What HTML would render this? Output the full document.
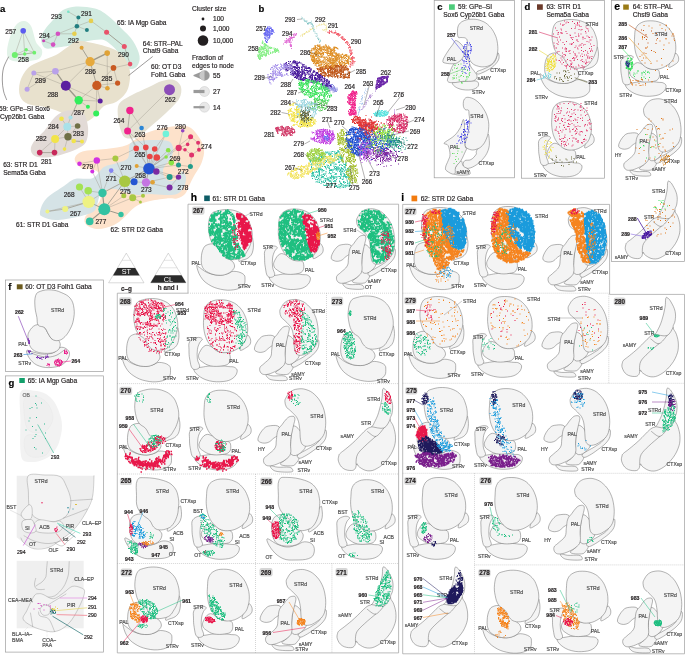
<!DOCTYPE html>
<html><head><meta charset="utf-8"><style>
html,body{margin:0;padding:0;background:#fff;}
svg{display:block;}
svg{will-change:transform;}
text{paint-order:stroke;stroke-width:0.18px;stroke-linejoin:round;}
text{font-family:"Liberation Sans",sans-serif;}
</style></head><body>
<svg width="685" height="656" viewBox="0 0 685 656" font-family="Liberation Sans, sans-serif">
<rect width="685" height="656" fill="#fff"/>
<text x="0" y="11.5" font-size="9.5" fill="#000" stroke="#000" font-weight="bold">a</text>
<path d="M16 25C18.3 22.3 21.5 20.8 24 21C26.5 21.2 29 22.5 31 26C33 29.5 34.2 38 36 42C37.8 46 41.3 47.3 42 50C42.7 52.7 42 56.2 40 58C38 59.8 33.8 60.4 30 61C26.2 61.6 20.5 61.8 17 61.5C13.5 61.2 10.7 60.8 9 59C7.3 57.2 6.8 54.7 7 51C7.2 47.3 8.5 41.3 10 37C11.5 32.7 13.7 27.7 16 25Z" fill="#e1f2e7"/>
<path d="M41 38C41.2 34.7 43.7 31.3 46 28C48.3 24.7 52.2 21 55 18C57.8 15 59.5 11.9 63 10C66.5 8.1 70.7 6.8 76 6.5C81.3 6.2 89.8 7.1 95 8.5C100.2 9.9 102.7 11.8 107 15C111.3 18.2 116.7 23.7 121 28C125.3 32.3 129.9 36.3 133 41C136.1 45.7 138.8 51.9 139.5 56C140.2 60.1 138.8 63.3 137.5 65.5C136.2 67.7 133.9 68.8 132 69C130.1 69.2 127.8 68.7 126 67C124.2 65.3 122.5 61.7 121 59C119.5 56.3 118.8 53.5 117 51C115.2 48.5 112.5 45.9 110 44C107.5 42.1 105.7 40 102 39.5C98.3 39 92.3 40.2 88 41C83.7 41.8 81.2 43.4 76 44.5C70.8 45.6 62.2 46.9 57 47.5C51.8 48.1 47.7 49.6 45 48C42.3 46.4 40.8 41.3 41 38Z" fill="#d2ebe1"/>
<path d="M77 41C80.8 40.2 85.2 41.6 90 42.5C94.8 43.4 101.3 45 106 46.5C110.7 48 114.7 49.2 118 51.5C121.3 53.8 124 56.6 126 60C128 63.4 129.5 67.8 130 72C130.5 76.2 129.8 81.3 129 85C128.2 88.7 127.2 91.2 125 94C122.8 96.8 119.5 100 116 102C112.5 104 107.5 103.7 104 106C100.5 108.3 98.2 113.3 95 116C91.8 118.7 88.8 121.5 85 122C81.2 122.5 76.2 120.7 72 119C67.8 117.3 64.5 114 60 112C55.5 110 50.3 108.3 45 107C39.7 105.7 32.2 105.8 28 104C23.8 102.2 21.3 99.7 20 96C18.7 92.3 18.7 86.7 20 82C21.3 77.3 24.5 71.5 28 68C31.5 64.5 36.3 63.2 41 61C45.7 58.8 51.7 57.2 56 55C60.3 52.8 63.5 49.8 67 47.5C70.5 45.2 73.2 41.8 77 41Z" fill="#e8e1cd"/>
<path d="M119 104C121 100.5 125 98.8 130 96C135 93.2 143.7 89.5 149 87C154.3 84.5 157.8 82.2 162 81C166.2 79.8 170.8 79 174 80C177.2 81 180.2 83.8 181 87C181.8 90.2 181.5 94.7 179 99C176.5 103.3 170.8 108.3 166 113C161.2 117.7 154.7 123 150 127C145.3 131 142 135.2 138 137C134 138.8 128.8 139 126 138C123.2 137 122.3 134.5 121 131C119.7 127.5 118.3 121.5 118 117C117.7 112.5 117 107.5 119 104Z" fill="#e5e1d3"/>
<path d="M64 111.5C66.7 110.4 67.8 110.3 71 110.5C74.2 110.7 80.2 109.8 83 112.5C85.8 115.2 87.5 122.1 88 127C88.5 131.9 87.8 138.3 86 142C84.2 145.7 81 146.9 77 149C73 151.1 66.7 153.1 62 154.5C57.3 155.9 53.3 157 49 157.3C44.7 157.7 39 157.7 36 156.6C33 155.5 31.5 153.3 31 151C30.5 148.7 30.7 146.5 33 143C35.3 139.5 41.3 134.3 45 130C48.7 125.7 51.8 120.1 55 117C58.2 113.9 61.3 112.6 64 111.5Z" fill="#e2dad6"/>
<path d="M74.7 159.4C74.7 156.6 77.3 153.2 82.5 151.5C87.7 149.8 98.6 150.1 106 149C113.4 147.9 121.3 147.2 127 145C132.7 142.8 135.6 138.4 140 136C144.4 133.6 148.2 132.1 153.5 130.5C158.8 128.9 166.2 127.2 172 126.6C177.8 125.9 183.7 125.1 188 126.6C192.3 128.1 195.3 132.1 198 135.8C200.7 139.5 203.4 144.5 204 149C204.6 153.5 203.2 158.5 201.5 163C199.8 167.5 196.1 172.2 194 176C191.9 179.8 190.5 183 189 186C187.5 189 187 191.9 185 194C183 196.1 180.1 197.8 177 198.5C173.9 199.2 171.4 198 166.6 198.5C161.8 199 153.3 200.1 148 201.5C142.7 202.9 138.9 204.4 135 207C131.1 209.6 128.1 214 124.6 217C121.1 220 118.4 223 114 225C109.6 227 102.9 229 98.3 229C93.7 229 88.7 227 86.5 225C84.3 223 83.7 220.1 85.2 217C86.7 213.9 93.1 210.2 95.7 206.7C98.3 203.2 100.5 201.7 100.9 196C101.3 190.3 101.4 177.1 98.3 172.5C95.2 167.9 86.4 170.8 82.5 168.6C78.6 166.4 74.7 162.2 74.7 159.4Z" fill="#fde2cb"/>
<path d="M40 212C40.5 209 42 203.3 46 199C50 194.7 59.2 189.3 64 186C68.8 182.7 70.2 180.3 75 179C79.8 177.7 88.2 180 93 178C97.8 176 100 169.5 104 167C108 164.5 113 164.5 117 163C121 161.5 125.8 161.2 128 158C130.2 154.8 128 146.8 130 144C132 141.2 136 141.7 140 141C144 140.3 149.3 140 154 140C158.7 140 164.8 139.8 168 141C171.2 142.2 172.3 144.5 173 147C173.7 149.5 173 153.3 172 156C171 158.7 168.5 160.7 167 163C165.5 165.3 163.3 167.5 163 170C162.7 172.5 163.5 176.2 165 178C166.5 179.8 169.7 181.2 172 181C174.3 180.8 177.3 178.7 179 177C180.7 175.3 180.8 171 182 171C183.2 171 185.7 174.3 186 177C186.3 179.7 185.5 184.2 184 187C182.5 189.8 180.2 192.7 177 194C173.8 195.3 169.5 195 165 195C160.5 195 154.5 194 150 194C145.5 194 141.7 195.2 138 195C134.3 194.8 131.2 193.8 128 193C124.8 192.2 122 190.7 119 190C116 189.3 113 188.5 110 189C107 189.5 103.2 190.3 101 193C98.8 195.7 98.3 201.8 97 205C95.7 208.2 96.3 210 93 212C89.7 214 83.2 215.7 77 217C70.8 218.3 61.7 220 56 220C50.3 220 45.7 218.3 43 217C40.3 215.7 39.5 215 40 212Z" fill="#d5e3e6"/>
<line x1="23.2" y1="30.7" x2="14.8" y2="55" stroke="#9c988b" stroke-width="0.42"/>
<line x1="23.2" y1="30.7" x2="24.7" y2="54" stroke="#9c988b" stroke-width="0.42"/>
<line x1="23.2" y1="30.7" x2="34.3" y2="52.7" stroke="#9c988b" stroke-width="0.42"/>
<line x1="14.8" y1="55" x2="26.2" y2="49.7" stroke="#9c988b" stroke-width="0.42"/>
<line x1="14.8" y1="55" x2="24.7" y2="54" stroke="#9c988b" stroke-width="0.42"/>
<line x1="14.8" y1="55" x2="34.3" y2="52.7" stroke="#9c988b" stroke-width="0.42"/>
<line x1="26.2" y1="49.7" x2="34.3" y2="52.7" stroke="#9c988b" stroke-width="0.42"/>
<line x1="24.7" y1="54" x2="34.3" y2="52.7" stroke="#9c988b" stroke-width="0.42"/>
<line x1="68.3" y1="11.8" x2="78.4" y2="17.6" stroke="#9c988b" stroke-width="0.42"/>
<line x1="78.4" y1="17.6" x2="76.9" y2="26.2" stroke="#9c988b" stroke-width="0.42"/>
<line x1="76.9" y1="26.2" x2="74.4" y2="33.8" stroke="#9c988b" stroke-width="0.42"/>
<line x1="76.9" y1="26.2" x2="86.9" y2="30" stroke="#9c988b" stroke-width="0.42"/>
<line x1="76.9" y1="26.2" x2="91" y2="20.9" stroke="#9c988b" stroke-width="0.42"/>
<line x1="91" y1="20.9" x2="106.6" y2="32.3" stroke="#9c988b" stroke-width="0.42"/>
<line x1="106.6" y1="32.3" x2="124.3" y2="46.5" stroke="#9c988b" stroke-width="0.9"/>
<line x1="124.3" y1="46.5" x2="130.1" y2="64.1" stroke="#9c988b" stroke-width="0.6"/>
<line x1="74.4" y1="33.8" x2="57.9" y2="33.8" stroke="#9c988b" stroke-width="0.42"/>
<line x1="57.9" y1="33.8" x2="53.1" y2="44.6" stroke="#9c988b" stroke-width="0.42"/>
<line x1="57.9" y1="33.8" x2="43.6" y2="40.8" stroke="#9c988b" stroke-width="0.42"/>
<line x1="43.6" y1="40.8" x2="53.1" y2="44.6" stroke="#9c988b" stroke-width="0.42"/>
<line x1="76.9" y1="26.2" x2="57.9" y2="33.8" stroke="#9c988b" stroke-width="0.42"/>
<line x1="81.6" y1="47.8" x2="90.1" y2="61.7" stroke="#9c988b" stroke-width="0.9"/>
<line x1="107.2" y1="53.1" x2="90.1" y2="61.7" stroke="#9c988b" stroke-width="1.4"/>
<line x1="90.1" y1="61.7" x2="113.5" y2="67.9" stroke="#9c988b" stroke-width="0.42"/>
<line x1="90.1" y1="61.7" x2="96.8" y2="85.4" stroke="#9c988b" stroke-width="0.8"/>
<line x1="90.1" y1="61.7" x2="55.4" y2="71.2" stroke="#9c988b" stroke-width="0.42"/>
<line x1="90.1" y1="61.7" x2="65.8" y2="85.8" stroke="#9c988b" stroke-width="0.42"/>
<line x1="113.5" y1="67.9" x2="117.6" y2="83.1" stroke="#9c988b" stroke-width="0.42"/>
<line x1="113.5" y1="67.9" x2="96.8" y2="85.4" stroke="#9c988b" stroke-width="0.42"/>
<line x1="96.8" y1="85.4" x2="117.6" y2="83.1" stroke="#9c988b" stroke-width="0.42"/>
<line x1="96.8" y1="85.4" x2="107.4" y2="88.2" stroke="#9c988b" stroke-width="0.42"/>
<line x1="96.8" y1="85.4" x2="78.7" y2="100.2" stroke="#9c988b" stroke-width="0.42"/>
<line x1="96.8" y1="85.4" x2="100.2" y2="101.1" stroke="#9c988b" stroke-width="0.42"/>
<line x1="96.8" y1="85.4" x2="96.2" y2="113.5" stroke="#9c988b" stroke-width="0.42"/>
<line x1="107.2" y1="53.1" x2="107.4" y2="88.2" stroke="#9c988b" stroke-width="0.42"/>
<line x1="113.5" y1="67.9" x2="130.1" y2="64.1" stroke="#9c988b" stroke-width="0.42"/>
<line x1="65.8" y1="85.8" x2="55.4" y2="71.2" stroke="#9c988b" stroke-width="1.2"/>
<line x1="65.8" y1="85.8" x2="33.8" y2="73" stroke="#9c988b" stroke-width="0.42"/>
<line x1="65.8" y1="85.8" x2="78.7" y2="100.2" stroke="#9c988b" stroke-width="1.3"/>
<line x1="55.4" y1="71.2" x2="33.8" y2="73" stroke="#9c988b" stroke-width="0.42"/>
<line x1="33.8" y1="73" x2="27.1" y2="89.2" stroke="#9c988b" stroke-width="0.42"/>
<line x1="27.1" y1="89.2" x2="55.4" y2="71.2" stroke="#9c988b" stroke-width="0.42"/>
<line x1="78.7" y1="100.2" x2="87.9" y2="106.8" stroke="#9c988b" stroke-width="0.42"/>
<line x1="78.7" y1="100.2" x2="100.2" y2="101.1" stroke="#9c988b" stroke-width="0.42"/>
<line x1="65.8" y1="85.8" x2="100.2" y2="101.1" stroke="#9c988b" stroke-width="0.42"/>
<line x1="78.7" y1="100.2" x2="70.5" y2="117.5" stroke="#9c988b" stroke-width="0.8"/>
<line x1="70.5" y1="117.5" x2="67.3" y2="126.7" stroke="#9c988b" stroke-width="0.42"/>
<line x1="67.3" y1="126.7" x2="77.6" y2="126" stroke="#9c988b" stroke-width="0.42"/>
<line x1="67.3" y1="126.7" x2="55.1" y2="138.9" stroke="#9c988b" stroke-width="0.42"/>
<line x1="67.3" y1="126.7" x2="68" y2="136.8" stroke="#9c988b" stroke-width="0.42"/>
<line x1="68" y1="136.8" x2="55.1" y2="138.9" stroke="#9c988b" stroke-width="0.42"/>
<line x1="68" y1="136.8" x2="73.7" y2="141" stroke="#9c988b" stroke-width="0.42"/>
<line x1="73.7" y1="141" x2="82" y2="141.5" stroke="#9c988b" stroke-width="0.8"/>
<line x1="55.1" y1="138.9" x2="39.7" y2="152.6" stroke="#9c988b" stroke-width="0.42"/>
<line x1="55.1" y1="138.9" x2="54.5" y2="152.6" stroke="#9c988b" stroke-width="0.42"/>
<line x1="39.7" y1="152.6" x2="54.5" y2="152.6" stroke="#9c988b" stroke-width="0.8"/>
<line x1="68" y1="136.8" x2="64.5" y2="149.1" stroke="#9c988b" stroke-width="0.42"/>
<line x1="77.6" y1="126" x2="68" y2="136.8" stroke="#9c988b" stroke-width="0.42"/>
<line x1="61.5" y1="118.8" x2="67.3" y2="126.7" stroke="#9c988b" stroke-width="0.42"/>
<line x1="169.5" y1="89.7" x2="127.6" y2="131" stroke="#9c988b" stroke-width="0.42"/>
<line x1="129.9" y1="110.5" x2="127.6" y2="131" stroke="#9c988b" stroke-width="0.7"/>
<line x1="129.9" y1="110.5" x2="141.6" y2="128" stroke="#9c988b" stroke-width="0.42"/>
<line x1="127.6" y1="131" x2="136.2" y2="148.4" stroke="#9c988b" stroke-width="0.42"/>
<line x1="127.6" y1="131" x2="145.8" y2="147.4" stroke="#9c988b" stroke-width="0.42"/>
<line x1="127.6" y1="131" x2="149" y2="168.7" stroke="#9c988b" stroke-width="0.42"/>
<line x1="141.6" y1="128" x2="149" y2="168.7" stroke="#9c988b" stroke-width="0.42"/>
<line x1="165.9" y1="133.9" x2="154.7" y2="149" stroke="#9c988b" stroke-width="0.42"/>
<line x1="165.9" y1="133.9" x2="149" y2="168.7" stroke="#9c988b" stroke-width="0.42"/>
<line x1="182.7" y1="130.8" x2="178.7" y2="147.9" stroke="#9c988b" stroke-width="0.42"/>
<line x1="190.6" y1="136.7" x2="187.6" y2="144.4" stroke="#9c988b" stroke-width="0.42"/>
<line x1="190.6" y1="136.7" x2="198.1" y2="142.8" stroke="#9c988b" stroke-width="0.42"/>
<line x1="187.6" y1="144.4" x2="178.7" y2="147.9" stroke="#9c988b" stroke-width="0.42"/>
<line x1="198.1" y1="142.8" x2="199" y2="149.8" stroke="#9c988b" stroke-width="0.42"/>
<line x1="178.7" y1="147.9" x2="185" y2="149.8" stroke="#9c988b" stroke-width="0.42"/>
<line x1="185" y1="149.8" x2="191.6" y2="154.9" stroke="#9c988b" stroke-width="0.42"/>
<line x1="199" y1="149.8" x2="191.6" y2="154.9" stroke="#9c988b" stroke-width="0.42"/>
<line x1="178.7" y1="147.9" x2="149" y2="168.7" stroke="#9c988b" stroke-width="0.42"/>
<line x1="178.7" y1="147.9" x2="178.5" y2="165" stroke="#9c988b" stroke-width="0.42"/>
<line x1="178.5" y1="165" x2="190.4" y2="166.6" stroke="#9c988b" stroke-width="0.42"/>
<line x1="190.4" y1="166.6" x2="191.6" y2="154.9" stroke="#9c988b" stroke-width="0.42"/>
<line x1="149" y1="168.7" x2="136.2" y2="148.4" stroke="#9c988b" stroke-width="0.42"/>
<line x1="149" y1="168.7" x2="145.8" y2="147.4" stroke="#9c988b" stroke-width="0.42"/>
<line x1="149" y1="168.7" x2="154.7" y2="149" stroke="#9c988b" stroke-width="0.42"/>
<line x1="149" y1="168.7" x2="149.8" y2="156.5" stroke="#9c988b" stroke-width="0.42"/>
<line x1="149" y1="168.7" x2="156.8" y2="157.5" stroke="#9c988b" stroke-width="0.42"/>
<line x1="149" y1="168.7" x2="168.2" y2="150.2" stroke="#9c988b" stroke-width="0.42"/>
<line x1="149" y1="168.7" x2="166.1" y2="157" stroke="#9c988b" stroke-width="0.42"/>
<line x1="149" y1="168.7" x2="171.3" y2="162.6" stroke="#9c988b" stroke-width="0.42"/>
<line x1="149" y1="168.7" x2="178.5" y2="165" stroke="#9c988b" stroke-width="0.42"/>
<line x1="149" y1="168.7" x2="169.6" y2="177.1" stroke="#9c988b" stroke-width="0.42"/>
<line x1="149" y1="168.7" x2="178.5" y2="177.1" stroke="#9c988b" stroke-width="0.42"/>
<line x1="149" y1="168.7" x2="156.3" y2="171.5" stroke="#9c988b" stroke-width="0.8"/>
<line x1="149" y1="168.7" x2="136.7" y2="166.1" stroke="#9c988b" stroke-width="0.42"/>
<line x1="149" y1="168.7" x2="124.8" y2="181.3" stroke="#9c988b" stroke-width="0.8"/>
<line x1="149" y1="168.7" x2="146" y2="182.5" stroke="#9c988b" stroke-width="0.8"/>
<line x1="149" y1="168.7" x2="134.1" y2="181.8" stroke="#9c988b" stroke-width="0.42"/>
<line x1="124.8" y1="181.3" x2="115.4" y2="158.4" stroke="#9c988b" stroke-width="0.42"/>
<line x1="124.8" y1="181.3" x2="111.2" y2="170.6" stroke="#9c988b" stroke-width="0.42"/>
<line x1="124.8" y1="181.3" x2="134.1" y2="181.8" stroke="#9c988b" stroke-width="1.0"/>
<line x1="124.8" y1="181.3" x2="123.8" y2="195.8" stroke="#9c988b" stroke-width="0.42"/>
<line x1="124.8" y1="181.3" x2="132.7" y2="197.7" stroke="#9c988b" stroke-width="0.42"/>
<line x1="124.8" y1="181.3" x2="102.5" y2="193" stroke="#9c988b" stroke-width="0.8"/>
<line x1="124.8" y1="181.3" x2="104.3" y2="209.2" stroke="#9c988b" stroke-width="0.8"/>
<line x1="124.8" y1="181.3" x2="146" y2="182.5" stroke="#9c988b" stroke-width="0.42"/>
<line x1="146" y1="182.5" x2="152.6" y2="182.2" stroke="#9c988b" stroke-width="0.42"/>
<line x1="146" y1="182.5" x2="169.6" y2="187.6" stroke="#9c988b" stroke-width="0.42"/>
<line x1="146" y1="182.5" x2="169.6" y2="177.1" stroke="#9c988b" stroke-width="0.42"/>
<line x1="169.6" y1="187.6" x2="178.5" y2="177.1" stroke="#9c988b" stroke-width="0.42"/>
<line x1="169.6" y1="177.1" x2="178.5" y2="177.1" stroke="#9c988b" stroke-width="0.42"/>
<line x1="132.7" y1="197.7" x2="143" y2="195.8" stroke="#9c988b" stroke-width="0.42"/>
<line x1="132.7" y1="197.7" x2="140.4" y2="201.9" stroke="#9c988b" stroke-width="0.42"/>
<line x1="104.3" y1="209.2" x2="102.5" y2="193" stroke="#9c988b" stroke-width="1.2"/>
<line x1="104.3" y1="209.2" x2="121" y2="214.5" stroke="#9c988b" stroke-width="1.0"/>
<line x1="104.3" y1="209.2" x2="89.7" y2="221.4" stroke="#9c988b" stroke-width="1.2"/>
<line x1="104.3" y1="209.2" x2="88.7" y2="201.9" stroke="#9c988b" stroke-width="0.9"/>
<line x1="102.5" y1="193" x2="88.7" y2="201.9" stroke="#9c988b" stroke-width="0.42"/>
<line x1="102.5" y1="193" x2="88.2" y2="190.8" stroke="#9c988b" stroke-width="0.42"/>
<line x1="88.7" y1="201.9" x2="79.5" y2="187" stroke="#9c988b" stroke-width="0.42"/>
<line x1="88.7" y1="201.9" x2="88.2" y2="190.8" stroke="#9c988b" stroke-width="0.42"/>
<line x1="88.7" y1="201.9" x2="65.2" y2="209" stroke="#9c988b" stroke-width="0.8"/>
<line x1="65.2" y1="209" x2="47.4" y2="211.5" stroke="#9c988b" stroke-width="0.6"/>
<line x1="88.7" y1="201.9" x2="47.4" y2="211.5" stroke="#9c988b" stroke-width="0.42"/>
<line x1="79.5" y1="163.7" x2="96.8" y2="160.5" stroke="#9c988b" stroke-width="0.42"/>
<line x1="96.8" y1="160.5" x2="92.3" y2="171.6" stroke="#9c988b" stroke-width="0.42"/>
<line x1="96.8" y1="160.5" x2="102.5" y2="193" stroke="#9c988b" stroke-width="0.42"/>
<line x1="92.3" y1="171.6" x2="102.5" y2="193" stroke="#9c988b" stroke-width="0.42"/>
<line x1="96.8" y1="160.5" x2="115.4" y2="158.4" stroke="#9c988b" stroke-width="0.42"/>
<line x1="115.4" y1="158.4" x2="136.2" y2="148.4" stroke="#9c988b" stroke-width="0.42"/>
<line x1="102.5" y1="193" x2="111.2" y2="170.6" stroke="#9c988b" stroke-width="0.42"/>
<line x1="104.3" y1="209.2" x2="132.7" y2="197.7" stroke="#9c988b" stroke-width="0.42"/>
<line x1="104.3" y1="209.2" x2="123.8" y2="195.8" stroke="#9c988b" stroke-width="0.42"/>
<line x1="149" y1="168.7" x2="190.6" y2="136.7" stroke="#9c988b" stroke-width="0.42"/>
<circle cx="23.2" cy="30.7" r="2.8" fill="#5b5bf0"/>
<circle cx="14.8" cy="55" r="3" fill="#6ff06f"/>
<circle cx="26.2" cy="49.7" r="1.7" fill="#6ff06f"/>
<circle cx="24.7" cy="54" r="1.7" fill="#6ff06f"/>
<circle cx="34.3" cy="52.7" r="1.9" fill="#6ff06f"/>
<circle cx="68.3" cy="11.8" r="1.3" fill="#78e3c8"/>
<circle cx="78.4" cy="17.6" r="2" fill="#217e80"/>
<circle cx="76.9" cy="26.2" r="2.3" fill="#217e80"/>
<circle cx="86.9" cy="30" r="2" fill="#217e80"/>
<circle cx="91" cy="20.9" r="2.3" fill="#e6cf4f"/>
<circle cx="74.4" cy="33.8" r="2.3" fill="#e6cf4f"/>
<circle cx="57.9" cy="33.8" r="2.3" fill="#d452c2"/>
<circle cx="53.1" cy="44.6" r="2.3" fill="#d452c2"/>
<circle cx="43.6" cy="40.8" r="1.5" fill="#c943b5"/>
<circle cx="106.6" cy="32.3" r="2.5" fill="#e8536a"/>
<circle cx="124.3" cy="46.5" r="2.5" fill="#e8536a"/>
<circle cx="130.1" cy="64.1" r="2.3" fill="#e8536a"/>
<circle cx="81.6" cy="47.8" r="2" fill="#e0a235"/>
<circle cx="107.2" cy="53.1" r="2.8" fill="#e0a235"/>
<circle cx="90.1" cy="61.7" r="4.6" fill="#e6a93c"/>
<circle cx="113.5" cy="67.9" r="2.8" fill="#c95a22"/>
<circle cx="117.6" cy="83.1" r="2.6" fill="#c95a22"/>
<circle cx="96.8" cy="85.4" r="4.6" fill="#c95a22"/>
<circle cx="107.4" cy="88.2" r="2.3" fill="#e0a235"/>
<circle cx="100.2" cy="101.1" r="2.5" fill="#5b1fa0"/>
<circle cx="78.7" cy="100.2" r="4.2" fill="#33ee5a"/>
<circle cx="87.9" cy="106.8" r="2" fill="#33ee5a"/>
<circle cx="96.2" cy="113.5" r="3" fill="#33ee5a"/>
<circle cx="55.4" cy="71.2" r="3.3" fill="#b9a1e9"/>
<circle cx="33.8" cy="73" r="2.5" fill="#b9a1e9"/>
<circle cx="27.1" cy="89.2" r="2.5" fill="#b9a1e9"/>
<circle cx="65.8" cy="85.8" r="5" fill="#5b1fa0"/>
<circle cx="61.5" cy="118.8" r="2.3" fill="#f2e44a"/>
<circle cx="70.5" cy="117.5" r="2.1" fill="#a9e1e9"/>
<circle cx="67.3" cy="126.7" r="4" fill="#a9e1e9"/>
<circle cx="77.6" cy="126" r="2.8" fill="#6f6f45"/>
<circle cx="68" cy="136.8" r="3.7" fill="#6f6f45"/>
<circle cx="55.1" cy="138.9" r="4" fill="#f2e44a"/>
<circle cx="73.7" cy="141" r="2.3" fill="#f2e44a"/>
<circle cx="82" cy="141.5" r="2" fill="#f2e44a"/>
<circle cx="64.5" cy="149.1" r="1.8" fill="#f2e44a"/>
<circle cx="39.7" cy="152.6" r="2.8" fill="#c8295b"/>
<circle cx="54.5" cy="152.6" r="2.8" fill="#c8295b"/>
<circle cx="169.5" cy="89.7" r="5.5" fill="#8c4db8"/>
<circle cx="129.9" cy="110.5" r="3.7" fill="#f0238c"/>
<circle cx="127.6" cy="131" r="3.5" fill="#f0238c"/>
<circle cx="141.6" cy="128" r="2.3" fill="#2a86d6"/>
<circle cx="165.9" cy="133.9" r="3.3" fill="#72f2da"/>
<circle cx="182.7" cy="130.8" r="1.8" fill="#9244c2"/>
<circle cx="190.6" cy="136.7" r="2.5" fill="#e0326c"/>
<circle cx="187.6" cy="144.4" r="1.8" fill="#e0326c"/>
<circle cx="198.1" cy="142.8" r="2" fill="#e0326c"/>
<circle cx="178.7" cy="147.9" r="3.1" fill="#e0326c"/>
<circle cx="185" cy="149.8" r="1.8" fill="#e0326c"/>
<circle cx="199" cy="149.8" r="2" fill="#e0326c"/>
<circle cx="191.6" cy="154.9" r="2.5" fill="#e0326c"/>
<circle cx="178.5" cy="165" r="2.5" fill="#239c8a"/>
<circle cx="190.4" cy="166.6" r="2.5" fill="#239c8a"/>
<circle cx="169.6" cy="177.1" r="3" fill="#239c8a"/>
<circle cx="178.5" cy="177.1" r="2.7" fill="#7b2ca2"/>
<circle cx="169.6" cy="187.6" r="3" fill="#7b2ca2"/>
<circle cx="136.2" cy="148.4" r="2.8" fill="#e84545"/>
<circle cx="145.8" cy="147.4" r="2.8" fill="#e84545"/>
<circle cx="154.7" cy="149" r="2.8" fill="#e84545"/>
<circle cx="149.8" cy="156.5" r="2.8" fill="#e84545"/>
<circle cx="156.8" cy="157.5" r="3.3" fill="#e84545"/>
<circle cx="168.2" cy="150.2" r="2.3" fill="#8ae244"/>
<circle cx="166.1" cy="157" r="1.8" fill="#8ae244"/>
<circle cx="171.3" cy="162.6" r="2.8" fill="#8ae244"/>
<circle cx="149" cy="168.7" r="5.8" fill="#2455d2"/>
<circle cx="156.3" cy="171.5" r="3.2" fill="#7b2ca2"/>
<circle cx="136.7" cy="166.1" r="2" fill="#e0a235"/>
<circle cx="115.4" cy="158.4" r="3" fill="#a8c842"/>
<circle cx="111.2" cy="170.6" r="2.3" fill="#8585f2"/>
<circle cx="124.8" cy="181.3" r="5.8" fill="#a8c842"/>
<circle cx="134.1" cy="181.8" r="3.5" fill="#2455d2"/>
<circle cx="146" cy="182.5" r="4.2" fill="#c474e2"/>
<circle cx="152.6" cy="182.2" r="2.3" fill="#e0a235"/>
<circle cx="123.8" cy="195.8" r="2.5" fill="#a8c842"/>
<circle cx="132.7" cy="197.7" r="3.5" fill="#a8c842"/>
<circle cx="143" cy="195.8" r="2" fill="#a8c842"/>
<circle cx="140.4" cy="201.9" r="1.5" fill="#a8c842"/>
<circle cx="102.5" cy="193" r="4.2" fill="#34c2a2"/>
<circle cx="104.3" cy="209.2" r="6" fill="#34c2a2"/>
<circle cx="121" cy="214.5" r="2.7" fill="#34c2a2"/>
<circle cx="89.7" cy="221.4" r="3.8" fill="#34c2a2"/>
<circle cx="79.5" cy="163.7" r="2.3" fill="#d232e2"/>
<circle cx="96.8" cy="160.5" r="3.2" fill="#d232e2"/>
<circle cx="92.3" cy="171.6" r="2" fill="#d232e2"/>
<circle cx="79.5" cy="187" r="3.6" fill="#a3e253"/>
<circle cx="88.2" cy="190.8" r="3.8" fill="#a3e253"/>
<circle cx="88.7" cy="201.9" r="6.2" fill="#eef283"/>
<circle cx="65.2" cy="209" r="3" fill="#eef283"/>
<circle cx="47.4" cy="211.5" r="2" fill="#eef283"/>
<text x="51" y="19" font-size="6.5" fill="#231f20" stroke="#231f20">293</text>
<text x="81" y="16" font-size="6.5" fill="#231f20" stroke="#231f20">291</text>
<text x="39" y="38" font-size="6.5" fill="#231f20" stroke="#231f20">294</text>
<text x="68" y="43" font-size="6.5" fill="#231f20" stroke="#231f20">292</text>
<text x="118" y="56.5" font-size="6.5" fill="#231f20" stroke="#231f20">290</text>
<text x="5.3" y="34.2" font-size="6.5" fill="#231f20" stroke="#231f20">257</text>
<text x="18" y="62.2" font-size="6.5" fill="#231f20" stroke="#231f20">258</text>
<text x="85" y="73.8" font-size="6.5" fill="#231f20" stroke="#231f20">286</text>
<text x="101.5" y="81" font-size="6.5" fill="#231f20" stroke="#231f20">285</text>
<text x="35" y="83.3" font-size="6.5" fill="#231f20" stroke="#231f20">289</text>
<text x="47.4" y="97" font-size="6.5" fill="#231f20" stroke="#231f20">288</text>
<text x="73.7" y="115.3" font-size="6.5" fill="#231f20" stroke="#231f20">287</text>
<text x="48" y="129.3" font-size="6.5" fill="#231f20" stroke="#231f20">284</text>
<text x="73" y="136.3" font-size="6.5" fill="#231f20" stroke="#231f20">283</text>
<text x="35.7" y="141.2" font-size="6.5" fill="#231f20" stroke="#231f20">282</text>
<text x="41" y="163.6" font-size="6.5" fill="#231f20" stroke="#231f20">281</text>
<text x="164.7" y="101.6" font-size="6.5" fill="#231f20" stroke="#231f20">262</text>
<text x="113.5" y="123.3" font-size="6.5" fill="#231f20" stroke="#231f20">264</text>
<text x="134.6" y="136.9" font-size="6.5" fill="#231f20" stroke="#231f20">263</text>
<text x="156.8" y="130.4" font-size="6.5" fill="#231f20" stroke="#231f20">276</text>
<text x="175" y="129.2" font-size="6.5" fill="#231f20" stroke="#231f20">280</text>
<text x="201" y="149.4" font-size="6.5" fill="#231f20" stroke="#231f20">274</text>
<text x="134.6" y="157.2" font-size="6.5" fill="#231f20" stroke="#231f20">265</text>
<text x="169.6" y="161.2" font-size="6.5" fill="#231f20" stroke="#231f20">269</text>
<text x="120.6" y="169.5" font-size="6.5" fill="#231f20" stroke="#231f20">270</text>
<text x="177.8" y="173.5" font-size="6.5" fill="#231f20" stroke="#231f20">272</text>
<text x="135" y="178.2" font-size="6.5" fill="#231f20" stroke="#231f20">268</text>
<text x="105.8" y="181.2" font-size="6.5" fill="#231f20" stroke="#231f20">271</text>
<text x="177.6" y="189.9" font-size="6.5" fill="#231f20" stroke="#231f20">278</text>
<text x="140.9" y="192.2" font-size="6.5" fill="#231f20" stroke="#231f20">273</text>
<text x="119.9" y="193.5" font-size="6.5" fill="#231f20" stroke="#231f20">275</text>
<text x="63.7" y="196.7" font-size="6.5" fill="#231f20" stroke="#231f20">268</text>
<text x="70" y="215.7" font-size="6.5" fill="#231f20" stroke="#231f20">267</text>
<text x="95.5" y="223.9" font-size="6.5" fill="#231f20" stroke="#231f20">277</text>
<text x="82.3" y="169.3" font-size="6.5" fill="#231f20" stroke="#231f20">279</text>
<text x="117" y="25.2" font-size="6.6" fill="#231f20" stroke="#231f20">65: IA Mgp Gaba</text>
<text x="142.8" y="45.8" font-size="6.6" fill="#231f20" stroke="#231f20">64: STR–PAL</text>
<text x="142.8" y="53.4" font-size="6.6" fill="#231f20" stroke="#231f20">Chat9 Gaba</text>
<text x="151" y="69.4" font-size="6.6" fill="#231f20" stroke="#231f20">60: OT D3</text>
<text x="151" y="77.2" font-size="6.6" fill="#231f20" stroke="#231f20">Folh1 Gaba</text>
<text x="-1" y="110.6" font-size="6.6" fill="#231f20" stroke="#231f20">59: GPe–SI Sox6</text>
<text x="0" y="118.5" font-size="6.6" fill="#231f20" stroke="#231f20">Cyp26b1 Gaba</text>
<text x="3.2" y="167.2" font-size="6.6" fill="#231f20" stroke="#231f20">63: STR D1</text>
<text x="3.2" y="175.1" font-size="6.6" fill="#231f20" stroke="#231f20">Sema5a Gaba</text>
<text x="16" y="227.1" font-size="6.6" fill="#231f20" stroke="#231f20">61: STR D1 Gaba</text>
<text x="110.5" y="232" font-size="6.6" fill="#231f20" stroke="#231f20">62: STR D2 Gaba</text>
<line x1="152.7" y1="56.5" x2="128.6" y2="75.5" stroke="#231f20" stroke-width="0.45"/>
<path d="M8.5 57C7.7 58.8 4.5 64.2 3.5 68C2.5 71.8 2.3 76.2 2.3 80C2.3 83.8 2.8 87.7 3.5 91C4.2 94.3 6.1 98.2 6.6 99.6" fill="none" stroke="#231f20" stroke-width="0.45" stroke-linecap="round" stroke-linejoin="round"/>
<text x="192" y="11.2" font-size="6.6" fill="#231f20" stroke="#231f20">Cluster size</text>
<circle cx="203" cy="19" r="1.4" fill="#231f20"/>
<circle cx="203" cy="28.4" r="3" fill="#231f20"/>
<circle cx="203" cy="40.5" r="5.3" fill="#231f20"/>
<text x="213" y="21.2" font-size="6.6" fill="#231f20" stroke="#231f20">100</text>
<text x="213" y="30.8" font-size="6.6" fill="#231f20" stroke="#231f20">1,000</text>
<text x="213" y="42.8" font-size="6.6" fill="#231f20" stroke="#231f20">10,000</text>
<text x="192" y="59.8" font-size="6.6" fill="#231f20" stroke="#231f20">Fraction of</text>
<text x="192" y="67.8" font-size="6.6" fill="#231f20" stroke="#231f20">edges to node</text>
<circle cx="204.5" cy="75.5" r="5" fill="#e8e8e8" stroke="#bdbdbd" stroke-width="0.4"/>
<path d="M193.5 74.9 L204.5 70.5 A5 5 0 0 1 204.5 80.5 L193.5 76.1 Z" fill="#9a9a9a"/>
<path d="M204.5 70.5 A5 5 0 0 0 204.5 80.5 Z" fill="#c8c8c8"/>
<text x="213" y="77.8" font-size="6.6" fill="#231f20" stroke="#231f20">55</text>
<circle cx="204.5" cy="91.5" r="5" fill="#e8e8e8" stroke="#bdbdbd" stroke-width="0.4"/>
<rect x="193.5" y="89.9" width="11" height="3.2" fill="#9a9a9a"/>
<text x="213" y="93.8" font-size="6.6" fill="#231f20" stroke="#231f20">27</text>
<circle cx="204.5" cy="107.2" r="5" fill="#e8e8e8" stroke="#bdbdbd" stroke-width="0.4"/>
<rect x="193.5" y="106.1" width="11" height="2.2" fill="#9a9a9a"/>
<text x="213" y="109.5" font-size="6.6" fill="#231f20" stroke="#231f20">14</text>
<text x="258.5" y="11.6" font-size="9.5" fill="#000" stroke="#000" font-weight="bold">b</text>
<path transform="scale(.5)" d="M537 53h2m-5 1h2m3 0h2m-7 1h2m5 0h2m-8 1h2m0 0h2m-6 1h2m-1 0h2m1 0h2m-1 0h2m0 0h2m-1 0h2m-12 1h2m-1 0h2m2 0h2m0 0h2m2 0h2m-13 1h2m5 0h2m2 0h2m0 0h2m-16 1h2m-1 0h2m-1 0h2m-1 0h2m-1 0h2m2 0h2m5 0h2m-18 1h2m-1 0h2m0 0h2m-1 0h2m-1 0h2m1 0h2m0 0h2m2 0h2m-1 0h2m-14 1h2m7 0h2m-1 0h2m-1 0h2m-1 0h2m-1 0h2m-1 0h2m-17 1h2m1 0h2m-1 0h2m0 0h2m2 0h2m0 0h2m0 0h2m-17 1h2m0 0h2m0 0h2m-1 0h2m-1 0h2m-1 0h2m-1 0h2m-11 1h2m-1 0h2m1 0h2m2 0h2m-1 0h2m1 0h2m4 0h2m-20 1h2m2 0h2m0 0h2m2 0h2m2 0h2m-18 1h2m-1 0h2m0 0h2m1 0h2m0 0h2m2 0h2m0 0h2m-1 0h2m0 0h2m-19 1h2m-1 0h2m-1 0h2m-1 0h2m-1 0h2m0 0h2m0 0h2m1 0h2m-1 0h2m1 0h2m-14 1h2m-1 0h2m-1 0h2m1 0h2m0 0h2m4 0h2m-17 1h2m0 0h2m-1 0h2m-1 0h2m0 0h2m-1 0h2m-1 0h2m0 0h2m-1 0h2m-1 0h2m-13 1h2m3 0h2m1 0h2m-1 0h2m-9 1h2m-1 0h2m0 0h2m-1 0h2m1 1h2m-11 1h2m7 0h2m-1 0h2m-12 1h2m4 0h2m0 0h2m-11 1h2m3 0h2m2 0h2m-1 0h2m-10 1h2m1 1h2m1 0h2m-7 1h2m1 1h2m-6 1h2m2 0h2m-5 2h2m-1 0h2m-1 1h2m-3 1h2m-1 0h2" stroke="#6b6bf2" stroke-width="2" fill="none"/>
<path transform="scale(.5)" d="M524 82h2m-2 2h2m-1 0h2m-4 2h2m-1 0h2m-1 0h2m-3 1h2m2 0h2m-1 0h2m-3 1h2m-3 1h2m0 0h2m-1 0h2m-2 1h2m-1 0h2m-1 0h2m-5 1h2m-1 0h2m-1 0h2m-1 0h2m-14 1h2m5 0h2m-1 0h2m1 0h2m1 0h2m-1 0h2m-15 1h2m3 0h2m-1 0h2m5 0h2m-13 1h2m2 0h2m-1 0h2m-1 0h2m1 0h2m4 0h2m-23 1h2m2 0h2m-1 0h2m-1 0h2m-1 0h2m0 0h2m9 0h2m1 0h2m-1 0h2m-26 1h2m0 0h2m9 0h2m2 0h2m-1 0h2m0 0h2m-1 0h2m0 0h2m-1 0h2m-1 0h2m2 0h2m-32 1h2m4 0h2m-1 0h2m-1 0h2m-1 0h2m0 0h2m-1 0h2m-1 0h2m8 0h2m8 0h2m-35 1h2m0 0h2m0 0h2m-1 0h2m3 0h2m4 0h2m1 0h2m9 0h2m0 0h2m2 0h2m-1 0h2m-37 1h2m2 0h2m0 0h2m-1 0h2m4 0h2m14 0h2m1 0h2m0 0h2m-38 1h2m-1 0h2m0 0h2m-1 0h2m0 0h2m1 0h2m1 0h2m1 0h2m1 0h2m12 0h2m0 0h2m-1 0h2m-1 0h2m0 0h2m-28 1h2m0 0h2m-1 0h2m-1 0h2m0 0h2m11 0h2m0 0h2m0 0h2m-1 0h2m-1 0h2m-1 0h2m-1 0h2m-41 1h2m-1 0h2m16 0h2m1 0h2m7 0h2m0 0h2m0 0h2m0 0h2m-40 1h2m0 0h2m0 0h2m2 0h2m1 0h2m3 0h2m-1 0h2m-1 0h2m9 0h2m2 0h2m1 0h2m-38 1h2m0 0h2m3 0h2m-1 0h2m0 0h2m4 0h2m0 0h2m0 0h2m6 0h2m1 0h2m0 0h2m5 0h2m-1 0h2m-42 1h2m0 0h2m1 0h2m4 0h2m10 0h2m3 0h2m3 0h2m-35 1h2m-1 0h2m2 0h2m1 0h2m0 0h2m0 0h2m1 0h2m1 0h2m-1 0h2m3 0h2m1 0h2m-25 1h2m9 0h2m1 0h2m3 0h2m-22 1h2m-1 0h2m-1 0h2m4 0h2m0 0h2m0 0h2m2 0h2m-23 1h2m1 0h2m5 0h2m-1 0h2m-1 0h2m3 0h2m3 0h2m-17 1h2m-1 0h2m-1 0h2m2 0h2m0 0h2m-1 0h2m-18 1h2m-1 0h2m1 0h2m-1 0h2m-1 0h2m0 0h2m0 0h2m2 0h2m-1 0h2m0 0h2m-19 1h2m0 0h2m0 0h2m0 0h2m0 0h2m5 0h2m-1 0h2m-18 1h2m-1 0h2m1 0h2m0 0h2m1 0h2m-6 1h2m-6 1h2m-1 0h2m0 0h2m-1 0h2m-6 1h2m2 0h2m-5 1h2m-1 0h2m1 0h2m-5 1h2m-1 0h2m-1 0h2m-4 1h2" stroke="#86ee86" stroke-width="2" fill="none"/>
<path transform="scale(.5)" d="M592 67h2m-7 1h2m-1 0h2m1 0h2m-7 1h2m3 0h2m-3 1h2m-1 0h2m-6 1h2m1 0h2m-10 1h2m2 0h2m-10 1h2m-1 1h2m1 0h2m4 0h2m-10 1h2m0 0h2m0 0h2m0 0h2m-1 0h2m-7 1h2m0 0h2m-14 1h2m4 0h2m-1 0h2m0 0h2m-1 0h2m-8 1h2m-1 0h2m0 0h2m-1 0h2m-2 1h2m-9 1h2m-1 0h2m0 0h2m-1 0h2m1 0h2m2 0h2m-17 1h2m1 0h2m1 0h2m0 0h2m-7 1h2m-3 1h2m-1 0h2m-5 1h2m0 0h2m0 0h2m-1 0h2m3 0h2m-12 1h2m-1 0h2m-1 0h2m-1 1h2m-8 2h2" stroke="#e271d6" stroke-width="2" fill="none"/>
<path transform="scale(.5)" d="M577 80h2m-2 1h2m0 0h2m-4 1h2m-2 1h2m-1 0h2m-2 1h2m1 0h2m-6 1h2m-1 0h2m1 0h2m-3 3h2m-2 1h2m-3 1h2m-1 0h2m-1 0h2m-1 0h2m-4 1h2m0 0h2m-4 2h2m0 0h2m-2 4h2" stroke="#e271d6" stroke-width="2" fill="none"/>
<path transform="scale(.5)" d="M646 46h1m2 0h1m-4 1h1m-8 1h1m2 0h1m5 0h1m3 0h1m-14 1h1m3 0h1m0 0h1m2 0h1m1 0h1m-13 1h1m2 0h1m1 0h1m6 0h1m1 0h1m-15 1h1m1 0h1m11 0h1m0 0h1m-20 1h1m0 0h1m-2 1h1m18 0h1m0 1h1m-2 1h1m-28 1h1m3 0h1m2 0h1m18 0h1m1 0h1m-30 1h1m2 0h1m-10 1h1m2 0h1m0 0h1m2 0h1m26 0h1m0 0h1m0 0h1m-35 1h1m0 0h1m0 0h1m22 0h1m2 0h1m2 0h1m1 0h1m-34 1h1m23 0h1m2 0h1m0 0h1m0 0h1m0 0h1m2 0h1m-8 1h1m-31 1h1m0 0h1m0 0h1m0 0h1m33 0h1m-42 1h1m0 0h1m5 0h1m30 0h1m-39 1h1m1 0h1m2 0h1m-8 1h1m1 0h1m1 0h1m-7 2h1m0 0h1m1 0h1m-8 1h1m1 0h1m0 0h1m0 0h1m0 0h1m-6 1h1m3 0h1m-7 1h1m1 0h1m-4 1h1m3 0h1m-2 1h1m-4 1h1m2 0h1" stroke="#e0c83a" stroke-width="1" fill="none"/>
<path transform="scale(.5)" d="M603 34h1m0 1h1m-2 2h1m1 0h1m-1 1h1m0 0h1m2 0h1m-3 2h1m1 0h1m-1 1h1m-1 1h1m0 0h1m0 0h1m0 0h1m0 0h1m1 0h1m6 0h1m-15 1h1m2 0h1m0 1h1m0 0h1m8 0h1m-7 1h1m1 0h1m0 0h1m0 0h1m0 0h1m-7 1h1m0 0h1m4 0h1m0 0h1m-9 1h1m0 0h1m0 0h1m2 0h1m2 0h1m-9 1h1m0 0h1m0 0h1m0 0h1m3 0h1m0 0h1m1 0h1m0 0h1m-3 1h1m0 0h1m-1 1h1m0 1h1m0 0h1m-1 1h1m-4 1h1m1 0h1m0 1h1m0 0h1m-3 1h1m-2 2h1m1 1h1m0 0h1m0 1h1m-3 1h1m1 0h1m-2 1h1m-1 2h1m0 0h1m1 1h1m-2 2h1m1 1h1m1 0h1m-2 1h1m1 0h1m0 3h1m-6 1h1m1 0h1m0 1h1m1 1h1m-2 2h1m1 0h1m-3 1h1m1 1h1m0 0h1m1 0h1m-4 1h1m0 0h1m-1 1h1m2 0h1m-1 1h1m-3 1h1m2 0h1m-1 1h1m-4 1h1m0 0h1m-2 1h1" stroke="#2f9a9c" stroke-width="1" fill="none"/>
<path transform="scale(.5)" d="M658 61h2m-2 1h2m2 0h2m6 0h2m-13 1h2m0 0h2m-8 1h2m5 0h2m-1 0h2m-10 1h2m1 0h2m3 0h2m3 0h2m0 0h2m-1 0h2m-16 1h2m6 0h2m0 0h2m-1 0h2m-12 1h2m11 0h2m1 0h2m0 0h2m-5 1h2m-1 0h2m1 0h2m-7 1h2m0 0h2m0 0h2m1 0h2m-2 1h2m-6 1h2m1 0h2m-4 1h2m5 1h2m-1 1h2m-1 0h2m-6 1h2m0 0h2m-3 1h2m1 0h2m-4 1h2m-1 1h2m-1 0h2m0 0h2m-1 0h2m-5 1h2m-1 0h2m-1 0h2m1 0h2m-5 1h2m-1 1h2m2 2h2m-1 0h2m-1 1h2m-6 1h2m1 0h2m-4 1h2m0 0h2m1 0h2m-4 2h2m-2 1h2m2 0h2m-4 2h2m0 1h2m-1 1h2m-4 2h2m-1 0h2m-1 0h2m-1 0h2m-6 1h2m2 2h2m-4 2h2m3 0h2m-4 1h2m-5 1h2m0 0h2m-1 0h2m-1 2h2m-5 1h2m2 0h2m-5 2h2m-1 0h2m-1 0h2m-1 0h2m-5 1h2m-1 0h2m-1 1h2m-4 2h2m2 2h2m-2 1h2m-1 0h2m-5 1h2m1 0h2m0 0h2m-4 1h2m1 0h2m-8 1h2m0 0h2m-1 0h2m-4 2h2m-2 1h2m-1 0h2m-2 2h2m-1 0h2m-1 0h2m-1 1h2m0 0h2m-8 1h2m-1 0h2m1 0h2m-8 1h2m2 1h2m0 0h2m-8 1h2m1 0h2m-6 2h2m-1 1h2m0 0h2m0 0h2m-8 2h2m-2 1h2m-1 1h2" stroke="#f2616f" stroke-width="2" fill="none"/>
<path transform="scale(.5)" d="M634 90h2m1 0h2m0 0h2m9 0h2m-1 0h2m-22 1h2m1 0h2m1 0h2m-11 1h2m0 0h2m2 0h2m-1 0h2m0 0h2m0 0h2m6 0h2m2 0h2m-1 0h2m2 0h2m-28 1h2m4 0h2m-1 0h2m-1 0h2m5 0h2m0 0h2m3 0h2m1 0h2m-27 1h2m6 0h2m0 0h2m0 0h2m1 0h2m-1 0h2m1 0h2m0 0h2m5 0h2m7 0h2m0 0h2m-44 1h2m1 0h2m-1 0h2m0 0h2m4 0h2m0 0h2m2 0h2m0 0h2m0 0h2m3 0h2m1 0h2m8 0h2m-1 0h2m0 0h2m0 0h2m-45 1h2m8 0h2m1 0h2m3 0h2m3 0h2m-1 0h2m1 0h2m-1 0h2m-1 0h2m-1 0h2m-1 0h2m5 0h2m0 0h2m1 0h2m-1 0h2m-52 1h2m0 0h2m-1 0h2m-1 0h2m1 0h2m2 0h2m1 0h2m-1 0h2m0 0h2m-1 0h2m0 0h2m10 0h2m0 0h2m-1 0h2m7 0h2m-1 0h2m4 0h2m-50 1h2m-1 0h2m-1 0h2m-1 0h2m0 0h2m7 0h2m1 0h2m2 0h2m-1 0h2m-1 0h2m2 0h2m-1 0h2m-1 0h2m4 0h2m0 0h2m0 0h2m1 0h2m5 0h2m-45 1h2m1 0h2m-1 0h2m0 0h2m3 0h2m0 0h2m-1 0h2m1 0h2m2 0h2m2 0h2m1 0h2m-1 0h2m0 0h2m1 0h2m-1 0h2m-47 1h2m-1 0h2m0 0h2m0 0h2m0 0h2m0 0h2m-1 0h2m6 0h2m-1 0h2m-1 0h2m-1 0h2m1 0h2m3 0h2m0 0h2m-1 0h2m6 0h2m2 0h2m-47 1h2m-1 0h2m10 0h2m-1 0h2m2 0h2m0 0h2m-1 0h2m6 0h2m1 0h2m6 0h2m-1 0h2m0 0h2m1 0h2m-1 0h2m-1 0h2m-39 1h2m-1 0h2m6 0h2m5 0h2m3 0h2m0 0h2m-1 0h2m-1 0h2m1 0h2m-1 0h2m-1 0h2m4 0h2m-51 1h2m10 0h2m-1 0h2m2 0h2m3 0h2m10 0h2m2 0h2m1 0h2m0 0h2m3 0h2m-47 1h2m5 0h2m-1 0h2m-1 0h2m1 0h2m1 0h2m5 0h2m9 0h2m4 0h2m0 0h2m1 0h2m0 0h2m-51 1h2m-1 0h2m-1 0h2m7 0h2m0 0h2m1 0h2m0 0h2m-1 0h2m-1 0h2m4 0h2m-1 0h2m1 0h2m-1 0h2m1 0h2m0 0h2m3 0h2m3 0h2m-39 1h2m-1 0h2m0 0h2m-1 0h2m3 0h2m4 0h2m1 0h2m4 0h2m-1 0h2m0 0h2m2 0h2m1 0h2m-1 0h2m-1 0h2m2 0h2m-1 0h2m-1 0h2m0 0h2m-52 1h2m-1 0h2m-1 0h2m1 0h2m-1 0h2m1 0h2m1 0h2m-1 0h2m0 0h2m-1 0h2m-1 0h2m0 0h2m-1 0h2m0 0h2m0 0h2m6 0h2m0 0h2m0 0h2m-1 0h2m-1 0h2m-1 0h2m-1 0h2m0 0h2m-1 0h2m4 0h2m-1 0h2m3 0h2m-54 1h2m2 0h2m1 0h2m0 0h2m0 0h2m1 0h2m-1 0h2m0 0h2m10 0h2m3 0h2m0 0h2m8 0h2m0 0h2m0 0h2m-50 1h2m1 0h2m-1 0h2m-1 0h2m6 0h2m4 0h2m12 0h2m1 0h2m-1 0h2m5 0h2m1 0h2m-1 0h2m0 0h2m-59 1h2m0 0h2m6 0h2m-1 0h2m2 0h2m3 0h2m0 0h2m-1 0h2m0 0h2m7 0h2m2 0h2m0 0h2m-1 0h2m-1 0h2m1 0h2m4 0h2m-1 0h2m1 0h2m-57 1h2m1 0h2m0 0h2m-1 0h2m2 0h2m0 0h2m22 0h2m1 0h2m0 0h2m1 0h2m0 0h2m3 0h2m-1 0h2m-1 0h2m-1 0h2m0 0h2m-58 1h2m0 0h2m-1 0h2m0 0h2m0 0h2m1 0h2m0 0h2m2 0h2m6 0h2m11 0h2m6 0h2m-1 0h2m-1 0h2m-1 0h2m2 0h2m-1 0h2m1 0h2m-54 1h2m0 0h2m-1 0h2m0 0h2m2 0h2m3 0h2m-1 0h2m1 0h2m19 0h2m3 0h2m0 0h2m0 0h2m2 0h2m-57 1h2m11 0h2m1 0h2m2 0h2m0 0h2m0 0h2m0 0h2m0 0h2m1 0h2m1 0h2m5 0h2m-1 0h2m3 0h2m-1 0h2m1 0h2m1 0h2m-53 1h2m0 0h2m-1 0h2m-1 0h2m11 0h2m4 0h2m0 0h2m2 0h2m3 0h2m11 0h2m1 0h2m-54 1h2m4 0h2m4 0h2m0 0h2m-1 0h2m8 0h2m11 0h2m7 0h2m-1 0h2m-1 0h2m2 0h2m-52 1h2m1 0h2m2 0h2m3 0h2m10 0h2m3 0h2m3 0h2m0 0h2m2 0h2m-1 0h2m1 0h2m0 0h2m0 0h2m-53 1h2m1 0h2m0 0h2m-1 0h2m0 0h2m0 0h2m15 0h2m5 0h2m-1 0h2m-1 0h2m2 0h2m0 0h2m-1 0h2m-1 0h2m4 0h2m-1 0h2m-1 0h2m-54 1h2m1 0h2m0 0h2m0 0h2m8 0h2m8 0h2m1 0h2m5 0h2m-1 0h2m3 0h2m3 0h2m0 0h2m-52 1h2m-1 0h2m-1 0h2m-1 0h2m-1 0h2m-1 0h2m3 0h2m1 0h2m-1 0h2m0 0h2m6 0h2m6 0h2m-1 0h2m1 0h2m-1 0h2m-1 0h2m1 0h2m-1 0h2m-1 0h2m1 0h2m-1 0h2m-47 1h2m0 0h2m0 0h2m1 0h2m0 0h2m-1 0h2m1 0h2m-1 0h2m5 0h2m7 0h2m-1 0h2m-1 0h2m-1 0h2m2 0h2m0 0h2m1 0h2m-1 0h2m-1 0h2m2 0h2m-50 1h2m0 0h2m-1 0h2m0 0h2m-1 0h2m0 0h2m0 0h2m1 0h2m1 0h2m1 0h2m2 0h2m1 0h2m-1 0h2m2 0h2m3 0h2m2 0h2m0 0h2m-1 0h2m0 0h2m-1 0h2m0 0h2m-50 1h2m-1 0h2m-1 0h2m-1 0h2m-1 0h2m-1 0h2m2 0h2m0 0h2m-1 0h2m2 0h2m1 0h2m0 0h2m10 0h2m-1 0h2m-1 0h2m0 0h2m6 0h2m-37 1h2m1 0h2m0 0h2m-1 0h2m-1 0h2m-1 0h2m-1 0h2m2 0h2m-1 0h2m4 0h2m1 0h2m1 0h2m2 0h2m0 0h2m1 0h2m0 0h2m-45 1h2m2 0h2m0 0h2m1 0h2m6 0h2m-1 0h2m-1 0h2m2 0h2m6 0h2m-1 0h2m0 0h2m0 0h2m0 0h2m0 0h2m-44 1h2m0 0h2m0 0h2m1 0h2m0 0h2m0 0h2m0 0h2m0 0h2m9 0h2m5 0h2m-1 0h2m1 0h2m-1 0h2m-40 1h2m2 0h2m0 0h2m0 0h2m-1 0h2m-1 0h2m12 0h2m4 0h2m2 0h2m-1 0h2m1 0h2m-1 0h2m-1 0h2m-36 1h2m2 0h2m4 0h2m-1 0h2m0 0h2m0 0h2m3 0h2m0 0h2m-1 0h2m1 0h2m1 0h2m-1 0h2m0 0h2m0 0h2m-1 0h2m-1 0h2m-1 0h2m-1 0h2m0 0h2m-1 0h2m-1 0h2m-37 1h2m1 0h2m4 0h2m3 0h2m9 0h2m3 0h2m-42 1h2m-1 0h2m7 0h2m0 0h2m8 0h2m1 0h2m1 0h2m5 0h2m-1 0h2m-31 1h2m0 0h2m1 0h2m7 0h2m-1 0h2m-1 0h2m1 0h2m-1 0h2m4 0h2m-1 0h2m1 0h2m0 0h2m0 0h2m1 0h2m-1 0h2m1 0h2m-47 1h2m12 0h2m-1 0h2m1 0h2m1 0h2m-1 0h2m1 0h2m7 0h2m1 0h2m-1 0h2m-37 1h2m4 0h2m0 0h2m2 0h2m0 0h2m4 0h2m0 0h2m0 0h2m2 0h2m-1 0h2m0 0h2m2 0h2m1 0h2m-1 0h2m-1 0h2m-39 1h2m5 0h2m2 0h2m6 0h2m3 0h2m3 0h2m0 0h2m-1 0h2m-1 0h2m-31 1h2m0 0h2m1 0h2m2 0h2m0 0h2m-1 0h2m1 0h2m-1 0h2m-1 0h2m-1 0h2m2 0h2m1 0h2m-20 1h2m0 0h2m1 0h2m3 0h2m6 0h2m-13 1h2m3 0h2m-1 0h2" stroke="#df9129" stroke-width="2" fill="none"/>
<path transform="scale(.5)" d="M684 108h2m-2 1h2m5 0h2m-14 1h2m0 0h2m-1 0h2m3 0h2m1 0h2m-1 0h2m-1 0h2m-1 0h2m-18 1h2m0 0h2m6 0h2m-1 0h2m0 0h2m-1 0h2m-1 0h2m-3 1h2m2 0h2m0 0h2m-18 1h2m-1 0h2m2 0h2m4 0h2m1 0h2m-20 1h2m-1 0h2m0 0h2m3 0h2m-1 0h2m0 0h2m5 0h2m1 0h2m-21 1h2m1 0h2m0 0h2m4 0h2m4 0h2m-27 1h2m3 0h2m4 0h2m1 0h2m2 0h2m5 0h2m1 0h2m-23 1h2m8 0h2m2 0h2m3 0h2m-29 1h2m-1 0h2m2 0h2m5 0h2m1 0h2m9 0h2m-1 0h2m1 0h2m-32 1h2m3 0h2m17 0h2m5 0h2m-29 1h2m1 0h2m-1 0h2m-1 0h2m0 0h2m2 0h2m3 0h2m3 0h2m-26 1h2m18 0h2m-1 0h2m0 0h2m-22 1h2m2 0h2m2 0h2m4 0h2m2 0h2m1 0h2m-1 0h2m-21 1h2m-1 0h2m2 0h2m0 0h2m8 0h2m-1 0h2m2 0h2m-1 0h2m-32 1h2m5 0h2m5 0h2m5 0h2m0 0h2m-18 1h2m0 0h2m-1 0h2m-1 0h2m3 0h2m-1 0h2m-1 0h2m4 0h2m0 0h2m-26 1h2m3 0h2m-1 0h2m-1 0h2m3 0h2m8 0h2m-18 1h2m1 0h2m4 0h2m0 0h2m-1 0h2m0 0h2m-1 0h2m1 0h2m-24 1h2m4 0h2m2 0h2m10 0h2m-1 0h2m-21 1h2m-1 0h2m-1 0h2m0 0h2m4 0h2m-10 1h2m5 0h2m-1 0h2m0 0h2m-12 1h2m6 0h2m2 0h2m-7 1h2" stroke="#df9129" stroke-width="2" fill="none"/>
<path transform="scale(.5)" d="M669 131h2m1 0h2m-1 0h2m-1 0h2m0 0h2m2 0h2m-1 0h2m-1 0h2m-33 1h2m-1 0h2m6 0h2m-1 0h2m7 0h2m-1 0h2m-1 0h2m2 0h2m3 0h2m0 0h2m0 0h2m-1 0h2m-1 0h2m-38 1h2m4 0h2m1 0h2m8 0h2m-1 0h2m-1 0h2m1 0h2m-1 0h2m0 0h2m1 0h2m2 0h2m3 0h2m-47 1h2m3 0h2m6 0h2m9 0h2m7 0h2m-1 0h2m1 0h2m0 0h2m-1 0h2m3 0h2m-1 0h2m0 0h2m-55 1h2m-1 0h2m15 0h2m0 0h2m-1 0h2m-1 0h2m-1 0h2m6 0h2m0 0h2m2 0h2m2 0h2m1 0h2m-1 0h2m0 0h2m0 0h2m-1 0h2m-1 0h2m-54 1h2m-1 0h2m2 0h2m4 0h2m0 0h2m3 0h2m-1 0h2m2 0h2m3 0h2m2 0h2m1 0h2m3 0h2m1 0h2m0 0h2m-1 0h2m1 0h2m-57 1h2m-1 0h2m3 0h2m-1 0h2m-1 0h2m0 0h2m-1 0h2m1 0h2m0 0h2m-1 0h2m0 0h2m-1 0h2m2 0h2m1 0h2m0 0h2m0 0h2m1 0h2m-1 0h2m1 0h2m9 0h2m3 0h2m2 0h2m1 0h2m-1 0h2m-62 1h2m-1 0h2m-1 0h2m0 0h2m0 0h2m1 0h2m0 0h2m6 0h2m0 0h2m4 0h2m2 0h2m0 0h2m5 0h2m1 0h2m-1 0h2m0 0h2m0 0h2m2 0h2m-1 0h2m1 0h2m-1 0h2m1 0h2m-63 1h2m2 0h2m0 0h2m0 0h2m-1 0h2m-1 0h2m1 0h2m0 0h2m3 0h2m0 0h2m2 0h2m0 0h2m-1 0h2m1 0h2m1 0h2m-1 0h2m1 0h2m5 0h2m-1 0h2m0 0h2m2 0h2m0 0h2m0 0h2m0 0h2m1 0h2m-61 1h2m0 0h2m-1 0h2m-1 0h2m4 0h2m11 0h2m0 0h2m0 0h2m4 0h2m0 0h2m0 0h2m-1 0h2m1 0h2m-1 0h2m1 0h2m1 0h2m-1 0h2m-1 0h2m-1 0h2m-1 0h2m0 0h2m1 0h2m-1 0h2m-57 1h2m-1 0h2m0 0h2m1 0h2m7 0h2m0 0h2m-1 0h2m-1 0h2m-1 0h2m6 0h2m-1 0h2m-1 0h2m-1 0h2m1 0h2m2 0h2m0 0h2m0 0h2m1 0h2m-51 1h2m7 0h2m7 0h2m-1 0h2m3 0h2m2 0h2m-1 0h2m4 0h2m1 0h2m-1 0h2m2 0h2m-1 0h2m1 0h2m1 0h2m7 0h2m-58 1h2m-1 0h2m0 0h2m3 0h2m5 0h2m0 0h2m1 0h2m2 0h2m-1 0h2m2 0h2m0 0h2m0 0h2m5 0h2m-1 0h2m-1 0h2m-1 0h2m-1 0h2m1 0h2m-52 1h2m4 0h2m2 0h2m0 0h2m4 0h2m2 0h2m0 0h2m0 0h2m-1 0h2m1 0h2m4 0h2m0 0h2m-1 0h2m-1 0h2m-1 0h2m-1 0h2m4 0h2m0 0h2m8 0h2m0 0h2m-1 0h2m-57 1h2m0 0h2m-1 0h2m-1 0h2m-1 0h2m-1 0h2m3 0h2m-1 0h2m1 0h2m-1 0h2m-1 0h2m-1 0h2m-1 0h2m-1 0h2m1 0h2m-1 0h2m-1 0h2m4 0h2m-1 0h2m1 0h2m2 0h2m0 0h2m-1 0h2m9 0h2m-1 0h2m-53 1h2m-1 0h2m4 0h2m0 0h2m2 0h2m0 0h2m-1 0h2m1 0h2m-1 0h2m0 0h2m-1 0h2m3 0h2m0 0h2m-1 0h2m1 0h2m-1 0h2m11 0h2m0 0h2m-59 1h2m1 0h2m2 0h2m1 0h2m-1 0h2m8 0h2m1 0h2m1 0h2m0 0h2m1 0h2m-1 0h2m-1 0h2m4 0h2m0 0h2m13 0h2m-1 0h2m-60 1h2m0 0h2m-1 0h2m5 0h2m0 0h2m2 0h2m13 0h2m8 0h2m-1 0h2m2 0h2m1 0h2m0 0h2m1 0h2m-58 1h2m-1 0h2m1 0h2m5 0h2m5 0h2m1 0h2m0 0h2m0 0h2m0 0h2m1 0h2m-1 0h2m1 0h2m6 0h2m0 0h2m1 0h2m-1 0h2m2 0h2m2 0h2m2 0h2m-61 1h2m1 0h2m3 0h2m2 0h2m-1 0h2m4 0h2m-1 0h2m3 0h2m1 0h2m4 0h2m10 0h2m1 0h2m-1 0h2m6 0h2m-1 0h2m-61 1h2m-1 0h2m2 0h2m0 0h2m0 0h2m-1 0h2m3 0h2m-1 0h2m-1 0h2m-1 0h2m0 0h2m-1 0h2m5 0h2m-1 0h2m3 0h2m0 0h2m3 0h2m3 0h2m2 0h2m5 0h2m0 0h2m-56 1h2m3 0h2m3 0h2m-1 0h2m-1 0h2m4 0h2m-1 0h2m3 0h2m2 0h2m-1 0h2m2 0h2m1 0h2m-1 0h2m7 0h2m4 0h2m-50 1h2m-1 0h2m8 0h2m1 0h2m1 0h2m3 0h2m2 0h2m-1 0h2m5 0h2m2 0h2m0 0h2m1 0h2m2 0h2m-41 1h2m6 0h2m2 0h2m0 0h2m2 0h2m5 0h2m-1 0h2m1 0h2m0 0h2m-1 0h2m7 0h2m-1 0h2m-26 1h2m3 0h2m-1 0h2m6 0h2m0 0h2m-1 0h2m-1 0h2m-1 0h2m0 0h2m-1 0h2m-1 0h2m-1 0h2m-25 1h2m8 0h2m-1 0h2m-1 0h2m-1 0h2m4 0h2m1 0h2" stroke="#c05a1d" stroke-width="2" fill="none"/>
<path transform="scale(.5)" d="M652 167h2m-1 0h2m-4 1h2m-1 0h2m-1 0h2m1 0h2m-1 0h2m-12 1h2m-1 0h2m0 0h2m1 0h2m4 0h2m1 0h2m-1 0h2m-1 0h2m-16 1h2m7 0h2m0 0h2m-1 0h2m-17 1h2m-1 0h2m1 0h2m3 0h2m4 0h2m2 0h2m-19 1h2m1 0h2m7 0h2m-18 1h2m-1 0h2m8 0h2m0 0h2m1 0h2m-1 0h2m-1 0h2m2 0h2m-17 1h2m1 0h2m-1 0h2m0 0h2m1 0h2m-1 0h2m4 0h2m-22 1h2m0 0h2m1 0h2m1 0h2m3 0h2m2 0h2m0 0h2m-1 0h2m-23 1h2m6 0h2m1 0h2m0 0h2m1 0h2m0 0h2m2 0h2m2 0h2m-21 1h2m0 0h2m1 0h2m0 0h2m0 0h2m-1 0h2m-1 0h2m1 0h2m-23 1h2m2 0h2m-1 0h2m4 0h2m2 0h2m1 0h2m-1 0h2m1 0h2m-1 0h2m1 0h2m-24 1h2m-1 0h2m1 0h2m6 0h2m0 0h2m2 0h2m2 0h2m-25 1h2m8 0h2m0 0h2m1 0h2m2 0h2m-1 0h2m-15 1h2m-1 0h2m5 0h2m0 0h2m1 0h2m1 0h2m-19 1h2m1 0h2m7 0h2m0 0h2m-15 1h2m10 0h2m0 0h2m-1 0h2m-9 1h2m0 0h2" stroke="#8a8ae0" stroke-width="2" fill="none"/>
<path transform="scale(.5)" d="M586 122h2m-1 0h2m-1 0h2m-1 0h2m-15 1h2m2 0h2m4 0h2m1 0h2m-1 0h2m1 0h2m-16 1h2m3 0h2m0 0h2m10 0h2m-28 1h2m11 0h2m1 0h2m0 0h2m3 0h2m1 0h2m-29 1h2m-1 0h2m12 0h2m1 0h2m0 0h2m-1 0h2m1 0h2m-1 0h2m1 0h2m0 0h2m-34 1h2m0 0h2m3 0h2m5 0h2m6 0h2m1 0h2m-29 1h2m0 0h2m7 0h2m9 0h2m1 0h2m-1 0h2m8 0h2m-36 1h2m1 0h2m-1 0h2m18 0h2m10 0h2m0 0h2m-36 1h2m5 0h2m-1 0h2m0 0h2m8 0h2m-1 0h2m8 0h2m1 0h2m-40 1h2m4 0h2m0 0h2m3 0h2m8 0h2m-1 0h2m-26 1h2m-1 0h2m1 0h2m6 0h2m11 0h2m-1 0h2m7 0h2m0 0h2m3 0h2m-42 1h2m1 0h2m7 0h2m2 0h2m-1 0h2m-1 0h2m12 0h2m2 0h2m0 0h2m-42 1h2m-1 0h2m1 0h2m4 0h2m3 0h2m-1 0h2m-1 0h2m-1 0h2m0 0h2m-1 0h2m1 0h2m2 0h2m8 0h2m3 0h2m-46 1h2m-1 0h2m4 0h2m-1 0h2m1 0h2m6 0h2m-1 0h2m0 0h2m0 0h2m-1 0h2m0 0h2m-1 0h2m-1 0h2m-1 0h2m2 0h2m-1 0h2m6 0h2m2 0h2m-1 0h2m0 0h2m-48 1h2m15 0h2m12 0h2m-1 0h2m2 0h2m-1 0h2m-1 0h2m6 0h2m-1 0h2m-46 1h2m3 0h2m-1 0h2m0 0h2m7 0h2m-1 0h2m-1 0h2m2 0h2m11 0h2m-1 0h2m0 0h2m0 0h2m0 0h2m-51 1h2m0 0h2m5 0h2m3 0h2m-1 0h2m2 0h2m-1 0h2m3 0h2m16 0h2m6 0h2m0 0h2m-52 1h2m-1 0h2m8 0h2m5 0h2m4 0h2m4 0h2m4 0h2m-40 1h2m0 0h2m2 0h2m5 0h2m-1 0h2m0 0h2m2 0h2m6 0h2m2 0h2m-1 0h2m-1 0h2m-1 0h2m0 0h2m10 0h2m-1 0h2m0 0h2m-50 1h2m16 0h2m0 0h2m1 0h2m10 0h2m-1 0h2m0 0h2m0 0h2m1 0h2m0 0h2m6 0h2m-56 1h2m10 0h2m3 0h2m0 0h2m-1 0h2m0 0h2m8 0h2m1 0h2m3 0h2m-1 0h2m2 0h2m6 0h2m-46 1h2m4 0h2m4 0h2m-1 0h2m-1 0h2m1 0h2m3 0h2m-1 0h2m9 0h2m-1 0h2m1 0h2m5 0h2m-1 0h2m-49 1h2m1 0h2m-1 0h2m-1 0h2m0 0h2m-1 0h2m2 0h2m-1 0h2m-1 0h2m-1 0h2m-1 0h2m-1 0h2m0 0h2m0 0h2m-1 0h2m-1 0h2m-1 0h2m-1 0h2m12 0h2m3 0h2m-1 0h2m-1 0h2m0 0h2m-51 1h2m3 0h2m2 0h2m-1 0h2m2 0h2m4 0h2m6 0h2m3 0h2m-1 0h2m9 0h2m5 0h2m0 0h2m-51 1h2m0 0h2m1 0h2m3 0h2m-1 0h2m-1 0h2m4 0h2m-1 0h2m-1 0h2m1 0h2m-1 0h2m3 0h2m0 0h2m1 0h2m10 0h2m-1 0h2m-1 0h2m-52 1h2m-1 0h2m2 0h2m0 0h2m-1 0h2m1 0h2m2 0h2m4 0h2m1 0h2m0 0h2m12 0h2m8 0h2m-1 0h2m-52 1h2m-1 0h2m-1 0h2m-1 0h2m0 0h2m-1 0h2m0 0h2m-1 0h2m-1 0h2m0 0h2m4 0h2m-1 0h2m0 0h2m6 0h2m2 0h2m4 0h2m6 0h2m3 0h2m-58 1h2m0 0h2m2 0h2m3 0h2m2 0h2m-1 0h2m3 0h2m1 0h2m3 0h2m0 0h2m4 0h2m5 0h2m4 0h2m-1 0h2m3 0h2m-1 0h2m0 0h2m-58 1h2m1 0h2m1 0h2m2 0h2m-1 0h2m-1 0h2m1 0h2m-1 0h2m0 0h2m6 0h2m6 0h2m1 0h2m0 0h2m-1 0h2m-1 0h2m-1 0h2m6 0h2m4 0h2m-56 1h2m5 0h2m-1 0h2m1 0h2m-1 0h2m3 0h2m-1 0h2m4 0h2m-1 0h2m9 0h2m-1 0h2m1 0h2m0 0h2m1 0h2m1 0h2m-1 0h2m-1 0h2m1 0h2m0 0h2m-1 0h2m-56 1h2m4 0h2m0 0h2m0 0h2m0 0h2m-1 0h2m0 0h2m16 0h2m0 0h2m4 0h2m4 0h2m-1 0h2m-1 0h2m0 0h2m-1 0h2m-1 0h2m1 0h2m-55 1h2m1 0h2m-1 0h2m-1 0h2m4 0h2m0 0h2m13 0h2m0 0h2m2 0h2m8 0h2m1 0h2m-1 0h2m1 0h2m1 0h2m-52 1h2m-1 0h2m0 0h2m0 0h2m0 0h2m-1 0h2m5 0h2m-1 0h2m6 0h2m-1 0h2m-1 0h2m14 0h2m4 0h2m-56 1h2m-1 0h2m-1 0h2m-1 0h2m0 0h2m5 0h2m-1 0h2m3 0h2m0 0h2m-1 0h2m6 0h2m1 0h2m1 0h2m-1 0h2m2 0h2m0 0h2m4 0h2m-1 0h2m-1 0h2m-1 0h2m-1 0h2m1 0h2m-1 0h2m-53 1h2m-1 0h2m3 0h2m-1 0h2m-1 0h2m3 0h2m2 0h2m8 0h2m0 0h2m-1 0h2m8 0h2m-1 0h2m3 0h2m6 0h2m-1 0h2m-58 1h2m9 0h2m0 0h2m0 0h2m1 0h2m0 0h2m10 0h2m2 0h2m-1 0h2m-1 0h2m-1 0h2m0 0h2m2 0h2m-1 0h2m-1 0h2m4 0h2m0 0h2m0 0h2m-55 1h2m-1 0h2m0 0h2m-1 0h2m-1 0h2m2 0h2m1 0h2m4 0h2m1 0h2m0 0h2m2 0h2m8 0h2m0 0h2m5 0h2m4 0h2m-53 1h2m1 0h2m0 0h2m-1 0h2m-1 0h2m-1 0h2m0 0h2m0 0h2m4 0h2m1 0h2m2 0h2m0 0h2m3 0h2m-1 0h2m0 0h2m3 0h2m-1 0h2m-1 0h2m0 0h2m-1 0h2m4 0h2m3 0h2m-50 1h2m1 0h2m0 0h2m4 0h2m4 0h2m-1 0h2m0 0h2m2 0h2m3 0h2m0 0h2m0 0h2m2 0h2m0 0h2m1 0h2m-1 0h2m1 0h2m-1 0h2m-1 0h2m-1 0h2m-53 1h2m0 0h2m-1 0h2m5 0h2m2 0h2m3 0h2m2 0h2m2 0h2m9 0h2m6 0h2m2 0h2m-43 1h2m1 0h2m4 0h2m-1 0h2m4 0h2m2 0h2m-1 0h2m0 0h2m3 0h2m7 0h2m4 0h2m0 0h2m-44 1h2m-1 0h2m8 0h2m10 0h2m3 0h2m0 0h2m1 0h2m2 0h2m1 0h2m1 0h2m-44 1h2m4 0h2m1 0h2m0 0h2m0 0h2m0 0h2m0 0h2m-1 0h2m9 0h2m0 0h2m4 0h2m-34 1h2m1 0h2m-1 0h2m4 0h2m0 0h2m16 0h2m3 0h2m-1 0h2m-34 1h2m1 0h2m15 0h2m0 0h2m6 0h2m1 0h2m-17 1h2m-1 0h2m1 0h2m3 0h2m3 0h2m-8 1h2m0 0h2m-1 0h2m-1 0h2m-17 1h2m0 0h2m0 0h2m7 0h2m-12 1h2m-1 0h2m-1 0h2m5 0h2m1 0h2m-8 1h2m-1 0h2m0 0h2m-1 0h2m3 0h2m0 0h2m-15 1h2m4 0h2m-1 0h2m-1 0h2m-6 1h2m0 0h2m5 0h2m-1 0h2m-13 1h2m10 0h2" stroke="#4a1d9c" stroke-width="2" fill="none"/>
<path transform="scale(.5)" d="M568 127h2m-10 1h2m10 0h2m-24 1h2m3 0h2m4 0h2m7 0h2m2 0h2m-14 1h2m2 0h2m-1 0h2m-18 1h2m-1 0h2m-1 0h2m-1 0h2m7 0h2m2 0h2m2 0h2m4 0h2m0 0h2m-36 1h2m0 0h2m0 0h2m0 0h2m9 0h2m3 0h2m-1 0h2m-1 0h2m5 0h2m4 0h2m-36 1h2m11 0h2m-1 0h2m5 0h2m-1 0h2m0 0h2m0 0h2m3 0h2m2 0h2m-34 1h2m8 0h2m3 0h2m-1 0h2m0 0h2m2 0h2m8 0h2m-43 1h2m0 0h2m5 0h2m4 0h2m4 0h2m3 0h2m1 0h2m0 0h2m2 0h2m-1 0h2m1 0h2m-35 1h2m3 0h2m3 0h2m3 0h2m-1 0h2m-1 0h2m-15 1h2m5 0h2m4 0h2m-1 0h2m11 0h2m-41 1h2m1 0h2m1 0h2m6 0h2m9 0h2m0 0h2m10 0h2m-41 1h2m12 0h2m4 0h2m0 0h2m10 0h2m5 0h2m1 0h2m-41 1h2m3 0h2m4 0h2m22 0h2m-1 0h2m-1 0h2m-37 1h2m11 0h2m19 0h2m-32 1h2m5 0h2m11 0h2m9 0h2m-40 1h2m1 0h2m1 0h2m6 0h2m-16 1h2m0 0h2m6 0h2m-1 0h2m29 0h2m-38 1h2m5 0h2m-1 0h2m1 0h2m-1 0h2m19 0h2m-39 1h2m0 0h2m6 0h2m0 0h2m-20 1h2m1 0h2m1 0h2m1 0h2m2 0h2m3 0h2m0 0h2m10 0h2m-31 1h2m0 0h2m-1 0h2m1 0h2m0 0h2m7 0h2m1 0h2m9 0h2m4 0h2m-1 0h2m-48 1h2m13 0h2m-1 0h2m2 0h2m2 0h2m2 0h2m7 0h2m9 0h2m-50 1h2m7 0h2m0 0h2m2 0h2m-1 0h2m2 0h2m2 0h2m-1 0h2m0 0h2m-1 0h2m3 0h2m-1 0h2m-26 1h2m7 0h2m1 0h2m0 0h2m2 0h2m10 0h2m-37 1h2m2 0h2m5 0h2m11 0h2m-1 0h2m-32 1h2m1 0h2m0 0h2m20 0h2m-23 1h2m3 0h2m-10 1h2m2 0h2m0 0h2m6 0h2m-1 0h2m-18 1h2m10 0h2m0 0h2m-18 1h2m-1 0h2m7 0h2m1 0h2m-12 1h2m2 0h2m1 0h2m-9 1h2m0 0h2m0 0h2m0 0h2m0 0h2m0 0h2m-13 1h2m0 0h2m4 1h2m-1 1h2m-10 2h2m-1 1h2m-2 1h2m0 2h2" stroke="#a792ea" stroke-width="2" fill="none"/>
<path transform="scale(.5)" d="M610 159h2m-1 0h2m1 0h2m-1 0h2m-1 1h2m-1 0h2m-19 1h2m0 0h2m7 0h2m0 0h2m0 0h2m0 0h2m0 0h2m4 0h2m-30 1h2m2 0h2m8 0h2m0 0h2m-1 0h2m-1 0h2m5 0h2m0 0h2m1 0h2m0 0h2m-12 1h2m1 0h2m6 0h2m3 0h2m-1 0h2m-35 1h2m6 0h2m1 0h2m-1 0h2m-1 0h2m-1 0h2m5 0h2m-1 0h2m0 0h2m-31 1h2m-1 0h2m0 0h2m-1 0h2m1 0h2m3 0h2m-1 0h2m3 0h2m-1 0h2m7 0h2m-1 0h2m5 0h2m-1 0h2m-39 1h2m10 0h2m0 0h2m3 0h2m7 0h2m0 0h2m1 0h2m-1 0h2m3 0h2m-1 0h2m-44 1h2m3 0h2m-1 0h2m-1 0h2m0 0h2m2 0h2m0 0h2m-1 0h2m0 0h2m11 0h2m3 0h2m0 0h2m-1 0h2m1 0h2m2 0h2m-47 1h2m-1 0h2m1 0h2m2 0h2m0 0h2m-1 0h2m2 0h2m0 0h2m-1 0h2m-1 0h2m18 0h2m0 0h2m1 0h2m-1 0h2m-46 1h2m1 0h2m3 0h2m-1 0h2m3 0h2m17 0h2m0 0h2m6 0h2m-1 0h2m-45 1h2m0 0h2m0 0h2m-1 0h2m4 0h2m2 0h2m10 0h2m3 0h2m-1 0h2m6 0h2m0 0h2m-47 1h2m-1 0h2m1 0h2m2 0h2m8 0h2m8 0h2m4 0h2m-1 0h2m14 0h2m-50 1h2m-1 0h2m1 0h2m0 0h2m4 0h2m2 0h2m11 0h2m10 0h2m2 0h2m-43 1h2m-1 0h2m9 0h2m4 0h2m0 0h2m5 0h2m0 0h2m-1 0h2m5 0h2m-1 0h2m-43 1h2m12 0h2m-1 0h2m9 0h2m0 0h2m2 0h2m4 0h2m4 0h2m-1 0h2m-1 0h2m0 0h2m0 0h2m-51 1h2m0 0h2m16 0h2m2 0h2m-1 0h2m8 0h2m3 0h2m1 0h2m-1 0h2m5 0h2m-58 1h2m2 0h2m10 0h2m-1 0h2m15 0h2m0 0h2m2 0h2m-1 0h2m0 0h2m0 0h2m5 0h2m0 0h2m-1 0h2m-56 1h2m-1 0h2m4 0h2m6 0h2m5 0h2m1 0h2m0 0h2m2 0h2m-1 0h2m-1 0h2m2 0h2m1 0h2m1 0h2m3 0h2m1 0h2m4 0h2m-56 1h2m-1 0h2m-1 0h2m1 0h2m7 0h2m2 0h2m-1 0h2m-1 0h2m8 0h2m4 0h2m-1 0h2m1 0h2m-1 0h2m0 0h2m1 0h2m0 0h2m-52 1h2m0 0h2m0 0h2m-1 0h2m-1 0h2m1 0h2m-1 0h2m-1 0h2m11 0h2m3 0h2m2 0h2m2 0h2m1 0h2m7 0h2m-1 0h2m2 0h2m-51 1h2m-1 0h2m0 0h2m-1 0h2m3 0h2m8 0h2m18 0h2m-1 0h2m4 0h2m2 0h2m-1 0h2m0 0h2m-55 1h2m3 0h2m1 0h2m-1 0h2m0 0h2m-1 0h2m-1 0h2m4 0h2m3 0h2m1 0h2m0 0h2m9 0h2m2 0h2m-1 0h2m-50 1h2m-1 0h2m12 0h2m6 0h2m1 0h2m22 0h2m3 0h2m-1 0h2m-53 1h2m6 0h2m-1 0h2m0 0h2m5 0h2m-1 0h2m1 0h2m0 0h2m13 0h2m4 0h2m-1 0h2m0 0h2m-53 1h2m5 0h2m3 0h2m0 0h2m12 0h2m11 0h2m5 0h2m-1 0h2m0 0h2m-52 1h2m5 0h2m-1 0h2m-1 0h2m0 0h2m1 0h2m0 0h2m1 0h2m5 0h2m0 0h2m-1 0h2m2 0h2m4 0h2m0 0h2m2 0h2m2 0h2m-50 1h2m5 0h2m3 0h2m2 0h2m-1 0h2m1 0h2m1 0h2m0 0h2m1 0h2m-1 0h2m3 0h2m-1 0h2m-1 0h2m4 0h2m-1 0h2m1 0h2m6 0h2m-41 1h2m3 0h2m0 0h2m2 0h2m3 0h2m10 0h2m-1 0h2m2 0h2m-1 0h2m-1 0h2m-50 1h2m-1 0h2m-1 0h2m1 0h2m3 0h2m5 0h2m-1 0h2m1 0h2m2 0h2m-1 0h2m6 0h2m0 0h2m-35 1h2m7 0h2m0 0h2m5 0h2m0 0h2m0 0h2m8 0h2m3 0h2m-1 0h2m1 0h2m-1 0h2m7 0h2m-55 1h2m1 0h2m1 0h2m0 0h2m8 0h2m6 0h2m2 0h2m-1 0h2m2 0h2m2 0h2m7 0h2m-38 1h2m-1 0h2m1 0h2m1 0h2m9 0h2m1 0h2m0 0h2m4 0h2m7 0h2m1 0h2m-1 0h2m-45 1h2m-1 0h2m1 0h2m0 0h2m1 0h2m16 0h2m-1 0h2m-1 0h2m0 0h2m2 0h2m3 0h2m1 0h2m-47 1h2m3 0h2m1 0h2m9 0h2m0 0h2m6 0h2m6 0h2m2 0h2m-41 1h2m1 0h2m24 0h2m4 0h2m3 0h2m-43 1h2m-1 0h2m0 0h2m14 0h2m19 0h2m-32 1h2m-1 0h2m3 0h2m2 0h2m7 0h2m-1 0h2m-21 1h2m0 0h2m0 0h2m12 0h2m-15 1h2m1 0h2m-1 0h2m11 0h2m-26 1h2m0 0h2m1 0h2m10 0h2m3 0h2m-18 1h2m4 0h2m2 0h2m11 0h2m-1 0h2m-23 1h2m4 0h2m1 0h2m2 0h2m0 0h2m1 0h2m-12 1h2m3 0h2m-3 1h2m5 0h2" stroke="#3ee35e" stroke-width="2" fill="none"/>
<path transform="scale(.5)" d="M628 199h2m7 0h2m0 0h2m0 0h2m-15 1h2m-1 1h2m0 0h2m1 0h2m0 0h2m1 1h2m2 0h2m-1 0h2m-1 0h2m2 0h2m-22 1h2m-1 0h2m15 0h2m-27 1h2m4 0h2m0 0h2m-1 0h2m1 0h2m6 0h2m2 0h2m2 0h2m-23 1h2m5 0h2m-1 0h2m2 0h2m2 0h2m6 0h2m-33 1h2m0 0h2m21 0h2m1 0h2m1 0h2m-34 1h2m8 0h2m6 0h2m-1 0h2m0 0h2m7 0h2m-15 1h2m7 0h2m-1 0h2m2 0h2m-1 0h2m-22 1h2m1 0h2m0 0h2m3 0h2m-30 1h2m4 0h2m0 0h2m3 0h2m0 0h2m0 0h2m0 0h2m11 0h2m-1 0h2m-21 1h2m2 0h2m7 0h2m2 0h2m-24 2h2m2 0h2m5 0h2m-1 0h2m0 0h2m3 0h2m7 0h2m-38 1h2m1 0h2m3 0h2m16 0h2m-24 1h2m13 0h2m4 0h2m1 0h2m-1 0h2m-1 0h2m5 0h2m-31 1h2m0 0h2m6 0h2m1 0h2m-1 0h2m1 0h2m4 0h2m0 0h2m-29 1h2m0 0h2m3 0h2m19 0h2m-1 0h2m-33 1h2m5 0h2m0 0h2m-1 0h2m12 0h2m4 0h2m-29 1h2m8 0h2m13 0h2m-24 1h2m3 0h2m-1 0h2m6 0h2m-5 1h2m3 0h2m-1 0h2m-6 1h2" stroke="#55c857" stroke-width="2" fill="none"/>
<path transform="scale(.5)" d="M606 199h2m1 0h2m-1 0h2m-20 1h2m14 0h2m-1 0h2m1 0h2m-18 1h2m3 0h2m1 0h2m-1 0h2m1 0h2m-8 1h2m-11 1h2m13 0h2m4 0h2m-23 1h2m6 0h2m0 0h2m1 0h2m6 0h2m1 0h2m0 0h2m0 0h2m-20 1h2m2 0h2m0 0h2m4 0h2m1 0h2m4 0h2m-1 0h2m-20 1h2m-5 1h2m6 0h2m2 0h2m7 0h2m-1 0h2m-1 0h2m-1 0h2m0 0h2m-1 0h2m0 0h2m-41 1h2m2 0h2m4 0h2m1 0h2m-1 0h2m2 0h2m0 0h2m2 0h2m-1 0h2m-1 0h2m1 0h2m-35 1h2m0 0h2m0 0h2m1 0h2m2 0h2m0 0h2m5 0h2m-1 0h2m6 0h2m1 0h2m-1 0h2m2 0h2m3 0h2m-40 1h2m3 0h2m4 0h2m0 0h2m-1 0h2m2 0h2m18 0h2m-39 1h2m-1 0h2m-1 0h2m3 0h2m-1 0h2m3 0h2m0 0h2m7 0h2m12 0h2m-35 1h2m0 0h2m4 0h2m-1 0h2m-1 0h2m18 0h2m-37 1h2m1 0h2m2 0h2m-1 0h2m0 0h2m6 0h2m-1 0h2m1 0h2m-26 1h2m-1 0h2m-1 0h2m-1 0h2m0 0h2m2 0h2m-1 0h2m4 0h2m0 0h2m19 0h2m-30 1h2m5 0h2m5 0h2m-1 0h2m3 0h2m0 0h2m0 0h2m1 0h2m-40 1h2m19 0h2m-1 0h2m-1 0h2m5 0h2m0 0h2m-24 1h2m5 0h2m2 0h2m-1 0h2m-1 0h2m2 0h2m-21 1h2m6 0h2m10 0h2m-1 0h2m4 0h2m0 0h2m-20 1h2m3 0h2m-1 0h2m0 0h2m5 0h2m1 0h2m0 0h2m-32 1h2m-1 0h2m4 0h2m1 0h2m2 0h2m12 0h2m-31 1h2m9 0h2m0 0h2m-1 0h2m1 0h2m3 0h2m0 0h2m5 0h2m-41 1h2m-1 0h2m4 0h2m-1 0h2m4 0h2m0 0h2m8 0h2m6 0h2m-28 1h2m2 0h2m20 0h2m1 0h2m-38 1h2m4 0h2m2 0h2m-1 0h2m1 0h2m5 0h2m1 0h2m7 0h2m-21 1h2m9 0h2m5 0h2m2 0h2m-33 1h2m3 0h2m3 0h2m-18 1h2m2 0h2m1 0h2m2 0h2m-1 0h2m-1 0h2m1 0h2m3 0h2m15 0h2m-39 1h2m-1 0h2m3 0h2m8 0h2m2 0h2m9 0h2m2 0h2m0 0h2m-38 1h2m0 0h2m0 0h2m6 0h2m4 0h2m-19 1h2m3 0h2m4 0h2m14 0h2m3 0h2m-29 1h2m2 0h2m-12 1h2m0 0h2m3 0h2m5 0h2m11 0h2m1 0h2m1 0h2m-35 1h2m2 0h2m-1 0h2m5 0h2m-11 1h2m1 0h2m1 0h2m12 0h2m-1 0h2m3 0h2m-1 0h2m-25 1h2m2 0h2m17 0h2m-1 0h2m-14 1h2m2 0h2m1 0h2m-1 0h2m-1 0h2m-22 1h2m1 0h2m1 0h2m6 0h2m0 0h2m4 0h2m-29 1h2m5 0h2m11 0h2m-13 1h2m0 0h2m0 0h2m2 0h2m0 0h2m0 0h2m-12 1h2m0 0h2m0 0h2m-8 1h2m2 0h2m-1 0h2m-15 1h2m4 0h2m-1 0h2m1 0h2m7 0h2m-20 1h2m6 0h2m3 0h2m0 0h2m-1 1h2" stroke="#9ad5df" stroke-width="2" fill="none"/>
<path transform="scale(.5)" d="M589 206h2m-5 1h2m-4 1h2m-8 1h2m1 0h2m-5 1h2m3 0h2m1 0h2m-8 1h2m3 0h2m7 2h2m-4 1h2m-1 0h2m-3 1h2m-12 2h2m8 0h2m3 0h2m-20 1h2m7 0h2m2 0h2m3 0h2m-19 1h2m8 0h2m0 0h2m0 0h2m0 0h2m-21 1h2m2 0h2m6 0h2m6 0h2m-24 1h2m-1 0h2m1 0h2m-1 0h2m10 0h2m1 0h2m2 0h2m-22 1h2m-1 0h2m-1 0h2m8 0h2m-1 0h2m-17 1h2m2 0h2m0 0h2m12 0h2m-22 1h2m6 0h2m6 0h2m-1 0h2m-1 0h2m-1 0h2m-22 1h2m8 0h2m0 0h2m3 0h2m2 0h2m-1 0h2m-15 1h2m1 0h2m2 0h2m4 0h2m-19 1h2m3 0h2m3 0h2m7 0h2m-19 1h2m14 0h2m-25 1h2m0 0h2m1 0h2m-1 0h2m1 0h2m1 0h2m8 0h2m-17 1h2m2 0h2m0 0h2m1 0h2m8 0h2m-27 1h2m-1 0h2m3 0h2m1 0h2m-1 0h2m-1 0h2m-1 0h2m0 0h2m2 0h2m1 0h2m-23 1h2m3 0h2m1 0h2m0 0h2m3 0h2m1 0h2m3 0h2m0 0h2m-21 1h2m0 0h2m1 0h2m-12 1h2m10 0h2m3 0h2m0 0h2m-1 0h2m-19 1h2m4 0h2m-1 0h2m1 0h2m-1 0h2m9 0h2m-22 1h2m3 0h2m1 0h2m10 0h2m-26 1h2m3 0h2m0 0h2m0 1h2m9 0h2m3 0h2m-25 1h2m1 0h2m-1 0h2m-1 0h2m16 0h2m-21 1h2m0 0h2m0 0h2m9 0h2m0 0h2m-1 0h2m-1 0h2m-24 1h2m-1 0h2m1 0h2m13 0h2m-22 1h2m0 0h2m-1 0h2m-1 0h2m-1 0h2m-1 0h2m4 0h2m1 0h2m5 0h2m-1 0h2m-1 0h2m-20 1h2m0 0h2m3 0h2m5 0h2m-15 1h2m12 0h2m0 0h2m-14 1h2m0 0h2m6 0h2m0 0h2m-13 1h2m4 0h2m5 0h2m0 0h2m-12 1h2m-1 0h2m-1 0h2m2 0h2m0 0h2m-1 0h2m-1 0h2m-11 1h2m-14 1h2m2 0h2m0 0h2m6 0h2m4 0h2m0 0h2m-25 1h2m0 0h2m8 0h2m3 0h2m4 0h2m-26 1h2m0 0h2m6 0h2m9 0h2m1 0h2m-10 1h2m3 0h2m-12 1h2m1 0h2m1 0h2m0 0h2m-7 1h2m-1 0h2m-2 1h2" stroke="#f2e34d" stroke-width="2" fill="none"/>
<path transform="scale(.5)" d="M617 234h2m-5 1h2m-6 1h2m2 0h2m5 0h2m-1 0h2m-1 0h2m-1 0h2m-1 0h2m-23 1h2m2 0h2m-1 0h2m1 0h2m1 0h2m2 0h2m0 0h2m-15 1h2m0 0h2m-1 0h2m1 0h2m5 0h2m3 0h2m-24 1h2m9 0h2m2 0h2m0 0h2m-1 0h2m-1 0h2m4 0h2m-26 1h2m3 0h2m3 0h2m1 0h2m-1 0h2m1 0h2m0 0h2m3 0h2m-23 1h2m-1 0h2m4 0h2m-1 0h2m0 0h2m-1 0h2m0 0h2m2 0h2m2 0h2m-31 1h2m1 0h2m0 0h2m7 0h2m-1 0h2m-1 0h2m2 0h2m0 0h2m-21 1h2m0 0h2m2 0h2m9 0h2m4 0h2m3 0h2m-33 1h2m-1 0h2m6 0h2m17 0h2m-30 1h2m-1 0h2m2 0h2m2 0h2m4 0h2m-1 0h2m0 0h2m-1 0h2m-1 0h2m-1 0h2m0 0h2m0 0h2m-1 0h2m-21 1h2m1 0h2m13 0h2m0 0h2m0 0h2m-30 1h2m9 0h2m0 0h2m0 0h2m1 0h2m-1 0h2m6 0h2m-24 1h2m2 0h2m4 0h2m0 0h2m6 0h2m1 0h2m-28 1h2m1 0h2m1 0h2m-1 0h2m1 0h2m2 0h2m1 0h2m4 0h2m-25 1h2m-1 0h2m3 0h2m-1 0h2m1 0h2m1 0h2m1 0h2m1 0h2m-13 1h2m1 0h2m2 0h2m-1 0h2m3 0h2m-16 1h2m6 0h2m0 0h2m0 0h2m-1 0h2m-17 1h2m2 0h2m-1 0h2m0 0h2m2 0h2m-8 1h2m0 0h2" stroke="#f2e34d" stroke-width="2" fill="none"/>
<path transform="scale(.5)" d="M601 214h2m7 2h2m2 0h2m3 0h2m-19 4h2m6 0h2m5 0h2m-13 1h2m2 1h2m-9 1h2m-1 0h2m9 0h2m1 0h2m-20 1h2m5 0h2m-1 0h2m-4 1h2m-1 0h2m-1 0h2m5 0h2m-13 1h2m1 0h2m1 0h2m-1 0h2m1 0h2m-1 0h2m-1 0h2m-13 1h2m3 0h2m-1 0h2m-1 0h2m-10 1h2m2 0h2m0 0h2m-1 0h2m2 0h2m-15 1h2m-1 0h2m3 0h2m5 0h2m-1 0h2m-18 1h2m-1 0h2m0 0h2m-5 1h2m2 0h2m0 0h2m-1 0h2m0 0h2m-1 0h2m1 0h2m1 0h2m2 0h2m-21 1h2m-1 0h2m-1 0h2m4 0h2m-1 0h2m-1 0h2m0 0h2m-7 1h2m0 0h2m-1 0h2m-19 1h2m12 0h2m0 0h2m-11 1h2m-1 0h2m3 0h2m2 0h2m-1 0h2m2 0h2m5 0h2m-19 1h2m4 0h2m2 0h2m-14 1h2m2 0h2m4 0h2m-1 0h2m-15 1h2m-1 0h2m1 0h2m-1 0h2m4 0h2m0 0h2m-15 1h2m11 0h2m3 0h2m-20 1h2m0 0h2m5 0h2m9 0h2m-17 1h2m-1 0h2m6 0h2m-6 1h2m-6 1h2m-3 1h2m3 1h2m-12 4h2m10 2h2" stroke="#65653f" stroke-width="2" fill="none"/>
<path transform="scale(.5)" d="M563 252h2m-4 1h2m0 0h2m-1 0h2m7 0h2m0 0h2m-1 0h2m-23 1h2m3 0h2m0 0h2m-1 0h2m6 0h2m0 0h2m-1 0h2m0 0h2m4 0h2m-33 1h2m-1 0h2m0 0h2m-1 0h2m0 0h2m5 0h2m0 0h2m3 0h2m5 0h2m-25 1h2m4 0h2m-1 0h2m1 0h2m-1 0h2m1 0h2m-1 0h2m2 0h2m-1 0h2m0 0h2m-1 0h2m4 0h2m-36 1h2m-1 0h2m-1 0h2m0 0h2m0 0h2m8 0h2m-1 0h2m1 0h2m-1 0h2m1 0h2m0 0h2m-1 0h2m0 0h2m1 0h2m1 0h2m-36 1h2m-1 0h2m0 0h2m-1 0h2m0 0h2m2 0h2m-1 0h2m0 0h2m-1 0h2m4 0h2m7 0h2m0 0h2m-32 1h2m1 0h2m-1 0h2m0 0h2m1 0h2m2 0h2m1 0h2m0 0h2m2 0h2m8 0h2m0 0h2m-1 0h2m-38 1h2m-1 0h2m-1 0h2m0 0h2m0 0h2m-1 0h2m-1 0h2m1 0h2m-1 0h2m-1 0h2m-1 0h2m1 0h2m-1 0h2m1 0h2m-1 0h2m-1 0h2m1 0h2m-1 0h2m1 0h2m-1 0h2m4 0h2m-37 1h2m-1 0h2m3 0h2m-1 0h2m-1 0h2m7 0h2m1 0h2m5 0h2m1 0h2m-33 1h2m0 0h2m-1 0h2m0 0h2m4 0h2m0 0h2m2 0h2m-1 0h2m1 0h2m0 0h2m-1 0h2m1 0h2m1 0h2m4 0h2m-37 1h2m-1 0h2m12 0h2m-1 0h2m0 0h2m-1 0h2m-1 0h2m-1 0h2m-1 0h2m0 0h2m2 0h2m1 0h2m2 0h2m-36 1h2m8 0h2m1 0h2m1 0h2m-1 0h2m0 0h2m5 0h2m0 0h2m-1 0h2m3 0h2m-1 0h2m-37 1h2m9 0h2m1 0h2m0 0h2m6 0h2m0 0h2m-1 0h2m-1 0h2m-1 0h2m-1 0h2m0 0h2m0 0h2m-36 1h2m-1 0h2m18 0h2m-1 0h2m6 0h2m-1 0h2m0 0h2m-34 1h2m6 0h2m-1 0h2m4 0h2m-1 0h2m2 0h2m-1 0h2m0 0h2m-1 0h2m3 0h2m-23 1h2m-1 0h2m-1 0h2m-1 0h2m0 0h2m-1 0h2m0 0h2m-1 0h2m1 0h2m3 0h2m-19 1h2m1 0h2m3 0h2m0 0h2m4 0h2m0 0h2m-9 1h2m3 0h2m-1 0h2m-1 0h2m0 0h2m-23 1h2m2 0h2m-1 0h2m-1 0h2m2 0h2m6 0h2m1 0h2m-18 1h2m2 0h2" stroke="#d2436f" stroke-width="2" fill="none"/>
<path transform="scale(.5)" d="M704 182h2m0 0h2m-4 1h2m-1 0h2m0 0h2m2 0h2m-1 0h2m-12 1h2m2 0h2m1 0h2m-5 1h2m-1 0h2m-1 0h2m-1 0h2m1 0h2m-12 1h2m-1 0h2m-1 0h2m-1 0h2m-1 0h2m0 0h2m0 0h2m-1 0h2m0 0h2m-14 1h2m-1 0h2m-1 0h2m-1 0h2m1 0h2m-1 0h2m0 0h2m-12 1h2m-1 0h2m0 0h2m-1 0h2m-1 0h2m0 0h2m-1 0h2m-1 0h2m0 0h2m0 0h2m-16 1h2m0 0h2m-1 0h2m1 0h2m0 0h2m2 0h2m-17 1h2m-1 0h2m-1 0h2m-1 0h2m-1 0h2m0 0h2m-1 0h2m4 0h2m-13 1h2m2 0h2m0 0h2m2 0h2m0 0h2m-11 1h2m0 0h2m1 0h2m2 0h2m-17 1h2m3 0h2m1 0h2m1 0h2m1 0h2m0 0h2m-18 1h2m2 0h2m3 0h2m3 0h2m-16 1h2m0 0h2m0 0h2m2 0h2m-1 0h2m2 0h2m-1 0h2m-15 1h2m-1 0h2m0 0h2m0 0h2m0 0h2m-1 0h2m2 0h2m-15 1h2m1 0h2m-1 0h2m-1 0h2m-1 0h2m-1 0h2m1 0h2m1 0h2m-1 0h2m-1 0h2m-1 0h2m-16 1h2m2 0h2m-1 0h2m-1 0h2m0 0h2m0 0h2m-1 0h2m0 0h2m-15 1h2m0 0h2m-1 0h2m3 0h2m-10 1h2m0 0h2m-1 0h2m-1 0h2m1 0h2m-1 0h2m-1 0h2m-1 0h2m-12 1h2m0 0h2m0 0h2m2 0h2m3 0h2m-9 1h2m-1 0h2m-1 0h2m0 0h2m-15 1h2m1 0h2m9 0h2m-1 0h2m-17 1h2m2 0h2m-1 0h2m-1 0h2m-7 1h2m0 0h2m1 0h2m-1 0h2m2 0h2m-1 0h2m-1 0h2m0 0h2m-14 1h2m-1 0h2m3 0h2m-1 0h2m1 0h2m-12 1h2m-1 0h2m5 0h2m1 0h2m-1 0h2m-14 1h2m-1 0h2m0 0h2m3 0h2m0 0h2m-1 0h2m-1 0h2m-12 1h2m1 0h2m0 0h2m0 0h2m0 0h2m-1 0h2m-11 1h2m1 0h2m1 0h2m-1 0h2m1 0h2m-9 1h2m3 0h2m0 0h2m-8 1h2m1 0h2m-1 0h2m-1 0h2m-8 1h2m-1 0h2m-1 0h2m-5 1h2m1 0h2m-6 1h2m0 0h2m-1 0h2m0 0h2m-1 0h2m0 0h2m-1 0h2m-3 1h2m-6 1h2m2 0h2m-10 1h2m-1 0h2m-1 0h2m1 0h2m-1 0h2m-11 1h2m0 0h2m0 0h2m3 0h2m-8 1h2m-1 0h2m-1 0h2m2 0h2m-1 0h2m-1 0h2m-11 1h2m-1 0h2m-1 0h2m-1 0h2m-1 0h2m1 0h2m0 0h2m-15 1h2m4 0h2m-1 0h2m-1 0h2m-1 0h2m3 0h2m-1 0h2m-17 1h2m2 0h2m-1 0h2m2 0h2m-1 0h2m-1 0h2m-10 1h2m0 0h2m7 0h2m-1 0h2m-13 1h2m1 0h2m0 0h2m0 0h2m0 0h2m-1 0h2m-1 0h2m-16 1h2m-1 0h2m-1 0h2m2 0h2m-1 0h2m3 0h2m-14 1h2m3 0h2m-1 0h2m0 0h2m-1 0h2m-1 0h2m-1 0h2m-1 0h2m0 0h2m-16 1h2m-1 0h2m0 0h2m-1 0h2m-1 0h2m0 0h2m-1 0h2m-1 0h2m3 0h2m-14 1h2m0 0h2m0 0h2m0 0h2m-1 0h2m0 0h2m-12 1h2m-1 0h2m-1 0h2m-1 0h2m-1 0h2m3 0h2m1 0h2m-1 0h2" stroke="#f0248c" stroke-width="2" fill="none"/>
<path transform="scale(.5)" d="M735 177h1m-6 1h1m4 1h1m-5 2h1m1 2h1m-5 1h1m-2 1h1m2 2h1m-4 1h1m-4 3h1m-1 1h1m-3 1h1m4 1h1m-5 1h1m0 0h1m-3 2h1m1 0h1m-3 1h1m-1 1h1m0 1h1m-3 2h1m-2 1h1m3 3h1m-7 1h1m1 0h1m0 0h1m1 0h1m-1 1h1m-3 1h1m-4 4h1m0 1h1m-5 1h1m2 0h1m-3 3h1m0 0h1m0 0h1m-2 1h1m-4 1h1m2 0h1m0 0h1m1 0h1m-4 2h1m-2 2h1m0 0h1m-3 1h1m-1 2h1m-1 2h1m-1 1h1m-2 1h1" stroke="#2f74d3" stroke-width="1" fill="none"/>
<path transform="scale(.5)" d="M773 152h2m0 0h2m-13 1h2m-1 0h2m-1 0h2m-1 0h2m-1 0h2m-1 0h2m3 0h2m-1 0h2m-16 1h2m-1 0h2m-1 0h2m-1 0h2m-1 0h2m0 0h2m-1 0h2m0 0h2m-1 0h2m-1 0h2m-1 0h2m0 0h2m-1 0h2m-19 1h2m1 0h2m-1 0h2m-1 0h2m1 0h2m0 0h2m0 0h2m-1 0h2m-1 0h2m-20 1h2m-1 0h2m0 0h2m-1 0h2m-1 0h2m-1 0h2m-1 0h2m0 0h2m-1 0h2m-1 0h2m-1 0h2m0 0h2m1 0h2m-1 0h2m-1 0h2m-22 1h2m-1 0h2m0 0h2m-1 0h2m-1 0h2m-1 0h2m0 0h2m2 0h2m0 0h2m1 0h2m0 0h2m-1 0h2m-22 1h2m1 0h2m2 0h2m-1 0h2m8 0h2m-1 0h2m-20 1h2m2 0h2m0 0h2m-1 0h2m-1 0h2m-1 0h2m-1 0h2m5 0h2m0 0h2m-22 1h2m-1 0h2m0 0h2m0 0h2m1 0h2m0 0h2m-1 0h2m-14 1h2m-1 0h2m0 0h2m0 0h2m2 0h2m-1 0h2m0 0h2m6 0h2m-1 0h2m-23 1h2m2 0h2m-1 0h2m-1 0h2m0 0h2m1 0h2m0 0h2m4 0h2m0 0h2m-21 1h2m-1 0h2m-1 0h2m-1 0h2m-1 0h2m-1 0h2m-1 0h2m-1 0h2m-1 0h2m-1 0h2m0 0h2m-1 0h2m2 0h2m-1 0h2m0 0h2m-24 1h2m0 0h2m0 0h2m5 0h2m1 0h2m0 0h2m-14 1h2m-1 0h2m1 0h2m0 0h2m-1 0h2m5 0h2m-1 0h2m0 0h2m-22 1h2m-1 0h2m2 0h2m-1 0h2m-1 0h2m-1 0h2m-1 0h2m1 0h2m-1 0h2m-1 0h2m-1 0h2m-1 0h2m-1 0h2m-1 0h2m-20 1h2m-1 0h2m3 0h2m0 0h2m4 0h2m-1 0h2m-17 1h2m3 0h2m-1 0h2m0 0h2m1 0h2m-1 0h2m-1 0h2m-1 0h2m-1 0h2m-18 1h2m-1 0h2m-1 0h2m-1 0h2m-1 0h2m0 0h2m-1 0h2m0 0h2m-1 0h2m-1 0h2m-1 0h2m-1 0h2m-1 0h2m-17 1h2m-1 0h2m-1 0h2m-1 0h2m-1 0h2m-1 0h2m-1 0h2m-1 0h2m-1 0h2m-1 0h2m-1 0h2m0 0h2m0 0h2m-11 1h2m0 0h2m-1 0h2m-1 0h2m-1 0h2m-12 1h2m3 0h2m-1 0h2m0 0h2m0 0h2m-1 0h2m-12 1h2m-1 0h2m-1 0h2m1 0h2m-1 0h2m-1 0h2m-1 0h2m-11 1h2m4 0h2m0 0h2m-10 1h2m-1 0h2m1 0h2m-1 0h2m-1 0h2m-1 0h2m-9 1h2m-1 0h2m0 0h2m-4 1h2m-1 0h2m-4 1h2m-1 0h2" stroke="#6b27a8" stroke-width="2" fill="none"/>
<path transform="scale(.5)" d="M750 180h1m-1 2h1m-1 1h1m-6 4h1m-7 3h1m0 0h1m0 0h1m0 0h1m-4 1h1m0 0h1m3 0h1m-7 2h1m0 0h1m1 0h1m0 0h1m-4 1h1m1 0h1m-3 1h1m0 0h1m0 0h1m-6 1h1m4 0h1m-6 1h1m0 0h1m-4 3h1m-3 1h1m2 0h1m-4 1h1m3 0h1m-6 2h1m-1 1h1m0 0h1m0 0h1m-3 2h1m0 0h1m-4 2h1m0 0h1m1 0h1m-7 1h1m-1 2h1m3 0h1m-5 1h1m2 0h1m-5 1h1m2 0h1m-2 1h1m-1 1h1m-4 1h1m-3 2h1m0 0h1m1 0h1" stroke="#6b27a8" stroke-width="1" fill="none"/>
<path transform="scale(.5)" d="M758 221h2m2 0h2m-1 0h2m-1 0h2m-12 1h2m-1 0h2m0 0h2m0 0h2m1 0h2m4 0h2m0 0h2m0 0h2m-20 1h2m-1 0h2m9 0h2m-1 0h2m0 0h2m-1 0h2m-21 1h2m6 0h2m-1 0h2m0 0h2m1 0h2m1 0h2m4 0h2m-26 1h2m-1 0h2m1 0h2m-1 0h2m1 0h2m-1 0h2m0 0h2m1 0h2m1 0h2m-1 0h2m2 0h2m1 0h2m-23 1h2m0 0h2m2 0h2m0 0h2m0 0h2m2 0h2m0 0h2m-1 0h2m0 0h2m-1 0h2m0 0h2m-32 1h2m1 0h2m-1 0h2m0 0h2m1 0h2m-1 0h2m0 0h2m0 0h2m4 0h2m0 0h2m-22 1h2m-1 0h2m-1 0h2m-1 0h2m-1 0h2m0 0h2m-1 0h2m1 0h2m0 0h2m1 0h2m3 0h2m1 0h2m0 0h2m-1 0h2m-28 1h2m-1 0h2m3 0h2m0 0h2m-1 0h2m-1 0h2m-1 0h2m-1 0h2m0 0h2m3 0h2m-1 0h2m-1 0h2m-1 0h2m-1 0h2m-1 0h2m0 0h2m-28 1h2m4 0h2m-1 0h2m0 0h2m2 0h2m2 0h2m4 0h2m-1 0h2m-25 1h2m-1 0h2m0 0h2m-1 0h2m-1 0h2m5 0h2m-1 0h2m-1 0h2m-1 0h2m0 0h2m1 0h2m-1 0h2m-1 0h2m-22 1h2m1 0h2m1 0h2m-1 0h2m-1 0h2m2 0h2m-1 0h2m-1 0h2m0 0h2m-1 0h2m-17 1h2m3 0h2m0 0h2" stroke="#5fe3df" stroke-width="2" fill="none"/>
<path transform="scale(.5)" d="M789 219h1m-2 1h1m0 1h1m-1 2h1m-2 1h1m0 1h1m-1 1h1m-2 1h1m0 0h1m-1 1h1m-2 2h1m-1 1h1" stroke="#8b3bc7" stroke-width="1" fill="none"/>
<path transform="scale(.5)" d="M795 228h2m1 0h2m1 0h2m3 0h2m-20 1h2m10 0h2m0 0h2m-15 1h2m2 0h2m3 0h2m1 0h2m6 0h2m-25 1h2m1 0h2m0 0h2m2 0h2m0 0h2m-1 0h2m-1 0h2m0 0h2m-1 0h2m3 0h2m-26 1h2m8 0h2m3 0h2m2 0h2m-27 1h2m6 0h2m1 0h2m0 0h2m2 0h2m0 0h2m-1 0h2m0 0h2m1 0h2m-1 0h2m6 0h2m0 0h2m-37 1h2m3 0h2m3 0h2m2 0h2m0 0h2m-1 0h2m2 0h2m7 0h2m-1 0h2m0 0h2m-1 0h2m-33 1h2m4 0h2m0 0h2m1 0h2m5 0h2m0 0h2m11 0h2m-40 1h2m4 0h2m1 0h2m3 0h2m2 0h2m0 0h2m4 0h2m-1 0h2m2 0h2m2 0h2m0 0h2m-34 1h2m-1 0h2m0 0h2m0 0h2m1 0h2m-1 0h2m-1 0h2m5 0h2m1 0h2m-1 0h2m-1 0h2m0 0h2m-29 1h2m-1 0h2m-1 0h2m-1 0h2m0 0h2m2 0h2m-1 0h2m-1 0h2m0 0h2m2 0h2m-24 1h2m-1 0h2m7 0h2m-1 0h2m-1 0h2m1 0h2m-1 0h2m4 0h2m1 0h2m11 0h2m-1 0h2m-1 0h2m-42 1h2m-1 0h2m0 0h2m-1 0h2m-1 0h2m7 0h2m-1 0h2m1 0h2m1 0h2m-1 0h2m2 0h2m0 0h2m-1 0h2m-1 0h2m1 0h2m4 0h2m-36 1h2m0 0h2m3 0h2m0 0h2m0 0h2m1 0h2m1 0h2m0 0h2m3 0h2m-1 0h2m0 0h2m0 0h2m0 0h2m-1 0h2m-29 1h2m2 0h2m3 0h2m-1 0h2m-1 0h2m0 0h2m2 0h2m3 0h2m8 0h2m-38 1h2m-1 0h2m6 0h2m2 0h2m-1 0h2m4 0h2m5 0h2m1 0h2m0 0h2m0 0h2m-43 1h2m11 0h2m6 0h2m-1 0h2m-1 0h2m0 0h2m2 0h2m3 0h2m-1 0h2m3 0h2m-36 1h2m4 0h2m12 0h2m3 0h2m9 0h2m-36 1h2m1 0h2m0 0h2m11 0h2m1 0h2m9 0h2m-38 1h2m2 0h2m2 0h2m17 0h2m0 0h2m-1 0h2m3 0h2m-40 1h2m21 0h2m10 0h2m-1 0h2m3 0h2m-39 1h2m-1 0h2m0 0h2m0 0h2m-1 0h2m0 0h2m11 0h2m0 0h2m1 0h2m2 0h2m2 0h2m1 0h2m-39 1h2m0 0h2m-1 0h2m2 0h2m-1 0h2m5 0h2m0 0h2m2 0h2m1 0h2m-1 0h2m2 0h2m-1 0h2m-1 0h2m2 0h2m-37 1h2m2 0h2m-1 0h2m0 0h2m12 0h2m0 0h2m-1 0h2m10 0h2m-37 1h2m-1 0h2m2 0h2m10 0h2m-1 0h2m1 0h2m4 0h2m-1 0h2m0 0h2m2 0h2m-1 0h2m-36 1h2m1 0h2m11 0h2m0 0h2m0 0h2m1 0h2m-1 0h2m5 0h2m-1 0h2m-1 0h2m-36 1h2m19 0h2m1 0h2m0 0h2m2 0h2m3 0h2m-38 1h2m-1 0h2m0 0h2m2 0h2m7 0h2m-1 0h2m6 0h2m0 0h2m0 0h2m1 0h2m-1 0h2m-34 1h2m14 0h2m2 0h2m5 0h2m-1 0h2m-1 0h2m-1 0h2m-27 1h2m1 0h2m0 0h2m3 0h2m0 0h2m0 0h2m-1 0h2m0 0h2m-1 0h2m-1 0h2m1 0h2m2 0h2m0 0h2m-1 0h2m-30 1h2m0 0h2m0 0h2m4 0h2m2 0h2m6 0h2m1 0h2m1 0h2m-27 1h2m-1 0h2m1 0h2m6 0h2m4 0h2m0 0h2m-27 1h2m-1 0h2m-1 0h2m-1 0h2m1 0h2m0 0h2m1 0h2m4 0h2m8 0h2m-28 1h2m-1 0h2m2 0h2m0 0h2m7 0h2m1 0h2m1 0h2m-19 1h2m-1 0h2m10 0h2m3 0h2m-1 0h2m-1 0h2m-1 0h2m-25 1h2m-1 0h2m2 0h2m1 0h2m-1 0h2m0 0h2m6 0h2m0 0h2m-1 0h2m-17 1h2m9 0h2m0 0h2m-12 1h2m0 0h2m0 0h2m3 0h2m-2 1h2" stroke="#d8336a" stroke-width="2" fill="none"/>
<path transform="scale(.5)" d="M730 238h2m5 0h2m-16 1h2m1 0h2m2 0h2m8 0h2m-18 1h2m1 0h2m-1 0h2m0 0h2m5 0h2m0 0h2m-20 1h2m0 0h2m-1 0h2m-1 0h2m0 0h2m-1 0h2m9 0h2m0 0h2m-25 1h2m-1 0h2m1 0h2m-1 0h2m-1 0h2m-1 0h2m1 0h2m-1 0h2m7 0h2m1 0h2m-1 0h2m-1 0h2m-26 1h2m9 0h2m17 0h2m-30 1h2m0 0h2m-1 0h2m-1 0h2m3 0h2m9 0h2m0 0h2m0 0h2m2 0h2m-1 0h2m-34 1h2m0 0h2m-1 0h2m3 0h2m-1 0h2m-1 0h2m0 0h2m-1 0h2m6 0h2m0 0h2m-1 0h2m-1 0h2m0 0h2m-1 0h2m0 0h2m-32 1h2m0 0h2m-1 0h2m-1 0h2m-1 0h2m0 0h2m0 0h2m2 0h2m-1 0h2m0 0h2m0 0h2m0 0h2m2 0h2m-1 0h2m1 0h2m-1 0h2m-19 1h2m1 0h2m1 0h2m0 0h2m-1 0h2m2 0h2m-1 0h2m-1 0h2m-1 0h2m-1 0h2m-33 1h2m-1 0h2m-1 0h2m-1 0h2m0 0h2m-1 0h2m1 0h2m-1 0h2m-1 0h2m-1 0h2m-1 0h2m-1 0h2m-1 0h2m0 0h2m3 0h2m3 0h2m1 0h2m5 0h2m-1 0h2m-38 1h2m-1 0h2m-1 0h2m0 0h2m3 0h2m0 0h2m1 0h2m0 0h2m-1 0h2m-1 0h2m-1 0h2m-1 0h2m-1 0h2m1 0h2m1 0h2m7 0h2m-38 1h2m-1 0h2m3 0h2m0 0h2m-1 0h2m0 0h2m-1 0h2m1 0h2m-1 0h2m0 0h2m0 0h2m-1 0h2m-1 0h2m-1 0h2m0 0h2m-1 0h2m4 0h2m-1 0h2m-1 0h2m-38 1h2m0 0h2m0 0h2m0 0h2m0 0h2m5 0h2m-1 0h2m-1 0h2m-1 0h2m7 0h2m1 0h2m2 0h2m-28 1h2m-1 0h2m-1 0h2m0 0h2m1 0h2m-1 0h2m0 0h2m3 0h2m0 0h2m-1 0h2m2 0h2m1 0h2m-32 1h2m1 0h2m2 0h2m1 0h2m-1 0h2m0 0h2m3 0h2m4 0h2m0 0h2m8 0h2m-36 1h2m2 0h2m9 0h2m2 0h2m0 0h2m-1 0h2m-1 0h2m0 0h2m-1 0h2m-31 1h2m2 0h2m-1 0h2m0 0h2m3 0h2m-1 0h2m3 0h2m-1 0h2m2 0h2m-1 0h2m-1 0h2m1 0h2m0 0h2m4 0h2m-35 1h2m0 0h2m-1 0h2m3 0h2m0 0h2m3 0h2m0 0h2m-1 0h2m4 0h2m1 0h2m-1 0h2m-1 0h2m1 0h2m-34 1h2m1 0h2m-1 0h2m-1 0h2m1 0h2m-1 0h2m6 0h2m1 0h2m-1 0h2m-1 0h2m-1 0h2m1 0h2m3 0h2m-1 0h2m-26 1h2m-1 0h2m0 0h2m-1 0h2m3 0h2m10 0h2m-27 1h2m0 0h2m-1 0h2m1 0h2m-1 0h2m2 0h2m4 0h2m-1 0h2m2 0h2m-1 0h2m-22 1h2m1 0h2m-1 0h2m1 0h2m-1 0h2m-1 0h2m0 0h2m1 0h2m0 0h2m0 0h2m-15 1h2m0 0h2m1 0h2m1 0h2m-1 0h2m0 0h2m0 0h2m-14 1h2m7 0h2" stroke="#e23636" stroke-width="2" fill="none"/>
<path transform="scale(.5)" d="M646 258h2m-9 1h2m0 0h2m-1 0h2m-1 0h2m0 0h2m0 0h2m1 0h2m1 0h2m-21 1h2m1 0h2m7 0h2m1 0h2m3 0h2m2 0h2m-29 1h2m2 0h2m0 0h2m6 0h2m1 0h2m8 0h2m-23 1h2m1 0h2m0 0h2m3 0h2m0 0h2m-1 0h2m0 0h2m0 0h2m2 0h2m0 0h2m1 0h2m0 0h2m-35 1h2m-1 0h2m2 0h2m-1 0h2m0 0h2m1 0h2m-1 0h2m0 0h2m-1 0h2m4 0h2m-1 0h2m2 0h2m-37 1h2m6 0h2m0 0h2m4 0h2m0 0h2m1 0h2m4 0h2m2 0h2m0 0h2m0 0h2m0 0h2m2 0h2m-40 1h2m5 0h2m4 0h2m4 0h2m-1 0h2m2 0h2m2 0h2m4 0h2m-38 1h2m3 0h2m2 0h2m3 0h2m-1 0h2m0 0h2m0 0h2m1 0h2m3 0h2m-1 0h2m-1 0h2m-1 0h2m8 0h2m0 0h2m-36 1h2m0 0h2m-1 0h2m0 0h2m4 0h2m-1 0h2m1 0h2m4 0h2m-1 0h2m-1 0h2m-1 0h2m0 0h2m2 0h2m-1 0h2m-1 0h2m-1 0h2m-33 1h2m-1 0h2m3 0h2m2 0h2m4 0h2m6 0h2m1 0h2m-32 1h2m-1 0h2m-1 0h2m6 0h2m0 0h2m1 0h2m4 0h2m1 0h2m-1 0h2m0 0h2m1 0h2m-1 0h2m0 0h2m0 0h2m-1 0h2m-38 1h2m4 0h2m-1 0h2m3 0h2m-1 0h2m0 0h2m6 0h2m2 0h2m2 0h2m-1 0h2m-1 0h2m-1 0h2m-33 1h2m5 0h2m-1 0h2m0 0h2m0 0h2m6 0h2m-1 0h2m1 0h2m-1 0h2m-1 0h2m5 0h2m-35 1h2m6 0h2m0 0h2m9 0h2m0 0h2m2 0h2m2 0h2m-34 1h2m1 0h2m0 0h2m0 0h2m-1 0h2m1 0h2m-1 0h2m7 0h2m-1 0h2m0 0h2m3 0h2m4 0h2m-42 1h2m4 0h2m-1 0h2m1 0h2m4 0h2m12 0h2m5 0h2m-39 1h2m5 0h2m4 0h2m2 0h2m11 0h2m3 0h2m1 0h2m-47 1h2m3 0h2m6 0h2m4 0h2m1 0h2m-1 0h2m1 0h2m-1 0h2m1 0h2m-1 0h2m0 0h2m0 0h2m-1 0h2m-1 0h2m1 0h2m1 0h2m1 0h2m-44 1h2m-1 0h2m0 0h2m2 0h2m0 0h2m-1 0h2m0 0h2m7 0h2m0 0h2m9 0h2m2 0h2m0 0h2m2 0h2m-50 1h2m-1 0h2m0 0h2m-1 0h2m-1 0h2m15 0h2m1 0h2m1 0h2m2 0h2m3 0h2m3 0h2m-1 0h2m-37 1h2m12 0h2m2 0h2m7 0h2m0 0h2m2 0h2m2 0h2m-43 1h2m1 0h2m-1 0h2m1 0h2m4 0h2m1 0h2m-1 0h2m1 0h2m-1 0h2m3 0h2m0 0h2m0 0h2m2 0h2m3 0h2m-1 0h2m-39 1h2m8 0h2m5 0h2m1 0h2m1 0h2m4 0h2m2 0h2m-27 1h2m-1 0h2m4 0h2m-1 0h2m-1 0h2m8 0h2m2 0h2m-1 0h2m1 0h2m-36 1h2m1 0h2m7 0h2m5 0h2m1 0h2m3 0h2m-24 1h2m1 0h2m5 0h2m0 0h2m-1 0h2m1 0h2m1 0h2m3 0h2m0 0h2m0 0h2m-26 1h2m2 0h2m-1 0h2m1 0h2m4 0h2m6 0h2m-22 1h2m-1 0h2m8 0h2m0 0h2m-1 0h2m3 0h2m-15 1h2m2 0h2m3 0h2m3 0h2m-11 1h2m5 0h2" stroke="#c13ee0" stroke-width="2" fill="none"/>
<path transform="scale(.5)" d="M675 301h2m-2 1h2m-13 1h2m-1 0h2m9 0h2m-28 1h2m1 0h2m0 0h2m2 0h2m1 0h2m4 0h2m-1 0h2m3 0h2m0 0h2m0 0h2m-27 1h2m17 0h2m-23 1h2m0 0h2m2 0h2m15 0h2m-19 1h2m4 0h2m4 0h2m-1 0h2m0 0h2m-17 1h2m1 0h2m-1 0h2m8 0h2m5 0h2m-41 1h2m-1 0h2m15 0h2m1 0h2m7 0h2m-33 1h2m31 0h2m9 0h2m-49 1h2m21 0h2m-1 0h2m15 0h2m3 0h2m-1 0h2m-43 1h2m4 0h2m-1 0h2m11 0h2m1 0h2m2 0h2m4 0h2m2 0h2m1 0h2m-44 1h2m1 0h2m1 0h2m3 0h2m-1 0h2m11 0h2m8 0h2m-1 0h2m-1 0h2m3 0h2m-54 1h2m16 0h2m0 0h2m21 0h2m4 0h2m-1 0h2m-54 1h2m4 0h2m7 0h2m36 0h2m0 0h2m-1 0h2m-59 1h2m1 0h2m1 0h2m11 0h2m21 0h2m-1 0h2m6 0h2m1 0h2m2 0h2m-35 1h2m21 0h2m6 0h2m-1 0h2m-60 1h2m1 0h2m0 0h2m1 0h2m-1 0h2m2 0h2m-1 0h2m6 0h2m16 0h2m9 0h2m2 0h2m0 0h2m1 0h2m-67 1h2m15 0h2m3 0h2m10 0h2m1 0h2m2 0h2m11 0h2m-1 0h2m-59 1h2m1 0h2m2 0h2m6 0h2m1 0h2m-1 0h2m1 0h2m-1 0h2m23 0h2m1 0h2m0 0h2m4 0h2m-59 1h2m5 0h2m21 0h2m-1 0h2m14 0h2m2 0h2m9 0h2m-65 1h2m4 0h2m1 0h2m9 0h2m6 0h2m7 0h2m-38 1h2m30 0h2m4 0h2m19 0h2m-61 1h2m2 0h2m21 0h2m9 0h2m-1 0h2m-1 0h2m-1 0h2m1 0h2m-1 0h2m9 0h2m0 0h2m4 0h2m-62 1h2m14 0h2m8 0h2m10 0h2m-1 0h2m2 0h2m7 0h2m0 0h2m11 0h2m-68 1h2m15 0h2m18 0h2m-41 1h2m-1 0h2m7 0h2m13 0h2m15 0h2m24 0h2m-70 1h2m1 0h2m5 0h2m5 0h2m3 0h2m13 0h2m7 0h2m0 0h2m13 0h2m2 0h2m-71 1h2m3 0h2m6 0h2m3 0h2m5 0h2m0 0h2m10 0h2m9 0h2m6 0h2m7 0h2m0 0h2m-69 1h2m5 0h2m8 0h2m11 0h2m7 0h2m3 0h2m13 0h2m-47 1h2m17 0h2m2 0h2m16 0h2m4 0h2m4 0h2m-61 1h2m21 0h2m-34 1h2m20 0h2m2 0h2m0 0h2m15 0h2m1 0h2m-1 0h2m14 0h2m-49 1h2m13 0h2m1 0h2m14 0h2m0 0h2m10 0h2m0 0h2m-70 1h2m26 0h2m3 0h2m11 0h2m2 0h2m8 0h2m5 0h2m-57 1h2m1 0h2m0 0h2m10 0h2m22 0h2m0 0h2m0 0h2m6 0h2m7 0h2m-75 1h2m-1 0h2m5 0h2m4 0h2m2 0h2m14 0h2m-1 0h2m10 0h2m1 0h2m2 0h2m3 0h2m0 0h2m8 0h2m1 0h2m-69 1h2m0 0h2m3 0h2m13 0h2m13 0h2m-1 0h2m1 0h2m-1 0h2m-1 0h2m0 0h2m13 0h2m-72 1h2m2 0h2m0 0h2m0 0h2m6 0h2m1 0h2m-1 0h2m1 0h2m-1 0h2m13 0h2m0 0h2m0 0h2m7 0h2m1 0h2m3 0h2m-1 0h2m3 0h2m3 0h2m2 0h2m0 0h2m-61 1h2m1 0h2m-1 0h2m18 0h2m-1 0h2m1 0h2m3 0h2m-1 0h2m3 0h2m0 0h2m-1 0h2m2 0h2m10 0h2m-61 1h2m6 0h2m-1 0h2m-1 0h2m9 0h2m0 0h2m0 0h2m-1 0h2m15 0h2m9 0h2m2 0h2m-73 1h2m10 0h2m0 0h2m5 0h2m27 0h2m6 0h2m3 0h2m-1 0h2m7 0h2m-67 1h2m2 0h2m0 0h2m11 0h2m25 0h2m1 0h2m1 0h2m-57 1h2m2 0h2m8 0h2m13 0h2m4 0h2m-42 1h2m0 0h2m3 0h2m2 0h2m1 0h2m18 0h2m7 0h2m12 0h2m9 0h2m7 0h2m-77 1h2m23 0h2m27 0h2m3 0h2m-64 1h2m-1 0h2m-1 0h2m11 0h2m7 0h2m8 0h2m1 0h2m-1 0h2m8 0h2m14 0h2m8 0h2m-76 1h2m12 0h2m11 0h2m9 0h2m7 0h2m-1 0h2m-1 0h2m6 0h2m0 0h2m3 0h2m10 0h2m-76 1h2m11 0h2m3 0h2m1 0h2m21 0h2m9 0h2m6 0h2m-1 0h2m1 0h2m-69 1h2m2 0h2m3 0h2m2 0h2m8 0h2m31 0h2m-1 0h2m-61 1h2m1 0h2m6 0h2m1 0h2m2 0h2m5 0h2m12 0h2m23 0h2m0 0h2m3 0h2m-73 1h2m12 0h2m4 0h2m7 0h2m11 0h2m21 0h2m-1 0h2m-68 1h2m2 0h2m-1 0h2m2 0h2m9 0h2m-1 0h2m-1 0h2m-1 0h2m14 0h2m1 0h2m2 0h2m4 0h2m0 0h2m-1 0h2m-1 0h2m2 0h2m1 0h2m1 0h2m-1 0h2m0 0h2m1 0h2m3 0h2m-69 1h2m2 0h2m20 0h2m4 0h2m-1 0h2m-1 0h2m2 0h2m-1 0h2m12 0h2m2 0h2m-1 0h2m3 0h2m-66 1h2m8 0h2m-1 0h2m0 0h2m8 0h2m3 0h2m1 0h2m15 0h2m9 0h2m2 0h2m1 0h2m-71 1h2m10 0h2m4 0h2m10 0h2m-1 0h2m0 0h2m2 0h2m-1 0h2m-1 0h2m-1 0h2m2 0h2m17 0h2m-70 1h2m10 0h2m11 0h2m-1 0h2m1 0h2m6 0h2m4 0h2m10 0h2m-1 0h2m-45 1h2m12 0h2m1 0h2m-1 0h2m0 0h2m7 0h2m15 0h2m1 0h2m-58 1h2m1 0h2m-1 0h2m3 0h2m14 0h2m-1 0h2m14 0h2m10 0h2m-45 1h2m6 0h2m2 0h2m0 0h2m-1 0h2m5 0h2m28 0h2m-45 1h2m7 0h2m8 0h2m-36 1h2m1 0h2m6 0h2m9 0h2m-1 0h2m0 0h2m6 0h2m-1 0h2m-1 0h2m-1 0h2m5 0h2m14 0h2m4 0h2m-69 1h2m7 0h2m-1 0h2m5 0h2m7 0h2m0 0h2m3 0h2m10 0h2m6 0h2m-1 0h2m-58 1h2m13 0h2m21 0h2m8 0h2m13 0h2m2 0h2m0 0h2m-67 1h2m1 0h2m3 0h2m2 0h2m-1 0h2m12 0h2m22 0h2m2 0h2m-40 1h2m26 0h2m6 0h2m7 0h2m-1 0h2m-59 1h2m19 0h2m5 0h2m-1 0h2m8 0h2m-1 0h2m-1 0h2m10 0h2m-42 1h2m1 0h2m5 0h2m29 0h2m1 0h2m-1 0h2m-40 1h2m6 0h2m6 0h2m6 0h2m-41 1h2m3 0h2m5 0h2m4 0h2m15 0h2m-1 0h2m-1 0h2m6 0h2m-45 1h2m0 0h2m0 0h2m9 0h2m7 0h2m13 0h2m1 0h2m3 0h2m1 0h2m-1 0h2m-47 1h2m3 0h2m14 0h2m2 0h2m6 0h2m3 0h2m-1 0h2m3 0h2m-30 1h2m0 0h2m6 0h2m15 0h2m-31 1h2m5 0h2m1 0h2m3 0h2m0 0h2m2 0h2m-1 0h2m-18 1h2m-1 0h2m9 0h2m-9 1h2" stroke="#2fc2a6" stroke-width="2" fill="none"/>
<path transform="scale(.5)" d="M680 307h2m-8 1h2m-9 1h2m5 0h2m2 0h2m-10 1h2m0 0h2m-1 0h2m1 0h2m-17 1h2m13 0h2m-29 1h2m6 0h2m0 0h2m-1 0h2m9 0h2m1 0h2m2 0h2m-31 1h2m1 0h2m-1 0h2m0 0h2m-1 0h2m0 0h2m0 0h2m-1 0h2m11 0h2m-21 1h2m3 0h2m0 0h2m4 0h2m-18 1h2m0 0h2m15 0h2m3 0h2m-32 1h2m3 0h2m2 0h2m1 0h2m-1 0h2m-12 1h2m-1 0h2m1 0h2m2 0h2m1 0h2m-1 0h2m-1 0h2m1 0h2m1 0h2m5 0h2m-35 1h2m0 0h2m0 0h2m-1 0h2m1 0h2m2 0h2m1 0h2m6 0h2m-35 1h2m8 0h2m4 0h2m9 0h2m0 0h2m0 0h2m2 0h2m3 0h2m-1 0h2m-45 1h2m-1 0h2m0 0h2m13 0h2m6 0h2m2 0h2m1 0h2m4 0h2m-1 0h2m-1 0h2m-30 1h2m4 0h2m3 0h2m8 0h2m0 0h2m-1 0h2m-1 0h2m-42 1h2m11 0h2m-1 0h2m-1 0h2m12 0h2m-1 0h2m1 0h2m0 0h2m0 0h2m1 0h2m-46 1h2m0 0h2m-1 0h2m8 0h2m9 0h2m-1 0h2m15 0h2m-1 0h2m-46 1h2m0 0h2m0 0h2m1 0h2m7 0h2m-1 0h2m3 0h2m8 0h2m2 0h2m-44 1h2m6 0h2m3 0h2m7 0h2m-1 0h2m1 0h2m1 0h2m7 0h2m-1 0h2m3 0h2m0 0h2m-39 1h2m2 0h2m0 0h2m0 0h2m2 0h2m6 0h2m-1 0h2m8 0h2m-1 0h2m0 0h2m-46 1h2m0 0h2m4 0h2m3 0h2m-1 0h2m3 0h2m-1 0h2m0 0h2m7 0h2m10 0h2m-45 1h2m7 0h2m-1 0h2m-1 0h2m-1 0h2m-1 0h2m0 0h2m8 0h2m3 0h2m-29 1h2m6 0h2m12 0h2m-1 0h2m4 0h2m-38 1h2m2 0h2m-1 0h2m-1 0h2m6 0h2m5 0h2m1 0h2m9 0h2m-47 1h2m11 0h2m4 0h2m0 0h2m4 0h2m4 0h2m-35 1h2m6 0h2m-1 0h2m3 0h2m-1 0h2m12 0h2m6 0h2m1 0h2m-1 0h2m-49 1h2m1 0h2m0 0h2m-1 0h2m0 0h2m0 0h2m0 0h2m3 0h2m2 0h2m21 0h2m-47 1h2m6 0h2m2 0h2m2 0h2m2 0h2m16 0h2m1 0h2m-1 0h2m1 0h2m-42 1h2m4 0h2m0 0h2m4 0h2m9 0h2m-1 0h2m-39 1h2m16 0h2m17 0h2m3 0h2m-1 0h2m-45 1h2m-1 0h2m0 0h2m5 0h2m1 0h2m7 0h2m1 0h2m-1 0h2m7 0h2m1 0h2m-1 0h2m-41 1h2m0 0h2m1 0h2m-1 0h2m1 0h2m-1 0h2m4 0h2m3 0h2m1 0h2m1 0h2m5 0h2m1 0h2m0 0h2m-1 0h2m-1 0h2m1 0h2m-1 0h2m-47 1h2m0 0h2m-1 0h2m-1 0h2m5 0h2m0 0h2m0 0h2m6 0h2m0 0h2m7 0h2m2 0h2m0 0h2m-1 0h2m-43 1h2m0 0h2m-1 0h2m8 0h2m-1 0h2m8 0h2m0 0h2m5 0h2m4 0h2m-1 0h2m-49 1h2m1 0h2m1 0h2m-1 0h2m-1 0h2m-1 0h2m8 0h2m5 0h2m-1 0h2m8 0h2m3 0h2m-24 1h2m-1 0h2m-1 0h2m9 0h2m2 0h2m1 0h2m-1 0h2m-44 1h2m-1 0h2m0 0h2m0 0h2m13 0h2m1 0h2m3 0h2m-1 0h2m1 0h2m2 0h2m1 0h2m-1 0h2m-42 1h2m10 0h2m6 0h2m0 0h2m4 0h2m3 0h2m0 0h2m0 0h2m-1 0h2m-1 0h2m-1 0h2m-31 1h2m7 0h2m4 0h2m0 0h2m3 0h2m-40 1h2m-1 0h2m0 0h2m0 0h2m4 0h2m2 0h2m1 0h2m19 0h2m0 0h2m-44 1h2m-1 0h2m2 0h2m0 0h2m6 0h2m11 0h2m-1 0h2m3 0h2m1 0h2m0 0h2m0 0h2m-38 1h2m8 0h2m0 0h2m9 0h2m1 0h2m-1 0h2m-1 0h2m2 0h2m0 0h2m-41 1h2m4 0h2m-1 0h2m8 0h2m-1 0h2m1 0h2m3 0h2m0 0h2m2 0h2m7 0h2m-44 1h2m3 0h2m-1 0h2m-1 0h2m-1 0h2m0 0h2m0 0h2m0 0h2m0 0h2m5 0h2m1 0h2m-1 0h2m-19 1h2m6 0h2m2 0h2m3 0h2m0 0h2m-25 1h2m-1 0h2m0 0h2m-1 0h2m1 0h2m1 0h2m4 0h2m1 0h2m-1 0h2m3 0h2m-27 1h2m2 0h2m2 0h2m3 0h2m-1 0h2m7 0h2m-1 0h2m-1 0h2m-26 1h2m-1 0h2m-1 0h2m2 0h2m13 0h2m3 0h2m-23 1h2m1 0h2m0 0h2m-1 0h2m-1 0h2m0 0h2m0 0h2m3 0h2m-18 1h2m2 0h2m0 0h2m1 0h2m-1 0h2m-13 1h2m2 0h2m0 0h2m1 0h2m-1 0h2m-9 1h2" stroke="#f3e466" stroke-width="2" fill="none"/>
<path transform="scale(.5)" d="M628 297h2m1 0h2m4 0h2m-1 0h2m-17 1h2m11 0h2m-17 1h2m0 0h2m2 0h2m-1 0h2m1 0h2m-1 0h2m0 0h2m0 0h2m-9 1h2m3 0h2m0 0h2m1 0h2m1 0h2m0 0h2m-27 1h2m1 0h2m1 0h2m2 0h2m0 0h2m1 0h2m0 0h2m1 0h2m-1 0h2m-1 0h2m0 0h2m-22 1h2m0 0h2m1 0h2m0 0h2m0 0h2m0 0h2m2 0h2m-22 1h2m2 0h2m-1 0h2m0 0h2m3 0h2m-1 0h2m2 0h2m0 0h2m-1 0h2m-20 1h2m0 0h2m5 0h2m-1 0h2m0 0h2m1 0h2m-1 0h2m0 0h2m3 0h2m1 0h2m-34 1h2m5 0h2m8 0h2m0 0h2m0 0h2m5 0h2m0 0h2m-1 0h2m-33 1h2m1 0h2m1 0h2m-1 0h2m-1 0h2m6 0h2m-1 0h2m-1 0h2m6 0h2m0 0h2m1 0h2m1 0h2m-37 1h2m-1 0h2m-1 0h2m2 0h2m3 0h2m-1 0h2m0 0h2m-1 0h2m-1 0h2m5 0h2m0 0h2m2 0h2m0 0h2m0 0h2m-1 0h2m0 0h2m-34 1h2m-1 0h2m0 0h2m4 0h2m0 0h2m2 0h2m-1 0h2m-1 0h2m3 0h2m1 0h2m-1 0h2m2 0h2m-35 1h2m0 0h2m-1 0h2m-1 0h2m0 0h2m2 0h2m0 0h2m-1 0h2m3 0h2m3 0h2m-1 0h2m1 0h2m1 0h2m-1 0h2m0 0h2m0 0h2m-1 0h2m-39 1h2m-1 0h2m0 0h2m5 0h2m-1 0h2m3 0h2m7 0h2m3 0h2m0 0h2m-34 1h2m0 0h2m-1 0h2m4 0h2m2 0h2m0 0h2m8 0h2m-1 0h2m1 0h2m0 0h2m-33 1h2m-1 0h2m0 0h2m0 0h2m-1 0h2m-1 0h2m5 0h2m9 0h2m-1 0h2m-1 0h2m3 0h2m2 0h2m-38 1h2m2 0h2m5 0h2m19 0h2m3 0h2m-38 1h2m0 0h2m3 0h2m1 0h2m-1 0h2m1 0h2m-1 0h2m1 0h2m3 0h2m-12 1h2m2 0h2m3 0h2m-1 0h2m-1 0h2m4 0h2m-1 0h2m-32 1h2m3 0h2m-1 0h2m3 0h2m-1 0h2m7 0h2m-1 0h2m7 0h2m-31 1h2m-1 0h2m3 0h2m-1 0h2m0 0h2m2 0h2m3 0h2m-1 0h2m1 0h2m3 0h2m-30 1h2m0 0h2m5 0h2m-1 0h2m4 0h2m-1 0h2m-1 0h2m1 0h2m1 0h2m0 0h2m-26 1h2m-1 0h2m-1 0h2m4 0h2m3 0h2m-1 0h2m-1 0h2m0 0h2m6 0h2m-23 1h2m-1 0h2m1 0h2m-1 0h2m2 0h2m-1 0h2m6 0h2m-21 1h2m4 0h2m1 0h2m0 0h2m2 0h2m-1 0h2m1 0h2m0 0h2m-21 1h2m0 0h2m1 0h2m1 0h2m-1 0h2m-1 0h2m4 0h2m-1 0h2m-17 1h2m4 0h2m2 0h2m-1 0h2m-8 1h2m3 0h2" stroke="#9fd246" stroke-width="2" fill="none"/>
<path transform="scale(.5)" d="M685 259h2m-6 1h2m-1 0h2m-1 0h2m-1 0h2m-3 1h2m-3 1h2m3 0h2m-6 1h2m1 0h2m-7 1h2m-2 1h2m3 0h2m2 0h2m-14 1h2m1 0h2m-9 1h2m5 0h2m3 0h2m0 0h2m2 0h2m-20 1h2m-1 0h2m5 0h2m1 0h2m1 0h2m-3 1h2m4 0h2m-21 1h2m-1 0h2m-1 0h2m3 0h2m3 0h2m7 0h2m-20 1h2m3 0h2m0 0h2m1 0h2m3 0h2m1 0h2m-21 1h2m2 0h2m3 0h2m-11 1h2m1 0h2m-7 1h2m1 0h2m14 0h2m-21 1h2m2 0h2m2 0h2m0 0h2m-1 0h2m-13 1h2m2 0h2m-1 0h2m-1 0h2m-1 0h2m1 0h2m-1 0h2m-1 0h2m4 0h2m-1 0h2m-14 1h2m-1 0h2m1 0h2m-1 0h2m2 0h2m-15 1h2m-1 0h2m0 0h2m1 0h2m1 0h2m1 0h2m0 0h2m-18 1h2m-1 0h2m0 0h2m2 0h2m0 0h2m0 0h2m3 0h2m-18 1h2m-1 0h2m-1 0h2m-1 0h2m1 0h2m1 0h2m3 0h2m-10 1h2m3 0h2m2 0h2m-1 0h2m0 0h2m-20 1h2m0 0h2m0 0h2m-1 0h2m5 0h2m0 0h2m2 0h2m-1 0h2m-1 0h2m0 0h2m-15 1h2m3 0h2m1 0h2m1 0h2m0 0h2m-1 0h2m-24 1h2m1 0h2m0 0h2m0 0h2m-1 0h2m-1 0h2m9 0h2m-23 1h2m0 0h2m1 0h2m5 0h2m0 0h2m9 0h2m-1 0h2m-26 1h2m4 0h2m6 0h2m1 0h2m-1 0h2m4 0h2m-27 1h2m-1 0h2m-1 0h2m-1 0h2m0 0h2m9 0h2m-1 0h2m-1 0h2m-15 1h2m1 0h2m0 0h2m-1 0h2m5 0h2m1 0h2m-24 1h2m-1 0h2m8 0h2m5 0h2m1 0h2m4 0h2m-26 1h2m5 0h2m5 0h2m3 0h2m2 0h2m-13 1h2m1 0h2m1 0h2m1 0h2m-11 1h2m4 0h2m0 0h2m-12 1h2m12 0h2m-11 1h2m0 0h2m1 0h2m0 0h2m0 0h2m-25 1h2m7 0h2m2 0h2m2 0h2m-1 0h2m3 0h2m-1 0h2m-26 1h2m3 0h2m4 0h2m5 0h2m1 0h2m0 0h2m-22 1h2m7 0h2m-9 1h2m1 0h2m14 0h2m-27 1h2m-1 0h2m0 0h2m0 0h2m0 0h2m0 0h2m2 0h2m1 0h2m0 0h2m1 0h2m-20 1h2m2 0h2m-1 0h2m0 0h2m6 0h2m-16 1h2m0 0h2m0 0h2m7 0h2m-1 0h2m4 0h2m0 0h2m-1 0h2m-21 1h2m0 0h2m-1 0h2m1 0h2m0 0h2m1 0h2m-1 0h2m1 0h2m-1 0h2m-17 1h2m5 0h2m1 0h2m1 0h2m-21 1h2m3 0h2m2 0h2m3 0h2m-1 0h2m-1 0h2m7 0h2m-17 1h2m-1 0h2m0 0h2m0 0h2m2 0h2m-18 1h2m7 0h2m1 0h2m2 0h2m3 0h2m-11 1h2m-1 0h2m1 0h2m3 0h2m-1 0h2m-20 1h2m11 0h2m-1 0h2m0 0h2m1 0h2m-28 1h2m3 0h2m9 0h2m2 0h2m-1 0h2m-1 0h2m1 0h2m-22 1h2m9 0h2m-1 0h2m1 0h2m-1 0h2m-1 0h2m1 0h2m-1 0h2m-1 0h2m-28 1h2m2 0h2m8 0h2m-1 0h2m-1 0h2m1 0h2m3 0h2m-1 0h2m-28 1h2m2 0h2m16 0h2m1 0h2m-23 1h2m8 0h2m5 0h2m0 0h2m-1 0h2m-1 0h2m0 0h2m-28 1h2m1 0h2m4 0h2m2 0h2m4 0h2m-11 1h2m2 0h2m0 0h2m0 0h2m5 0h2m-1 0h2m-26 1h2m10 0h2m0 0h2m-1 0h2m2 0h2m2 0h2m-17 1h2m0 0h2m4 0h2m3 0h2m-25 2h2m-1 0h2m7 0h2m1 0h2m1 0h2m-1 0h2m-1 0h2m3 0h2m-1 0h2m2 0h2m-29 1h2m-1 0h2m11 0h2m8 0h2m0 0h2m-28 1h2m-1 0h2m-1 0h2m7 0h2m1 0h2m-1 0h2m2 0h2m6 0h2m-22 1h2m1 0h2m-1 0h2m5 0h2m0 0h2m0 0h2m-24 1h2m1 0h2m3 0h2m3 0h2m-1 0h2m-1 0h2m0 0h2m4 0h2m0 0h2m-25 1h2m-1 0h2m12 0h2m-1 0h2m-12 1h2m6 0h2m6 0h2m-8 2h2m-1 0h2m1 2h2m-15 1h2m11 0h2m5 0h2m-22 1h2m12 0h2m1 0h2m-11 1h2m-1 0h2m-1 0h2m1 0h2m0 0h2m1 0h2m-1 0h2m-15 1h2m2 0h2m0 0h2m-1 0h2m1 0h2m0 0h2m-6 1h2m-1 0h2m-12 1h2m2 0h2m-1 1h2m-1 0h2m-1 0h2m-1 0h2m0 0h2m-6 1h2m0 0h2m3 0h2m-16 1h2m9 0h2m4 0h2m-20 1h2m3 0h2m3 0h2m-1 0h2m5 0h2m-20 1h2m1 0h2m-1 0h2m0 0h2m2 0h2m4 0h2m-14 1h2m4 0h2m2 0h2m0 0h2m-20 1h2m8 0h2m3 0h2m0 0h2m-1 0h2m1 0h2m-24 1h2m0 0h2m0 0h2m2 0h2m8 0h2m-17 1h2m2 0h2m3 0h2m0 0h2m2 0h2m-21 1h2m8 0h2m-2 1h2m3 0h2m3 0h2m0 0h2m-1 0h2m-1 0h2m-24 1h2m2 0h2m1 0h2m11 0h2m-23 1h2m12 0h2m2 0h2m-17 1h2m-1 0h2m2 0h2m7 0h2m-17 1h2m-1 0h2m8 0h2m-13 1h2m0 0h2m1 0h2m2 0h2m-1 0h2m2 0h2m2 0h2m-18 1h2m0 0h2m1 0h2m2 0h2m1 0h2m-11 1h2m-1 0h2m1 0h2m9 0h2m-17 1h2m1 0h2m-1 0h2m4 0h2m-8 1h2m3 0h2m0 0h2m-14 1h2m0 0h2m5 0h2m0 0h2m-15 1h2m2 0h2m2 0h2m-1 0h2m2 0h2m-14 1h2m3 0h2m3 0h2m3 0h2m-17 1h2m0 0h2m0 0h2m6 0h2m-8 1h2m4 0h2m0 0h2m-1 0h2m-15 1h2m2 0h2m3 0h2m2 0h2m-15 1h2m7 0h2m1 0h2m-1 0h2m-14 1h2m-2 1h2m6 0h2m0 0h2m-9 1h2m-1 0h2m-1 0h2m3 0h2m-10 1h2m0 0h2m7 0h2" stroke="#a8c134" stroke-width="2" fill="none"/>
<path transform="scale(.5)" d="M703 254h2m0 0h2m0 1h2m0 0h2m-4 1h2m3 0h2m4 0h2m-1 0h2m0 0h2m-22 1h2m0 0h2m-1 0h2m-1 0h2m3 0h2m3 0h2m2 0h2m0 0h2m-22 1h2m-1 0h2m0 0h2m-1 0h2m2 0h2m2 0h2m0 0h2m1 0h2m1 0h2m0 0h2m-27 1h2m-1 0h2m-1 0h2m-1 0h2m0 0h2m0 0h2m-1 0h2m0 0h2m0 0h2m0 0h2m0 0h2m4 0h2m0 0h2m0 0h2m-26 1h2m13 0h2m0 0h2m1 0h2m-1 0h2m1 0h2m-1 0h2m-1 0h2m0 0h2m-32 1h2m-1 0h2m0 0h2m-1 0h2m-1 0h2m1 0h2m-1 0h2m6 0h2m6 0h2m-26 1h2m15 0h2m2 0h2m0 0h2m6 0h2m-35 1h2m4 0h2m10 0h2m1 0h2m0 0h2m9 0h2m-1 0h2m-41 1h2m1 0h2m5 0h2m0 0h2m1 0h2m11 0h2m-1 0h2m-1 0h2m-1 0h2m4 0h2m-40 1h2m2 0h2m-1 0h2m1 0h2m-1 0h2m3 0h2m-1 0h2m0 0h2m3 0h2m1 0h2m2 0h2m2 0h2m-1 0h2m-1 0h2m0 0h2m1 0h2m-41 1h2m9 0h2m6 0h2m3 0h2m0 0h2m1 0h2m1 0h2m-1 0h2m1 0h2m0 0h2m-1 0h2m-1 0h2m-38 1h2m8 0h2m4 0h2m0 0h2m-1 0h2m4 0h2m-1 0h2m2 0h2m0 0h2m2 0h2m-1 0h2m0 0h2m-1 0h2m-43 1h2m2 0h2m-1 0h2m5 0h2m-1 0h2m0 0h2m10 0h2m-1 0h2m-1 0h2m2 0h2m2 0h2m-1 0h2m2 0h2m-46 1h2m-1 0h2m0 0h2m-1 0h2m-1 0h2m4 0h2m-1 0h2m0 0h2m-1 0h2m6 0h2m1 0h2m2 0h2m-1 0h2m10 0h2m-47 1h2m5 0h2m7 0h2m-1 0h2m1 0h2m4 0h2m-1 0h2m-1 0h2m-1 0h2m3 0h2m1 0h2m-40 1h2m14 0h2m6 0h2m6 0h2m1 0h2m0 0h2m1 0h2m-1 0h2m4 0h2m-31 1h2m-1 0h2m-1 0h2m-1 0h2m-1 0h2m0 0h2m0 0h2m0 0h2m-1 0h2m1 0h2m2 0h2m3 0h2m-1 0h2m-34 1h2m4 0h2m1 0h2m5 0h2m-1 0h2m-1 0h2m0 0h2m-1 0h2m4 0h2m6 0h2m-1 0h2m-34 1h2m-1 0h2m2 0h2m-1 0h2m3 0h2m2 0h2m2 0h2m-1 0h2m0 0h2m-1 0h2m-1 0h2m0 0h2m2 0h2m-45 1h2m8 0h2m1 0h2m4 0h2m9 0h2m2 0h2m0 0h2m-1 0h2m-1 0h2m5 0h2m-1 0h2m-33 1h2m1 0h2m1 0h2m-1 0h2m-1 0h2m2 0h2m0 0h2m-1 0h2m3 0h2m1 0h2m-1 0h2m-1 0h2m1 0h2m-44 1h2m7 0h2m1 0h2m4 0h2m1 0h2m0 0h2m9 0h2m0 0h2m1 0h2m1 0h2m2 0h2m-49 1h2m1 0h2m0 0h2m2 0h2m0 0h2m-1 0h2m4 0h2m-1 0h2m2 0h2m1 0h2m8 0h2m6 0h2m-47 1h2m4 0h2m0 0h2m3 0h2m0 0h2m2 0h2m1 0h2m0 0h2m0 0h2m15 0h2m1 0h2m-1 0h2m-1 0h2m-1 0h2m-50 1h2m0 0h2m-1 0h2m0 0h2m-1 0h2m-1 0h2m-1 0h2m2 0h2m1 0h2m1 0h2m0 0h2m0 0h2m0 0h2m1 0h2m7 0h2m6 0h2m-1 0h2m-1 0h2m-1 0h2m-1 0h2m-45 1h2m4 0h2m-1 0h2m3 0h2m0 0h2m1 0h2m3 0h2m10 0h2m5 0h2m-45 1h2m3 0h2m1 0h2m-1 0h2m1 0h2m7 0h2m2 0h2m-31 1h2m4 0h2m1 0h2m-1 0h2m1 0h2m1 0h2m4 0h2m25 0h2m-48 1h2m5 0h2m-1 0h2m8 0h2m-1 0h2m-1 0h2m0 0h2m10 0h2m10 0h2m-46 1h2m1 0h2m3 0h2m-1 0h2m1 0h2m1 0h2m0 0h2m8 0h2m1 0h2m-1 0h2m0 0h2m9 0h2m-47 1h2m-1 0h2m-1 0h2m6 0h2m0 0h2m1 0h2m1 0h2m8 0h2m13 0h2m-44 1h2m34 0h2m0 0h2m1 0h2m0 0h2m-43 1h2m4 0h2m1 0h2m-1 0h2m1 0h2m0 0h2m1 0h2m11 0h2m4 0h2m-1 0h2m-43 1h2m0 0h2m-1 0h2m8 0h2m0 0h2m1 0h2m0 0h2m-1 0h2m5 0h2m-1 0h2m-1 0h2m2 0h2m7 0h2m-1 0h2m-43 1h2m-1 0h2m6 0h2m-1 0h2m1 0h2m8 0h2m-1 0h2m1 0h2m2 0h2m0 0h2m4 0h2m2 0h2m-49 1h2m2 0h2m0 0h2m-1 0h2m-1 0h2m-1 0h2m3 0h2m-1 0h2m1 0h2m-1 0h2m0 0h2m-1 0h2m23 0h2m-48 1h2m0 0h2m1 0h2m-1 0h2m0 0h2m1 0h2m3 0h2m8 0h2m17 0h2m-47 1h2m-1 0h2m1 0h2m6 0h2m4 0h2m3 0h2m-1 0h2m1 0h2m-1 0h2m9 0h2m3 0h2m-45 1h2m3 0h2m4 0h2m-1 0h2m0 0h2m7 0h2m1 0h2m10 0h2m-28 1h2m0 0h2m3 0h2m1 0h2m0 0h2m-25 1h2m-1 0h2m11 0h2m1 0h2m-1 0h2m-1 0h2m4 0h2m-1 0h2m3 0h2m7 0h2m-1 0h2m-38 1h2m-1 0h2m0 0h2m0 0h2m3 0h2m-1 0h2m-1 0h2m0 0h2m2 0h2m0 0h2m1 0h2m10 0h2m-37 1h2m-1 0h2m3 0h2m-1 0h2m3 0h2m-1 0h2m2 0h2m-1 0h2m0 0h2m1 0h2m-1 0h2m-28 1h2m2 0h2m1 0h2m7 0h2m0 0h2m0 0h2m1 0h2m0 0h2m0 0h2m-26 1h2m0 0h2m2 0h2m-1 0h2m6 0h2m5 0h2m0 0h2m1 0h2m-26 1h2m3 0h2m4 0h2m1 0h2m3 0h2m2 0h2m-28 1h2m6 0h2m1 0h2m5 0h2m0 0h2m0 0h2m0 0h2m0 0h2m1 0h2m-28 1h2m3 0h2m-1 0h2m9 0h2m3 0h2m0 0h2m4 0h2m-36 1h2m0 0h2m8 0h2m1 0h2m-1 0h2m-1 0h2m1 0h2m0 0h2m-1 0h2m0 0h2m1 0h2m-1 0h2m-1 0h2m-33 1h2m2 0h2m0 0h2m1 0h2m-1 0h2m2 0h2m4 0h2m-1 0h2m2 0h2m0 0h2m0 0h2m-28 1h2m1 0h2m0 0h2m1 0h2m0 0h2m5 0h2m-1 0h2m5 0h2m-23 1h2m0 0h2m6 0h2m-1 0h2m1 0h2m0 0h2m5 0h2m0 0h2m-28 1h2m0 0h2m0 0h2m4 0h2m15 0h2m-24 1h2m-1 0h2m0 0h2m1 0h2m-1 0h2m1 0h2m-1 0h2m-10 1h2m-1 0h2m-1 0h2m0 0h2m-8 1h2m4 0h2m-1 0h2m-1 0h2m-8 1h2" stroke="#1e4fd0" stroke-width="2" fill="none"/>
<path transform="scale(.5)" d="M731 250h2m-4 1h2m-4 3h2m-11 3h2m4 1h2m-1 1h2m-1 0h2m-1 0h2m15 0h2m-36 1h2m5 0h2m18 0h2m-7 2h2m32 0h2m-62 1h2m3 1h2m1 0h2m20 0h2m-1 0h2m20 0h2m-47 1h2m13 0h2m-16 1h2m19 0h2m6 0h2m8 0h2m-25 1h2m4 0h2m9 0h2m-30 1h2m7 0h2m3 0h2m5 1h2m1 0h2m2 0h2m-8 1h2m-37 1h2m13 0h2m3 0h2m0 0h2m-1 0h2m-14 1h2m2 0h2m4 0h2m1 0h2m-1 0h2m-1 0h2m1 0h2m0 0h2m10 0h2m-1 0h2m-46 1h2m2 0h2m-1 0h2m0 0h2m-1 0h2m2 0h2m24 0h2m6 0h2m-46 1h2m3 0h2m11 0h2m2 0h2m2 0h2m-1 0h2m2 0h2m11 0h2m-41 1h2m-1 0h2m16 0h2m1 0h2m1 0h2m-26 1h2m12 0h2m-1 0h2m14 0h2m-48 1h2m13 0h2m3 0h2m-1 0h2m9 0h2m0 0h2m-15 1h2m0 0h2m-1 0h2m2 0h2m2 0h2m4 0h2m1 0h2m-33 1h2m2 0h2m6 0h2m5 0h2m4 0h2m12 0h2m-1 0h2m-27 1h2m0 0h2m4 0h2m3 0h2m4 0h2m1 0h2m0 0h2m3 0h2m2 0h2m-63 1h2m27 0h2m0 0h2m2 0h2m11 0h2m-21 1h2m5 0h2m0 0h2m8 0h2m10 0h2m-42 1h2m6 0h2m-1 0h2m10 0h2m8 0h2m-1 0h2m-27 1h2m0 0h2m1 0h2m0 0h2m2 0h2m2 0h2m8 0h2m-41 1h2m5 0h2m5 0h2m6 0h2m4 0h2m1 0h2m-40 1h2m16 0h2m11 0h2m5 0h2m1 0h2m-15 1h2m5 0h2m1 0h2m9 0h2m11 0h2m-44 1h2m-10 1h2m10 0h2m7 0h2m3 0h2m-1 0h2m-15 1h2m-15 1h2m13 0h2m-20 1h2m4 0h2m-1 0h2m8 0h2m2 0h2m-1 0h2m-1 0h2m-10 1h2m3 0h2m8 1h2m-39 1h2m17 0h2m9 0h2m3 0h2m0 0h2m4 0h2m4 0h2m-64 1h2m26 0h2m4 0h2m5 0h2m-46 1h2m37 0h2m-1 0h2m1 0h2m5 0h2m-16 2h2m13 0h2m11 0h2m-40 1h2m-6 1h2m38 0h2m-8 1h2m-26 2h2m-9 3h2" stroke="#1e4fd0" stroke-width="2" fill="none"/>
<path transform="scale(.5)" d="M731 231h2m9 3h2m-12 8h2m18 0h2m2 1h2m-11 1h2m-12 2h2m4 0h2m16 0h2m-1 0h2m-44 1h2m24 0h2m19 0h2m-43 1h2m40 0h2m-29 1h2m6 0h2m-14 1h2m13 0h2m4 0h2m-31 1h2m-5 1h2m1 0h2m6 0h2m-1 0h2m13 0h2m14 0h2m-52 1h2m1 0h2m1 0h2m1 0h2m-1 0h2m0 0h2m2 0h2m5 0h2m2 0h2m-1 0h2m-16 1h2m2 0h2m0 0h2m0 0h2m-1 0h2m-1 0h2m-1 0h2m13 0h2m3 0h2m-29 1h2m11 0h2m1 0h2m7 0h2m-43 1h2m2 0h2m4 0h2m4 0h2m-1 0h2m4 0h2m-30 1h2m21 0h2m-1 0h2m9 0h2m5 0h2m-31 1h2m20 0h2m1 0h2m-26 1h2m9 0h2m2 0h2m4 0h2m-1 0h2m4 0h2m0 0h2m0 0h2m18 0h2m-62 1h2m1 0h2m16 0h2m15 0h2m5 0h2m-36 1h2m8 0h2m2 0h2m-30 1h2m10 0h2m4 0h2m0 0h2m-1 0h2m0 0h2m11 0h2m-28 1h2m7 0h2m-1 0h2m5 0h2m0 0h2m2 0h2m10 0h2m-29 1h2m3 0h2m-34 1h2m15 0h2m5 0h2m4 0h2m3 0h2m8 0h2m-28 1h2m2 0h2m0 0h2m-7 1h2m3 0h2m-1 0h2m8 0h2m10 0h2m0 0h2m-21 1h2m8 0h2m11 0h2m-37 1h2m0 0h2m4 0h2m17 0h2m5 1h2m-34 1h2m8 0h2m4 1h2m0 0h2m4 0h2m3 0h2m6 0h2m-33 1h2m-1 0h2m20 0h2m-17 1h2m-20 1h2m5 0h2m17 0h2m-40 1h2m2 1h2m33 0h2m-37 1h2m40 0h2m-43 2h2m11 0h2m4 2h2m-18 6h2" stroke="#e23636" stroke-width="2" fill="none"/>
<path transform="scale(.5)" d="M765 249h2m-16 2h2m12 0h2m3 0h2m2 0h2m4 0h2m-15 1h2m0 0h2m16 0h2m-39 1h2m16 0h2m13 0h2m-35 1h2m9 0h2m-7 1h2m14 0h2m-6 1h2m-14 1h2m0 0h2m8 0h2m12 0h2m-37 1h2m10 0h2m-1 0h2m-1 0h2m0 0h2m1 0h2m8 0h2m5 0h2m-1 0h2m-49 1h2m17 0h2m4 0h2m-3 1h2m0 0h2m4 0h2m3 0h2m-1 0h2m0 0h2m1 0h2m7 0h2m-36 1h2m1 0h2m4 0h2m3 0h2m7 0h2m-1 0h2m1 0h2m-26 1h2m0 0h2m3 0h2m7 0h2m2 0h2m-41 1h2m11 0h2m1 0h2m1 0h2m4 0h2m3 0h2m3 0h2m-1 0h2m1 0h2m6 0h2m6 0h2m-50 1h2m-1 0h2m6 0h2m3 0h2m2 0h2m1 0h2m2 0h2m2 0h2m1 0h2m-32 1h2m1 0h2m0 0h2m0 0h2m3 0h2m-1 0h2m-1 0h2m-1 0h2m1 0h2m2 0h2m1 0h2m0 0h2m6 0h2m-35 1h2m11 0h2m-1 0h2m2 0h2m3 0h2m1 0h2m-1 0h2m-30 1h2m10 0h2m2 0h2m3 0h2m2 0h2m0 0h2m-31 1h2m11 0h2m1 0h2m7 0h2m2 0h2m4 0h2m0 0h2m-36 1h2m4 0h2m0 0h2m2 0h2m2 0h2m-1 0h2m4 0h2m0 0h2m-25 1h2m1 0h2m0 0h2m5 0h2m2 0h2m4 0h2m3 0h2m2 0h2m-25 1h2m-1 0h2m1 0h2m2 0h2m1 0h2m-1 0h2m-1 0h2m-1 0h2m0 0h2m2 0h2m6 0h2m-47 1h2m16 0h2m-1 0h2m5 0h2m2 0h2m-1 0h2m2 0h2m0 0h2m-30 1h2m7 0h2m1 0h2m-1 0h2m6 0h2m2 0h2m2 0h2m4 0h2m10 0h2m-44 1h2m0 0h2m3 0h2m2 0h2m1 0h2m-1 0h2m5 0h2m-1 0h2m0 0h2m-22 1h2m0 0h2m10 0h2m0 0h2m6 0h2m-29 1h2m2 0h2m2 0h2m-1 0h2m2 0h2m-1 0h2m-1 0h2m0 0h2m-1 0h2m3 0h2m1 0h2m-37 1h2m-1 0h2m6 0h2m1 0h2m0 0h2m-1 0h2m1 0h2m0 0h2m-1 0h2m6 0h2m6 0h2m-48 1h2m27 0h2m2 0h2m-1 0h2m13 0h2m-46 1h2m8 0h2m-1 1h2m11 0h2m0 0h2m6 0h2m-33 1h2m2 0h2m1 0h2m25 0h2m-25 1h2m-29 1h2m31 1h2m7 0h2m-23 1h2m24 2h2" stroke="#93e245" stroke-width="2" fill="none"/>
<path transform="scale(.5)" d="M777 259h2m-3 4h2m-24 2h2m30 1h2m-20 2h2m5 0h2m0 0h2m-23 2h2m19 0h2m4 0h2m-1 0h2m-16 1h2m2 0h2m2 0h2m-4 1h2m7 0h2m-19 1h2m-1 0h2m11 0h2m-15 1h2m0 0h2m2 0h2m15 0h2m-18 1h2m4 0h2m2 0h2m18 0h2m-39 1h2m0 0h2m8 0h2m-1 0h2m8 0h2m-1 0h2m2 0h2m12 0h2m-53 1h2m7 0h2m-1 0h2m5 0h2m-1 0h2m4 0h2m0 0h2m2 0h2m0 0h2m3 0h2m-1 0h2m-36 1h2m9 0h2m26 0h2m-18 1h2m3 0h2m11 0h2m-44 1h2m4 0h2m5 0h2m3 0h2m-1 0h2m0 0h2m5 0h2m0 0h2m1 0h2m-33 1h2m0 0h2m4 0h2m3 0h2m-1 0h2m0 0h2m0 0h2m0 0h2m-1 0h2m-1 0h2m-1 0h2m0 0h2m-1 0h2m-1 0h2m0 0h2m-1 0h2m-1 0h2m-1 0h2m-1 0h2m13 0h2m-52 1h2m9 0h2m-1 0h2m0 0h2m1 0h2m2 0h2m0 0h2m-1 0h2m-1 0h2m1 0h2m2 0h2m10 0h2m-37 1h2m1 0h2m0 0h2m0 0h2m1 0h2m3 0h2m-1 0h2m5 0h2m1 0h2m-26 1h2m2 0h2m0 0h2m0 0h2m0 0h2m0 0h2m3 0h2m1 0h2m-1 0h2m1 0h2m0 0h2m-1 0h2m-1 0h2m-30 1h2m1 0h2m1 0h2m-1 0h2m-1 0h2m2 0h2m1 0h2m-1 0h2m1 0h2m-1 0h2m-1 0h2m-1 0h2m1 0h2m6 0h2m-47 1h2m13 0h2m7 0h2m-1 0h2m0 0h2m-1 0h2m-1 0h2m6 0h2m-32 1h2m0 0h2m0 0h2m3 0h2m-1 0h2m0 0h2m7 0h2m10 0h2m-31 1h2m0 0h2m0 0h2m0 0h2m0 0h2m1 0h2m11 0h2m8 0h2m13 0h2m-46 1h2m1 0h2m1 0h2m0 0h2m-1 0h2m0 0h2m-1 0h2m0 0h2m0 0h2m-1 0h2m11 0h2m-35 1h2m8 0h2m3 0h2m2 0h2m6 0h2m-31 1h2m-1 0h2m2 0h2m0 0h2m1 0h2m2 0h2m1 0h2m-1 0h2m-1 0h2m4 0h2m3 0h2m-25 1h2m8 0h2m-18 1h2m3 0h2m-1 0h2m10 0h2m6 0h2m-36 1h2m7 0h2m2 0h2m3 0h2m2 0h2m6 0h2m5 0h2m1 0h2m-30 1h2m3 0h2m8 0h2m-10 1h2m9 0h2m12 0h2m-41 1h2m14 0h2m7 0h2m-1 0h2m0 0h2m-1 0h2m21 0h2m-16 2h2m-10 1h2m-15 1h2m1 1h2m5 1h2" stroke="#2f9c8c" stroke-width="2" fill="none"/>
<path transform="scale(.5)" d="M738 276h2m-3 5h2m-15 1h2m-8 1h2m20 0h2m-14 1h2m4 0h2m3 0h2m-17 1h2m7 0h2m5 0h2m-16 1h2m4 0h2m0 0h2m-10 1h2m3 0h2m0 0h2m0 0h2m-8 1h2m0 0h2m6 0h2m-20 1h2m5 1h2m2 0h2m-13 1h2m-1 0h2m7 0h2m3 0h2m0 0h2m-1 0h2m3 0h2m-31 1h2m14 0h2m0 0h2m-1 0h2m1 0h2m-1 0h2m-23 1h2m0 0h2m4 0h2m0 0h2m0 0h2m2 0h2m-19 1h2m2 0h2m0 0h2m10 0h2m-17 1h2m9 0h2m3 0h2m-19 1h2m3 0h2m-1 0h2m4 0h2m0 0h2m0 0h2m-17 1h2m8 0h2m-1 0h2m0 0h2m2 0h2m-12 1h2m4 0h2m2 0h2m-17 1h2m2 0h2m1 0h2m1 0h2m1 0h2m-1 0h2m5 0h2m-21 1h2m-1 0h2m-1 0h2m3 0h2m1 0h2m6 0h2m2 0h2m-29 1h2m0 0h2m4 0h2m7 0h2m0 0h2m5 0h2m-19 1h2m8 0h2m-1 0h2m0 0h2m2 0h2m-1 0h2m-23 1h2m0 0h2m-1 0h2m-1 0h2m-1 0h2m-1 0h2m-1 0h2m-1 0h2m-1 0h2m0 0h2m-1 0h2m1 0h2m-13 1h2m-1 0h2m-1 0h2m-1 0h2m-1 0h2m7 0h2m-20 1h2m3 0h2m-1 0h2m3 0h2m-1 0h2m-1 0h2m-1 0h2m-1 0h2m-1 0h2m-22 1h2m9 0h2m0 0h2m7 0h2m-22 1h2m1 0h2m3 0h2m1 0h2m-1 0h2m2 0h2m-13 1h2m-1 0h2m4 0h2m2 0h2m3 0h2m-25 1h2m4 0h2m0 0h2m-1 0h2m4 0h2m4 0h2m-22 1h2m3 0h2m3 0h2m2 0h2m2 0h2m-1 0h2m-21 1h2m6 0h2m0 0h2m0 0h2m-16 1h2m0 0h2m4 0h2m1 0h2m-3 1h2m3 0h2m1 0h2m-5 1h2m5 0h2m-16 1h2m0 0h2m6 0h2m-18 1h2m5 0h2m1 0h2m-10 1h2m-2 1h2m3 0h2m1 0h2m9 0h2m-20 1h2m10 0h2m-9 1h2m-10 1h2m19 0h2m-11 1h2m4 0h2m-17 3h2m15 1h2" stroke="#b356e2" stroke-width="2" fill="none"/>
<path transform="scale(.5)" d="M760 281h2m-28 4h2m10 0h2m3 0h2m12 2h2m-18 1h2m24 0h2m-30 1h2m-6 1h2m31 0h2m-25 2h2m-1 0h2m13 0h2m-28 1h2m15 0h2m4 0h2m13 0h2m13 0h2m-33 1h2m-49 1h2m12 0h2m12 0h2m1 0h2m2 0h2m-30 1h2m22 0h2m-1 0h2m3 0h2m12 0h2m-45 1h2m18 0h2m1 0h2m11 0h2m-1 0h2m3 0h2m-1 0h2m1 0h2m0 0h2m-30 1h2m11 0h2m1 0h2m1 0h2m7 0h2m-31 1h2m8 0h2m2 0h2m5 0h2m7 0h2m-1 0h2m9 0h2m-37 1h2m2 0h2m1 0h2m3 0h2m0 0h2m4 0h2m-24 1h2m5 0h2m3 0h2m-1 0h2m-1 0h2m-1 0h2m2 0h2m-1 0h2m-1 0h2m7 0h2m-45 1h2m8 0h2m4 0h2m0 0h2m1 0h2m3 0h2m-1 0h2m-1 0h2m1 0h2m9 0h2m-1 0h2m-50 1h2m-1 0h2m0 0h2m11 0h2m-1 0h2m4 0h2m3 0h2m4 0h2m12 0h2m0 0h2m6 0h2m-1 0h2m3 0h2m-52 1h2m2 0h2m3 0h2m-1 0h2m3 0h2m-1 0h2m0 0h2m-1 0h2m-1 0h2m0 0h2m-1 0h2m2 0h2m5 0h2m-1 0h2m0 0h2m-50 1h2m9 0h2m7 0h2m0 0h2m9 0h2m-1 0h2m0 0h2m-1 0h2m-1 0h2m0 0h2m26 0h2m-70 1h2m6 0h2m8 0h2m6 0h2m-1 0h2m5 0h2m0 0h2m1 0h2m-1 0h2m-1 0h2m-1 0h2m8 0h2m3 0h2m-61 1h2m4 0h2m5 0h2m1 0h2m11 0h2m1 0h2m-1 0h2m-1 0h2m1 0h2m-1 0h2m0 0h2m4 0h2m2 0h2m-53 1h2m1 0h2m12 0h2m2 0h2m2 0h2m-1 0h2m0 0h2m6 0h2m2 0h2m-1 0h2m-1 0h2m-1 0h2m8 0h2m-40 1h2m5 0h2m2 0h2m-1 0h2m4 0h2m1 0h2m0 0h2m0 0h2m3 0h2m13 0h2m-59 1h2m15 0h2m1 0h2m4 0h2m1 0h2m-1 0h2m4 0h2m-1 0h2m4 0h2m5 0h2m-53 1h2m9 0h2m4 0h2m6 0h2m0 0h2m-1 0h2m5 0h2m0 0h2m0 0h2m4 0h2m3 0h2m1 0h2m0 0h2m3 0h2m-45 1h2m1 0h2m-1 0h2m0 0h2m9 0h2m1 0h2m7 0h2m4 0h2m-52 1h2m14 0h2m2 0h2m0 0h2m7 0h2m5 0h2m18 0h2m-63 1h2m7 0h2m6 0h2m1 0h2m-1 0h2m-1 0h2m4 0h2m0 0h2m6 0h2m6 0h2m9 0h2m-58 1h2m17 0h2m-1 0h2m8 0h2m-1 0h2m25 0h2m-68 1h2m17 0h2m13 0h2m4 0h2m0 0h2m3 0h2m3 0h2m1 0h2m6 0h2m-59 1h2m4 0h2m6 0h2m0 0h2m2 0h2m6 0h2m4 0h2m4 0h2m1 0h2m-1 0h2m2 0h2m-22 1h2m3 0h2m-23 1h2m9 0h2m8 0h2m-1 0h2m3 0h2m2 0h2m1 0h2m1 0h2m8 0h2m-43 1h2m8 0h2m11 0h2m0 0h2m-28 1h2m9 0h2m2 0h2m2 0h2m11 0h2m7 0h2m-41 1h2m17 0h2m-1 0h2m2 0h2m-17 1h2m3 0h2m10 0h2m11 0h2m-29 3h2m0 0h2m29 2h2m-42 1h2m2 0h2m-9 1h2m26 1h2m-11 1h2m-7 1h2" stroke="#7a249e" stroke-width="2" fill="none"/>
<path transform="scale(.5)" d="M770 276h2m-45 1h2m25 0h2m1 0h2m18 0h2m-36 1h2m27 0h2m-42 1h2m31 0h2m-26 1h2m-3 1h2m-1 1h2m17 0h2m5 0h2m1 0h2m-30 2h2m1 0h2m0 0h2m4 0h2m13 0h2m5 0h2m-32 1h2m13 1h2m7 1h2m-29 1h2m4 0h2m-1 0h2m11 0h2m5 0h2m-28 1h2m1 0h2m8 0h2m1 0h2m6 0h2m-34 1h2m0 0h2m6 0h2m0 0h2m0 0h2m0 0h2m10 0h2m-21 1h2m7 0h2m10 0h2m-27 1h2m2 0h2m-13 1h2m20 0h2m9 0h2m6 0h2m-45 1h2m2 0h2m22 0h2m-1 0h2m-25 1h2m0 0h2m8 0h2m10 0h2m-1 0h2m-5 1h2m6 0h2m-22 1h2m-1 1h2m9 0h2m-6 2h2m2 0h2m-38 1h2m28 0h2m2 0h2m5 0h2m-18 1h2m6 0h2m-11 1h2m5 0h2m4 3h2m0 0h2m-10 1h2m-19 5h2" stroke="#93e245" stroke-width="2" fill="none"/>
<path transform="scale(.5)" d="M737 252h2m31 4h2m-11 2h2m3 0h2m0 0h2m-26 2h2m-4 2h2m-1 1h2m14 0h2m-3 1h2m19 0h2m-55 4h2m46 0h2m-43 1h2m52 0h2m-29 2h2m-14 1h2m14 0h2m15 0h2m-43 1h2m-5 1h2m7 0h2m8 0h2m2 0h2m-12 1h2m-1 0h2m10 0h2m-20 1h2m4 0h2m14 0h2m-20 1h2m24 0h2m-25 1h2m-11 1h2m3 0h2m-1 0h2m28 0h2m-53 1h2m1 0h2m10 0h2m29 0h2m-31 1h2m14 0h2m-3 1h2m-1 0h2m11 0h2m12 0h2m-39 1h2m-1 0h2m13 0h2m11 0h2m-52 1h2m10 0h2m38 0h2m-26 1h2m-19 1h2m5 0h2m-2 1h2m3 0h2m4 0h2m9 0h2m-1 0h2m-29 1h2m10 0h2m6 0h2m12 0h2m-45 1h2m14 0h2m6 0h2m7 0h2m1 0h2m-1 0h2m-46 1h2m12 0h2m8 0h2m21 0h2m-27 1h2m0 0h2m10 0h2m-3 1h2m-1 0h2m-39 1h2m10 0h2m16 0h2m0 0h2m3 0h2m-42 1h2m17 0h2m-1 0h2m10 0h2m2 0h2m0 0h2m-3 1h2m9 0h2m-28 1h2m18 0h2m2 0h2m3 0h2m-45 1h2m-1 0h2m26 0h2m-1 0h2m0 0h2m-27 1h2m27 0h2m-2 1h2m-11 1h2m5 0h2m-7 1h2m-10 1h2m0 0h2m3 0h2m5 1h2m-37 1h2m21 2h2m3 0h2m11 5h2m-33 8h2" stroke="#2455d2" stroke-width="2" fill="none"/>
<path transform="scale(.5)" d="M710 233h2m0 0h2m-1 0h2m-8 1h2m-1 0h2m4 0h2m2 0h2m-12 1h2m1 0h2m1 0h2m0 0h2m-1 0h2m0 0h2m-1 1h2m-16 1h2m5 0h2m-1 0h2m1 0h2m-10 1h2m-1 0h2m1 0h2m0 0h2m-1 0h2m-1 0h2m1 0h2m-20 1h2m1 0h2m-1 0h2m2 0h2m-1 0h2m0 0h2m0 0h2m-1 0h2m-1 0h2m0 0h2m-17 1h2m-1 0h2m1 0h2m3 0h2m2 0h2m-1 0h2m0 0h2m-17 1h2m1 0h2m1 0h2m2 0h2m-13 1h2m-1 0h2m0 0h2m1 0h2m7 0h2m-16 1h2m-1 0h2m7 0h2m0 0h2m0 0h2m-9 1h2m2 0h2m-1 0h2m-15 1h2m-1 0h2m1 0h2m2 0h2m0 0h2m0 0h2m-1 0h2m-6 1h2m-1 0h2m-1 0h2m-1 0h2m-10 1h2m-1 0h2m-1 0h2m2 0h2" stroke="#e23636" stroke-width="2" fill="none"/>
<path transform="scale(.5)" d="M653 270h2m-1 1h2m-8 1h2m4 0h2m-7 1h2m-1 0h2m-1 0h2m0 0h2m-9 1h2m0 0h2m-1 0h2m-1 0h2m4 1h2m-10 1h2m1 0h2m-1 0h2m-1 0h2m-4 1h2m1 0h2m1 0h2m-6 1h2m0 0h2m-9 1h2m1 0h2m0 1h2m-1 1h2" stroke="#6b6bf2" stroke-width="2" fill="none"/>
<text x="284.8" y="21.7" font-size="6.3" fill="#231f20" stroke="#231f20">293</text>
<text x="315" y="21.7" font-size="6.3" fill="#231f20" stroke="#231f20">292</text>
<text x="327.7" y="28.4" font-size="6.3" fill="#231f20" stroke="#231f20">291</text>
<text x="350.8" y="43.5" font-size="6.3" fill="#231f20" stroke="#231f20">290</text>
<text x="255.8" y="31.3" font-size="6.3" fill="#231f20" stroke="#231f20">257</text>
<text x="281.9" y="35.7" font-size="6.3" fill="#231f20" stroke="#231f20">294</text>
<text x="248" y="50.7" font-size="6.3" fill="#231f20" stroke="#231f20">258</text>
<text x="299.9" y="55" font-size="6.3" fill="#231f20" stroke="#231f20">286</text>
<text x="355.8" y="73.5" font-size="6.3" fill="#231f20" stroke="#231f20">285</text>
<text x="254.3" y="79.7" font-size="6.3" fill="#231f20" stroke="#231f20">289</text>
<text x="280.4" y="87" font-size="6.3" fill="#231f20" stroke="#231f20">288</text>
<text x="286.8" y="94.8" font-size="6.3" fill="#231f20" stroke="#231f20">287</text>
<text x="280.4" y="105.2" font-size="6.3" fill="#231f20" stroke="#231f20">284</text>
<text x="326.8" y="110.7" font-size="6.3" fill="#231f20" stroke="#231f20">283</text>
<text x="270.3" y="115.4" font-size="6.3" fill="#231f20" stroke="#231f20">282</text>
<text x="264" y="136.8" font-size="6.3" fill="#231f20" stroke="#231f20">281</text>
<text x="344.6" y="88.5" font-size="6.3" fill="#231f20" stroke="#231f20">264</text>
<text x="362.8" y="86.3" font-size="6.3" fill="#231f20" stroke="#231f20">263</text>
<text x="380.6" y="74.9" font-size="6.3" fill="#231f20" stroke="#231f20">262</text>
<text x="372.9" y="104.6" font-size="6.3" fill="#231f20" stroke="#231f20">265</text>
<text x="393.5" y="97" font-size="6.3" fill="#231f20" stroke="#231f20">276</text>
<text x="405.3" y="109.5" font-size="6.3" fill="#231f20" stroke="#231f20">280</text>
<text x="414.3" y="122" font-size="6.3" fill="#231f20" stroke="#231f20">274</text>
<text x="321.9" y="122.3" font-size="6.3" fill="#231f20" stroke="#231f20">271</text>
<text x="334" y="124.6" font-size="6.3" fill="#231f20" stroke="#231f20">270</text>
<text x="409.7" y="134.3" font-size="6.3" fill="#231f20" stroke="#231f20">269</text>
<text x="293.5" y="146.4" font-size="6.3" fill="#231f20" stroke="#231f20">279</text>
<text x="407.3" y="149.1" font-size="6.3" fill="#231f20" stroke="#231f20">272</text>
<text x="293.5" y="156.5" font-size="6.3" fill="#231f20" stroke="#231f20">268</text>
<text x="397.4" y="161" font-size="6.3" fill="#231f20" stroke="#231f20">278</text>
<text x="284.8" y="170.4" font-size="6.3" fill="#231f20" stroke="#231f20">267</text>
<text x="369.3" y="175.8" font-size="6.3" fill="#231f20" stroke="#231f20">273</text>
<text x="326" y="187.8" font-size="6.3" fill="#231f20" stroke="#231f20">277</text>
<text x="361.8" y="183.8" font-size="6.3" fill="#231f20" stroke="#231f20">266</text>
<text x="348.9" y="189.9" font-size="6.3" fill="#231f20" stroke="#231f20">275</text>
<line x1="297" y1="19.5" x2="302" y2="19" stroke="#231f20" stroke-width="0.35"/>
<line x1="264.8" y1="78" x2="272" y2="76.5" stroke="#231f20" stroke-width="0.35"/>
<line x1="290" y1="84" x2="293" y2="79" stroke="#231f20" stroke-width="0.35"/>
<line x1="298" y1="93" x2="305" y2="91" stroke="#231f20" stroke-width="0.35"/>
<line x1="292" y1="101.5" x2="297" y2="104" stroke="#231f20" stroke-width="0.35"/>
<line x1="314" y1="104" x2="337.5" y2="107.5" stroke="#231f20" stroke-width="0.35"/>
<line x1="281.5" y1="112.5" x2="289" y2="114" stroke="#231f20" stroke-width="0.35"/>
<line x1="312" y1="52" x2="319" y2="56" stroke="#231f20" stroke-width="0.35"/>
<line x1="355" y1="70" x2="346" y2="75" stroke="#231f20" stroke-width="0.35"/>
<line x1="370.5" y1="81" x2="364" y2="105" stroke="#231f20" stroke-width="0.35"/>
<line x1="382" y1="99" x2="376" y2="117" stroke="#231f20" stroke-width="0.35"/>
<line x1="404" y1="92" x2="388" y2="112" stroke="#231f20" stroke-width="0.35"/>
<line x1="405" y1="107" x2="396" y2="110" stroke="#231f20" stroke-width="0.35"/>
<line x1="414" y1="120" x2="405" y2="124" stroke="#231f20" stroke-width="0.35"/>
<line x1="409" y1="131" x2="388" y2="136" stroke="#231f20" stroke-width="0.35"/>
<line x1="407" y1="146" x2="398" y2="140" stroke="#231f20" stroke-width="0.35"/>
<line x1="397" y1="159" x2="390" y2="156" stroke="#231f20" stroke-width="0.35"/>
<line x1="342" y1="126" x2="350" y2="133" stroke="#231f20" stroke-width="0.35"/>
<line x1="374" y1="171" x2="364" y2="153" stroke="#231f20" stroke-width="0.35"/>
<line x1="365" y1="179" x2="357" y2="148" stroke="#231f20" stroke-width="0.35"/>
<line x1="353" y1="185" x2="350" y2="165" stroke="#231f20" stroke-width="0.35"/>
<line x1="327" y1="120" x2="330" y2="128" stroke="#231f20" stroke-width="0.35"/>
<line x1="304.5" y1="144" x2="310" y2="141" stroke="#231f20" stroke-width="0.35"/>
<line x1="304.5" y1="154" x2="309" y2="157" stroke="#231f20" stroke-width="0.35"/>
<line x1="295.8" y1="168" x2="302" y2="170.5" stroke="#231f20" stroke-width="0.35"/>
<rect x="434.2" y="0.6" width="80.2" height="177.2" fill="none" stroke="#9d9d9d" stroke-width="0.7"/>
<text x="437.2" y="9.6" font-size="9.5" fill="#000" stroke="#000" font-weight="bold">c</text>
<rect x="449" y="4.3" width="5.8" height="5.5" fill="#4dcc7a"/>
<text x="458" y="9.2" font-size="6.6" fill="#231f20" stroke="#231f20">59: GPe–SI</text>
<text x="443.2" y="17.2" font-size="6.6" fill="#231f20" stroke="#231f20">Sox6 Cyp26b1 Gaba</text>
<path d="M452.6 82.6C451.6 83.9 454.3 86.6 457.5 88.1C460.7 89.6 464.6 90.1 468.5 90C472.4 89.9 475.1 89 477 87.5C478.9 86 478.9 83.9 478.2 82.6C477.5 81.3 476.6 81 473.4 80.8C470.2 80.6 466.6 81 462.4 81.4C458.2 81.8 453.6 81.3 452.6 82.6Z" fill="#f4f4f4" stroke="#5a5a5a" stroke-width="0.45" stroke-linejoin="round"/>
<path d="M497.8 52.8C498.5 52.3 499.5 55.9 499 58.2C498.5 60.5 497.3 62.1 495.3 64.3C493.3 66.5 491.9 67.5 489.2 69.2C486.5 70.9 484.2 71.9 481.9 72.9C479.6 73.9 478.6 74.3 477.6 74.1C476.6 73.9 475.9 72.7 477 71.7C478.1 70.7 480.4 70.4 483.1 69.2C485.8 68 488 67.3 490.4 65.6C492.8 63.9 493.8 63.3 495.3 60.7C496.8 58.1 497.1 53.3 497.8 52.8Z" fill="#f4f4f4" stroke="#5a5a5a" stroke-width="0.45" stroke-linejoin="round"/>
<path d="M453.9 63.7C450.9 68.1 450.2 71.8 449 75.3C447.8 78.8 446.8 79.9 447.8 81.4C448.8 82.9 451 82.6 453.9 82.6C456.8 82.6 458.5 81.8 462.4 81.4C466.3 81 470.5 81.8 473.4 80.8C476.3 79.8 476.8 78.3 477 76.5C477.2 74.7 475.8 73.6 474.6 71.7C473.4 69.8 472.1 69 470.9 66.8C469.7 64.6 469.8 63.4 468.5 60.7C467.2 58 467.1 52.8 464.2 53.4C461.3 54 456.9 59.3 453.9 63.7Z" fill="#f4f4f4" stroke="#5a5a5a" stroke-width="0.45" stroke-linejoin="round"/>
<path d="M456.3 40.6C454.1 40.1 454.6 42.2 452.6 44.8C450.6 47.4 448.4 50.2 446.5 53.4C444.6 56.6 443.1 58.8 442.9 60.7C442.7 62.6 443.1 62.5 445.3 63.1C447.5 63.7 451.2 63.9 453.9 63.7C456.6 63.5 457 63 458.7 61.9C460.4 60.8 461.3 59.9 462.4 58.2C463.5 56.5 464 55.6 464.2 53.4C464.4 51.2 465.2 49.9 463.6 47.3C462 44.7 458.5 41.1 456.3 40.6Z" fill="#f4f4f4" stroke="#5a5a5a" stroke-width="0.45" stroke-linejoin="round"/>
<path d="M458.1 36.9C457.4 35.4 457.3 32.8 457.5 30.2C457.7 27.6 457.8 26.1 459.3 24.1C460.8 22.1 462 21.4 464.8 20.4C467.6 19.4 470 19.1 473.4 19.2C476.8 19.3 478.7 19.7 481.9 21C485.1 22.3 486.6 23.3 489.2 25.9C491.8 28.5 493 30.4 494.7 33.9C496.4 37.4 497 39.7 497.5 43.6C498 47.5 498 50 497.4 53.4C496.8 56.8 496.1 58.4 494.7 60.7C493.3 63 492.5 63.8 490.4 65C488.3 66.2 486.7 66.6 484.3 66.8C481.9 67 480.6 66.9 478.2 66.2C475.8 65.5 474 64.9 472.1 63.1C470.2 61.3 469.6 59.7 468.5 57C467.4 54.3 466.9 52.9 466.7 49.7C466.5 46.5 467.6 43.5 467.3 41.2C467 38.9 466.6 38.8 465.4 38.1C464.2 37.4 462.7 37.7 461.2 37.5C459.7 37.3 458.8 38.4 458.1 36.9Z" fill="#f4f4f4" stroke="#5a5a5a" stroke-width="0.45" stroke-linejoin="round"/>
<text x="469.7" y="30.2" font-size="5.1" fill="#4d4d4d" stroke="#4d4d4d">STRd</text>
<text x="447.1" y="60.9" font-size="5.1" fill="#4d4d4d" stroke="#4d4d4d">PAL</text>
<text x="490.3" y="72.3" font-size="5.1" fill="#4d4d4d" stroke="#4d4d4d">CTXsp</text>
<text x="477.6" y="79.6" font-size="5.1" fill="#4d4d4d" stroke="#4d4d4d">sAMY</text>
<text x="472.1" y="93.6" font-size="5.1" fill="#4d4d4d" stroke="#4d4d4d">STRv</text>
<path transform="scale(.5)" d="M933 85h2m-1 1h2m2 0h2m-11 3h2m0 0h2m7 0h2m-5 1h2m-11 2h2m10 0h2m-15 1h2m2 0h2m9 0h2m-17 2h2m2 1h2m8 0h2m-17 1h2m3 1h2m8 0h2m-1 2h2m-14 1h2m3 0h2m2 0h2m-1 0h2m-6 1h2m3 0h2m-19 1h2m-1 0h2m8 0h2m-7 1h2m3 0h2m-12 1h2m2 1h2m9 0h2m-13 2h2m3 0h2m-6 1h2m2 0h2m0 0h2m-2 1h2m-2 1h2m-8 1h2m2 2h2m-5 2h2" stroke="#4444e6" stroke-width="2" fill="none"/>
<path transform="scale(.5)" d="M928 113h2m3 0h2m2 1h2m-9 2h2m6 1h2m-8 2h2m-10 1h2m1 1h2m-2 2h2m2 0h2m-1 0h2m4 0h2m-13 3h2m4 1h2m3 3h2m-13 1h2m1 1h2m-1 2h2m3 0h2m-1 0h2m-15 1h2m-4 1h2m4 0h2m8 1h2m-13 2h2m5 1h2m2 0h2m-17 3h2m4 2h2m0 2h2" stroke="#4444e6" stroke-width="2" fill="none"/>
<path transform="scale(.5)" d="M921 128h2m-7 1h2m-9 1h2m-2 1h2m-3 5h2m4 0h2m9 0h2m1 0h2m-18 1h2m16 2h2m-28 1h2m18 0h2m8 1h2m-23 2h2m10 1h2m12 1h2m-3 1h2m-16 1h2m-13 1h2m22 0h2m-1 2h2m-33 1h2m3 0h2m8 0h2m14 0h2m-20 1h2m4 1h2m5 0h2m-18 1h2m13 0h2m-1 0h2m1 0h2m-33 1h2m1 1h2m2 0h2m-7 1h2m-4 1h2m26 0h2m-18 2h2m-1 0h2m11 0h2m-3 2h2m-10 3h2m-2 1h2m0 0h2" stroke="#66dd66" stroke-width="2" fill="none"/>
<line x1="451.4" y1="38.1" x2="464.8" y2="54.6" stroke="#3b3be0" stroke-width="0.5"/>
<line x1="449.6" y1="74.1" x2="462.4" y2="69.2" stroke="#55cc55" stroke-width="0.5"/>
<text x="447.1" y="36.9" font-size="5.2" fill="#231f20" stroke="#231f20" font-weight="bold">257</text>
<text x="441" y="75.9" font-size="5.2" fill="#231f20" stroke="#231f20" font-weight="bold">258</text>
<path d="M486.7 134.2C489.1 132.4 489 137.3 489.3 140.6C489.6 143.9 489.4 146.9 488 150.7C486.6 154.5 485 156.6 482.3 159.6C479.6 162.6 477.7 164.1 474.7 165.9C471.7 167.7 469.4 168.4 467.1 168.4C464.8 168.4 463.8 167.4 463.3 165.9C462.8 164.4 463.1 162.1 464.6 160.8C466.1 159.5 468.6 160.9 470.9 159.6C473.2 158.3 474.7 156.5 476 154.5C477.3 152.5 475.1 153.5 477.2 149.4C479.3 145.3 484.3 136 486.7 134.2Z" fill="#f4f4f4" stroke="#5a5a5a" stroke-width="0.45" stroke-linejoin="round"/>
<path d="M463.3 165.9C464.6 167.4 465.8 167.4 467.1 168.4C468.4 169.4 469.3 169.7 469.6 171C469.9 172.3 471.4 174.1 468.4 174.7C465.4 175.3 457 175.6 454.5 174.1C452 172.6 454.4 169.9 455.7 167.2C457 164.5 459.3 161.1 460.8 160.8C462.3 160.5 462 164.4 463.3 165.9Z" fill="#f4f4f4" stroke="#5a5a5a" stroke-width="0.45" stroke-linejoin="round"/>
<path d="M463.9 120.3C462.9 116.8 462.1 124.9 460.2 127.9C458.3 130.9 457.4 132.7 454.5 135.5C451.6 138.3 447.6 140.2 445.6 141.8C443.6 143.4 443.8 142.9 444.3 143.7C444.8 144.5 447 143.4 448.1 145.6C449.2 147.8 450 151.5 450 154.5C450 157.5 449 158.3 448.1 160.8C447.2 163.3 445.8 165.2 445.6 167.2C445.4 169.2 445.1 169.6 446.9 171C448.7 172.4 452.7 174.9 454.5 174.1C456.3 173.3 454.4 169.9 455.7 167.2C457 164.5 459 163.6 460.8 160.8C462.6 158 463.3 156 464.6 153.2C465.9 150.4 467 148.4 467.1 146.9C467.2 145.4 465.8 150.9 465.2 145.6C464.6 140.3 464.9 123.8 463.9 120.3Z" fill="#f4f4f4" stroke="#5a5a5a" stroke-width="0.45" stroke-linejoin="round"/>
<path d="M464.6 98.8C465.9 97.3 467.1 97 469.6 97.5C472.1 98 474.4 99 477.2 101.3C480 103.6 481.4 105.4 483.6 108.9C485.8 112.4 487 114.9 488 119C489 123.1 488.9 125.4 488.6 129.2C488.3 133 488 134.7 486.7 138C485.4 141.3 484.4 143.3 482.3 145.6C480.2 147.9 478.5 148.6 476 149.4C473.5 150.2 471.8 150.2 469.6 149.4C467.4 148.6 465.7 148.1 465.2 145.6C464.7 143.1 466.3 140.3 467.1 136.8C467.9 133.3 468.5 131.2 469 127.9C469.5 124.6 469.6 123.1 469.6 120.3C469.6 117.5 469.2 116 469 114C468.8 112 469.2 111.1 468.4 110.2C467.6 109.3 466.2 110.6 465.2 109.6C464.2 108.6 463.4 107.3 463.3 105.1C463.2 102.9 463.3 100.3 464.6 98.8Z" fill="#f4f4f4" stroke="#5a5a5a" stroke-width="0.45" stroke-linejoin="round"/>
<text x="470.3" y="118.4" font-size="5.1" fill="#4d4d4d" stroke="#4d4d4d">STRd</text>
<text x="450" y="148.8" font-size="5.1" fill="#4d4d4d" stroke="#4d4d4d">PAL</text>
<text x="478.5" y="164.6" font-size="5.1" fill="#4d4d4d" stroke="#4d4d4d">CTXsp</text>
<text x="456.4" y="173.5" font-size="5.1" fill="#4d4d4d" stroke="#4d4d4d">sAMY</text>
<path transform="scale(.5)" d="M932 240h2m-3 1h2m3 1h2m-4 1h2m1 0h2m-4 1h2m-5 1h2m0 0h2m0 1h2m3 0h2m-10 1h2m-6 1h2m-9 1h2m9 0h2m-1 1h2m-2 3h2m-1 1h2m-3 2h2m-3 2h2m-1 0h2m-10 1h2m0 0h2m-2 1h2m6 0h2m-9 2h2m-5 1h2m2 0h2m1 1h2m2 0h2m-13 1h2m-6 3h2m4 1h2m4 0h2m-13 1h2m4 0h2m-1 0h2m-6 1h2m-13 1h2m3 1h2m0 0h2m-2 1h2m7 0h2m-14 1h2m12 0h2m-13 1h2m3 0h2m0 1h2m-1 0h2m-7 1h2m1 1h2m-12 1h2m2 0h2m-8 2h2m6 1h2m3 1h2m-2 1h2m-11 1h2m1 0h2m-12 1h2" stroke="#4444e6" stroke-width="2" fill="none"/>
<path transform="scale(.5)" d="M911 294h2m4 3h2m-4 5h2m6 2h2m-21 3h2m1 0h2m5 0h2m-5 6h2m3 5h2m-8 1h2m0 4h2m-7 4h2" stroke="#66dd66" stroke-width="2" fill="none"/>
<rect x="521.6" y="0.6" width="82.9" height="177.6" fill="none" stroke="#9d9d9d" stroke-width="0.7"/>
<text x="524.6" y="9.6" font-size="9.5" fill="#000" stroke="#000" font-weight="bold">d</text>
<rect x="537" y="4.3" width="5.8" height="5.5" fill="#6b3a2a"/>
<text x="546.4" y="9.2" font-size="6.6" fill="#231f20" stroke="#231f20">63: STR D1</text>
<text x="546.4" y="17.2" font-size="6.6" fill="#231f20" stroke="#231f20">Sema5a Gaba</text>
<path d="M540 74.4C540.3 76.2 541.6 81.1 544 84.7C546.5 88.3 548.2 90 552.3 92.4C556.4 94.9 559.3 96 564.5 97C569.7 98 573.6 98.3 578.2 97.6C582.9 96.9 585.4 95.8 587.7 93.7C590 91.6 589.8 89.6 589.8 87.3C589.8 85 590 83.7 587.7 82.1C585.4 80.6 581.5 79.6 578.2 79.6C574.9 79.6 574.6 81.4 571.3 82.1C568 82.9 565.9 83.6 561.8 83.4C557.8 83.1 554.8 82.4 550.9 80.9C547.1 79.3 544.9 77 542.7 75.7C540.5 74.4 539.7 72.6 540 74.4Z" fill="#f4f4f4" stroke="#5a5a5a" stroke-width="0.45" stroke-linejoin="round"/>
<path d="M546.8 57.6C548 55 548.7 54.7 550.9 53.8C553.1 52.9 555 52.6 557.7 53.1C560.4 53.6 562.3 54.4 564.5 56.3C566.7 58.2 566.7 60.4 568.6 62.7C570.6 65.1 572.2 66.1 574.1 67.9C576 69.7 577.4 70 578.2 71.8C579 73.6 579.6 74.9 578.2 77C576.8 79 574.6 80.8 571.3 82.1C568 83.4 565.7 83.6 561.8 83.4C558 83.1 555.4 82.4 552.3 80.9C549.1 79.3 547.6 78.5 546.1 75.7C544.6 72.8 544.6 70.3 544.7 66.6C544.9 63 545.6 60.1 546.8 57.6Z" fill="#f4f4f4" stroke="#5a5a5a" stroke-width="0.45" stroke-linejoin="round"/>
<path d="M595.2 48.6C598.1 45 597.4 47.8 598 49.9C598.6 51.9 598.7 55.8 598 58.9C597.3 62 596.7 63.4 594.6 65.4C592.5 67.3 589.9 68.1 587.7 68.6C585.5 69.1 582.2 71.9 583.7 67.9C585.2 63.9 592.4 52.2 595.2 48.6Z" fill="#f4f4f4" stroke="#5a5a5a" stroke-width="0.45" stroke-linejoin="round"/>
<path d="M554.9 24.1C556.7 21.6 557.8 21.8 561.1 20.9C564.4 19.9 567.1 19.4 571.3 19.5C575.5 19.6 578.4 20 582.2 21.4C586.1 22.9 587.9 24 590.5 26.6C593.1 29.2 593.9 30.8 595.2 34.4C596.6 38 597.3 40.8 597.3 44.7C597.3 48.6 596.3 50.7 595.2 53.8C594.1 56.9 593.3 57.9 591.8 60.2C590.3 62.5 589.9 63.8 587.7 65.4C585.5 66.9 583.9 67.4 580.9 67.9C577.9 68.4 575.5 68.7 572.8 67.9C570 67.1 569.2 66.2 567.3 64.1C565.4 62 565.4 59.9 563.2 57.6C561 55.2 558.4 55.2 556.4 52.4C554.3 49.6 553.7 47.3 552.9 43.5C552.1 39.6 551.8 37 552.3 33.1C552.7 29.3 553.2 26.5 554.9 24.1Z" fill="#f4f4f4" stroke="#5a5a5a" stroke-width="0.45" stroke-linejoin="round"/>
<text x="585.4" y="25.9" font-size="5.1" fill="#4d4d4d" stroke="#4d4d4d">STRd</text>
<text x="530.5" y="74.7" font-size="5.1" fill="#4d4d4d" stroke="#4d4d4d">PAL</text>
<text x="577.7" y="74.7" font-size="5.1" fill="#4d4d4d" stroke="#4d4d4d">CTXsp</text>
<text x="535" y="99" font-size="5.1" fill="#4d4d4d" stroke="#4d4d4d">STRv</text>
<path transform="scale(.5)" d="M1128 42h2m14 1h2m-13 1h2m23 0h2m-24 1h2m16 0h2m-25 1h2m15 1h2m4 0h2m-36 1h2m5 1h2m-5 1h2m25 0h2m1 0h2m1 0h2m-34 1h2m31 1h2m1 1h2m-13 1h2m19 0h2m-63 2h2m30 1h2m5 0h2m22 0h2m-54 1h2m52 0h2m-20 1h2m4 0h2m-43 1h2m37 0h2m-50 1h2m61 1h2m-47 1h2m37 0h2m-56 2h2m3 0h2m-8 1h2m4 0h2m0 0h2m24 0h2m20 0h2m-50 1h2m8 0h2m-29 1h2m48 0h2m3 0h2m-48 1h2m22 1h2m-1 1h2m14 1h2m-1 0h2m14 0h2m-24 1h2m-35 1h2m45 0h2m9 0h2m5 0h2m-44 1h2m2 0h2m18 0h2m11 0h2m-38 1h2m25 1h2m-6 1h2m-23 1h2m-32 1h2m4 0h2m30 0h2m0 0h2m23 0h2m0 0h2m-51 3h2m21 0h2m16 0h2m-59 1h2m59 0h2m-54 1h2m19 0h2m-41 1h2m4 1h2m28 0h2m18 0h2m-26 1h2m2 0h2m35 0h2m-67 1h2m11 0h2m12 0h2m25 0h2m-12 1h2m0 0h2m3 0h2m19 1h2m-81 1h2m41 0h2m4 0h2m23 1h2m-35 2h2m11 0h2m-55 1h2m1 0h2m10 0h2m4 0h2m22 0h2m-24 1h2m44 0h2m-51 1h2m1 0h2m21 0h2m25 0h2m-53 2h2m6 1h2m21 0h2m6 0h2m9 0h2m-46 1h2m45 0h2m-69 1h2m12 0h2m-1 0h2m3 0h2m27 0h2m12 0h2m-68 1h2m30 0h2m26 0h2m-52 2h2m31 0h2m-20 1h2m8 0h2m24 0h2m-67 1h2m51 0h2m-38 1h2m0 0h2m18 1h2m-1 0h2m16 0h2m2 0h2m-44 1h2m-8 1h2m27 0h2m5 0h2m13 0h2m-13 1h2m17 0h2m-58 1h2m23 0h2m20 0h2m3 0h2m-35 1h2m-27 1h2m26 0h2m23 0h2m1 0h2m-1 0h2m-36 1h2m1 0h2m33 0h2m-50 2h2m18 0h2m7 0h2m-53 1h2m9 0h2m23 0h2m21 0h2m-56 1h2m-1 0h2m19 0h2m6 0h2m12 0h2m-32 1h2m8 0h2m21 1h2m-46 1h2m45 0h2m3 0h2m3 0h2m-53 1h2m45 0h2m-32 1h2m26 0h2m-32 1h2m27 0h2m-49 1h2m46 0h2m-39 1h2m6 0h2m-4 1h2m14 0h2m-29 1h2m2 0h2m28 0h2m-33 1h2m23 0h2m-28 1h2m5 0h2m2 0h2m21 0h2m-24 1h2m1 0h2m3 0h2m15 0h2m-9 1h2m-31 1h2m31 0h2m-27 2h2m6 0h2m3 1h2" stroke="#e23a6e" stroke-width="2" fill="none"/>
<path transform="scale(.5)" d="M1105 109h2m-1 0h2m-3 2h2m2 0h2m-6 1h2m3 0h2m-10 1h2m5 0h2m-11 1h2m0 0h2m4 0h2m-10 1h2m-3 1h2m5 0h2m3 0h2m-18 1h2m7 0h2m-1 0h2m-8 1h2m2 0h2m0 0h2m3 0h2m-17 1h2m2 0h2m-8 1h2m-1 0h2m-1 0h2m10 0h2m1 0h2m-14 1h2m2 0h2m3 0h2m-14 1h2m0 0h2m-1 0h2m-6 1h2m0 0h2m-1 0h2m0 0h2m-1 0h2m0 0h2m2 0h2m0 0h2m-3 1h2m0 0h2m-16 1h2m-1 0h2m1 0h2m1 0h2m-5 1h2m2 0h2m2 0h2m2 0h2m-20 1h2m0 0h2m-1 0h2m5 0h2m4 0h2m-20 1h2m1 1h2m-1 0h2m0 0h2m1 0h2m0 0h2m4 0h2m-14 1h2m4 0h2m-1 0h2m0 0h2m1 0h2m0 0h2m-19 1h2m9 0h2m-1 0h2m-14 1h2m-1 0h2m2 0h2m6 0h2m1 0h2m-21 1h2m3 0h2m4 0h2m2 0h2m0 0h2m0 0h2m-3 1h2m-13 1h2m3 0h2m4 0h2m-17 1h2m0 0h2m-1 0h2m2 0h2m-1 0h2m3 0h2m-17 1h2m1 0h2m-1 0h2m9 0h2m-12 1h2m7 0h2m-9 1h2m2 0h2m-1 0h2m-1 0h2m-12 1h2m1 0h2m4 0h2m-12 1h2m4 0h2m-4 1h2m-1 1h2" stroke="#f0e040" stroke-width="2" fill="none"/>
<path transform="scale(.5)" d="M1129 141h2m4 0h2m-11 1h2m2 1h2m-1 1h2m4 1h2m-26 1h2m3 0h2m28 2h2m-20 1h2m-4 2h2m11 0h2m-34 2h2m17 0h2m3 0h2m3 1h2m-21 1h2m13 0h2m-28 1h2m19 0h2m-19 1h2m21 0h2m5 0h2m-32 1h2m5 0h2m1 1h2m-6 1h2m15 1h2m-13 1h2m0 1h2" stroke="#6a6a3a" stroke-width="2" fill="none"/>
<path transform="scale(.5)" d="M1096 146h2m-8 1h2m5 0h2m-9 1h2m7 1h2m-1 0h2m-16 1h2m2 0h2m3 0h2m4 0h2m-7 1h2m-12 1h2m4 0h2m-6 1h2m1 0h2m3 0h2m2 0h2m-16 1h2m-2 1h2m9 0h2m0 0h2m-6 1h2m0 1h2" stroke="#7fd7e0" stroke-width="2" fill="none"/>
<line x1="539" y1="32" x2="558" y2="38" stroke="#d62f63" stroke-width="0.6"/>
<line x1="539" y1="50.3" x2="548.8" y2="56.4" stroke="#e8d83a" stroke-width="0.6"/>
<line x1="536.6" y1="80" x2="545.7" y2="77.7" stroke="#60c8d8" stroke-width="0.6"/>
<line x1="587" y1="82.3" x2="574.7" y2="77.7" stroke="#6a6a3a" stroke-width="0.6"/>
<text x="528.8" y="34" font-size="5.2" fill="#231f20" stroke="#231f20" font-weight="bold">281</text>
<text x="528.8" y="51.2" font-size="5.2" fill="#231f20" stroke="#231f20" font-weight="bold">282</text>
<text x="526.8" y="82.3" font-size="5.2" fill="#231f20" stroke="#231f20" font-weight="bold">284</text>
<text x="588.4" y="83.8" font-size="5.2" fill="#231f20" stroke="#231f20" font-weight="bold">283</text>
<path d="M543.1 164.8C542.6 166.3 544.1 168.7 546.9 171C549.6 173.2 552.4 174.8 556.9 175.9C561.4 177.1 565.2 177.1 569.4 176.6C573.7 176.1 575.7 175.4 578.3 173.5C580.8 171.6 581.8 169.2 582 167.2C582.3 165.2 581 164.4 579.5 163.6C578 162.7 576.7 163.2 574.5 162.9C572.2 162.6 571.5 162.4 568.2 162.3C564.9 162.1 561.9 162 558.1 162.3C554.4 162.5 552.3 163.1 549.3 163.6C546.3 164.1 543.6 163.3 543.1 164.8Z" fill="#f4f4f4" stroke="#5a5a5a" stroke-width="0.45" stroke-linejoin="round"/>
<path d="M539.3 139.9C540.6 137.7 543.3 136.7 545.5 136.2C547.8 135.7 550 136.4 550.6 137.4C551.1 138.4 549 139.2 548.1 141.2C547.2 143.1 546.6 144.4 546.2 147.3C545.8 150.3 545.8 152.8 546.2 156.1C546.6 159.3 549 161.8 548.1 163.6C547.2 165.3 543.6 166.3 541.8 164.8C540.1 163.3 539.9 159.6 539.3 156.1C538.6 152.6 538.6 150.6 538.6 147.3C538.6 144.1 537.9 142.2 539.3 139.9Z" fill="#f4f4f4" stroke="#5a5a5a" stroke-width="0.45" stroke-linejoin="round"/>
<path d="M548.1 149.9C549.2 147.6 550.9 144.6 553.1 143.6C555.4 142.6 556.9 143.8 559.4 144.9C561.9 146 562.9 148.2 565.6 149.2C568.4 150.2 571.2 149 573.2 149.9C575.2 150.8 575.4 151.6 575.7 153.6C575.9 155.6 576 158.1 574.5 159.8C573 161.5 571.5 161.8 568.2 162.3C564.9 162.7 561.7 163 558.1 162.3C554.6 161.5 552.7 160.1 550.6 158.6C548.4 157.1 547.9 156.6 547.4 154.8C546.9 153.1 546.9 152.1 548.1 149.9Z" fill="#f4f4f4" stroke="#5a5a5a" stroke-width="0.45" stroke-linejoin="round"/>
<path d="M590.2 135C592 132.7 592.6 134.9 593.3 136.2C594.1 137.4 594.5 139.4 594 141.2C593.5 142.9 592.8 143.7 590.9 144.9C589 146.1 584.6 149.3 584.5 147.3C584.4 145.4 588.4 137.2 590.2 135Z" fill="#f4f4f4" stroke="#5a5a5a" stroke-width="0.45" stroke-linejoin="round"/>
<path d="M553.1 108.8C554.4 106 555.4 104.8 558.1 103.3C560.9 101.8 563.2 101.4 567 101.4C570.7 101.4 573.5 101.8 577 103.3C580.5 104.8 582 106 584.5 108.8C587 111.7 588.2 113.8 589.5 117.5C590.9 121.3 591.3 123.7 591.4 127.5C591.6 131.2 591.1 133.2 590.2 136.2C589.3 139.2 589 140.1 587.1 142.4C585.2 144.6 583.6 145.8 580.8 147.3C578 148.8 576.3 149.5 573.2 149.9C570.2 150.3 568.4 150.2 565.6 149.2C562.9 148.2 561.6 147.3 559.4 144.9C557.1 142.5 555.8 140.9 554.3 137.4C552.8 133.9 552.4 131.4 551.9 127.5C551.4 123.5 551.6 121.3 551.9 117.5C552.1 113.8 551.9 111.7 553.1 108.8Z" fill="#f4f4f4" stroke="#5a5a5a" stroke-width="0.45" stroke-linejoin="round"/>
<text x="584.2" y="105.4" font-size="5.1" fill="#4d4d4d" stroke="#4d4d4d">STRd</text>
<text x="537.8" y="136.3" font-size="5.1" fill="#4d4d4d" stroke="#4d4d4d">STR</text>
<text x="576.2" y="159" font-size="5.1" fill="#4d4d4d" stroke="#4d4d4d">PAL</text>
<text x="533.8" y="176.6" font-size="5.1" fill="#4d4d4d" stroke="#4d4d4d">STRv</text>
<path transform="scale(.5)" d="M1139 204h2m4 2h2m-20 1h2m7 0h2m23 0h2m-44 1h2m26 1h2m2 0h2m-40 1h2m33 0h2m-36 2h2m44 0h2m-1 0h2m-47 1h2m-4 1h2m43 0h2m0 1h2m-46 1h2m3 0h2m49 0h2m-41 1h2m30 0h2m-55 1h2m2 0h2m23 1h2m5 0h2m4 1h2m6 0h2m-44 1h2m24 0h2m11 0h2m11 0h2m-54 1h2m-7 1h2m16 1h2m2 0h2m28 0h2m-50 2h2m10 0h2m13 0h2m-36 1h2m2 0h2m24 1h2m-37 1h2m40 0h2m21 0h2m-14 1h2m-36 1h2m7 0h2m32 0h2m-61 1h2m-3 1h2m28 0h2m0 0h2m-5 1h2m-30 1h2m42 0h2m-41 1h2m46 0h2m-57 1h2m13 0h2m34 0h2m-46 1h2m4 0h2m5 0h2m18 0h2m27 1h2m-66 1h2m-1 0h2m19 0h2m0 0h2m10 0h2m1 0h2m-46 1h2m11 0h2m10 0h2m10 0h2m16 0h2m9 0h2m-67 1h2m29 0h2m-32 1h2m11 0h2m3 2h2m23 0h2m21 1h2m-1 0h2m-61 1h2m15 0h2m5 0h2m36 0h2m-46 2h2m0 0h2m29 0h2m7 0h2m-54 1h2m18 0h2m20 0h2m3 0h2m-50 1h2m27 1h2m11 0h2m-36 1h2m0 0h2m-1 0h2m12 0h2m6 0h2m-49 1h2m4 0h2m29 0h2m-23 1h2m49 1h2m-29 1h2m-43 1h2m18 0h2m5 0h2m6 0h2m-17 1h2m11 0h2m7 0h2m26 0h2m-74 1h2m14 0h2m45 0h2m-63 1h2m7 0h2m28 0h2m21 0h2m-36 1h2m32 0h2m-60 1h2m32 0h2m10 0h2m-1 0h2m-41 1h2m14 0h2m12 0h2m4 0h2m3 0h2m-50 2h2m-1 1h2m33 0h2m-4 1h2m5 0h2m-30 2h2m28 0h2m-18 1h2m25 0h2m-54 1h2m8 2h2m-1 1h2m14 1h2m0 0h2m-26 1h2m1 0h2m10 0h2m11 0h2m-35 1h2m48 0h2m-50 1h2m29 0h2m13 0h2m0 0h2m-36 1h2m35 0h2m-18 1h2m-34 1h2m19 0h2m10 0h2m-36 1h2m4 0h2m23 0h2m12 0h2m-43 1h2m3 0h2m22 1h2m5 0h2m-1 1h2m-1 0h2m-44 1h2m6 1h2m4 0h2m-11 1h2m1 0h2m-10 1h2m21 0h2m-15 1h2m-6 1h2m13 0h2" stroke="#e23a6e" stroke-width="2" fill="none"/>
<path transform="scale(.5)" d="M1090 281h2m1 1h2m4 1h2m-13 1h2m12 1h2m-4 1h2m-8 2h2m1 0h2m-11 3h2m4 2h2m-11 1h2m0 0h2m12 0h2m2 1h2m-19 1h2m10 2h2m-15 1h2m11 0h2m-11 1h2m7 0h2m-1 0h2m-1 2h2m-6 2h2m-10 1h2m5 0h2m-7 2h2m-5 2h2m7 3h2m-4 4h2" stroke="#f0e040" stroke-width="2" fill="none"/>
<path transform="scale(.5)" d="M1111 312h2m29 2h2m-32 1h2m33 2h2m-46 1h2m26 0h2m9 0h2m-40 2h2m5 0h2m6 0h2m12 0h2m-12 4h2m21 0h2m4 0h2m-41 1h2m22 0h2m-31 2h2m27 2h2m-17 2h2m2 1h2" stroke="#6a6a3a" stroke-width="2" fill="none"/>
<rect x="611.6" y="0.6" width="73" height="261" fill="none" stroke="#9d9d9d" stroke-width="0.7"/>
<text x="614.2" y="9.6" font-size="10.5" fill="#000" stroke="#000" font-weight="bold">e</text>
<rect x="623.2" y="4.5" width="5.6" height="5.2" fill="#9a7b16"/>
<text x="632.8" y="9.2" font-size="6.6" fill="#231f20" stroke="#231f20">64: STR–PAL</text>
<text x="632.8" y="17" font-size="6.6" fill="#231f20" stroke="#231f20">Chst9 Gaba</text>
<path d="M625.4 84.2C624.9 85.7 626.5 88.1 629.4 90.4C632.3 92.6 635.2 94.2 639.9 95.3C644.6 96.5 648.5 96.5 652.9 96C657.4 95.5 659.5 94.8 662.1 92.9C664.7 91 665.8 88.6 666.1 86.6C666.3 84.6 665 83.8 663.4 83C661.8 82.1 660.5 82.6 658.1 82.3C655.8 82 655 81.8 651.6 81.7C648.2 81.5 645.1 81.4 641.2 81.7C637.2 81.9 635.1 82.5 632 83C628.8 83.5 626 82.7 625.4 84.2Z" fill="#f4f4f4" stroke="#5a5a5a" stroke-width="0.45" stroke-linejoin="round"/>
<path d="M621.5 59.3C622.9 57.1 625.7 56.1 628 55.6C630.4 55.1 632.7 55.8 633.2 56.8C633.8 57.8 631.6 58.6 630.7 60.6C629.8 62.5 629.1 63.8 628.7 66.7C628.3 69.7 628.3 72.2 628.7 75.5C629.1 78.7 631.6 81.2 630.7 83C629.8 84.7 626 85.7 624.2 84.2C622.3 82.7 622.2 79 621.5 75.5C620.8 72 620.8 70 620.8 66.7C620.8 63.5 620 61.6 621.5 59.3Z" fill="#f4f4f4" stroke="#5a5a5a" stroke-width="0.45" stroke-linejoin="round"/>
<path d="M630.7 69.3C631.9 67 633.6 64 635.9 63C638.3 62 639.8 63.2 642.4 64.3C645 65.4 646.1 67.6 649 68.6C651.8 69.6 654.8 68.4 656.9 69.3C659 70.2 659.2 71 659.4 73C659.7 75 659.7 77.5 658.1 79.2C656.6 80.9 655 81.2 651.6 81.7C648.2 82.1 644.8 82.4 641.2 81.7C637.5 80.9 635.5 79.5 633.2 78C631 76.5 630.5 76 630 74.2C629.5 72.5 629.5 71.5 630.7 69.3Z" fill="#f4f4f4" stroke="#5a5a5a" stroke-width="0.45" stroke-linejoin="round"/>
<path d="M674.5 54.4C676.4 52.1 677 54.3 677.8 55.6C678.6 56.8 679 58.8 678.5 60.6C678 62.3 677.2 63.1 675.2 64.3C673.3 65.5 668.8 68.7 668.6 66.7C668.5 64.8 672.7 56.6 674.5 54.4Z" fill="#f4f4f4" stroke="#5a5a5a" stroke-width="0.45" stroke-linejoin="round"/>
<path d="M635.9 28.2C637.2 25.4 638.3 24.2 641.2 22.7C644 21.2 646.4 20.8 650.3 20.8C654.3 20.8 657.2 21.2 660.8 22.7C664.5 24.2 666 25.4 668.6 28.2C671.2 31.1 672.4 33.2 673.9 36.9C675.3 40.7 675.7 43.1 675.8 46.9C676 50.6 675.5 52.6 674.5 55.6C673.6 58.6 673.2 59.5 671.3 61.8C669.3 64 667.7 65.2 664.8 66.7C661.9 68.2 660 68.9 656.9 69.3C653.7 69.7 651.8 69.6 649 68.6C646.1 67.6 644.8 66.7 642.4 64.3C640.1 61.9 638.8 60.3 637.2 56.8C635.6 53.3 635.1 50.8 634.6 46.9C634.1 42.9 634.4 40.7 634.6 36.9C634.9 33.2 634.6 31.1 635.9 28.2Z" fill="#f4f4f4" stroke="#5a5a5a" stroke-width="0.45" stroke-linejoin="round"/>
<text x="654.4" y="36" font-size="5.1" fill="#4d4d4d" stroke="#4d4d4d">STRd</text>
<text x="613.6" y="59.2" font-size="5.1" fill="#4d4d4d" stroke="#4d4d4d">STR</text>
<text x="660" y="79.2" font-size="5.1" fill="#4d4d4d" stroke="#4d4d4d">PAL</text>
<text x="665.6" y="92" font-size="5.1" fill="#4d4d4d" stroke="#4d4d4d">CTXsp</text>
<text x="619.2" y="96.8" font-size="5.1" fill="#4d4d4d" stroke="#4d4d4d">STRv</text>
<path transform="scale(.5)" d="M1319 50h2m10 0h2m-46 1h2m43 0h2m-37 1h2m4 4h2m18 1h2m13 1h2m-10 2h2m-27 7h2m38 0h2m-2 2h2m-4 3h2m2 0h2m-65 1h2m-2 2h2m45 2h2m-49 1h2m45 0h2m14 0h2m-37 2h2m34 1h2m-31 1h2m16 4h2m-12 4h2m-35 4h2m-4 2h2m32 3h2m-21 4h2m1 2h2m-21 2h2m-10 3h2m-6 3h2m5 3h2m3 0h2m29 1h2m-41 4h2m28 1h2m30 0h2m-58 4h2m10 1h2m20 3h2m7 2h2m0 7h2m-26 2h2" stroke="#e07a20" stroke-width="2" fill="none"/>
<path transform="scale(.5)" d="M1282 60h2m2 1h2m14 1h2m8 5h2m-23 2h2m-2 3h2m-5 3h2m24 2h2m-24 2h2m1 7h2m14 1h2m-37 1h2m12 8h2m10 5h2m-17 5h2" stroke="#c85a22" stroke-width="2" fill="none"/>
<path transform="scale(.5)" d="M1255 116h2m-2 1h2m-1 0h2m3 0h2m-9 1h2m5 0h2m-1 0h2m-3 2h2m-10 1h2m4 0h2m0 0h2m-6 1h2m-6 1h2m3 0h2m-8 1h2m0 0h2m-1 0h2m6 0h2m-1 0h2m-13 1h2m0 0h2m2 0h2m1 0h2m0 0h2m-12 1h2m5 0h2m-1 0h2m-1 0h2m-1 0h2m-16 1h2m1 0h2m0 0h2m0 0h2m-1 0h2m-1 0h2m2 0h2m-1 0h2m-3 1h2m0 0h2m-16 1h2m5 0h2m-1 0h2m1 0h2m-11 1h2m2 0h2m2 0h2m-1 0h2m0 0h2m-14 1h2m2 0h2m-6 1h2m-1 0h2m7 0h2m-10 1h2m-1 0h2m0 0h2m3 0h2m0 0h2m-14 1h2m0 0h2m6 0h2m-12 1h2m1 0h2m6 0h2m-14 1h2m0 0h2m4 0h2m2 0h2m-13 1h2m-1 0h2m1 0h2m-1 0h2m-1 0h2m-1 0h2m-1 0h2m1 0h2m-10 1h2m-1 0h2m0 0h2m-1 0h2m1 0h2m-6 1h2m0 0h2m-2 2h2" stroke="#3ce060" stroke-width="2" fill="none"/>
<path transform="scale(.5)" d="M1255 122h2m-4 1h2m-4 1h2m-1 0h2m-1 1h2m-4 1h2m-1 0h2m2 0h2m-1 0h2m-5 1h2m2 0h2m-8 1h2m-1 1h2m1 0h2m-7 1h2m3 0h2m-1 0h2m-6 1h2m-1 0h2m-2 1h2m0 0h2m-3 1h2m-1 0h2m-3 1h2" stroke="#2a2a88" stroke-width="2" fill="none"/>
<path transform="scale(.5)" d="M1275 141h2m13 1h2m-17 1h2m18 0h2m-11 1h2m-5 1h2m3 0h2m4 0h2m-1 0h2m-39 1h2m7 0h2m4 0h2m23 0h2m-17 1h2m-16 1h2m19 0h2m-26 2h2m15 0h2m-17 3h2m17 1h2m-31 1h2m22 0h2m14 0h2m-10 2h2m-8 2h2" stroke="#3ce060" stroke-width="2" fill="none"/>
<path transform="scale(.5)" d="M1282 158h2m-2 1h2m-24 1h2m22 0h2m10 0h2m-33 1h2m4 0h2m0 0h2m1 1h2m-3 1h2m26 0h2m-45 1h2m41 0h2m-43 1h2m13 2h2m11 0h2m-30 1h2m0 0h2m-2 2h2m5 0h2m12 0h2m3 0h2m-13 1h2m0 0h2" stroke="#e07a20" stroke-width="2" fill="none"/>
<line x1="628.8" y1="24.8" x2="648" y2="37.6" stroke="#c0581f" stroke-width="0.6"/>
<line x1="628.8" y1="37.6" x2="651.2" y2="62.4" stroke="#e8a030" stroke-width="0.6"/>
<line x1="622.4" y1="48.8" x2="632.8" y2="60" stroke="#3ce060" stroke-width="0.6"/>
<text x="618.4" y="26.4" font-size="5.2" fill="#231f20" stroke="#231f20" font-weight="bold">285</text>
<text x="618.4" y="39.7" font-size="5.2" fill="#231f20" stroke="#231f20" font-weight="bold">286</text>
<text x="618.4" y="48.5" font-size="5.2" fill="#231f20" stroke="#231f20" font-weight="bold">287</text>
<path d="M630.4 170.2C631.4 169.9 633.6 171.3 637 171.6C640.4 171.9 644.7 171.1 647.4 171.6C650.1 172.1 650.4 173.2 650.6 174.1C650.9 175 651.4 175.7 648.7 176C645.9 176.3 640.4 176.1 637 175.6C633.6 175.1 633.1 174.5 631.8 173.4C630.5 172.3 629.4 170.6 630.4 170.2Z" fill="#f4f4f4" stroke="#5a5a5a" stroke-width="0.45" stroke-linejoin="round"/>
<path d="M648.7 158.8C650.8 158 653.6 159.2 655.2 160.1C656.7 160.9 656.8 161.7 656.5 163.2C656.3 164.8 655.2 166.3 653.9 167.7C652.6 169.1 652.8 170 650 170.2C647.1 170.5 640.6 170.3 639.5 169C638.5 167.7 642.9 165.9 644.7 163.9C646.6 161.9 646.6 159.6 648.7 158.8Z" fill="#f4f4f4" stroke="#5a5a5a" stroke-width="0.45" stroke-linejoin="round"/>
<path d="M680.6 137.2C681.9 136.4 681.9 141 681.3 143.5C680.7 146.1 679.7 147.4 677.4 149.9C675 152.4 672.6 153.9 669.5 156.2C666.4 158.5 664.3 159.9 661.7 161.3C659.1 162.7 657.9 163.5 656.5 163.2C655.2 163 654.1 161.5 655.2 160.1C656.2 158.7 659.1 157.7 661.7 156.2C664.4 154.7 665.6 154.2 668.2 152.5C670.8 150.7 672.2 150.4 674.7 147.4C677.2 144.3 679.3 138 680.6 137.2Z" fill="#f4f4f4" stroke="#5a5a5a" stroke-width="0.45" stroke-linejoin="round"/>
<path d="M651.3 133.4C653 132.6 656.2 135.8 657.7 138.4C659.2 140.9 657.7 143.3 658.7 146C659.7 148.8 663.3 149.5 662.6 152.3C661.9 155.1 658 158.8 655.2 160.1C652.4 161.4 650 160.8 648.7 158.8C647.4 156.8 648.5 153.2 648.7 149.9C648.8 146.6 648.8 145.5 649.4 142.2C649.9 138.9 649.7 134.1 651.3 133.4Z" fill="#f4f4f4" stroke="#5a5a5a" stroke-width="0.45" stroke-linejoin="round"/>
<path d="M618.7 144.8C619.2 142.2 621.6 138.2 623.9 135.9C626.2 133.5 627.6 133.4 630.4 133.1C633.2 132.7 636.5 132.5 638.1 134C639.6 135.6 639 138.7 638.1 140.8C637.1 142.9 635.2 143 633.1 144.6C631.1 146.2 630.2 147.8 627.8 148.6C625.5 149.4 623.2 149.4 621.4 148.6C619.5 147.9 618.2 147.4 618.7 144.8Z" fill="#f4f4f4" stroke="#5a5a5a" stroke-width="0.45" stroke-linejoin="round"/>
<path d="M648.7 124.4C650.2 124.2 652.1 123.9 652.6 125.7C653.1 127.5 652 130.1 651.3 133.4C650.7 136.7 649.9 138.9 649.4 142.2C648.8 145.5 648.8 146.6 648.7 149.9C648.5 153.2 649.5 156 648.7 158.8C647.9 161.6 646.8 162.1 644.7 163.9C642.7 165.7 641.1 166.5 638.3 167.7C635.4 169 633 170 630.4 170.2C627.8 170.5 626.5 170.3 625.2 169C623.9 167.7 623.4 165.7 623.9 163.9C624.4 162.1 625.8 162.1 627.8 160.1C629.9 158 632.8 156.5 634.3 153.7C635.9 150.9 635.1 149.3 635.6 146C636.1 142.7 635.9 140 637 137.2C638 134.4 639.3 134.2 640.8 132.1C642.4 130.1 643.2 128.5 644.7 126.9C646.3 125.4 647.1 124.7 648.7 124.4Z" fill="#f4f4f4" stroke="#5a5a5a" stroke-width="0.45" stroke-linejoin="round"/>
<path d="M644.7 106.6C645.8 104.8 646.6 103 648.7 101.5C650.8 100 652.3 99.4 655.2 99C658 98.6 659.9 98.6 663 99.6C666.1 100.6 667.9 101.4 670.8 104.1C673.7 106.8 675.4 108.9 677.4 113C679.3 117.1 680 119.9 680.6 124.4C681.3 129 681.1 132 680.6 135.9C680.1 139.7 679.6 141 678 143.5C676.3 146.1 674.6 147 672.2 148.6C669.7 150.3 667.9 151.3 665.6 151.8C663.2 152.3 661.9 152.3 660.4 151.1C658.8 150 658.5 149.1 657.8 146C657.2 143 657.7 139.7 657.1 135.9C656.6 132 656.3 129.7 655.2 126.9C654 124.1 652.9 123.6 651.3 121.9C649.8 120.1 648.7 119.4 647.4 118.1C646.1 116.8 645.5 117 644.7 115.5C644 114 643.5 112.2 643.5 110.4C643.5 108.6 643.7 108.4 644.7 106.6Z" fill="#f4f4f4" stroke="#5a5a5a" stroke-width="0.45" stroke-linejoin="round"/>
<text x="664" y="102.5" font-size="5.1" fill="#4d4d4d" stroke="#4d4d4d">STRd</text>
<text x="639.4" y="143" font-size="5.1" fill="#4d4d4d" stroke="#4d4d4d">PAL</text>
<text x="614.7" y="156.8" font-size="5.1" fill="#4d4d4d" stroke="#4d4d4d">HY</text>
<text x="664" y="163" font-size="5.1" fill="#4d4d4d" stroke="#4d4d4d">CTXsp</text>
<text x="652" y="171" font-size="5.1" fill="#4d4d4d" stroke="#4d4d4d">sAMY</text>
<text x="625.3" y="180.3" font-size="5.1" fill="#4d4d4d" stroke="#4d4d4d">STRv</text>
<path transform="scale(.5)" d="M1322 237h2m-27 1h2m26 0h2m-2 2h2m-26 2h2m-8 7h2m15 4h2m-25 4h2m25 0h2m-14 1h2m8 0h2m2 0h2m24 0h2m-73 1h2m20 0h2m42 1h2m-12 7h2m-38 2h2m24 0h2m-16 5h2m18 2h2m-2 1h2m-6 1h2m-28 2h2m11 0h2m35 6h2m-28 1h2m-11 3h2m-7 3h2m10 0h2m27 0h2m-46 1h2m21 0h2m-56 2h2m38 0h2m-35 1h2m49 3h2m-44 1h2m41 1h2m-55 5h2m38 0h2m1 4h2m-23 5h2m7 2h2m-20 4h2" stroke="#e07a20" stroke-width="2" fill="none"/>
<path transform="scale(.5)" d="M1290 269h2m7 3h2m17 0h2m-21 3h2m10 7h2m-34 4h2m16 1h2m17 2h2m-32 2h2m-1 1h2m18 2h2m-29 1h2m18 0h2m7 19h2m-19 2h2" stroke="#3ce060" stroke-width="2" fill="none"/>
<path transform="scale(.5)" d="M1332 310h2m-2 1h2m2 0h2m-11 1h2m6 0h2m-1 0h2m-8 1h2m2 0h2m2 0h2m-7 1h2m-6 1h2m-9 1h2m2 0h2m1 0h2m-2 1h2m7 0h2m-15 1h2m6 0h2m-13 1h2m1 0h2m-6 1h2m1 0h2m4 0h2m3 0h2m0 0h2m-19 1h2m5 0h2m-2 1h2m7 1h2m-19 1h2m13 0h2m-2 1h2m-11 1h2m3 0h2m-2 1h2m-3 2h2m-5 1h2" stroke="#d08020" stroke-width="2" fill="none"/>
<path d="M669.6 181.6C670.7 182.2 671.4 182.9 672.8 185.5C674.3 188.2 676 191.1 676.8 194.7C677.6 198.4 677.2 200.8 676.8 204C676.4 207.1 674.6 207.9 674.9 210.5C675.1 213.2 677 213.8 678.1 217.2C679.1 220.6 680 223.5 680 227.7C680 231.9 679.7 234 678.1 238.2C676.4 242.4 674.7 245.1 671.6 248.8C668.4 252.5 666.1 254.6 662.4 256.6C658.8 258.7 656.7 259.2 653.3 258.9C650 258.6 647.6 256.7 645.6 255.4C643.5 254 643.7 252 643 252.2C642.2 252.5 642.6 255.4 641.6 256.6C640.5 257.9 640 258.6 637.7 258.6C635.4 258.6 632.4 258.3 630 256.6C627.5 255 626.4 252.6 625.6 250.3C624.8 247.9 625.4 246.4 625.8 244.8C626.1 243.2 626 243.5 627.3 242.2C628.7 240.9 629.6 240.6 632.5 238.2C635.3 235.8 637.7 234 641.6 230.4C645.5 226.7 648.9 222.5 652.1 219.9C655.2 217.2 655.7 218.5 657.2 217.2C658.8 215.9 658.5 215.8 659.8 213.2C661.1 210.5 662.4 208.4 663.8 204C665.2 199.5 666.2 195.2 667 190.8C667.8 186.5 667.2 184.1 667.7 182.3C668.2 180.4 668.6 181 669.6 181.6Z" fill="#f4f4f4" stroke="#5a5a5a" stroke-width="0.45" stroke-linejoin="round"/>
<path d="M657.2 217.2C659.2 217.4 666 219.6 668.9 218.5C671.9 217.4 673.9 211.9 674.9 210.5" fill="none" stroke="#5a5a5a" stroke-width="0.45" stroke-linecap="round" stroke-linejoin="round"/>
<path d="M653.3 221.8C654.6 222.6 658.6 227 661.2 226.4C663.8 225.9 667.7 219.8 668.9 218.5" fill="none" stroke="#5a5a5a" stroke-width="0.45" stroke-linecap="round" stroke-linejoin="round"/>
<path d="M661.2 226.4C659.4 228 653.6 232.7 650.7 235.6C647.8 238.4 645 240.9 643.6 243.5C642.2 246.1 642.4 249.7 642.3 251.3C642.2 253 642.8 252.9 643 253.2" fill="none" stroke="#5a5a5a" stroke-width="0.45" stroke-linecap="round" stroke-linejoin="round"/>
<text x="652" y="193" font-size="5.1" fill="#4d4d4d" stroke="#4d4d4d">STRd</text>
<text x="644" y="219" font-size="5.1" fill="#4d4d4d" stroke="#4d4d4d">STR</text>
<text x="614.7" y="258.9" font-size="5.1" fill="#4d4d4d" stroke="#4d4d4d">sAMY</text>
<text x="665.3" y="254.9" font-size="5.1" fill="#4d4d4d" stroke="#4d4d4d">CTXsp</text>
<path transform="scale(.5)" d="M1299 462h2m0 0h2m-9 1h2m-1 0h2m-1 0h2m1 0h2m-6 1h2m0 0h2m3 0h2m-12 1h2m1 0h2m-1 0h2m-1 0h2m2 0h2m-14 1h2m-1 0h2m-1 0h2m1 0h2m-1 0h2m-1 0h2m-1 0h2m0 0h2m-14 1h2m-1 0h2m-1 0h2m1 0h2m0 0h2m-1 0h2m5 0h2m-15 1h2m2 0h2m0 0h2m-1 0h2m-1 0h2m1 0h2m-14 1h2m1 0h2m-1 0h2m0 0h2m2 0h2m0 0h2m-1 0h2m-1 0h2m-17 1h2m1 0h2m0 0h2m3 0h2m2 0h2m-18 1h2m-1 0h2m0 0h2m-1 0h2m1 0h2m1 0h2m1 0h2m0 0h2m-18 1h2m0 0h2m0 0h2m0 0h2m-1 0h2m-1 0h2m2 0h2m-1 0h2m-1 0h2m-15 1h2m0 0h2m6 0h2m-14 1h2m-1 0h2m-1 0h2m0 0h2m1 0h2m2 0h2m-12 1h2m-1 0h2m2 0h2m0 0h2m1 0h2m-1 0h2m-14 1h2m0 0h2m-1 0h2m-1 0h2m-1 0h2m-1 0h2m-1 0h2m-8 1h2m-1 0h2m3 1h2" stroke="#4a1aa0" stroke-width="2" fill="none"/>
<path transform="scale(.5)" d="M1320 408h2m4 0h2m0 0h2m8 3h2m-31 2h2m0 5h2m5 1h2m0 0h2m23 0h2m-33 1h2m14 0h2m-23 3h2m7 0h2m4 2h2m-15 1h2m7 2h2m23 2h2m-43 1h2m24 1h2m11 0h2m-30 1h2m2 0h2m-16 1h2m41 0h2m-35 2h2m13 1h2m-17 2h2m-27 1h2m1 1h2m25 0h2m8 0h2m-24 3h2m26 1h2m7 1h2m-55 5h2m-1 0h2m4 1h2m39 1h2m-13 3h2m-36 1h2m9 2h2m24 0h2m-28 2h2m-7 4h2m27 1h2m-11 2h2m-8 1h2m-4 3h2" stroke="#e07a20" stroke-width="2" fill="none"/>
<path transform="scale(.5)" d="M1317 401h2m6 0h2m-6 1h2m-1 3h2m1 1h2m7 6h2m-11 1h2m-20 2h2m1 0h2m0 1h2m15 2h2m-11 1h2" stroke="#3ce060" stroke-width="2" fill="none"/>
<line x1="637.3" y1="218" x2="646.6" y2="233.6" stroke="#4a1aa0" stroke-width="0.8"/>
<line x1="630.6" y1="234" x2="642.6" y2="236.2" stroke="#8a6ae0" stroke-width="0.6"/>
<text x="628" y="220.8" font-size="5.2" fill="#231f20" stroke="#231f20" font-weight="bold">288</text>
<text x="621.3" y="236.2" font-size="5.2" fill="#231f20" stroke="#231f20" font-weight="bold">289</text>
<rect x="5.4" y="280" width="98.1" height="91.4" fill="none" stroke="#9d9d9d" stroke-width="0.7"/>
<text x="8.2" y="290" font-size="9.5" fill="#000" stroke="#000" font-weight="bold">f</text>
<rect x="16.8" y="284.3" width="5.8" height="5" fill="#6b5a1e"/>
<text x="25.2" y="289.3" font-size="6.6" fill="#231f20" stroke="#231f20">60: OT D3 Folh1 Gaba</text>
<path d="M26.6 350.7C26.1 352.2 27.9 356.6 30.5 359.7C33.1 362.8 35.1 364.6 39.4 366.1C43.7 367.6 47.3 367.9 52.2 367.4C57.1 366.9 60.3 366.1 63.8 363.5C67.3 360.9 69 357.5 69.5 354.6C70 351.7 68.2 350.2 66.3 348.8C64.4 347.4 62.2 346.9 59.9 347.5C57.6 348.1 57.1 350.7 54.8 352C52.5 353.3 51.2 353.5 48.4 353.9C45.6 354.3 43.8 354.3 40.7 353.9C37.6 353.5 35.8 352.6 33 352C30.2 351.4 27.1 349.2 26.6 350.7Z" fill="#f4f4f4" stroke="#5a5a5a" stroke-width="0.45" stroke-linejoin="round"/>
<path d="M31.8 353.3C33.2 353.8 37.2 355.4 40 356C42.8 356.6 45.6 357.3 48.4 357.1C51.2 356.9 54.2 356.3 57 355C59.8 353.7 63.7 350.3 65 349.4" fill="none" stroke="#5a5a5a" stroke-width="0.45" stroke-linecap="round" stroke-linejoin="round"/>
<path d="M29.2 331.5C30.7 328.9 32.8 326.1 35.6 325.1C38.4 324.1 40.7 324.6 43.3 326.4C45.9 328.2 46.6 331.5 48.4 334.1C50.2 336.7 50.2 337.9 52.2 339.2C54.2 340.5 57.1 339 58.6 340.5C60.1 342 60.7 344.6 59.9 346.9C59.1 349.2 57.9 350.7 54.8 352C51.7 353.3 48.7 353.6 44.6 353.3C40.5 353 37.4 352.5 34.3 350.7C31.2 348.9 30.5 346.9 29.2 344.3C27.9 341.7 27.9 340.5 27.9 337.9C27.9 335.3 27.7 334.1 29.2 331.5Z" fill="#f4f4f4" stroke="#5a5a5a" stroke-width="0.45" stroke-linejoin="round"/>
<path d="M35.6 295.7C36.7 292.5 37.6 292.4 40.7 291.2C43.8 290 46.9 289.6 51 289.9C55.1 290.2 57.4 290.8 61.2 292.5C65 294.2 67.6 295 70.2 298.2C72.8 301.4 73.4 304.1 74 308.5C74.6 312.9 74.2 315.9 73.4 320C72.6 324.1 71.9 325.7 70.2 329C68.5 332.3 67.3 334.3 65 336.6C62.7 338.9 61.2 340 58.6 340.5C56 341 54.2 340.5 52.2 339.2C50.2 337.9 49.9 336.4 48.4 334.1C46.9 331.8 46.6 329.5 44.6 327.7C42.6 325.9 39.7 327.2 38.2 325.1C36.7 323 37.5 321 36.9 317.4C36.3 313.8 35.3 311.5 35 307.2C34.7 302.9 34.5 298.9 35.6 295.7Z" fill="#f4f4f4" stroke="#5a5a5a" stroke-width="0.45" stroke-linejoin="round"/>
<text x="51" y="312.3" font-size="5.1" fill="#4d4d4d" stroke="#4d4d4d">STRd</text>
<text x="18.3" y="345.6" font-size="5.1" fill="#4d4d4d" stroke="#4d4d4d">PAL</text>
<text x="18.3" y="364.8" font-size="5.1" fill="#4d4d4d" stroke="#4d4d4d">STRv</text>
<path transform="scale(.5)" d="M116 718h2m-4 1h2m-1 0h2m2 0h2m-10 1h2m0 0h2m-1 1h2m1 0h2m0 0h2m1 0h2m-15 1h2m-1 0h2m-1 0h2m-1 0h2m1 0h2m-1 0h2m0 0h2m1 0h2m-12 1h2m2 0h2m-1 0h2m4 0h2m-1 0h2m-17 1h2m-1 0h2m4 0h2m1 0h2m1 0h2m-1 0h2m0 0h2m-18 1h2m2 0h2m-1 0h2m2 0h2m-1 0h2m3 0h2m-17 1h2m8 0h2m0 0h2m1 0h2m-7 1h2m1 0h2m-1 0h2m-15 1h2m-1 0h2m-1 0h2m-1 0h2m3 0h2m-1 0h2m2 0h2m-11 1h2m-1 0h2m4 0h2m-12 1h2m2 0h2m0 0h2m1 0h2m-1 0h2m-1 0h2m-10 1h2m0 0h2m0 0h2m0 0h2m-6 1h2m1 0h2" stroke="#e8208a" stroke-width="2" fill="none"/>
<path transform="scale(.5)" d="M131 700h2m-5 1h2m2 1h2m-6 1h2m-1 0h2m1 0h2m-6 1h2m-1 0h2m2 0h2m-7 1h2m4 0h2m-5 1h2m1 0h2m-8 1h2m0 0h2m1 0h2m-3 1h2" stroke="#e8208a" stroke-width="2" fill="none"/>
<path transform="scale(.5)" d="M94 728h2m-1 0h2m0 0h2m-3 1h2m0 0h2m-2 1h2m-7 1h2m2 1h2" stroke="#e8208a" stroke-width="2" fill="none"/>
<path transform="scale(.5)" d="M55 702h2m-1 0h2m0 0h2m0 0h2m-6 1h2m-1 0h2m1 0h2m-6 1h2m0 0h2m-2 1h2m-2 1h2m3 1h2" stroke="#7a30b0" stroke-width="2" fill="none"/>
<path transform="scale(.5)" d="M74 713h2m-4 2h2m1 0h2m-1 0h2m1 0h2m2 0h2m-11 1h2m6 0h2m-6 1h2m0 0h2m1 2h2" stroke="#7a30b0" stroke-width="2" fill="none"/>
<path transform="scale(.5)" d="M94 710h2m-5 2h2m1 1h2m-6 1h2m0 0h2m0 0h2m0 0h2m-12 1h2m3 0h2m-1 0h2m-4 2h2" stroke="#7a30b0" stroke-width="2" fill="none"/>
<path transform="scale(.5)" d="M55 678h2m-1 0h2m-2 2h2m-2 1h2m-1 0h2m-1 1h2m-3 1h2m-1 1h2m-3 1h2m-3 1h2m-1 0h2m-1 0h2m-2 1h2" stroke="#7a30b0" stroke-width="2" fill="none"/>
<line x1="18.3" y1="316.2" x2="28.6" y2="341.8" stroke="#7a30b0" stroke-width="0.6"/>
<line x1="23.4" y1="354.6" x2="32.4" y2="353.9" stroke="#2a86d6" stroke-width="0.6"/>
<line x1="70.8" y1="361" x2="61.2" y2="362.2" stroke="#e8208a" stroke-width="0.6"/>
<text x="15.1" y="314.2" font-size="5.2" fill="#231f20" stroke="#231f20" font-weight="bold">262</text>
<text x="13.8" y="356.5" font-size="5.2" fill="#231f20" stroke="#231f20" font-weight="bold">263</text>
<text x="71.4" y="362.9" font-size="5.2" fill="#231f20" stroke="#231f20" font-weight="bold">264</text>
<rect x="5.5" y="375.9" width="98" height="276.2" fill="none" stroke="#9d9d9d" stroke-width="0.7"/>
<text x="8.5" y="386" font-size="9.5" fill="#000" stroke="#000" font-weight="bold">g</text>
<rect x="19.3" y="378" width="5.5" height="5" fill="#13a06b"/>
<text x="27.7" y="383.1" font-size="6.6" fill="#231f20" stroke="#231f20">65: IA Mgp Gaba</text>
<path d="M20.5 392C22.5 387.6 30.2 390.5 34 390.8C37.8 391.1 42.9 392.2 46 394C49.1 395.8 52.8 399.4 55 403C57.2 406.6 60 413.9 61 418C62 422.1 62.2 425.9 61.8 430C61.3 434.1 59.8 441.1 58 445C56.2 448.9 53 453.5 50 456C47 458.5 41.9 460.6 38 461.4C34.1 462.1 26.6 462.7 24 461C21.4 459.3 20.9 456.1 20.4 450C19.9 443.9 20.4 428.7 20.4 420C20.4 411.3 18.5 396.4 20.5 392Z" fill="#f2f2f2"/>
<path d="M25 398C27.3 395.5 34.2 396 38 397C41.8 398 45.5 400.5 48 404C50.5 407.5 53.2 413.7 53 418C52.8 422.3 49.8 427.5 47 430C44.2 432.5 39.3 433.3 36 433C32.7 432.7 29 431.5 27 428C25 424.5 24.3 417 24 412C23.7 407 22.7 400.5 25 398Z" fill="#efefef" stroke="#e6e6e6" stroke-width="0.4" stroke-linejoin="round"/>
<path d="M26 436C28.5 433.7 36 434.7 40 436C44 437.3 49 440.8 50 444C51 447.2 49 452.8 46 455C43 457.2 35.5 457.8 32 457C28.5 456.2 26 453.5 25 450C24 446.5 23.5 438.3 26 436Z" fill="#efefef" stroke="#e6e6e6" stroke-width="0.4" stroke-linejoin="round"/>
<text x="22.6" y="396.8" font-size="5.1" fill="#6d6d6d" stroke="#6d6d6d">OB</text>
<path transform="scale(.5)" d="M71 792h2m9 14h2m-14 1h2m0 3h2m-11 5h2m8 1h2m-16 1h2m11 18h2m-15 1h2m-4 6h2m29 6h2m-26 5h2m-15 7h2m18 0h2m17 6h2m-21 3h2m-4 4h2m-6 4h2m23 0h2m-24 18h2m1 3h2m11 8h2" stroke="#2ab890" stroke-width="2" fill="none"/>
<line x1="37.7" y1="424.5" x2="53.7" y2="453" stroke="#2ab890" stroke-width="0.6"/>
<text x="50.8" y="459.2" font-size="5.2" fill="#231f20" stroke="#231f20">293</text>
<path d="M16.7 475.8L94 475.8L92.6 496.3L86.8 510.9L75 528.4L60.5 540L48.8 547.4L34.2 548.8L24 543L16.7 537.2Z" fill="#eeeeee"/>
<path d="M28.4 475.6C31.2 472.8 39.7 474.9 45 475C50.3 475.1 56.5 474.6 60 476.5C63.5 478.4 64.5 482.3 66.3 486.1C68.1 489.9 70.2 495.1 70.7 499.2C71.2 503.3 70.4 507.7 69.2 510.9C68 514.1 66.1 516.4 63.4 518.2C60.7 520 56.9 521.4 53.2 521.8C49.6 522.2 44.9 521.5 41.5 520.4C38.1 519.3 34.8 517.6 32.7 515.3C30.6 513 29.8 510.4 29.1 506.5C28.4 502.6 28.5 497 28.4 491.9C28.3 486.8 25.6 478.4 28.4 475.6Z" fill="#f3f3f3" stroke="#7a7a7a" stroke-width="0.35" stroke-linejoin="round"/>
<path d="M94 475.8C93.8 479.2 93.8 490.5 92.6 496.3C91.4 502.1 89.7 505.5 86.8 510.9C83.9 516.2 79.4 523.5 75 528.4C70.6 533.2 64.9 536.8 60.5 540C56.1 543.2 53.2 545.9 48.8 547.4C44.4 548.9 38.3 549.5 34.2 548.8C30.1 548.1 26.2 544.8 24 543C21.8 541.2 21.5 538.8 21 538" fill="none" stroke="#7a7a7a" stroke-width="0.35" stroke-linecap="round" stroke-linejoin="round"/>
<path d="M70.7 500.7C72.2 500.6 76.3 500.2 80 500C83.7 499.8 90.5 499.3 92.6 499.2" fill="none" stroke="#7a7a7a" stroke-width="0.35" stroke-linecap="round" stroke-linejoin="round"/>
<path d="M63.4 518.2C65.3 517.5 71.1 515.3 75 513.8C78.9 512.3 85 509.8 87 509" fill="none" stroke="#7a7a7a" stroke-width="0.35" stroke-linecap="round" stroke-linejoin="round"/>
<path d="M21.1 513.8C21.6 511.4 26.6 506 28.4 505C30.2 504 31.5 505.8 32 508C32.5 510.2 32.4 516.3 31.3 518.2C30.2 520.1 27.1 520.3 25.4 519.6C23.7 518.9 20.6 516.2 21.1 513.8Z" fill="#f3f3f3" stroke="#7a7a7a" stroke-width="0.35" stroke-linejoin="round"/>
<path d="M34.2 524C34.9 522.1 36.8 520.2 40 519.8C43.2 519.4 49.9 521.6 53.2 521.8C56.5 522 58.3 520.3 60 521C61.7 521.7 63.7 524.2 63.4 526C63.1 527.8 61.1 530.8 58 532C54.9 533.2 48.7 533.2 45 533C41.3 532.8 37.8 532.5 36 531C34.2 529.5 33.5 525.9 34.2 524Z" fill="#f3f3f3" stroke="#7a7a7a" stroke-width="0.35" stroke-linejoin="round"/>
<path d="M22.5 521.1C23.9 519.4 29.4 519.1 31.3 519.6C33.2 520.1 33.4 522.1 34.2 524C35 525.9 36.7 529.5 36 531C35.3 532.5 32.2 533.2 30 533C27.8 532.8 24.2 532 23 530C21.8 528 21.1 522.8 22.5 521.1Z" fill="#f3f3f3" stroke="#7a7a7a" stroke-width="0.35" stroke-linejoin="round"/>
<path d="M24 535.7C25.7 536.6 30.1 539.7 34.2 541C38.3 542.3 43.9 543.7 48.8 543.5C53.7 543.3 59 541.9 63.4 540C67.8 538.1 73.1 533.3 75 532" fill="none" stroke="#7a7a7a" stroke-width="0.35" stroke-linecap="round" stroke-linejoin="round"/>
<path d="M55 543C56.2 543.5 59.8 546.3 62 546C64.2 545.7 66 542.7 68 541C70 539.3 73 536.8 74 536" fill="none" stroke="#7a7a7a" stroke-width="0.35" stroke-linecap="round" stroke-linejoin="round"/>
<line x1="10" y1="510" x2="22" y2="516" stroke="#aaa" stroke-width="0.3"/>
<text x="34.5" y="482.5" font-size="5.1" fill="#4d4d4d" stroke="#4d4d4d">STRd</text>
<text x="6.4" y="509" font-size="5.1" fill="#4d4d4d" stroke="#4d4d4d">BST</text>
<text x="24.9" y="529.7" font-size="5.1" fill="#4d4d4d" stroke="#4d4d4d">SI</text>
<text x="39.3" y="529.4" font-size="5.1" fill="#4d4d4d" stroke="#4d4d4d">ACB</text>
<text x="65.8" y="527.5" font-size="5.1" fill="#4d4d4d" stroke="#4d4d4d">PIR</text>
<text x="81.9" y="525" font-size="5.1" fill="#4d4d4d" stroke="#4d4d4d">CLA–EP</text>
<text x="63" y="540.7" font-size="5.1" fill="#4d4d4d" stroke="#4d4d4d">lot</text>
<text x="28.9" y="546.3" font-size="5.1" fill="#4d4d4d" stroke="#4d4d4d">OT</text>
<text x="48.5" y="552" font-size="5.1" fill="#4d4d4d" stroke="#4d4d4d">OLF</text>
<path transform="scale(.5)" d="M83 1005h2m-2 1h2" stroke="#e8336a" stroke-width="2" fill="none"/>
<path transform="scale(.5)" d="M135 1015h2m-2 1h2m8 2h2m-11 6h2" stroke="#2a8a9a" stroke-width="2" fill="none"/>
<path transform="scale(.5)" d="M150 1009h2m0 0h2" stroke="#e0c040" stroke-width="2" fill="none"/>
<line x1="57" y1="523" x2="80.3" y2="533.4" stroke="#3cd6b0" stroke-width="0.6"/>
<line x1="58.6" y1="524.6" x2="75.5" y2="537.4" stroke="#1f6f70" stroke-width="0.6"/>
<line x1="56.2" y1="533.4" x2="65" y2="544.7" stroke="#e8536a" stroke-width="0.6"/>
<line x1="23.3" y1="545.5" x2="35.3" y2="524.6" stroke="#c943d5" stroke-width="0.6"/>
<path transform="scale(.5)" d="M113 1054h2m-3 2h2m-4 1h2m-4 1h2m3 0h2m-6 1h2m3 0h2m-7 2h2m0 0h2m0 0h2m-3 1h2m-4 1h2m-1 0h2m-1 0h2" stroke="#e8336a" stroke-width="2" fill="none"/>
<text x="82.7" y="535.8" font-size="5.2" fill="#231f20" stroke="#231f20">293</text>
<text x="77" y="543.9" font-size="5.2" fill="#231f20" stroke="#231f20">292</text>
<text x="66.6" y="550.8" font-size="5.2" fill="#231f20" stroke="#231f20">290</text>
<text x="16.9" y="553.8" font-size="5.2" fill="#231f20" stroke="#231f20">294</text>
<rect x="16.7" y="560.8" width="67" height="67.5" fill="#efefef"/>
<path d="M47.3 561.6C47.2 563 46.7 567.5 46.5 570C46.3 572.5 46.6 574.9 45.9 576.9C45.1 578.9 43.2 580.8 42 582C40.8 583.2 39.6 583.5 38.6 584.2C37.6 584.9 36.4 585.7 36 586" fill="none" stroke="#7a7a7a" stroke-width="0.35" stroke-linecap="round" stroke-linejoin="round"/>
<path d="M35.7 578.4C35.5 579.3 34.5 582.3 34.5 584C34.5 585.7 35.1 587.6 36 588.5C36.9 589.4 38.6 589.5 40 589.6C41.4 589.7 43.7 589.3 44.4 589.3" fill="none" stroke="#7a7a7a" stroke-width="0.35" stroke-linecap="round" stroke-linejoin="round"/>
<path d="M69.2 561.6C69.1 563 69 567.5 68.8 570C68.6 572.5 68.7 574 67.8 576.9C66.9 579.8 65.6 583.9 63.4 587.1C61.2 590.3 57.8 594.2 54.6 595.9C51.4 597.6 46.1 597.1 44.4 597.3" fill="none" stroke="#7a7a7a" stroke-width="0.35" stroke-linecap="round" stroke-linejoin="round"/>
<path d="M34.2 595.9C32.2 598.7 28.7 606.6 26.9 610.5C25.1 614.4 22.2 616.5 23.2 619.2C24.2 621.9 28.9 624.5 32.7 626.5C36.5 628.5 42.2 630 45.9 630.9C49.5 631.8 51.7 632.1 54.6 631.6C57.5 631.1 60.5 630.1 63.4 628C66.3 625.9 69.3 623.3 72.2 619.2C75.1 615.1 78.8 607.8 80.9 603.2C83 598.6 84.6 594.1 84.6 591.5C84.6 588.9 83 588.6 80.9 587.8C78.8 586.9 75.1 585.5 72.2 586.4C69.3 587.3 66.6 590.9 63.4 593C60.2 595.1 56.6 598.6 53.2 598.8C49.8 599 45.4 595.2 43 594.4C40.6 593.5 40.1 593.5 38.6 593.7C37.1 594 36.2 593.1 34.2 595.9Z" fill="#f3f3f3" stroke="#7a7a7a" stroke-width="0.35" stroke-linejoin="round"/>
<path d="M41 610C42.2 609.2 45.5 606.7 48 605C50.5 603.3 53 601.8 56 600C59 598.2 64.3 595 66 594" fill="none" stroke="#7a7a7a" stroke-width="0.35" stroke-linecap="round" stroke-linejoin="round"/>
<path d="M38.6 612C38.8 612.7 38.3 614.8 40 616C41.7 617.2 46.4 616.4 48.8 619C51.2 621.6 53.6 629.5 54.6 631.6" fill="none" stroke="#7a7a7a" stroke-width="0.35" stroke-linecap="round" stroke-linejoin="round"/>
<path d="M30.5 613L32.7 626.5" fill="none" stroke="#7a7a7a" stroke-width="0.35" stroke-linecap="round" stroke-linejoin="round"/>
<path d="M40 609C40.3 607.3 43.3 605.3 45 605C46.7 604.7 49.3 605.5 50 607C50.7 608.5 50.2 612.7 49 614C47.8 615.3 44.5 615.8 43 615C41.5 614.2 39.7 610.7 40 609Z" fill="#f3f3f3" stroke="#7a7a7a" stroke-width="0.35" stroke-linejoin="round"/>
<line x1="28" y1="627" x2="22" y2="633" stroke="#aaa" stroke-width="0.3" stroke-dasharray="0.6 0.8"/>
<line x1="47" y1="631" x2="47" y2="637" stroke="#aaa" stroke-width="0.3" stroke-dasharray="0.6 0.8"/>
<line x1="72" y1="583" x2="76" y2="578" stroke="#aaa" stroke-width="0.3" stroke-dasharray="0.6 0.8"/>
<line x1="30" y1="600" x2="33" y2="603" stroke="#aaa" stroke-width="0.3"/>
<text x="50" y="572.3" font-size="5.1" fill="#4d4d4d" stroke="#4d4d4d">STRd</text>
<text x="74.3" y="581" font-size="5.1" fill="#4d4d4d" stroke="#4d4d4d">CLA–EP</text>
<text x="8" y="601.7" font-size="5.1" fill="#4d4d4d" stroke="#4d4d4d">CEA–MEA</text>
<text x="67" y="607.4" font-size="5.1" fill="#4d4d4d" stroke="#4d4d4d">PIR</text>
<text x="12" y="636" font-size="5.1" fill="#4d4d4d" stroke="#4d4d4d">BLA–IA–</text>
<text x="12" y="642" font-size="5.1" fill="#4d4d4d" stroke="#4d4d4d">BMA</text>
<text x="42.3" y="641.8" font-size="5.1" fill="#4d4d4d" stroke="#4d4d4d">COA–</text>
<text x="42.3" y="647.3" font-size="5.1" fill="#4d4d4d" stroke="#4d4d4d">PAA</text>
<path transform="scale(.5)" d="M75 1207h2m-1 0h2m1 0h2m6 2h2m3 1h2m-13 1h2m-1 1h2m13 0h2m1 0h2m-2 4h2m-25 1h2m-12 1h2m18 2h2m16 3h2" stroke="#d452c2" stroke-width="2" fill="none"/>
<path transform="scale(.5)" d="M104 1218h2m-5 2h2m-1 0h2m1 0h2m-3 1h2m2 0h2m-7 1h2m0 0h2m3 0h2m-12 1h2m-1 1h2m1 0h2m0 1h2m2 0h2m-9 1h2m0 0h2m0 1h2m0 0h2m-10 1h2" stroke="#1f6f70" stroke-width="2" fill="none"/>
<path transform="scale(.5)" d="M110 1214h2m-9 3h2m2 0h2m5 0h2m-12 2h2m1 0h2m0 0h2m-6 1h2m3 1h2" stroke="#e8d040" stroke-width="2" fill="none"/>
<line x1="59.8" y1="598" x2="87.2" y2="598" stroke="#e28ee2" stroke-width="0.7"/>
<line x1="56.5" y1="610.6" x2="87.2" y2="607.8" stroke="#e8d86a" stroke-width="0.7"/>
<line x1="56.5" y1="614.6" x2="87.2" y2="615.4" stroke="#f07080" stroke-width="0.7"/>
<line x1="52.5" y1="616.2" x2="83.2" y2="634.8" stroke="#1f6f70" stroke-width="0.7"/>
<text x="88" y="600" font-size="5.2" fill="#231f20" stroke="#231f20">294</text>
<text x="88" y="609" font-size="5.2" fill="#231f20" stroke="#231f20">291</text>
<text x="88" y="617" font-size="5.2" fill="#231f20" stroke="#231f20">290</text>
<text x="84" y="638.8" font-size="5.2" fill="#231f20" stroke="#231f20">292</text>
<path d="M126.3 253.1 L108.6 282.8 L144 282.8 Z" fill="#fff" stroke="#b5b5b5" stroke-width="0.5"/>
<line x1="122" y1="260.3" x2="130.6" y2="260.3" stroke="#c8c8c8" stroke-width="0.5"/>
<line x1="117.5" y1="267.8" x2="135.1" y2="267.8" stroke="#c8c8c8" stroke-width="0.5"/>
<path d="M117.4 268 L135.2 268 L139.6 275.4 L113 275.4 Z" fill="#2b2b2b"/>
<text x="126.3" y="274.1" font-size="7.3" fill="#fff" text-anchor="middle">ST</text>
<path d="M168.3 253.1 L150.6 282.8 L186 282.8 Z" fill="#fff" stroke="#b5b5b5" stroke-width="0.5"/>
<line x1="164" y1="260.3" x2="172.6" y2="260.3" stroke="#c8c8c8" stroke-width="0.5"/>
<line x1="159.5" y1="267.8" x2="177.1" y2="267.8" stroke="#c8c8c8" stroke-width="0.5"/>
<path d="M155.1 275.2 L181.5 275.2 L186 282.8 L150.6 282.8 Z" fill="#2b2b2b"/>
<text x="168.3" y="281.5" font-size="7.3" fill="#fff" text-anchor="middle">CL</text>
<text x="126.5" y="291.2" font-size="6.3" fill="#231f20" stroke="#231f20" text-anchor="middle" font-weight="bold">c–g</text>
<text x="168" y="290.4" font-size="6.3" fill="#231f20" stroke="#231f20" text-anchor="middle" font-weight="bold">h and i</text>
<text x="190.8" y="201.3" font-size="10.3" fill="#000" stroke="#000" font-weight="bold">h</text>
<rect x="204.2" y="195.5" width="5.6" height="5.6" fill="#0d5c66"/>
<text x="212.4" y="200.9" font-size="6.6" fill="#231f20" stroke="#231f20">61: STR D1 Gaba</text>
<path d="M188 204.2L398.6 204.2L398.6 652.9L117.3 652.9L117.3 293.2L188 293.2L188 204.2" fill="none" stroke="#9d9d9d" stroke-width="0.7" stroke-linecap="butt" stroke-linejoin="round"/>
<line x1="188" y1="293.2" x2="398.6" y2="293.2" stroke="#a8a8a8" stroke-width="0.6" stroke-dasharray="0.8 1.2"/>
<line x1="117.3" y1="383.6" x2="398.6" y2="383.6" stroke="#a8a8a8" stroke-width="0.6" stroke-dasharray="0.8 1.2"/>
<line x1="117.3" y1="474" x2="398.6" y2="474" stroke="#a8a8a8" stroke-width="0.6" stroke-dasharray="0.8 1.2"/>
<line x1="117.3" y1="563.5" x2="398.6" y2="563.5" stroke="#a8a8a8" stroke-width="0.6" stroke-dasharray="0.8 1.2"/>
<line x1="326.5" y1="293.2" x2="326.5" y2="383.6" stroke="#a8a8a8" stroke-width="0.6" stroke-dasharray="0.8 1.2"/>
<line x1="255.5" y1="474" x2="255.5" y2="652.9" stroke="#a8a8a8" stroke-width="0.6" stroke-dasharray="0.8 1.2"/>
<line x1="331.9" y1="563.5" x2="331.9" y2="652.9" stroke="#a8a8a8" stroke-width="0.6" stroke-dasharray="0.8 1.2"/>
<rect x="191.9" y="206.4" width="12.6" height="8.4" fill="#d6d6d6" rx="2.2"/>
<text x="198.2" y="213.1" font-size="6.3" fill="#231f20" stroke="#231f20" text-anchor="middle" font-weight="bold">267</text>
<path d="M196.7 266C197 267.9 198.2 272.9 200.6 276.6C203 280.3 204.6 282 208.6 284.5C212.6 287 215.5 288.1 220.5 289.2C225.5 290.3 229.3 290.5 233.8 289.8C238.3 289.1 240.8 287.9 243 285.8C245.2 283.7 245 281.6 245 279.2C245 276.8 245.2 275.5 243 273.9C240.8 272.3 237 271.3 233.8 271.3C230.6 271.3 230.3 273.1 227.1 273.9C223.9 274.7 221.9 275.5 217.9 275.2C213.9 274.9 211 274.2 207.3 272.6C203.6 271 201.4 268.6 199.3 267.3C197.2 266 196.4 264.1 196.7 266Z" fill="#f4f4f4" stroke="#5a5a5a" stroke-width="0.45" stroke-linejoin="round"/>
<path d="M203.3 248.7C204.5 246.1 205.2 245.7 207.3 244.8C209.4 243.9 211.3 243.6 213.9 244.1C216.5 244.6 218.4 245.4 220.5 247.4C222.6 249.4 222.6 251.6 224.5 254C226.4 256.4 227.9 257.4 229.8 259.3C231.7 261.2 233 261.4 233.8 263.3C234.6 265.2 235.1 266.5 233.8 268.6C232.5 270.7 230.3 272.6 227.1 273.9C223.9 275.2 221.6 275.5 217.9 275.2C214.2 274.9 211.7 274.2 208.6 272.6C205.5 271 204.1 270.2 202.6 267.3C201.1 264.4 201.2 261.7 201.3 258C201.4 254.3 202.1 251.3 203.3 248.7Z" fill="#f4f4f4" stroke="#5a5a5a" stroke-width="0.45" stroke-linejoin="round"/>
<path d="M250.3 239.5C253.1 235.8 252.5 238.7 253 240.8C253.5 242.9 253.7 246.9 253 250.1C252.3 253.3 251.7 254.7 249.7 256.7C247.7 258.7 245.1 259.5 243 260C240.9 260.5 237.6 263.4 239.1 259.3C240.6 255.2 247.5 243.2 250.3 239.5Z" fill="#f4f4f4" stroke="#5a5a5a" stroke-width="0.45" stroke-linejoin="round"/>
<path d="M211.2 214.3C212.9 211.8 214 211.9 217.2 211C220.4 210.1 223 209.5 227.1 209.6C231.2 209.7 234 210.1 237.7 211.6C241.4 213.1 243.2 214.2 245.7 216.9C248.2 219.6 249 221.2 250.3 224.9C251.6 228.6 252.3 231.5 252.3 235.5C252.3 239.5 251.4 241.6 250.3 244.8C249.2 248 248.5 249 247 251.4C245.5 253.8 245.1 255.1 243 256.7C240.9 258.3 239.3 258.8 236.4 259.3C233.5 259.8 231.1 260.1 228.5 259.3C225.9 258.5 225.1 257.5 223.2 255.4C221.3 253.3 221.3 251.1 219.2 248.7C217.1 246.3 214.6 246.3 212.6 243.4C210.6 240.5 210 238.2 209.2 234.2C208.4 230.2 208.2 227.6 208.6 223.6C209 219.6 209.5 216.8 211.2 214.3Z" fill="#f4f4f4" stroke="#5a5a5a" stroke-width="0.45" stroke-linejoin="round"/>
<text x="249.6" y="215.8" font-size="5.1" fill="#4d4d4d" stroke="#4d4d4d">STRd</text>
<text x="191.4" y="264.5" font-size="5.1" fill="#4d4d4d" stroke="#4d4d4d">PAL</text>
<text x="240.4" y="264.6" font-size="5.1" fill="#4d4d4d" stroke="#4d4d4d">CTXsp</text>
<text x="237.8" y="288.3" font-size="5.1" fill="#4d4d4d" stroke="#4d4d4d">STRv</text>
<line x1="233" y1="222" x2="250" y2="213.5" stroke="#666" stroke-width="0.35"/>
<path transform="scale(.5)" d="M454 420h3m-7 1h3m-18 1h3m14 0h3m-1 0h3m-2 0h3m-18 1h3m7 0h3m-2 0h3m2 0h3m-2 0h3m-11 1h3m1 0h3m-17 1h3m11 0h3m4 0h3m-36 1h3m-2 0h3m3 0h3m-1 0h3m7 0h3m-1 0h3m-1 0h3m0 0h3m2 0h3m-30 1h3m-1 0h3m-2 0h3m-2 0h3m0 0h3m4 0h3m3 0h3m0 0h3m0 0h3m-32 1h3m4 0h3m-2 0h3m24 0h3m-39 1h3m10 0h3m-1 0h3m-1 0h3m1 0h3m12 0h3m-2 0h3m-45 1h3m0 0h3m3 0h3m-1 0h3m11 0h3m1 0h3m6 0h3m-2 0h3m-43 1h3m1 0h3m-2 0h3m-1 0h3m1 0h3m5 0h3m2 0h3m-27 1h3m-1 0h3m-1 0h3m0 0h3m16 0h3m1 0h3m12 0h3m-46 1h3m2 0h3m9 0h3m2 0h3m-2 0h3m14 0h3m-44 1h3m0 0h3m14 0h3m8 0h3m-34 1h3m-2 0h3m-2 0h3m-1 0h3m-2 0h3m9 0h3m-1 0h3m-2 0h3m0 0h3m-2 0h3m-2 0h3m-1 0h3m13 0h3m-1 0h3m-27 1h3m3 0h3m1 0h3m-33 1h3m0 0h3m-2 0h3m8 0h3m-2 0h3m-2 0h3m-1 0h3m7 0h3m-2 0h3m-37 1h3m-1 0h3m4 0h3m5 0h3m-2 0h3m1 0h3m-2 0h3m-2 0h3m-2 0h3m12 0h3m2 0h3m0 0h3m-49 1h3m4 0h3m19 0h3m12 0h3m-46 1h3m-1 0h3m-2 0h3m2 0h3m6 0h3m8 0h3m-1 0h3m13 0h3m-53 1h3m9 0h3m7 0h3m3 0h3m-2 0h3m-2 0h3m15 0h3m-1 0h3m-51 1h3m-1 0h3m-2 0h3m2 0h3m-1 0h3m7 0h3m0 0h3m1 0h3m2 0h3m12 0h3m-49 1h3m3 0h3m23 0h3m-31 1h3m-2 0h3m-2 0h3m20 0h3m1 0h3m1 0h3m-2 0h3m4 0h3m-2 0h3m-2 0h3m-31 1h3m-2 0h3m2 0h3m-1 0h3m-1 0h3m-2 0h3m4 0h3m-2 0h3m-20 1h3m0 0h3m12 0h3m-2 0h3m3 0h3m-44 1h3m-2 0h3m10 0h3m7 0h3m-2 0h3m-1 0h3m-1 0h3m0 0h3m-2 0h3m-2 0h3m-46 1h3m2 0h3m-1 0h3m3 0h3m-1 0h3m1 0h3m16 0h3m3 0h3m-47 1h3m2 0h3m15 0h3m12 0h3m-2 0h3m1 0h3m-40 1h3m4 0h3m0 0h3m3 0h3m8 0h3m1 0h3m-1 0h3m-35 1h3m7 0h3m-1 0h3m-2 0h3m-2 0h3m5 0h3m-1 0h3m1 0h3m2 0h3m7 0h3m-1 0h3m-52 1h3m-1 0h3m-2 0h3m0 0h3m-1 0h3m0 0h3m-2 0h3m6 0h3m-1 0h3m0 0h3m-2 0h3m8 0h3m5 0h3m-2 0h3m-2 0h3m-51 1h3m-2 0h3m0 0h3m5 0h3m9 0h3m-1 0h3m3 0h3m-1 0h3m4 0h3m2 0h3m0 0h3m-47 1h3m-2 0h3m3 0h3m-2 0h3m3 0h3m-1 0h3m1 0h3m1 0h3m7 0h3m1 0h3m-1 0h3m-51 1h3m19 0h3m14 0h3m2 0h3m-2 0h3m-2 0h3m0 0h3m-1 0h3m-50 1h3m-2 0h3m-1 0h3m0 0h3m-2 0h3m3 0h3m11 0h3m0 0h3m10 0h3m3 0h3m-54 1h3m15 0h3m-2 0h3m4 0h3m-2 0h3m4 0h3m6 0h3m-1 0h3m1 0h3m-1 0h3m-51 1h3m-1 0h3m10 0h3m2 0h3m4 0h3m15 0h3m-53 1h3m-2 0h3m-2 0h3m10 0h3m-1 0h3m3 0h3m-2 0h3m18 0h3m1 0h3m-2 0h3m-1 0h3m-55 1h3m13 0h3m0 0h3m0 0h3m9 0h3m-2 0h3m-2 0h3m4 0h3m2 0h3m-44 1h3m5 0h3m-1 0h3m-1 0h3m-2 0h3m11 0h3m-1 0h3m4 0h3m-46 1h3m0 0h3m-2 0h3m0 0h3m4 0h3m0 0h3m-2 0h3m-1 0h3m2 0h3m10 0h3m0 0h3m6 0h3m-48 1h3m-1 0h3m-1 0h3m1 0h3m-1 0h3m5 0h3m-2 0h3m11 0h3m-2 0h3m1 0h3m-46 1h3m0 0h3m1 0h3m-1 0h3m3 0h3m0 0h3m-1 0h3m0 0h3m-1 0h3m18 0h3m1 0h3m-47 1h3m-1 0h3m4 0h3m-2 0h3m2 0h3m-2 0h3m7 0h3m0 0h3m4 0h3m0 0h3m-46 1h3m-1 0h3m2 0h3m-1 0h3m0 0h3m-2 0h3m0 0h3m-1 0h3m-2 0h3m-2 0h3m8 0h3m2 0h3m2 0h3m-45 1h3m0 0h3m4 0h3m0 0h3m4 0h3m5 0h3m1 0h3m-2 0h3m-2 0h3m-1 0h3m0 0h3m0 0h3m5 0h3m-48 1h3m2 0h3m-2 0h3m-1 0h3m0 0h3m11 0h3m-1 0h3m5 0h3m-2 0h3m6 0h3m-48 1h3m3 0h3m7 0h3m10 0h3m2 0h3m-41 1h3m4 0h3m-2 0h3m4 0h3m-1 0h3m-1 0h3m-2 0h3m5 0h3m1 0h3m18 0h3m-56 1h3m-2 0h3m6 0h3m4 0h3m0 0h3m-2 0h3m2 0h3m2 0h3m1 0h3m1 0h3m8 0h3m-43 1h3m-2 0h3m4 0h3m8 0h3m1 0h3m4 0h3m-2 0h3m-1 0h3m3 0h3m-42 1h3m3 0h3m-2 0h3m-1 0h3m-2 0h3m7 0h3m6 0h3m2 0h3m0 0h3m4 0h3m-45 1h3m-1 0h3m-1 0h3m-1 0h3m0 0h3m9 0h3m-1 0h3m0 0h3m2 0h3m-2 0h3m-1 0h3m-2 0h3m1 0h3m-2 0h3m-46 1h3m2 0h3m-2 0h3m1 0h3m10 0h3m13 0h3m1 0h3m-1 0h3m-46 1h3m1 0h3m-1 0h3m-2 0h3m-1 0h3m-2 0h3m-2 0h3m2 0h3m-2 0h3m0 0h3m9 0h3m1 0h3m-2 0h3m-2 0h3m-1 0h3m-1 0h3m-2 0h3m-41 1h3m-1 0h3m-2 0h3m0 0h3m-1 0h3m0 0h3m-2 0h3m-1 0h3m-1 0h3m2 0h3m-1 0h3m4 0h3m3 0h3m-2 0h3m-48 1h3m-2 0h3m-2 0h3m3 0h3m-2 0h3m8 0h3m1 0h3m0 0h3m1 0h3m0 0h3m5 0h3m-1 0h3m-49 1h3m-2 0h3m0 0h3m-1 0h3m-2 0h3m3 0h3m-2 0h3m-2 0h3m7 0h3m1 0h3m0 0h3m9 0h3m-49 1h3m0 0h3m2 0h3m1 0h3m1 0h3m-2 0h3m0 0h3m13 0h3m0 0h3m1 0h3m-2 0h3m-47 1h3m2 0h3m11 0h3m1 0h3m1 0h3m11 0h3m-40 1h3m7 0h3m-1 0h3m-1 0h3m-2 0h3m-1 0h3m0 0h3m1 0h3m-1 0h3m1 0h3m0 0h3m4 0h3m-48 1h3m4 0h3m1 0h3m4 0h3m5 0h3m-2 0h3m-2 0h3m1 0h3m0 0h3m-1 0h3m-35 1h3m1 0h3m2 0h3m19 0h3m6 0h3m-37 1h3m-1 0h3m12 0h3m-2 0h3m1 0h3m-1 0h3m-2 0h3m0 0h3m-2 0h3m1 0h3m-1 0h3m-37 1h3m2 0h3m4 0h3m-1 0h3m10 0h3m4 0h3m-2 0h3m-46 1h3m-1 0h3m0 0h3m4 0h3m4 0h3m6 0h3m-1 0h3m0 0h3m5 0h3m-2 0h3m4 0h3m-46 1h3m19 0h3m2 0h3m-1 0h3m7 0h3m0 0h3m-2 0h3m-51 1h3m-2 0h3m1 0h3m2 0h3m1 0h3m-1 0h3m10 0h3m-2 0h3m1 0h3m9 0h3m-2 0h3m-2 0h3m-50 1h3m13 0h3m3 0h3m0 0h3m-2 0h3m-1 0h3m1 0h3m7 0h3m-2 0h3m-2 0h3m-43 1h3m10 0h3m4 0h3m5 0h3m-2 0h3m8 0h3m0 0h3m-37 1h3m2 0h3m0 0h3m-1 0h3m0 0h3m-1 0h3m-2 0h3m0 0h3m-2 0h3m6 0h3m-2 0h3m-2 0h3m-43 1h3m-1 0h3m-2 0h3m5 0h3m4 0h3m1 0h3m1 0h3m0 0h3m-1 0h3m4 0h3m4 0h3m-42 1h3m-1 0h3m12 0h3m0 0h3m-2 0h3m7 0h3m-2 0h3m-1 0h3m-1 0h3m0 0h3m-41 1h3m-2 0h3m4 0h3m-2 0h3m6 0h3m1 0h3m-2 0h3m-1 0h3m1 0h3m-37 1h3m2 0h3m3 0h3m-1 0h3m-1 0h3m-1 0h3m-2 0h3m1 0h3m9 0h3m8 0h3m-44 1h3m-2 0h3m-1 0h3m7 0h3m2 0h3m-1 0h3m-1 0h3m1 0h3m-2 0h3m-1 0h3m-2 0h3m-34 1h3m-2 0h3m-2 0h3m5 0h3m-2 0h3m-2 0h3m11 0h3m0 0h3m1 0h3m4 0h3m-2 0h3m-45 1h3m0 0h3m-2 0h3m3 0h3m2 0h3m-2 0h3m1 0h3m3 0h3m-1 0h3m3 0h3m1 0h3m-39 1h3m15 0h3m-2 0h3m-1 0h3m0 0h3m-1 0h3m0 0h3m7 0h3m1 0h3m-45 1h3m-2 0h3m-1 0h3m0 0h3m-2 0h3m2 0h3m1 0h3m4 0h3m-2 0h3m-2 0h3m15 0h3m-43 1h3m0 0h3m-2 0h3m6 0h3m-2 0h3m2 0h3m4 0h3m12 0h3m-48 1h3m17 0h3m5 0h3m8 0h3m-1 0h3m1 0h3m-42 1h3m-2 0h3m6 0h3m-2 0h3m-2 0h3m16 0h3m5 0h3m-1 0h3m-47 1h3m-2 0h3m-1 0h3m-2 0h3m-1 0h3m-2 0h3m1 0h3m-2 0h3m-1 0h3m-1 0h3m5 0h3m7 0h3m0 0h3m4 0h3m-34 1h3m8 0h3m-2 0h3m-2 0h3m5 0h3m4 0h3m-1 0h3m-2 0h3m-34 1h3m-2 0h3m0 0h3m0 0h3m-2 0h3m9 0h3m0 0h3m-2 0h3m1 0h3m1 0h3m-44 1h3m-2 0h3m-2 0h3m-2 0h3m2 0h3m1 0h3m4 0h3m-2 0h3m0 0h3m14 0h3m-43 1h3m19 0h3m-2 0h3m0 0h3m-2 0h3m8 0h3m0 0h3m-37 1h3m0 0h3m0 0h3m16 0h3m-2 0h3m-1 0h3m-2 0h3m3 0h3m-46 1h3m2 0h3m-2 0h3m6 0h3m-2 0h3m4 0h3m-2 0h3m2 0h3m-1 0h3m0 0h3m3 0h3m1 0h3m-45 1h3m3 0h3m12 0h3m8 0h3m5 0h3m-2 0h3m-39 1h3m0 0h3m1 0h3m2 0h3m1 0h3m2 0h3m-2 0h3m0 0h3m5 0h3m-2 0h3m-35 1h3m-1 0h3m-2 0h3m2 0h3m0 0h3m7 0h3m-1 0h3m-28 1h3m-1 0h3m-2 0h3m9 0h3m9 0h3m-28 1h3m1 0h3m-2 0h3m5 0h3m-2 0h3m0 0h3m0 0h3m-20 1h3m-2 0h3m11 0h3m1 0h3m-2 0h3m-20 1h3m-1 0h3m0 0h3" stroke="#1fbf80" stroke-width="3" fill="none"/>
<path transform="scale(.5)" d="M473 427h3m-4 1h3m-1 0h3m0 0h3m-2 0h3m-1 0h3m-6 1h3m-2 0h3m-1 0h3m-1 0h3m-11 1h3m-2 0h3m-1 0h3m-1 0h3m-10 1h3m2 0h3m5 0h3m-16 1h3m0 0h3m-2 0h3m-1 0h3m-1 0h3m3 0h3m-17 1h3m-1 0h3m-1 0h3m-1 0h3m-2 0h3m5 0h3m-14 1h3m-6 1h3m2 0h3m6 0h3m-1 0h3m-2 0h3m-19 1h3m0 0h3m-2 0h3m-2 0h3m4 0h3m1 0h3m-19 1h3m0 0h3m-2 0h3m-1 0h3m-2 0h3m0 0h3m-2 0h3m0 0h3m0 0h3m-18 1h3m2 1h3m-1 0h3m1 0h3m0 0h3m0 0h3m-17 1h3m-1 0h3m2 0h3m-2 0h3m-1 0h3m-8 1h3m-1 0h3m-2 0h3m-2 0h3m-11 1h3m-1 0h3m-5 1h3m-1 0h3m2 0h3m-2 0h3m-11 1h3m-2 0h3m1 0h3m-2 0h3m7 0h3m-23 1h3m-2 0h3m6 0h3m-1 0h3m-1 0h3m-18 1h3m-2 0h3m-2 0h3m-2 0h3m-2 0h3m-2 0h3m1 0h3m-2 0h3m3 0h3m-1 0h3m-2 0h3m-1 0h3m-22 1h3m1 0h3m-1 0h3m-2 0h3m5 0h3m-1 0h3m-2 0h3m-19 1h3m-1 0h3m-2 0h3m-2 0h3m-2 0h3m-2 0h3m2 0h3m-2 0h3m-14 1h3m2 0h3m-1 0h3m3 0h3m-2 0h3m-2 0h3m-22 1h3m-1 0h3m4 0h3m-1 0h3m-1 0h3m-2 0h3m2 0h3m-1 0h3m-24 1h3m-2 0h3m-2 0h3m1 0h3m6 0h3m0 0h3m1 0h3m-26 1h3m-1 0h3m-2 0h3m7 0h3m1 0h3m-19 1h3m-1 0h3m-2 0h3m-2 0h3m2 0h3m-2 0h3m0 0h3m4 0h3m-2 0h3m-2 0h3m-26 1h3m-2 0h3m0 0h3m0 0h3m-1 0h3m-1 0h3m-1 0h3m2 0h3m-1 0h3m-9 1h3m-2 0h3m-2 0h3m-2 0h3m-2 0h3m1 0h3m-24 1h3m4 0h3m-2 0h3m2 0h3m0 0h3m-1 0h3m-2 0h3m0 0h3m-1 0h3m-20 1h3m0 0h3m-2 0h3m-2 0h3m5 0h3m-17 1h3m2 0h3m0 0h3m-2 0h3m-1 0h3m-2 0h3m4 0h3m-22 1h3m2 0h3m-9 1h3m0 0h3m1 0h3m-1 0h3m-2 0h3m-1 0h3m-19 1h3m1 0h3m-2 0h3m-2 0h3m-1 0h3m0 0h3m-2 0h3m-2 0h3m0 0h3m-19 1h3m1 0h3m-1 0h3m1 0h3m2 0h3m-17 1h3m-1 0h3m-2 0h3m-2 0h3m1 0h3m-2 0h3m-1 0h3m-1 0h3m-1 0h3m-2 0h3m-18 1h3m-1 0h3m4 0h3m-2 0h3m-1 0h3m0 0h3m1 0h3m-2 0h3m-2 0h3m-23 1h3m-2 0h3m0 0h3m1 0h3m-2 0h3m3 0h3m-1 0h3m-1 0h3m-18 1h3m3 0h3m-2 0h3m-1 0h3m-2 0h3m-1 0h3m-18 1h3m-1 0h3m2 0h3m4 0h3m2 0h3m-23 1h3m-1 0h3m4 0h3m-2 0h3m-1 0h3m0 0h3m-1 0h3m-2 0h3m-1 0h3m-23 1h3m-2 0h3m9 0h3m-2 0h3m2 0h3m-2 0h3m-24 1h3m9 0h3m-1 0h3m2 0h3m-20 1h3m-1 0h3m5 0h3m-1 0h3m-1 0h3m0 0h3m-21 1h3m-2 0h3m-2 0h3m-2 0h3m-2 0h3m-2 0h3m-1 0h3m-1 0h3m0 0h3m6 0h3m-23 1h3m-2 0h3m0 0h3m-2 0h3m3 0h3m-2 0h3m-1 0h3m-2 0h3m-1 0h3m0 0h3m-21 1h3m2 0h3m3 0h3m0 0h3m-1 0h3m-22 1h3m-2 0h3m-2 0h3m0 0h3m2 0h3m-2 0h3m1 0h3m-17 1h3m-1 0h3m-1 0h3m-2 0h3m0 0h3m-2 0h3m1 0h3m-2 0h3m-2 0h3m2 0h3m-23 1h3m-2 0h3m0 0h3m-1 0h3m3 0h3m-2 0h3m4 0h3m-22 1h3m-2 0h3m-2 0h3m0 0h3m-2 0h3m0 0h3m2 0h3m-16 1h3m2 0h3m-2 0h3m-2 0h3m-2 0h3m1 0h3m-2 0h3m-2 0h3m-1 0h3m-1 0h3m-22 1h3m0 0h3m-2 0h3m-2 0h3m-1 0h3m-2 0h3m-2 0h3m0 0h3m-1 0h3m2 0h3m-23 1h3m3 0h3m-2 0h3m-1 0h3m-1 0h3m0 0h3m-1 0h3m-1 0h3m-19 1h3m0 0h3m0 0h3m-1 0h3m-2 0h3m-1 0h3m-1 0h3m1 0h3m-2 0h3m-21 1h3m1 0h3m0 0h3m-2 0h3m0 0h3m0 0h3m-2 0h3m-18 1h3m-2 0h3m-2 0h3m-1 0h3m8 0h3m-2 0h3m-14 1h3m-1 0h3m-2 0h3m-2 0h3m0 0h3m-16 1h3m-2 0h3m1 0h3m-2 0h3m0 0h3m-1 0h3m-14 1h3m7 0h3m-2 0h3m-13 1h3m-2 0h3m0 0h3m-2 0h3m0 0h3m-2 0h3m-2 0h3m-10 1h3m1 0h3m0 0h3m-11 1h3m1 0h3m1 0h3m-2 0h3m-12 1h3m-2 0h3m-2 0h3m0 0h3m-2 0h3m-2 0h3m-10 1h3m-2 0h3m-1 0h3m-2 0h3m0 0h3m-5 1h3m-7 1h3m-2 0h3m0 0h3m-8 1h3m-2 0h3m-2 0h3m-4 1h3m1 0h3m-6 1h3m-2 0h3m-4 2h3" stroke="#e8174a" stroke-width="3" fill="none"/>
<path transform="scale(.5)" d="M472 447h2m-7 2h2m-2 1h2m1 4h2m0 3h2m-2 1h2m-5 1h2m4 0h2m-7 1h2m-8 1h2m-1 0h2m9 1h2m-4 1h2m-11 1h2m2 0h2m6 0h2m-2 1h2m-14 1h2m7 1h2m2 0h2m-15 1h2m12 0h2m-13 1h2m4 0h2m-6 2h2m3 0h2m-1 0h2m-1 0h2m-14 1h2m10 0h2m-4 4h2m2 0h2m-15 1h2m2 0h2m-4 1h2m8 0h2m-13 1h2m-4 2h2m4 0h2m1 0h2m-9 1h2m4 0h2m-7 2h2m-1 0h2m-5 1h2m-1 0h2m1 3h2m-5 1h2m-1 0h2m5 2h2m-3 1h2m-5 1h2m-3 2h2m2 0h2m-7 1h2m-1 3h2" stroke="#e8174a" stroke-width="2" fill="none"/>
<path d="M269.3 276.6C268.8 278.2 270.4 280.8 273.3 283.2C276.2 285.6 279.1 287.3 283.9 288.5C288.7 289.7 292.6 289.7 297.1 289.2C301.6 288.7 303.7 287.9 306.4 285.9C309.1 283.9 310.1 281.3 310.4 279.2C310.7 277.1 309.3 276.2 307.7 275.3C306.1 274.4 304.8 274.9 302.4 274.6C300 274.3 299.2 274 295.8 273.9C292.4 273.8 289.2 273.6 285.2 273.9C281.2 274.2 279.1 274.8 275.9 275.3C272.7 275.8 269.8 275 269.3 276.6Z" fill="#f4f4f4" stroke="#5a5a5a" stroke-width="0.45" stroke-linejoin="round"/>
<path d="M265.3 250.1C266.8 247.7 269.5 246.6 271.9 246.1C274.3 245.6 276.7 246.3 277.2 247.4C277.7 248.5 275.5 249.3 274.6 251.4C273.7 253.5 273 254.8 272.6 258C272.2 261.2 272.2 263.8 272.6 267.3C273 270.8 275.5 273.4 274.6 275.3C273.7 277.2 269.9 278.2 268 276.6C266.1 275 266 271 265.3 267.3C264.6 263.6 264.6 261.4 264.6 258C264.6 254.6 263.8 252.5 265.3 250.1Z" fill="#f4f4f4" stroke="#5a5a5a" stroke-width="0.45" stroke-linejoin="round"/>
<path d="M274.6 260.7C275.8 258.3 277.5 255.1 279.9 254C282.3 252.9 283.9 254.2 286.5 255.4C289.1 256.6 290.2 258.9 293.1 260C296 261.1 299 259.8 301.1 260.7C303.2 261.6 303.4 262.6 303.7 264.7C304 266.8 304 269.5 302.4 271.3C300.8 273.1 299.2 273.4 295.8 273.9C292.4 274.4 288.9 274.7 285.2 273.9C281.5 273.1 279.5 271.6 277.2 270C274.9 268.4 274.4 267.9 273.9 266C273.4 264.1 273.4 263.1 274.6 260.7Z" fill="#f4f4f4" stroke="#5a5a5a" stroke-width="0.45" stroke-linejoin="round"/>
<path d="M319 244.8C320.9 242.4 321.5 244.8 322.3 246.1C323.1 247.4 323.5 249.5 323 251.4C322.5 253.3 321.7 254.1 319.7 255.4C317.7 256.7 313.1 260.1 313 258C312.9 255.9 317.1 247.2 319 244.8Z" fill="#f4f4f4" stroke="#5a5a5a" stroke-width="0.45" stroke-linejoin="round"/>
<path d="M279.9 216.9C281.2 213.9 282.3 212.6 285.2 211C288.1 209.4 290.5 209 294.5 209C298.5 209 301.4 209.4 305.1 211C308.8 212.6 310.4 213.9 313 216.9C315.6 219.9 316.8 222.2 318.3 226.2C319.8 230.2 320.2 232.8 320.3 236.8C320.4 240.8 319.9 242.9 319 246.1C318.1 249.3 317.7 250.3 315.7 252.7C313.7 255.1 312 256.4 309.1 258C306.2 259.6 304.3 260.3 301.1 260.7C297.9 261.1 296 261.1 293.1 260C290.2 258.9 288.9 257.9 286.5 255.4C284.1 252.9 282.8 251.1 281.2 247.4C279.6 243.7 279.1 241 278.6 236.8C278.1 232.6 278.3 230.2 278.6 226.2C278.9 222.2 278.6 219.9 279.9 216.9Z" fill="#f4f4f4" stroke="#5a5a5a" stroke-width="0.45" stroke-linejoin="round"/>
<text x="319.7" y="221.6" font-size="5.1" fill="#4d4d4d" stroke="#4d4d4d">STRd</text>
<text x="262.7" y="248.7" font-size="5.1" fill="#4d4d4d" stroke="#4d4d4d">STR</text>
<text x="305" y="271.8" font-size="5.1" fill="#4d4d4d" stroke="#4d4d4d">PAL</text>
<text x="261.3" y="287.2" font-size="5.1" fill="#4d4d4d" stroke="#4d4d4d">STRv</text>
<path transform="scale(.5)" d="M586 419h3m-1 0h3m-3 1h3m-2 0h3m-8 1h3m6 0h3m-21 1h3m0 0h3m9 0h3m-2 0h3m-1 0h3m-1 0h3m-26 1h3m-1 0h3m3 0h3m4 0h3m-1 0h3m-2 0h3m3 0h3m-1 0h3m-2 0h3m-2 0h3m1 0h3m-38 1h3m-2 0h3m7 0h3m0 0h3m3 0h3m-2 0h3m-1 0h3m-1 0h3m0 0h3m4 0h3m-38 1h3m12 0h3m5 0h3m-29 1h3m-1 0h3m0 0h3m6 0h3m-2 0h3m0 0h3m1 0h3m11 0h3m0 0h3m-38 1h3m-1 0h3m3 0h3m-2 0h3m-1 0h3m5 0h3m-27 1h3m-1 0h3m0 0h3m-2 0h3m8 0h3m3 0h3m-2 0h3m-1 0h3m8 0h3m-1 0h3m-35 1h3m0 0h3m1 0h3m2 0h3m-23 1h3m-1 0h3m1 0h3m1 0h3m-2 0h3m3 0h3m-1 0h3m-1 0h3m3 0h3m5 0h3m-40 1h3m1 0h3m4 0h3m0 0h3m-1 0h3m5 0h3m12 0h3m-39 1h3m0 0h3m2 0h3m-1 0h3m11 0h3m-1 0h3m4 0h3m-38 1h3m4 0h3m0 0h3m-2 0h3m2 0h3m5 0h3m1 0h3m-2 0h3m2 0h3m-2 0h3m2 0h3m-47 1h3m-2 0h3m4 0h3m4 0h3m9 0h3m-1 0h3m6 0h3m-1 0h3m-2 0h3m-1 0h3m-35 1h3m2 0h3m1 0h3m-2 0h3m2 0h3m3 0h3m-2 0h3m6 0h3m-44 1h3m4 0h3m6 0h3m-2 0h3m-1 0h3m9 0h3m-2 0h3m-24 1h3m0 0h3m-1 0h3m0 0h3m0 0h3m4 0h3m-2 0h3m-2 0h3m2 0h3m6 0h3m-2 0h3m-38 1h3m3 0h3m9 0h3m-2 0h3m-1 0h3m0 0h3m-2 0h3m0 0h3m-35 1h3m0 0h3m4 0h3m6 0h3m-1 0h3m-26 1h3m-2 0h3m2 0h3m3 0h3m2 0h3m0 0h3m0 0h3m-2 0h3m1 0h3m1 0h3m0 0h3m0 0h3m-2 0h3m-43 1h3m1 0h3m-2 0h3m1 0h3m-1 0h3m5 0h3m5 0h3m0 0h3m-1 0h3m1 0h3m2 0h3m-46 1h3m20 0h3m-2 0h3m-2 0h3m0 0h3m-2 0h3m4 0h3m0 0h3m-38 1h3m-2 0h3m1 0h3m2 0h3m6 0h3m-1 0h3m4 0h3m6 0h3m-48 1h3m0 0h3m4 0h3m1 0h3m-2 0h3m13 0h3m-1 0h3m-1 0h3m-39 1h3m4 0h3m2 0h3m0 0h3m0 0h3m4 0h3m4 0h3m-1 0h3m-1 0h3m-1 0h3m-1 0h3m-2 0h3m0 0h3m-47 1h3m0 0h3m-1 0h3m-1 0h3m-1 0h3m1 0h3m12 0h3m13 0h3m-2 0h3m0 0h3m-51 1h3m10 0h3m-1 0h3m1 0h3m15 0h3m-36 1h3m5 0h3m3 0h3m7 0h3m12 0h3m-1 0h3m-2 0h3m-49 1h3m1 0h3m3 0h3m4 0h3m-2 0h3m5 0h3m1 0h3m-1 0h3m-2 0h3m-31 1h3m3 0h3m1 0h3m10 0h3m-2 0h3m3 0h3m-35 1h3m-1 0h3m0 0h3m8 0h3m-2 0h3m-2 0h3m-2 0h3m16 0h3m-2 0h3m1 0h3m-2 0h3m-50 1h3m11 0h3m-2 0h3m14 0h3m-2 0h3m3 0h3m-2 0h3m-2 0h3m1 0h3m2 0h3m-52 1h3m-2 0h3m-2 0h3m3 0h3m0 0h3m1 0h3m1 0h3m3 0h3m8 0h3m2 0h3m-1 0h3m4 0h3m-52 1h3m0 0h3m5 0h3m-1 0h3m5 0h3m-2 0h3m-2 0h3m-1 0h3m1 0h3m1 0h3m1 0h3m0 0h3m-1 0h3m2 0h3m-1 0h3m-50 1h3m1 0h3m-1 0h3m-2 0h3m7 0h3m2 0h3m19 0h3m-2 0h3m-49 1h3m-1 0h3m2 0h3m-2 0h3m6 0h3m9 0h3m0 0h3m0 0h3m4 0h3m0 0h3m-2 0h3m-1 0h3m-52 1h3m1 0h3m-1 0h3m-2 0h3m-2 0h3m2 0h3m2 0h3m-2 0h3m-2 0h3m-2 0h3m1 0h3m2 0h3m4 0h3m-2 0h3m2 0h3m-1 0h3m-1 0h3m-51 1h3m2 0h3m1 0h3m2 0h3m4 0h3m-1 0h3m7 0h3m3 0h3m1 0h3m-2 0h3m-48 1h3m1 0h3m3 0h3m5 0h3m10 0h3m-1 0h3m0 0h3m-1 0h3m-1 0h3m6 0h3m-2 0h3m-46 1h3m12 0h3m0 0h3m-1 0h3m9 0h3m-1 0h3m-1 0h3m5 0h3m-52 1h3m7 0h3m2 0h3m-2 0h3m12 0h3m7 0h3m-2 0h3m4 0h3m-51 1h3m2 0h3m-1 0h3m3 0h3m3 0h3m-2 0h3m0 0h3m-1 0h3m0 0h3m8 0h3m-1 0h3m5 0h3m-54 1h3m-2 0h3m-1 0h3m4 0h3m14 0h3m8 0h3m-2 0h3m1 0h3m-2 0h3m-1 0h3m0 0h3m-52 1h3m-1 0h3m-2 0h3m-2 0h3m-1 0h3m2 0h3m-1 0h3m16 0h3m-1 0h3m12 0h3m-42 1h3m8 0h3m3 0h3m0 0h3m5 0h3m-2 0h3m0 0h3m4 0h3m-52 1h3m-2 0h3m-1 0h3m-2 0h3m-2 0h3m5 0h3m-1 0h3m1 0h3m0 0h3m4 0h3m-2 0h3m5 0h3m1 0h3m1 0h3m-50 1h3m-2 0h3m2 0h3m0 0h3m-2 0h3m0 0h3m1 0h3m10 0h3m3 0h3m1 0h3m3 0h3m-1 0h3m-50 1h3m-1 0h3m0 0h3m4 0h3m7 0h3m3 0h3m6 0h3m4 0h3m1 0h3m-46 1h3m0 0h3m-1 0h3m3 0h3m-1 0h3m5 0h3m-1 0h3m-2 0h3m0 0h3m0 0h3m3 0h3m1 0h3m-49 1h3m4 0h3m0 0h3m0 0h3m-2 0h3m14 0h3m-1 0h3m-2 0h3m0 0h3m0 0h3m3 0h3m0 0h3m0 0h3m-54 1h3m1 0h3m1 0h3m-1 0h3m6 0h3m16 0h3m-2 0h3m2 0h3m0 0h3m0 0h3m-1 0h3m-37 1h3m-2 0h3m9 0h3m3 0h3m-1 0h3m1 0h3m3 0h3m-1 0h3m-2 0h3m-54 1h3m6 0h3m-2 0h3m4 0h3m0 0h3m5 0h3m12 0h3m0 0h3m-50 1h3m2 0h3m1 0h3m-2 0h3m39 0h3m-53 1h3m16 0h3m22 0h3m-1 0h3m0 0h3m-49 1h3m-1 0h3m2 0h3m4 0h3m-22 1h3m-1 0h3m-1 0h3m-2 0h3m2 0h3m-1 0h3m6 0h3m25 0h3m-51 1h3m4 0h3m0 0h3m-2 0h3m-1 0h3m5 0h3m4 0h3m4 0h3m7 0h3m3 0h3m-53 1h3m6 0h3m11 0h3m1 0h3m1 0h3m0 0h3m-2 0h3m8 0h3m-48 1h3m3 0h3m5 0h3m-1 0h3m6 0h3m-1 0h3m2 0h3m-2 0h3m4 0h3m-43 1h3m-2 0h3m-2 0h3m9 0h3m3 0h3m-1 0h3m-2 0h3m0 0h3m2 0h3m-2 0h3m2 0h3m-1 0h3m2 0h3m-2 0h3m0 0h3m-1 0h3m-53 1h3m0 0h3m-1 0h3m-1 0h3m-2 0h3m0 0h3m0 0h3m9 0h3m-1 0h3m-2 0h3m-2 0h3m-2 0h3m0 0h3m3 0h3m0 0h3m-47 1h3m3 0h3m-2 0h3m5 0h3m6 0h3m5 0h3m0 0h3m5 0h3m1 0h3m-2 0h3m-45 1h3m-1 0h3m-1 0h3m-1 0h3m-2 0h3m4 0h3m-2 0h3m7 0h3m-2 0h3m5 0h3m-1 0h3m6 0h3m-51 1h3m-2 0h3m0 0h3m-2 0h3m3 0h3m2 0h3m0 0h3m-2 0h3m-1 0h3m4 0h3m3 0h3m-1 0h3m0 0h3m-36 1h3m2 0h3m-2 0h3m0 0h3m4 0h3m-2 0h3m0 0h3m14 0h3m-1 0h3m-2 0h3m1 0h3m-50 1h3m-2 0h3m-1 0h3m-1 0h3m6 0h3m0 0h3m-2 0h3m1 0h3m-1 0h3m5 0h3m-2 0h3m4 0h3m6 0h3m-57 1h3m-2 0h3m-1 0h3m-1 0h3m3 0h3m3 0h3m-2 0h3m6 0h3m4 0h3m-2 0h3m13 0h3m-55 1h3m3 0h3m1 0h3m2 0h3m0 0h3m-2 0h3m-1 0h3m0 0h3m0 0h3m4 0h3m3 0h3m-2 0h3m-2 0h3m3 0h3m-1 0h3m2 0h3m-56 1h3m17 0h3m3 0h3m2 0h3m1 0h3m1 0h3m5 0h3m0 0h3m-1 0h3m-54 1h3m13 0h3m-2 0h3m0 0h3m8 0h3m0 0h3m0 0h3m4 0h3m-2 0h3m-1 0h3m-2 0h3m-50 1h3m5 0h3m-1 0h3m-1 0h3m-2 0h3m-2 0h3m-2 0h3m-2 0h3m1 0h3m-2 0h3m3 0h3m-1 0h3m0 0h3m1 0h3m-2 0h3m-2 0h3m11 0h3m-57 1h3m6 0h3m6 0h3m3 0h3m-1 0h3m17 0h3m1 0h3m-1 0h3m-38 1h3m6 0h3m5 0h3m3 0h3m0 0h3m4 0h3m-39 1h3m-1 0h3m0 0h3m-2 0h3m4 0h3m1 0h3m5 0h3m-2 0h3m0 0h3m-2 0h3m1 0h3m-2 0h3m-1 0h3m1 0h3m-51 1h3m6 0h3m-2 0h3m-2 0h3m2 0h3m1 0h3m-2 0h3m-2 0h3m1 0h3m2 0h3m1 0h3m-1 0h3m-1 0h3m0 0h3m0 0h3m-1 0h3m-42 1h3m0 0h3m7 0h3m-1 0h3m1 0h3m1 0h3m0 0h3m-2 0h3m1 0h3m4 0h3m-2 0h3m-37 1h3m0 0h3m0 0h3m-2 0h3m-2 0h3m-2 0h3m0 0h3m-1 0h3m-2 0h3m-1 0h3m-2 0h3m-1 0h3m0 0h3m2 0h3m3 0h3m-48 1h3m-1 0h3m2 0h3m0 0h3m0 0h3m0 0h3m1 0h3m-2 0h3m-1 0h3m2 0h3m0 0h3m-2 0h3m-2 0h3m1 0h3m2 0h3m2 0h3m-55 1h3m0 0h3m11 0h3m-1 0h3m3 0h3m1 0h3m19 0h3m-51 1h3m-2 0h3m-1 0h3m-2 0h3m0 0h3m14 0h3m-1 0h3m2 0h3m4 0h3m-2 0h3m0 0h3m4 0h3m-2 0h3m-49 1h3m-1 0h3m1 0h3m-1 0h3m-1 0h3m-1 0h3m3 0h3m6 0h3m0 0h3m-2 0h3m-1 0h3m6 0h3m-43 1h3m-2 0h3m2 0h3m-2 0h3m-1 0h3m-2 0h3m5 0h3m1 0h3m4 0h3m-1 0h3m1 0h3m3 0h3m-1 0h3m-2 0h3m-2 0h3m-53 1h3m0 0h3m-2 0h3m-1 0h3m2 0h3m17 0h3m7 0h3m3 0h3m-49 1h3m0 0h3m2 0h3m-1 0h3m1 0h3m5 0h3m-1 0h3m-2 0h3m11 0h3m3 0h3m1 0h3m-45 1h3m-2 0h3m12 0h3m2 0h3m6 0h3m7 0h3m-48 1h3m-1 0h3m-2 0h3m11 0h3m0 0h3m2 0h3m11 0h3m-44 1h3m4 0h3m-4 1h3m0 0h3m7 0h3m9 0h3m9 0h3m1 0h3m1 0h3m-49 1h3m20 0h3m2 0h3m-2 0h3m4 0h3m-1 0h3m0 0h3m-1 0h3m0 0h3m-48 1h3m-1 0h3m7 0h3m-2 0h3m0 0h3m0 0h3m18 0h3m2 0h3m-32 1h3m1 0h3m-2 0h3m-24 1h3m0 0h3m3 0h3m-2 0h3m2 0h3m3 0h3m-2 0h3m-1 0h3m-2 0h3m-1 0h3m0 0h3m1 0h3m0 0h3m3 0h3m-1 0h3m-40 1h3m-2 0h3m0 0h3m1 0h3m-1 0h3m10 0h3m0 0h3m3 0h3m-2 0h3m-37 1h3m3 0h3m14 0h3m1 0h3m-2 0h3m-34 1h3m1 0h3m-1 0h3m-1 0h3m-1 0h3m-1 0h3m3 0h3m-2 0h3m-2 0h3m0 0h3m-2 0h3m-2 0h3m1 0h3m1 0h3m-30 1h3m-1 0h3m1 0h3m1 0h3m0 0h3m0 0h3m-2 0h3m6 0h3m-31 1h3m-1 0h3m-2 0h3m-2 0h3m-2 0h3m-1 0h3m-2 0h3m5 0h3m-1 0h3m-1 0h3m-2 0h3m1 0h3m-26 1h3m2 0h3m-2 0h3m1 0h3m-2 0h3m0 0h3m-2 0h3m-2 0h3m0 0h3m-13 1h3m8 0h3" stroke="#1fbf80" stroke-width="3" fill="none"/>
<path transform="scale(.5)" d="M609 428h3m-4 2h3m-2 0h3m0 0h3m-2 0h3m-1 0h3m-11 1h3m0 0h3m-1 0h3m1 0h3m-2 0h3m-1 0h3m-14 1h3m-1 0h3m0 0h3m0 0h3m-2 0h3m-16 1h3m0 0h3m-1 0h3m6 0h3m-2 0h3m-18 1h3m1 0h3m-1 0h3m2 0h3m0 0h3m0 0h3m-17 1h3m6 0h3m-2 0h3m2 0h3m-17 1h3m12 0h3m-20 1h3m-1 0h3m6 0h3m-13 1h3m-2 0h3m-1 0h3m-1 0h3m-1 0h3m-1 0h3m-8 1h3m-2 0h3m-2 0h3m-2 0h3m-2 0h3m1 0h3m-2 0h3m-10 1h3m-2 0h3m3 0h3m-2 0h3m-17 1h3m1 0h3m-2 0h3m-2 0h3m-2 0h3m7 0h3m-2 0h3m-1 0h3m-22 1h3m0 0h3m-2 0h3m12 0h3m-25 1h3m-2 0h3m2 0h3m-2 0h3m12 0h3m-25 1h3m3 0h3m16 0h3m-24 1h3m18 0h3m-27 1h3m-2 0h3m1 0h3m6 0h3m4 0h3m0 0h3m-2 0h3m-23 1h3m-2 0h3m-1 0h3m-11 1h3m-2 0h3m-2 0h3m-1 0h3m8 0h3m-1 0h3m1 0h3m-20 1h3m-2 0h3m-2 0h3m1 0h3m4 0h3m-2 0h3m-2 0h3m-18 1h3m-2 0h3m1 0h3m-2 0h3m-2 0h3m8 0h3m-2 0h3m-22 1h3m15 0h3m-2 0h3m-22 1h3m-2 0h3m0 0h3m0 0h3m6 0h3m-15 1h3m-1 0h3m10 0h3m-2 0h3m-1 0h3m-22 1h3m-1 0h3m-1 0h3m7 0h3m1 0h3m-1 0h3m-10 1h3m0 0h3m-1 0h3m-1 0h3m-18 1h3m1 0h3m0 0h3m3 0h3m-1 0h3m-26 1h3m5 0h3m-1 0h3m-2 0h3m2 0h3m-2 0h3m-1 0h3m-2 0h3m-1 0h3m-2 0h3m-2 0h3m-26 1h3m-1 0h3m-2 0h3m3 0h3m3 0h3m-1 0h3m-1 0h3m-2 0h3m-2 0h3m-2 0h3m-1 0h3m-27 1h3m7 0h3m5 0h3m1 0h3m-2 0h3m-28 1h3m2 0h3m-2 0h3m-1 0h3m0 0h3m0 0h3m-1 0h3m1 0h3m-16 1h3m-1 0h3m0 0h3m0 0h3m-2 0h3m-1 0h3m0 0h3m-2 0h3m-2 0h3m-1 0h3m-2 0h3m-23 1h3m0 0h3m0 0h3m0 0h3m5 0h3m-1 0h3m-2 0h3m-2 0h3m-27 1h3m-2 0h3m-1 0h3m-1 0h3m-1 0h3m-1 0h3m-2 0h3m2 0h3m3 0h3m-2 0h3m-25 1h3m-1 0h3m-2 0h3m0 0h3m-2 0h3m3 0h3m0 0h3m-2 0h3m-1 0h3m-1 0h3m-23 1h3m-2 0h3m-2 0h3m-2 0h3m-2 0h3m6 0h3m-1 0h3m3 0h3m-2 0h3m-25 1h3m-1 0h3m-1 0h3m-2 0h3m1 0h3m-2 0h3m-1 0h3m-2 0h3m3 0h3m0 0h3m-22 1h3m0 0h3m-2 0h3m-2 0h3m-1 0h3m5 0h3m0 0h3m-20 1h3m-2 0h3m0 0h3m2 0h3m-2 0h3m1 0h3m-1 0h3m-2 0h3m-1 0h3m-2 0h3m-24 1h3m0 0h3m1 0h3m-2 0h3m-2 0h3m2 0h3m-1 0h3m-2 0h3m-2 0h3m0 0h3m-26 1h3m-1 0h3m-2 0h3m0 0h3m-1 0h3m5 0h3m-2 0h3m0 0h3m-2 0h3m-2 0h3m-27 1h3m-2 0h3m-2 0h3m3 0h3m-1 0h3m3 0h3m0 0h3m3 0h3m-20 1h3m-2 0h3m6 0h3m-1 0h3m-19 1h3m2 0h3m0 0h3m0 0h3m0 0h3m-11 1h3m3 0h3m0 0h3m-17 1h3m-1 0h3m5 0h3m-2 0h3m-2 0h3m-10 1h3m-1 0h3m-2 0h3m1 0h3m0 0h3m-17 1h3m1 0h3m0 0h3m1 0h3m-2 0h3m-18 1h3m-1 0h3m-2 0h3m-2 0h3m0 0h3m3 0h3m1 0h3m-23 1h3m-1 0h3m-2 0h3m4 0h3m0 0h3m-2 0h3m1 0h3m3 0h3m-21 1h3m8 0h3m-2 0h3m-2 0h3m2 0h3m-20 1h3m7 0h3m1 0h3m-1 0h3m-1 0h3m-24 1h3m0 0h3m-1 0h3m-2 0h3m-2 0h3m0 0h3m4 0h3m-1 0h3m-23 1h3m0 0h3m-2 0h3m2 0h3m3 0h3m-2 0h3m-1 0h3m-2 0h3m-22 1h3m2 0h3m-2 0h3m0 0h3m4 0h3m0 0h3m0 0h3m-23 1h3m1 0h3m-2 0h3m-2 0h3m0 0h3m1 0h3m1 0h3m-1 0h3m-24 1h3m-1 0h3m-1 0h3m3 0h3m-12 1h3m1 0h3m-2 0h3m-2 0h3m1 0h3m7 0h3m-23 1h3m-2 0h3m-2 0h3m-2 0h3m-2 0h3m6 0h3m-2 0h3m1 0h3m-2 0h3m-2 0h3m-2 0h3m-24 1h3m-2 0h3m-1 0h3m-2 0h3m2 0h3m-1 0h3m0 0h3m0 0h3m-1 0h3m-2 0h3m-17 1h3m-2 0h3m3 0h3m-2 0h3m-1 0h3m-1 0h3m-1 0h3m-22 1h3m-1 0h3m-2 0h3m-1 0h3m-2 0h3m-1 0h3m2 0h3m-1 0h3m-1 0h3m-19 1h3m3 0h3m-2 0h3m-2 0h3m-2 0h3m-1 0h3m-2 0h3m-16 1h3m-2 0h3m2 0h3m5 0h3m-15 1h3m1 0h3m7 0h3m-18 1h3m-1 0h3m-1 0h3m-2 0h3m-2 0h3m1 0h3m2 0h3m-16 1h3m-2 0h3m1 0h3m0 0h3m1 0h3m-15 1h3m5 0h3m-1 0h3m-12 1h3m3 0h3m0 0h3m-2 0h3m-15 1h3m2 0h3m1 0h3m0 0h3m-2 0h3m-15 1h3m0 0h3m-1 0h3m2 0h3m-13 1h3m-2 0h3m-1 0h3m-2 0h3m2 0h3m-11 1h3m1 0h3m1 0h3m-2 0h3m-2 0h3m-13 1h3m1 0h3m-1 0h3m-2 0h3m-3 1h3" stroke="#e8174a" stroke-width="3" fill="none"/>
<path transform="scale(.5)" d="M634 464h2m1 1h2m-4 1h2m-1 0h2m-5 1h2m-2 1h2m2 0h2m-1 0h2m-8 1h2m4 0h2m-8 1h2m0 0h2m0 0h2m-4 1h2m-4 1h2m-1 0h2m0 0h2m1 0h2m-5 1h2m-1 0h2m-1 0h2m-7 1h2m1 0h2m-1 0h2m0 1h2m-5 1h2m-4 1h2m2 0h2m-5 1h2m-1 0h2m0 0h2m-4 1h2m-1 0h2" stroke="#f5841f" stroke-width="2" fill="none"/>
<line x1="305" y1="214.5" x2="318" y2="210.5" stroke="#1fbf80" stroke-width="0.5"/>
<line x1="318" y1="228" x2="324.5" y2="225.8" stroke="#e8174a" stroke-width="0.5"/>
<line x1="318" y1="236" x2="327.5" y2="233" stroke="#f5841f" stroke-width="0.5"/>
<text x="318" y="212.2" font-size="5.2" fill="#231f20" stroke="#231f20" font-weight="bold">950</text>
<text x="324.5" y="228" font-size="5.2" fill="#231f20" stroke="#231f20" font-weight="bold">951</text>
<text x="327.5" y="237.9" font-size="5.2" fill="#231f20" stroke="#231f20" font-weight="bold">952</text>
<path d="M343.2 283.2C344.3 282.8 346.4 284.3 349.9 284.6C353.4 284.9 357.7 284.1 360.5 284.6C363.3 285.1 363.5 286.3 363.8 287.2C364.1 288.1 364.6 288.9 361.8 289.2C359 289.5 353.3 289.3 349.9 288.8C346.5 288.3 345.9 287.6 344.6 286.5C343.3 285.4 342.1 283.6 343.2 283.2Z" fill="#f4f4f4" stroke="#5a5a5a" stroke-width="0.45" stroke-linejoin="round"/>
<path d="M361.8 271.3C363.9 270.5 366.8 271.7 368.4 272.6C370 273.5 370.1 274.3 369.8 275.9C369.5 277.5 368.4 279.1 367.1 280.6C365.8 282.1 366 282.9 363.1 283.2C360.2 283.5 353.6 283.2 352.5 281.9C351.4 280.6 355.9 278.7 357.8 276.6C359.7 274.5 359.7 272.1 361.8 271.3Z" fill="#f4f4f4" stroke="#5a5a5a" stroke-width="0.45" stroke-linejoin="round"/>
<path d="M394.3 248.8C395.6 248 395.7 252.8 395 255.4C394.3 258 393.4 259.4 391 262C388.6 264.6 386.2 266.2 383 268.6C379.8 271 377.7 272.4 375.1 273.9C372.5 275.4 371.1 276.2 369.8 275.9C368.5 275.6 367.3 274.1 368.4 272.6C369.5 271.1 372.4 270.2 375.1 268.6C377.8 267 379.1 266.5 381.7 264.7C384.3 262.9 385.8 262.6 388.3 259.4C390.8 256.2 393 249.6 394.3 248.8Z" fill="#f4f4f4" stroke="#5a5a5a" stroke-width="0.45" stroke-linejoin="round"/>
<path d="M364.5 244.8C366.2 244 369.5 247.4 371 250C372.5 252.6 371 255.1 372 258C373 260.9 376.7 261.6 376 264.5C375.3 267.4 371.2 271.2 368.4 272.6C365.6 274 363.1 273.4 361.8 271.3C360.5 269.2 361.7 265.5 361.8 262C361.9 258.5 362 257.4 362.5 254C363 250.6 362.8 245.6 364.5 244.8Z" fill="#f4f4f4" stroke="#5a5a5a" stroke-width="0.45" stroke-linejoin="round"/>
<path d="M331.3 256.7C331.8 254 334.2 249.8 336.6 247.4C339 245 340.3 244.9 343.2 244.5C346.1 244.1 349.4 243.9 351 245.5C352.6 247.1 352 250.3 351 252.5C350 254.7 348.1 254.9 346 256.5C343.9 258.1 343 259.9 340.6 260.7C338.2 261.5 335.9 261.5 334 260.7C332.1 259.9 330.8 259.4 331.3 256.7Z" fill="#f4f4f4" stroke="#5a5a5a" stroke-width="0.45" stroke-linejoin="round"/>
<path d="M361.8 235.5C363.4 235.2 365.3 234.9 365.8 236.8C366.3 238.7 365.2 241.4 364.5 244.8C363.8 248.2 363 250.6 362.5 254C362 257.4 361.9 258.5 361.8 262C361.7 265.5 362.6 268.4 361.8 271.3C361 274.2 359.9 274.7 357.8 276.6C355.7 278.5 354.1 279.3 351.2 280.6C348.3 281.9 345.9 282.9 343.2 283.2C340.5 283.5 339.2 283.2 337.9 281.9C336.6 280.6 336.1 278.5 336.6 276.6C337.1 274.7 338.5 274.7 340.6 272.6C342.7 270.5 345.6 268.9 347.2 266C348.8 263.1 348 261.4 348.5 258C349 254.6 348.8 251.7 349.9 248.8C351 245.9 352.2 245.6 353.8 243.5C355.4 241.4 356.2 239.7 357.8 238.1C359.4 236.5 360.2 235.8 361.8 235.5Z" fill="#f4f4f4" stroke="#5a5a5a" stroke-width="0.45" stroke-linejoin="round"/>
<path d="M357.8 216.9C358.9 215 359.7 213.2 361.8 211.6C363.9 210 365.5 209.4 368.4 209C371.3 208.6 373.2 208.5 376.4 209.6C379.6 210.7 381.4 211.5 384.3 214.3C387.2 217.1 389 219.4 391 223.6C393 227.8 393.6 230.7 394.3 235.5C395 240.3 394.8 243.4 394.3 247.4C393.8 251.4 393.3 252.7 391.6 255.4C389.9 258.1 388.2 259 385.7 260.7C383.2 262.4 381.4 263.5 379 264C376.6 264.5 375.3 264.5 373.7 263.3C372.1 262.1 371.8 261.2 371.1 258C370.4 254.8 370.9 251.4 370.4 247.4C369.9 243.4 369.6 241 368.4 238.1C367.2 235.2 366.1 234.6 364.5 232.8C362.9 231 361.8 230.2 360.5 228.9C359.2 227.6 358.6 227.8 357.8 226.2C357 224.6 356.5 222.8 356.5 220.9C356.5 219 356.7 218.8 357.8 216.9Z" fill="#f4f4f4" stroke="#5a5a5a" stroke-width="0.45" stroke-linejoin="round"/>
<text x="343.2" y="231.5" font-size="5.1" fill="#4d4d4d" stroke="#4d4d4d">STRd</text>
<text x="351.9" y="254" font-size="5.1" fill="#4d4d4d" stroke="#4d4d4d">PAL</text>
<text x="381" y="272" font-size="5.1" fill="#4d4d4d" stroke="#4d4d4d">CTXsp</text>
<text x="367.8" y="282.6" font-size="5.1" fill="#4d4d4d" stroke="#4d4d4d">sAMY</text>
<text x="365.1" y="289.2" font-size="5.1" fill="#4d4d4d" stroke="#4d4d4d">OT</text>
<line x1="357" y1="230" x2="366" y2="236" stroke="#666" stroke-width="0.35"/>
<path transform="scale(.5)" d="M736 419h3m-3 1h3m-10 1h3m-1 0h3m12 0h3m-21 1h3m2 0h3m-2 0h3m-2 0h3m2 0h3m-1 0h3m4 0h3m-2 0h3m2 0h3m-35 1h3m1 0h3m7 0h3m7 0h3m1 0h3m0 0h3m0 0h3m-17 1h3m2 0h3m2 0h3m-1 0h3m-23 1h3m1 0h3m-2 0h3m12 0h3m-2 0h3m-2 0h3m-31 1h3m-1 0h3m0 0h3m5 0h3m7 0h3m-1 0h3m1 0h3m-2 0h3m-35 1h3m4 0h3m-2 0h3m-1 0h3m-1 0h3m-1 0h3m11 0h3m1 0h3m-39 1h3m1 0h3m3 0h3m-1 0h3m9 0h3m2 0h3m-1 0h3m1 0h3m-2 0h3m-2 0h3m-39 1h3m4 0h3m0 0h3m-1 0h3m1 0h3m0 0h3m0 0h3m3 0h3m1 0h3m2 0h3m-41 1h3m2 0h3m5 0h3m9 0h3m6 0h3m1 0h3m-2 0h3m2 0h3m-52 1h3m9 0h3m-2 0h3m0 0h3m0 0h3m9 0h3m0 0h3m6 0h3m1 0h3m-2 0h3m-47 1h3m11 0h3m4 0h3m-2 0h3m1 0h3m8 0h3m3 0h3m-46 1h3m0 0h3m2 0h3m9 0h3m1 0h3m0 0h3m0 0h3m-2 0h3m1 0h3m-24 1h3m0 0h3m0 0h3m1 0h3m2 0h3m-1 0h3m2 0h3m1 0h3m1 0h3m-2 0h3m-48 1h3m3 0h3m-1 0h3m3 0h3m1 0h3m0 0h3m-2 0h3m0 0h3m0 0h3m5 0h3m-2 0h3m8 0h3m-49 1h3m3 0h3m3 0h3m-1 0h3m-2 0h3m4 0h3m3 0h3m7 0h3m0 0h3m-2 0h3m-42 1h3m-1 0h3m2 0h3m-1 0h3m-1 0h3m-2 0h3m7 0h3m-1 0h3m0 0h3m5 0h3m-44 1h3m-2 0h3m2 0h3m1 0h3m11 0h3m-1 0h3m-1 0h3m-2 0h3m2 0h3m-38 1h3m2 0h3m-2 0h3m-1 0h3m3 0h3m-2 0h3m-2 0h3m6 0h3m-2 0h3m-1 0h3m0 0h3m4 0h3m-1 0h3m-2 0h3m0 0h3m-2 0h3m-47 1h3m3 0h3m-2 0h3m-2 0h3m17 0h3m-37 1h3m3 0h3m0 0h3m5 0h3m1 0h3m-1 0h3m6 0h3m0 0h3m8 0h3m-48 1h3m6 0h3m3 0h3m-2 0h3m0 0h3m-1 0h3m10 0h3m4 0h3m-1 0h3m0 0h3m-49 1h3m0 0h3m-2 0h3m4 0h3m1 0h3m-2 0h3m0 0h3m0 0h3m0 0h3m-2 0h3m-2 0h3m2 0h3m1 0h3m8 0h3m-46 1h3m12 0h3m0 0h3m19 0h3m-1 0h3m8 0h3m-60 1h3m6 0h3m-2 0h3m-2 0h3m0 0h3m-1 0h3m-1 0h3m-1 0h3m9 0h3m4 0h3m5 0h3m-1 0h3m-2 0h3m5 0h3m-1 0h3m-57 1h3m-1 0h3m3 0h3m2 0h3m1 0h3m6 0h3m-2 0h3m-2 0h3m8 0h3m11 0h3m-53 1h3m1 0h3m0 0h3m7 0h3m0 0h3m1 0h3m-1 0h3m0 0h3m-2 0h3m-1 0h3m3 0h3m0 0h3m-1 0h3m-46 1h3m1 0h3m1 0h3m9 0h3m6 0h3m-1 0h3m6 0h3m8 0h3m-63 1h3m3 0h3m0 0h3m0 0h3m-2 0h3m3 0h3m0 0h3m-1 0h3m9 0h3m9 0h3m-2 0h3m-2 0h3m-2 0h3m2 0h3m3 0h3m0 0h3m-67 1h3m3 0h3m-2 0h3m-2 0h3m0 0h3m-2 0h3m3 0h3m5 0h3m16 0h3m-1 0h3m-2 0h3m-2 0h3m-1 0h3m-2 0h3m-1 0h3m-2 0h3m-53 1h3m2 0h3m17 0h3m8 0h3m0 0h3m2 0h3m0 0h3m5 0h3m-61 1h3m7 0h3m4 0h3m-1 0h3m-2 0h3m16 0h3m-2 0h3m-2 0h3m5 0h3m5 0h3m-2 0h3m-59 1h3m0 0h3m-2 0h3m5 0h3m0 0h3m3 0h3m8 0h3m0 0h3m-2 0h3m-2 0h3m7 0h3m-46 1h3m0 0h3m-2 0h3m0 0h3m6 0h3m0 0h3m2 0h3m-2 0h3m11 0h3m-1 0h3m1 0h3m-54 1h3m-2 0h3m6 0h3m-1 0h3m6 0h3m-2 0h3m1 0h3m3 0h3m7 0h3m4 0h3m-1 0h3m-2 0h3m0 0h3m2 0h3m-59 1h3m8 0h3m6 0h3m-1 0h3m4 0h3m2 0h3m11 0h3m3 0h3m0 0h3m-63 1h3m-1 0h3m-1 0h3m3 0h3m-1 0h3m2 0h3m0 0h3m-1 0h3m-2 0h3m0 0h3m1 0h3m-1 0h3m6 0h3m2 0h3m4 0h3m-1 0h3m-56 1h3m-2 0h3m5 0h3m1 0h3m0 0h3m3 0h3m12 0h3m1 0h3m3 0h3m3 0h3m-52 1h3m1 0h3m-2 0h3m2 0h3m-2 0h3m4 0h3m-1 0h3m-2 0h3m-2 0h3m4 0h3m-2 0h3m-2 0h3m-1 0h3m2 0h3m1 0h3m-2 0h3m-1 0h3m-2 0h3m-50 1h3m1 0h3m10 0h3m5 0h3m1 0h3m11 0h3m7 0h3m-54 1h3m-2 0h3m0 0h3m16 0h3m-2 0h3m14 0h3m2 0h3m1 0h3m-2 0h3m-54 1h3m0 0h3m1 0h3m13 0h3m-2 0h3m-1 0h3m-1 0h3m9 0h3m0 0h3m-2 0h3m-1 0h3m5 0h3m-57 1h3m-1 0h3m8 0h3m9 0h3m1 0h3m5 0h3m3 0h3m3 0h3m0 0h3m-39 1h3m-1 0h3m0 0h3m2 0h3m-2 0h3m18 0h3m-2 0h3m1 0h3m-35 1h3m3 0h3m4 0h3m4 0h3m3 0h3m-1 0h3m-37 1h3m-1 0h3m0 0h3m3 0h3m11 0h3m6 0h3m2 0h3m-46 1h3m-1 0h3m-2 0h3m1 0h3m-2 0h3m0 0h3m-2 0h3m18 0h3m-2 0h3m-34 1h3m5 0h3m-1 0h3m-2 0h3m9 0h3m-2 0h3m-2 0h3m-2 0h3m2 0h3m1 0h3m3 0h3m-48 1h3m-2 0h3m-2 0h3m1 0h3m-1 0h3m17 0h3m3 0h3m5 0h3m-1 0h3m-48 1h3m0 0h3m-1 0h3m-1 0h3m18 0h3m-1 0h3m-1 0h3m0 0h3m2 0h3m-2 0h3m-44 1h3m-2 0h3m0 0h3m2 0h3m0 0h3m9 0h3m2 0h3m3 0h3m-1 0h3m-38 1h3m-1 0h3m-2 0h3m3 0h3m-1 0h3m-1 0h3m0 0h3m-2 0h3m-2 0h3m-2 0h3m8 0h3m3 0h3m1 0h3m2 0h3m-1 0h3m-53 1h3m1 0h3m-2 0h3m-1 0h3m-1 0h3m4 0h3m1 0h3m12 0h3m-2 0h3m5 0h3m-2 0h3m-1 0h3m-1 0h3m-52 1h3m-2 0h3m-2 0h3m2 0h3m1 0h3m0 0h3m17 0h3m2 0h3m-2 0h3m-2 0h3m2 0h3m-2 0h3m-35 1h3m2 0h3m8 0h3m6 0h3m-42 1h3m-2 0h3m0 0h3m-2 0h3m5 0h3m14 0h3m1 0h3m-2 0h3m-1 0h3m-2 0h3m0 0h3m-2 0h3m-2 0h3m1 0h3m-43 1h3m0 0h3m-2 0h3m16 0h3m15 0h3m-48 1h3m2 0h3m1 0h3m23 0h3m3 0h3m-1 0h3m-42 1h3m-1 0h3m3 0h3m-2 0h3m-1 0h3m-1 0h3m15 0h3m3 0h3m-43 1h3m2 0h3m6 0h3m8 0h3m-2 0h3m-2 0h3m7 0h3m-2 0h3m1 0h3m-2 0h3m-2 0h3m-47 1h3m0 0h3m3 0h3m2 0h3m0 0h3m0 0h3m-1 0h3m-2 0h3m-2 0h3m14 0h3m2 0h3m-43 1h3m2 0h3m-1 0h3m2 0h3m-2 0h3m3 0h3m7 0h3m-28 1h3m0 0h3m-2 0h3m5 0h3m-2 0h3m-1 0h3m0 0h3m15 0h3m-44 1h3m6 0h3m-2 0h3m5 0h3m0 0h3m2 0h3m5 0h3m2 0h3m-1 0h3m-46 1h3m1 0h3m-1 0h3m1 0h3m6 0h3m10 0h3m-38 1h3m11 0h3m0 0h3m0 0h3m-1 0h3m7 0h3m0 0h3m-36 1h3m7 0h3m1 0h3m0 0h3m3 0h3m4 0h3m0 0h3m0 0h3m3 0h3m-47 1h3m8 0h3m0 0h3m6 0h3m-1 0h3m1 0h3m4 0h3m0 0h3m-1 0h3m-37 1h3m0 0h3m-1 0h3m-2 0h3m5 0h3m-2 0h3m6 0h3m6 0h3m-42 1h3m5 0h3m3 0h3m-2 0h3m12 0h3m-2 0h3m-2 0h3m-36 1h3m9 0h3m-1 0h3m-1 0h3m10 0h3m8 0h3m-43 1h3m0 0h3m0 0h3m19 0h3m-30 1h3m37 0h3m0 0h3m-1 0h3m-45 1h3m0 0h3m-2 0h3m11 0h3m0 0h3m1 0h3m-2 0h3m-33 1h3m3 0h3m8 0h3m-2 0h3m7 0h3m-2 0h3m12 0h3m-25 1h3m-1 0h3m-1 0h3m-1 0h3m1 0h3m-33 1h3m-1 0h3m19 0h3m4 0h3m8 0h3m-39 1h3m17 0h3m-1 0h3m5 0h3m3 0h3m-46 1h3m-2 0h3m-2 0h3m-1 0h3m2 0h3m15 0h3m-1 0h3m6 0h3m-38 1h3m-2 0h3m2 0h3m13 0h3m-28 1h3m20 0h3m-2 0h3m-2 0h3m10 0h3m-2 0h3m-2 0h3m0 0h3m-40 1h3m0 0h3m0 0h3m-2 0h3m6 0h3m2 0h3m1 0h3m2 0h3m-1 0h3m0 0h3m-2 0h3m-42 1h3m1 0h3m5 0h3m4 0h3m3 0h3m2 0h3m2 0h3m-40 1h3m1 0h3m1 0h3m-2 0h3m2 0h3m7 0h3m3 0h3m-2 0h3m-34 1h3m7 0h3m0 0h3m-2 0h3m17 0h3m-36 1h3m4 0h3m4 0h3m-2 0h3m8 0h3m8 0h3m-39 1h3m1 0h3m2 0h3m2 0h3m3 0h3m-2 0h3m1 0h3m1 0h3m-1 0h3m-2 0h3m-30 1h3m-2 0h3m2 0h3m0 0h3m-1 0h3m6 0h3m4 0h3m2 0h3m-41 1h3m2 0h3m-1 0h3m-2 0h3m-2 0h3m7 0h3m-1 0h3m-2 0h3m-11 1h3m2 0h3m-11 1h3m13 0h3m-2 0h3m0 0h3m-34 1h3m1 0h3m4 0h3m2 0h3m1 0h3m0 0h3m-24 1h3m4 0h3m5 0h3m2 0h3m-2 0h3m-2 0h3m-1 0h3m-2 0h3m3 0h3m-26 1h3m1 0h3m5 0h3m1 0h3m1 0h3m-32 1h3m7 0h3m5 0h3m-2 0h3m8 0h3m-2 0h3m-18 1h3m3 0h3m-24 1h3m15 0h3m5 0h3m-14 1h3m1 0h3m0 0h3m-13 1h3m2 0h3m2 0h3m-25 1h3m-2 0h3m-1 0h3m3 0h3m3 0h3m-1 0h3m-14 1h3m11 0h3m-2 0h3m-24 1h3m0 0h3m-1 0h3m2 0h3m1 0h3m4 0h3m-15 1h3m-7 1h3m0 0h3m-4 1h3m3 0h3m-9 1h3" stroke="#1fbf80" stroke-width="3" fill="none"/>
<path transform="scale(.5)" d="M773 463h2m-8 1h2m2 1h2m-8 1h2m8 0h2m-3 1h2m0 0h2m-15 1h2m10 0h2m-15 1h2m2 0h2m-1 0h2m-3 1h2m3 0h2m1 0h2m0 0h2m-13 1h2m0 0h2m1 0h2m3 0h2m-2 2h2m-1 0h2m-14 2h2m-5 1h2m1 0h2m6 0h2m1 1h2m-15 2h2m6 0h2m3 0h2m2 0h2m-18 1h2m1 0h2m3 0h2m2 0h2m1 0h2m-7 1h2m-10 1h2m12 0h2m-19 2h2m-1 0h2m2 0h2m4 0h2m-12 2h2m3 0h2m7 0h2m-1 0h2m-5 5h2m3 0h2m-6 1h2m-3 1h2m2 0h2m-18 1h2m5 0h2m-1 0h2m-1 1h2m1 0h2m-15 1h2m3 0h2m7 0h2m-15 1h2m5 0h2m6 0h2m-10 1h2m0 0h2m-9 1h2m7 0h2m-4 1h2m1 0h2m-1 0h2m1 0h2m0 0h2m-17 1h2m2 0h2m2 1h2m-5 1h2m-1 0h2m-1 0h2m3 0h2m-1 0h2m-8 1h2m-1 0h2m-1 0h2m1 1h2m0 0h2m-6 1h2m1 0h2m-1 0h2m-9 2h2m1 0h2m0 0h2m-7 1h2m0 2h2m0 0h2m-2 1h2m0 0h2m-11 1h2m3 1h2m-3 1h2m-7 1h2m-1 0h2m5 1h2m-7 2h2m0 0h2" stroke="#e8174a" stroke-width="2" fill="none"/>
<rect x="119" y="297.3" width="12.7" height="8.1" fill="#d6d6d6" rx="2.2"/>
<text x="125.3" y="303.7" font-size="6.3" fill="#231f20" stroke="#231f20" text-anchor="middle" font-weight="bold">268</text>
<path d="M122 356.9C122.3 358.8 123.5 364 125.9 367.8C128.3 371.7 129.9 373.4 133.9 376C137.9 378.6 140.8 379.8 145.9 380.9C150.9 382 154.7 382.2 159.2 381.5C163.7 380.8 166.2 379.6 168.5 377.4C170.7 375.2 170.5 373 170.5 370.5C170.5 368.1 170.7 366.7 168.5 365C166.2 363.4 162.4 362.4 159.2 362.4C156 362.4 155.7 364.2 152.5 365C149.3 365.9 147.2 366.7 143.3 366.4C139.3 366.1 136.4 365.3 132.6 363.7C128.9 362.1 126.7 359.6 124.6 358.2C122.5 356.8 121.7 354.9 122 356.9Z" fill="#f4f4f4" stroke="#5a5a5a" stroke-width="0.45" stroke-linejoin="round"/>
<path d="M128.6 339C129.8 336.2 130.5 335.9 132.6 334.9C134.8 334 136.6 333.7 139.3 334.2C141.9 334.7 143.8 335.6 145.9 337.6C148 339.7 148 342 149.9 344.5C151.8 346.9 153.4 348 155.2 349.9C157.1 351.9 158.4 352.1 159.2 354.1C160 356 160.6 357.4 159.2 359.6C157.9 361.8 155.7 363.7 152.5 365C149.3 366.4 147 366.7 143.3 366.4C139.6 366.1 137 365.3 133.9 363.7C130.9 362.1 129.4 361.2 127.9 358.2C126.5 355.2 126.5 352.4 126.6 348.6C126.8 344.7 127.4 341.7 128.6 339Z" fill="#f4f4f4" stroke="#5a5a5a" stroke-width="0.45" stroke-linejoin="round"/>
<path d="M175.8 329.4C178.6 325.6 178 328.6 178.5 330.8C179 333 179.2 337.1 178.5 340.4C177.8 343.7 177.2 345.2 175.2 347.2C173.2 349.3 170.6 350.1 168.5 350.7C166.3 351.2 163.1 354.2 164.6 349.9C166 345.7 173 333.3 175.8 329.4Z" fill="#f4f4f4" stroke="#5a5a5a" stroke-width="0.45" stroke-linejoin="round"/>
<path d="M136.6 303.4C138.3 300.8 139.4 300.9 142.6 299.9C145.8 299 148.4 298.4 152.5 298.5C156.6 298.6 159.4 299.1 163.1 300.6C166.9 302.1 168.6 303.3 171.2 306.1C173.7 308.8 174.5 310.5 175.8 314.3C177.1 318.2 177.8 321.2 177.8 325.3C177.8 329.4 176.9 331.6 175.8 334.9C174.7 338.2 173.9 339.3 172.5 341.8C171 344.2 170.6 345.6 168.5 347.2C166.3 348.9 164.8 349.4 161.8 349.9C158.9 350.5 156.6 350.7 153.9 349.9C151.3 349.1 150.5 348.1 148.6 345.9C146.7 343.7 146.7 341.4 144.6 339C142.5 336.5 140 336.5 138 333.5C135.9 330.5 135.3 328.1 134.5 324C133.7 319.9 133.5 317.1 133.9 313C134.3 308.9 134.8 306 136.6 303.4Z" fill="#f4f4f4" stroke="#5a5a5a" stroke-width="0.45" stroke-linejoin="round"/>
<text x="176.1" y="311.5" font-size="5.1" fill="#4d4d4d" stroke="#4d4d4d">STRd</text>
<text x="118.3" y="359.5" font-size="5.1" fill="#4d4d4d" stroke="#4d4d4d">PAL</text>
<text x="164.6" y="355.9" font-size="5.1" fill="#4d4d4d" stroke="#4d4d4d">CTXsp</text>
<text x="163" y="380.2" font-size="5.1" fill="#4d4d4d" stroke="#4d4d4d">STRv</text>
<path transform="scale(.5)" d="M301 599h2m-13 1h2m1 0h2m1 0h2m-11 1h2m13 0h2m-1 0h2m4 0h2m-28 1h2m16 0h2m2 0h2m-28 1h2m2 0h2m24 0h2m-32 1h2m0 0h2m0 0h2m1 0h2m16 0h2m0 0h2m2 0h2m-1 0h2m-32 1h2m-1 0h2m1 0h2m9 0h2m8 0h2m5 0h2m1 0h2m-36 1h2m-1 0h2m0 0h2m-1 0h2m8 0h2m5 0h2m10 0h2m3 0h2m0 0h2m-1 0h2m-38 1h2m18 0h2m0 0h2m3 0h2m2 0h2m2 0h2m-52 1h2m3 0h2m-1 0h2m8 0h2m0 0h2m7 0h2m0 0h2m3 0h2m1 0h2m0 0h2m0 0h2m4 0h2m1 0h2m-1 0h2m0 0h2m-45 1h2m-1 0h2m-1 0h2m4 0h2m12 0h2m5 0h2m-1 0h2m-41 1h2m4 0h2m10 0h2m5 0h2m15 0h2m8 0h2m-54 1h2m12 0h2m2 0h2m14 0h2m0 0h2m1 0h2m7 0h2m5 0h2m-61 1h2m0 0h2m0 0h2m3 0h2m12 0h2m2 0h2m-1 0h2m0 0h2m0 0h2m2 0h2m2 0h2m4 0h2m-1 0h2m6 0h2m-1 0h2m-58 1h2m16 0h2m24 0h2m1 0h2m-41 1h2m0 0h2m5 0h2m4 0h2m8 0h2m3 0h2m2 0h2m-1 0h2m3 0h2m7 0h2m1 0h2m-43 1h2m-1 0h2m2 0h2m4 0h2m-1 0h2m-1 0h2m2 0h2m1 0h2m-1 0h2m5 0h2m-1 0h2m0 0h2m4 0h2m-55 1h2m5 0h2m-1 0h2m15 0h2m11 0h2m-1 0h2m4 0h2m-1 0h2m0 0h2m-1 0h2m-48 1h2m2 0h2m-1 0h2m-1 0h2m1 0h2m8 0h2m6 0h2m1 0h2m2 0h2m-1 0h2m0 0h2m1 0h2m-1 0h2m-1 0h2m-1 0h2m-1 0h2m5 0h2m-58 1h2m-1 0h2m0 0h2m0 0h2m0 0h2m10 0h2m0 0h2m4 0h2m5 0h2m7 0h2m0 0h2m1 0h2m2 0h2m-42 1h2m-1 0h2m0 0h2m10 0h2m27 0h2m-58 1h2m7 0h2m11 0h2m6 0h2m3 0h2m0 0h2m5 0h2m5 0h2m4 0h2m-56 1h2m9 0h2m7 0h2m2 0h2m21 0h2m-53 1h2m2 0h2m-1 0h2m18 0h2m2 0h2m1 0h2m-1 0h2m11 0h2m2 0h2m1 0h2m-1 0h2m-1 0h2m-50 1h2m7 0h2m6 0h2m18 0h2m-1 0h2m-1 0h2m-40 1h2m6 0h2m5 0h2m1 0h2m1 0h2m0 0h2m15 0h2m-37 1h2m0 0h2m4 0h2m0 0h2m2 0h2m2 0h2m13 0h2m-48 1h2m3 0h2m-1 0h2m11 0h2m1 0h2m2 0h2m4 0h2m12 0h2m-42 1h2m0 0h2m2 0h2m3 0h2m1 0h2m3 0h2m5 0h2m5 0h2m5 0h2m-1 0h2m-45 1h2m0 0h2m2 0h2m7 0h2m1 0h2m7 0h2m-1 0h2m2 0h2m1 0h2m2 0h2m1 0h2m9 0h2m-61 1h2m4 0h2m0 0h2m0 0h2m3 0h2m0 0h2m-1 0h2m-1 0h2m6 0h2m22 0h2m5 0h2m-1 0h2m-50 1h2m9 0h2m3 0h2m4 0h2m13 0h2m9 0h2m-1 0h2m-61 1h2m5 0h2m3 0h2m6 0h2m9 0h2m-1 0h2m1 0h2m20 0h2m-48 1h2m15 0h2m1 0h2m3 0h2m10 0h2m3 0h2m0 0h2m-1 0h2m-25 1h2m-1 0h2m15 0h2m-1 0h2m0 0h2m0 0h2m4 0h2m-29 1h2m2 0h2m6 0h2m3 0h2m6 0h2m-27 1h2m-1 0h2m14 0h2m4 0h2m1 0h2m-56 1h2m21 0h2m1 0h2m11 0h2m3 0h2m-1 0h2m-47 1h2m22 0h2m0 0h2m-1 0h2m-1 0h2m5 0h2m-1 0h2m7 0h2m4 0h2m2 0h2m-60 1h2m3 0h2m20 0h2m0 0h2m6 0h2m-38 1h2m-1 0h2m-1 0h2m21 0h2m3 0h2m0 0h2m0 0h2m2 0h2m12 0h2m0 0h2m-20 1h2m3 0h2m0 0h2m6 0h2m-49 1h2m21 0h2m1 0h2m7 0h2m-39 1h2m0 0h2m-1 0h2m19 0h2m15 0h2m8 0h2m-53 1h2m0 0h2m15 0h2m2 0h2m-23 1h2m20 0h2m16 0h2m-40 1h2m1 0h2m7 0h2m1 0h2m-17 1h2m8 0h2m2 0h2m2 0h2m-4 1h2m3 0h2m-11 1h2m4 0h2m1 0h2m-1 0h2m12 0h2m-26 1h2m-1 0h2m-1 0h2m-1 0h2m-1 0h2m-6 1h2m7 0h2m-7 1h2m7 0h2m-1 0h2m-9 1h2m-1 0h2m0 0h2m3 1h2" stroke="#e8174a" stroke-width="2" fill="none"/>
<path transform="scale(.5)" d="M270 642h2m0 0h2m-3 1h2m-4 2h2m0 0h2m12 1h2m-7 1h2m35 0h2m-1 0h2m-47 1h2m5 0h2m9 0h2m14 0h2m14 0h2m-40 1h2m6 0h2m4 1h2m6 0h2m2 0h2m-11 1h2m6 0h2m-39 1h2m28 0h2m3 0h2m1 0h2m-1 0h2m0 0h2m4 0h2m-49 1h2m2 0h2m9 0h2m-19 1h2m7 0h2m-1 0h2m10 0h2m-14 1h2m2 0h2m2 0h2m-1 0h2m-20 1h2m3 0h2m25 0h2m-32 1h2m9 0h2m-1 0h2m-8 1h2m16 0h2m2 0h2m13 0h2m7 0h2m-54 1h2m2 0h2m19 0h2m21 0h2m5 0h2m-37 1h2m28 1h2m-33 1h2m-7 2h2m28 0h2m-42 1h2m0 0h2m4 0h2m6 0h2m8 0h2m-1 0h2m9 0h2m-1 0h2m-1 0h2m-8 1h2m5 0h2m3 0h2m4 0h2m-1 0h2m-55 1h2m18 0h2m26 0h2m-1 0h2m-56 1h2m2 0h2m1 0h2m1 0h2m9 0h2m5 0h2m15 0h2m2 0h2m6 0h2m-24 1h2m5 0h2m-29 1h2m13 0h2m10 0h2m2 0h2m-12 1h2m9 0h2m-29 2h2m6 0h2m25 0h2m-36 1h2m2 0h2m2 0h2m24 0h2m-53 1h2m48 0h2m-25 1h2m14 0h2m-31 1h2m4 0h2m15 0h2m-1 0h2m14 0h2m-54 1h2m14 0h2m8 0h2m11 0h2m-2 1h2m8 0h2m-1 0h2m-51 1h2m9 0h2m28 0h2m0 0h2m-29 1h2m11 0h2m5 0h2m-33 1h2m38 0h2m0 0h2m1 0h2m-43 1h2m-1 0h2m24 0h2m1 0h2m0 0h2m0 0h2m0 0h2m-38 1h2m39 0h2m-45 1h2m-1 0h2m11 0h2m4 0h2m1 0h2m7 0h2m-1 0h2m-15 1h2m-13 1h2m12 0h2m15 0h2m-8 1h2m7 0h2m-44 1h2m-1 0h2m2 0h2m17 0h2m12 0h2m-36 1h2m27 0h2m-34 1h2m30 0h2m5 0h2m-1 0h2m-43 1h2m31 0h2m6 1h2m-38 1h2m1 0h2m-4 1h2m14 0h2m-1 1h2m15 1h2m-32 1h2m12 0h2m7 0h2m2 0h2m-25 1h2m21 0h2m-29 1h2m23 0h2m-24 1h2m-2 1h2m5 0h2m5 0h2m-20 1h2m7 0h2m6 0h2m-1 0h2m1 1h2m-1 0h2m1 0h2m-12 2h2m4 0h2" stroke="#e8174a" stroke-width="2" fill="none"/>
<path transform="scale(.5)" d="M328 617h2m1 0h2m-7 1h2m0 2h2m-3 1h2m11 0h2m-16 2h2m7 1h2m7 1h2m-6 1h2m2 0h2m-15 1h2m7 1h2m-12 3h2m6 0h2m2 3h2m-14 1h2m16 2h2m-11 2h2m-5 1h2m-7 1h2m5 1h2m4 1h2m-6 1h2m6 0h2m0 1h2m-20 1h2m16 5h2m-5 2h2m-3 2h2m4 1h2m-10 1h2m-2 1h2m-8 1h2m-1 1h2m4 0h2m-10 1h2m2 1h2m1 0h2m2 0h2m1 0h2m-17 2h2m3 2h2m2 0h2m-8 5h2m-7 1h2m15 0h2m-14 1h2m-8 1h2m-1 0h2m8 0h2m0 0h2m0 0h2m-7 1h2m-3 3h2m-2 2h2m-12 2h2m2 3h2m6 0h2m0 0h2m-18 2h2m5 1h2m2 0h2m-12 1h2m1 0h2m-2 5h2m2 0h2m-1 6h2" stroke="#1fbf80" stroke-width="2" fill="none"/>
<path transform="scale(.5)" d="M315 629h2m0 0h2m-1 0h2m-8 1h2m3 0h2m0 0h2m-7 1h2m0 0h2m-7 1h2m6 0h2m-11 1h2m1 0h2m5 0h2m-1 0h2m-13 1h2m-1 0h2m-1 0h2m-1 0h2m0 0h2m1 0h2m-3 1h2m-7 1h2m4 0h2m-1 0h2m-7 1h2" stroke="#1fbf80" stroke-width="2" fill="none"/>
<line x1="165" y1="307" x2="175" y2="304.5" stroke="#e8174a" stroke-width="0.5"/>
<line x1="170" y1="326" x2="178" y2="313.6" stroke="#1fbf80" stroke-width="0.5"/>
<text x="175" y="305.5" font-size="5.2" fill="#231f20" stroke="#231f20" font-weight="bold">954</text>
<text x="177.5" y="315.2" font-size="5.2" fill="#231f20" stroke="#231f20" font-weight="bold">953</text>
<path d="M193.9 368.7C193.4 370.3 195.1 373 198.2 375.4C201.2 377.8 204.3 379.6 209.3 380.8C214.3 382 218.5 382 223.2 381.5C228 381 230.2 380.2 233 378.1C235.8 376.1 237 373.5 237.2 371.3C237.5 369.2 236.1 368.3 234.4 367.3C232.7 366.4 231.3 366.9 228.8 366.6C226.3 366.3 225.5 366.1 221.9 365.9C218.2 365.8 214.9 365.6 210.7 365.9C206.5 366.2 204.2 366.8 200.9 367.3C197.6 367.9 194.5 367.1 193.9 368.7Z" fill="#f4f4f4" stroke="#5a5a5a" stroke-width="0.45" stroke-linejoin="round"/>
<path d="M189.7 341.7C191.3 339.2 194.2 338.1 196.7 337.6C199.2 337 201.7 337.8 202.3 338.9C202.8 340 200.5 340.8 199.5 343C198.6 345.2 197.8 346.5 197.4 349.7C197 353 197 355.7 197.4 359.2C197.8 362.7 200.5 365.4 199.5 367.3C198.6 369.2 194.5 370.3 192.6 368.7C190.6 367 190.5 363 189.7 359.2C189 355.4 189 353.2 189 349.7C189 346.2 188.2 344.1 189.7 341.7Z" fill="#f4f4f4" stroke="#5a5a5a" stroke-width="0.45" stroke-linejoin="round"/>
<path d="M199.5 352.5C200.8 350 202.6 346.7 205.1 345.6C207.6 344.6 209.3 345.8 212.1 347.1C214.8 348.3 215.9 350.7 219 351.8C222.1 352.8 225.2 351.5 227.4 352.5C229.7 353.4 229.9 354.4 230.2 356.5C230.4 358.7 230.5 361.4 228.8 363.3C227.1 365.1 225.5 365.4 221.9 365.9C218.2 366.4 214.6 366.7 210.7 365.9C206.8 365.1 204.6 363.6 202.3 361.9C199.9 360.3 199.3 359.8 198.8 357.9C198.2 356 198.3 354.9 199.5 352.5Z" fill="#f4f4f4" stroke="#5a5a5a" stroke-width="0.45" stroke-linejoin="round"/>
<path d="M246.3 336.3C248.2 333.8 248.9 336.2 249.8 337.6C250.6 338.9 251 341.1 250.5 343C250 344.9 249.1 345.7 247 347.1C244.9 348.4 240.1 351.9 240 349.7C239.8 347.6 244.3 338.7 246.3 336.3Z" fill="#f4f4f4" stroke="#5a5a5a" stroke-width="0.45" stroke-linejoin="round"/>
<path d="M205.1 307.8C206.5 304.8 207.6 303.4 210.7 301.8C213.8 300.2 216.3 299.8 220.5 299.8C224.7 299.8 227.8 300.2 231.6 301.8C235.5 303.4 237.2 304.8 240 307.8C242.7 310.9 244 313.3 245.6 317.3C247.1 321.4 247.5 324.1 247.7 328.1C247.8 332.2 247.3 334.4 246.3 337.6C245.3 340.8 244.9 341.9 242.8 344.3C240.7 346.7 238.9 348.1 235.9 349.7C232.8 351.3 230.8 352.1 227.4 352.5C224.1 352.9 222.1 352.8 219 351.8C215.9 350.7 214.6 349.6 212.1 347.1C209.6 344.5 208.1 342.7 206.5 338.9C204.8 335.1 204.3 332.4 203.7 328.1C203.2 323.8 203.5 321.4 203.7 317.3C204 313.3 203.7 310.9 205.1 307.8Z" fill="#f4f4f4" stroke="#5a5a5a" stroke-width="0.45" stroke-linejoin="round"/>
<text x="247.6" y="311.5" font-size="5.1" fill="#4d4d4d" stroke="#4d4d4d">STRd</text>
<text x="186.6" y="340.5" font-size="5.1" fill="#4d4d4d" stroke="#4d4d4d">STR</text>
<text x="229.3" y="363.2" font-size="5.1" fill="#4d4d4d" stroke="#4d4d4d">PAL</text>
<text x="185.9" y="379.5" font-size="5.1" fill="#4d4d4d" stroke="#4d4d4d">STRv</text>
<path transform="scale(.5)" d="M437 601h2m3 0h2m-6 1h2m-20 2h2m-1 0h2m9 0h2m4 1h2m2 0h2m-25 1h2m22 0h2m0 0h2m10 0h2m-40 1h2m12 0h2m-1 0h2m9 0h2m12 0h2m-39 1h2m0 0h2m-1 0h2m4 0h2m-1 0h2m-1 0h2m4 0h2m-1 0h2m-1 0h2m13 0h2m-43 1h2m1 0h2m1 0h2m-1 0h2m4 0h2m-1 0h2m2 0h2m24 0h2m-1 0h2m-37 1h2m2 0h2m-1 0h2m1 0h2m9 0h2m8 0h2m0 0h2m-1 0h2m-1 0h2m3 0h2m-52 1h2m22 0h2m4 0h2m7 0h2m0 0h2m1 0h2m2 0h2m-1 0h2m-1 0h2m-48 1h2m4 0h2m11 0h2m2 0h2m11 0h2m-1 0h2m-1 0h2m2 0h2m-1 0h2m-50 1h2m4 0h2m1 0h2m2 0h2m14 0h2m0 0h2m2 0h2m14 0h2m-56 1h2m2 0h2m4 0h2m-1 0h2m7 0h2m-1 0h2m0 0h2m0 0h2m2 0h2m-1 0h2m1 0h2m2 0h2m0 0h2m8 0h2m-50 1h2m3 0h2m-1 0h2m-1 0h2m2 0h2m-1 0h2m0 0h2m0 0h2m1 0h2m1 0h2m5 0h2m4 0h2m3 0h2m-42 1h2m0 0h2m3 0h2m-1 0h2m6 0h2m0 0h2m4 0h2m9 0h2m0 0h2m2 0h2m1 0h2m1 0h2m1 0h2m1 0h2m-56 1h2m-1 0h2m2 0h2m6 0h2m6 0h2m25 0h2m0 0h2m-1 0h2m0 0h2m0 0h2m-57 1h2m53 0h2m-52 1h2m3 0h2m3 0h2m-1 0h2m-1 0h2m-17 1h2m10 0h2m3 0h2m-1 0h2m1 0h2m1 0h2m21 0h2m2 0h2m-54 1h2m19 0h2m2 0h2m-26 1h2m0 0h2m0 0h2m1 0h2m-1 0h2m1 0h2m1 0h2m0 0h2m28 0h2m-1 0h2m-1 0h2m-1 0h2m-37 1h2m0 0h2m0 0h2m1 0h2m2 0h2m20 0h2m2 0h2m1 0h2m-1 0h2m-55 1h2m-1 0h2m2 0h2m-1 0h2m1 0h2m0 0h2m1 0h2m5 0h2m32 0h2m0 0h2m-52 1h2m31 0h2m5 0h2m3 0h2m-1 0h2m-1 0h2m-54 1h2m4 0h2m9 0h2m0 0h2m-1 0h2m-1 0h2m1 0h2m0 0h2m-1 0h2m2 0h2m1 0h2m10 0h2m-1 0h2m-1 0h2m3 0h2m-61 1h2m0 0h2m7 0h2m0 0h2m0 0h2m1 0h2m-1 0h2m6 0h2m0 0h2m0 0h2m14 0h2m-1 0h2m1 0h2m-51 1h2m9 0h2m5 0h2m29 0h2m-1 0h2m-46 1h2m7 0h2m7 0h2m2 0h2m12 0h2m1 0h2m-1 0h2m0 0h2m0 0h2m0 0h2m-52 1h2m6 0h2m8 0h2m-1 0h2m-1 0h2m2 0h2m2 0h2m11 0h2m3 0h2m7 0h2m-60 1h2m-1 0h2m0 0h2m5 0h2m14 0h2m-1 0h2m16 0h2m2 0h2m1 0h2m-54 1h2m-1 0h2m0 0h2m4 0h2m1 0h2m2 0h2m-1 0h2m2 0h2m2 0h2m2 0h2m0 0h2m0 0h2m8 0h2m1 0h2m-1 0h2m6 0h2m-57 1h2m4 0h2m2 0h2m1 0h2m-1 0h2m11 0h2m16 0h2m4 0h2m0 0h2m0 0h2m-1 0h2m-47 1h2m3 0h2m-1 0h2m10 0h2m2 0h2m-1 0h2m15 0h2m4 0h2m-58 1h2m0 0h2m0 0h2m3 0h2m-1 0h2m6 0h2m0 0h2m28 0h2m1 0h2m-51 1h2m0 0h2m6 0h2m16 0h2m4 0h2m4 0h2m-44 1h2m6 0h2m4 0h2m12 0h2m3 0h2m12 0h2m2 0h2m-51 1h2m-1 0h2m6 0h2m1 0h2m0 0h2m8 0h2m13 0h2m-1 0h2m1 0h2m-1 0h2m-1 0h2m-43 1h2m2 0h2m0 0h2m3 0h2m9 0h2m-1 0h2m6 0h2m3 0h2m-39 1h2m6 0h2m4 0h2m6 0h2m7 0h2m0 0h2m2 0h2m0 0h2m0 0h2m-39 1h2m5 0h2m13 0h2m-1 0h2m3 0h2m-1 0h2m-1 0h2m7 0h2m-41 1h2m5 0h2m-1 0h2m1 0h2m0 0h2m2 0h2m2 0h2m-1 0h2m3 0h2m4 0h2m-1 0h2m2 0h2m-1 0h2m0 0h2m-44 1h2m4 0h2m9 0h2m-1 0h2m0 0h2m0 0h2m0 0h2m-1 0h2m6 0h2m0 0h2m1 0h2m-39 1h2m0 0h2m4 0h2m1 0h2m3 0h2m2 0h2m-1 0h2m7 0h2m2 0h2m-1 0h2m-1 0h2m-40 1h2m0 0h2m13 0h2m4 0h2m8 0h2m5 0h2m-30 1h2m2 0h2m3 0h2m-1 0h2m12 0h2m-36 1h2m14 0h2m1 0h2m10 0h2m-24 1h2m10 0h2m-2 1h2m1 0h2m0 0h2m-2 1h2" stroke="#e8174a" stroke-width="2" fill="none"/>
<path transform="scale(.5)" d="M409 638h2m52 9h2m-1 0h2m-35 1h2m-14 3h2m16 0h2m0 0h2m18 0h2m-1 1h2m0 1h2m0 0h2m-52 1h2m32 0h2m2 0h2m11 0h2m-38 1h2m8 0h2m11 0h2m14 0h2m-56 2h2m0 0h2m16 0h2m13 0h2m-23 1h2m6 0h2m15 0h2m14 0h2m-54 2h2m0 0h2m10 0h2m0 0h2m13 0h2m19 0h2m-40 1h2m0 0h2m20 0h2m15 0h2m-52 1h2m30 0h2m4 0h2m10 0h2m-42 1h2m15 0h2m-34 1h2m32 0h2m4 0h2m-9 1h2m11 0h2m-44 1h2m19 0h2m1 0h2m14 0h2m3 0h2m-49 1h2m0 0h2m15 0h2m-26 1h2m14 0h2m12 0h2m8 0h2m3 1h2m-31 1h2m20 0h2m19 0h2m-21 1h2m4 0h2m-9 1h2m5 0h2m1 0h2m3 0h2m1 0h2m-29 1h2m-30 1h2m20 0h2m14 1h2m2 0h2m-44 1h2m-1 0h2m12 0h2m5 0h2m5 0h2m-24 1h2m17 0h2m8 0h2m3 0h2m9 0h2m-32 1h2m0 0h2m3 0h2m7 0h2m-23 1h2m23 0h2m-39 1h2m8 0h2m12 0h2m1 0h2m-32 1h2m9 0h2m6 0h2m2 0h2m4 0h2m0 0h2m12 0h2m-1 1h2m-36 1h2m30 0h2m-39 1h2m-1 0h2m29 0h2m-1 0h2m5 0h2m-43 1h2m27 0h2m7 0h2m-6 1h2m-37 1h2m-5 1h2m0 0h2m14 0h2m-16 2h2m6 0h2m0 0h2m12 0h2m-2 1h2m19 0h2m-46 1h2m10 1h2m9 0h2m4 0h2m9 0h2m-1 0h2m0 0h2m-30 1h2m4 0h2m0 0h2m3 0h2m1 0h2m10 0h2m-1 0h2m-11 1h2m-20 1h2m19 0h2m-37 1h2m32 0h2m-1 0h2m-1 0h2m-36 1h2m28 0h2m-30 1h2m12 0h2m-14 1h2m4 0h2m4 0h2m7 0h2m9 0h2m-8 1h2m-24 3h2m19 0h2m-19 1h2m10 2h2m2 0h2m-1 0h2" stroke="#e8174a" stroke-width="2" fill="none"/>
<path transform="scale(.5)" d="M466 621h2m-1 0h2m3 0h2m-7 3h2m2 0h2m4 0h2m-11 1h2m5 0h2m0 0h2m-1 0h2m-8 1h2m-5 1h2m-5 1h2m1 0h2m3 0h2m2 0h2m-1 2h2m-2 2h2m-6 3h2m1 0h2m0 0h2m0 0h2m-4 1h2m-14 2h2m6 0h2m2 1h2m4 0h2m-18 1h2m-1 0h2m5 0h2m-2 1h2m-6 1h2m-1 0h2m2 0h2m3 0h2m-13 1h2m0 0h2m0 0h2m0 0h2m1 0h2m1 0h2m-8 1h2m1 0h2m-12 1h2m1 0h2m-1 0h2m11 0h2m-21 2h2m15 0h2m-16 1h2m0 0h2m3 0h2m-11 1h2m18 0h2m-18 1h2m-1 0h2m-1 0h2m1 0h2m-1 0h2m-1 1h2m5 0h2m-17 2h2m3 0h2m2 0h2m-6 1h2m2 0h2m1 0h2m2 0h2m-14 1h2m3 0h2m-11 1h2m6 2h2m-1 0h2m6 0h2m-14 2h2m3 0h2m-1 0h2m0 1h2m0 0h2m-7 3h2m5 0h2m-9 1h2m6 0h2m-14 3h2m-1 0h2m-1 0h2m1 0h2m-1 0h2m-11 2h2m9 0h2m-15 1h2m4 0h2m0 0h2m-10 1h2m1 0h2m4 0h2m3 0h2m-19 1h2m8 0h2m1 0h2m1 0h2m-13 1h2m3 0h2m-8 1h2m5 0h2m-1 1h2m-8 1h2m-1 0h2m0 0h2m-11 1h2m8 1h2m6 1h2m-14 1h2m-5 1h2m2 0h2m3 0h2m-7 1h2m-1 0h2m6 0h2m-9 2h2m-1 0h2m3 0h2m-18 1h2m9 0h2m0 0h2m-10 1h2m1 0h2m2 0h2m-1 0h2m-6 1h2m-1 0h2m0 2h2m-2 1h2m-7 5h2m-1 0h2m-3 1h2" stroke="#1fbf80" stroke-width="2" fill="none"/>
<path d="M266.5 374.5C267.5 374.1 269.7 375.6 273.2 375.9C276.7 376.1 281 375.3 283.8 375.9C286.6 376.4 286.9 377.6 287.2 378.5C287.4 379.4 287.9 380.2 285.1 380.5C282.4 380.8 276.6 380.6 273.2 380.1C269.7 379.6 269.2 378.9 267.9 377.8C266.5 376.7 265.4 374.8 266.5 374.5Z" fill="#f4f4f4" stroke="#5a5a5a" stroke-width="0.45" stroke-linejoin="round"/>
<path d="M285.1 362.5C287.3 361.7 290.2 362.8 291.8 363.8C293.4 364.7 293.4 365.5 293.2 367.1C292.9 368.7 291.8 370.4 290.5 371.8C289.1 373.3 289.4 374.2 286.4 374.5C283.5 374.7 276.9 374.5 275.8 373.1C274.7 371.8 279.3 369.9 281.1 367.8C283 365.7 283 363.3 285.1 362.5Z" fill="#f4f4f4" stroke="#5a5a5a" stroke-width="0.45" stroke-linejoin="round"/>
<path d="M317.8 339.8C319.1 339 319.2 343.8 318.5 346.4C317.8 349.1 316.9 350.4 314.5 353.1C312.1 355.8 309.6 357.3 306.4 359.7C303.2 362.1 301.2 363.6 298.5 365.1C295.9 366.6 294.5 367.4 293.2 367.1C291.8 366.8 290.7 365.2 291.8 363.8C292.8 362.3 295.8 361.3 298.5 359.7C301.2 358.2 302.5 357.7 305.1 355.8C307.8 354 309.2 353.7 311.8 350.5C314.3 347.3 316.5 340.6 317.8 339.8Z" fill="#f4f4f4" stroke="#5a5a5a" stroke-width="0.45" stroke-linejoin="round"/>
<path d="M287.9 335.8C289.6 335 292.9 338.3 294.4 341C295.9 343.7 294.4 346.1 295.4 349.1C296.4 352 300.1 352.7 299.4 355.6C298.7 358.6 294.6 362.4 291.8 363.8C288.9 365.1 286.5 364.6 285.1 362.5C283.8 360.3 285 356.6 285.1 353.1C285.3 349.6 285.3 348.5 285.8 345C286.4 341.6 286.1 336.6 287.9 335.8Z" fill="#f4f4f4" stroke="#5a5a5a" stroke-width="0.45" stroke-linejoin="round"/>
<path d="M254.5 347.8C255 345.1 257.4 340.8 259.8 338.4C262.2 335.9 263.6 335.8 266.5 335.5C269.3 335.1 272.7 334.9 274.3 336.5C275.9 338.1 275.3 341.3 274.3 343.5C273.3 345.7 271.4 345.9 269.3 347.6C267.2 349.2 266.3 350.9 263.8 351.8C261.4 352.6 259.1 352.6 257.2 351.8C255.3 351 254 350.4 254.5 347.8Z" fill="#f4f4f4" stroke="#5a5a5a" stroke-width="0.45" stroke-linejoin="round"/>
<path d="M285.1 326.4C286.8 326.1 288.6 325.8 289.2 327.7C289.7 329.6 288.5 332.3 287.9 335.8C287.2 339.2 286.4 341.6 285.8 345C285.3 348.5 285.3 349.6 285.1 353.1C285 356.6 285.9 359.5 285.1 362.5C284.3 365.4 283.3 365.9 281.1 367.8C279 369.7 277.4 370.5 274.5 371.8C271.6 373.2 269.1 374.2 266.5 374.5C263.8 374.7 262.5 374.5 261.1 373.1C259.8 371.8 259.3 369.7 259.8 367.8C260.4 365.9 261.7 365.9 263.8 363.8C266 361.6 268.9 360.1 270.5 357.1C272.1 354.2 271.2 352.5 271.8 349.1C272.3 345.6 272.1 342.7 273.2 339.8C274.3 336.9 275.5 336.6 277.1 334.5C278.7 332.3 279.5 330.6 281.1 329C282.7 327.4 283.5 326.7 285.1 326.4Z" fill="#f4f4f4" stroke="#5a5a5a" stroke-width="0.45" stroke-linejoin="round"/>
<path d="M281.1 307.7C282.2 305.8 283 303.9 285.1 302.3C287.3 300.7 288.8 300.1 291.8 299.7C294.7 299.3 296.6 299.2 299.8 300.3C303 301.4 304.8 302.2 307.7 305C310.7 307.9 312.5 310.1 314.5 314.4C316.5 318.7 317.1 321.6 317.8 326.4C318.5 331.2 318.3 334.4 317.8 338.4C317.3 342.4 316.8 343.8 315.1 346.4C313.4 349.1 311.7 350.1 309.2 351.8C306.6 353.5 304.8 354.6 302.4 355.1C300 355.6 298.7 355.6 297.1 354.4C295.5 353.2 295.2 352.3 294.5 349.1C293.8 345.9 294.3 342.4 293.8 338.4C293.2 334.4 293 332 291.8 329C290.6 326.1 289.4 325.5 287.9 323.7C286.3 321.8 285.2 321.1 283.8 319.7C282.5 318.4 281.9 318.6 281.1 317C280.3 315.4 279.8 313.6 279.8 311.7C279.8 309.8 280.1 309.5 281.1 307.7Z" fill="#f4f4f4" stroke="#5a5a5a" stroke-width="0.45" stroke-linejoin="round"/>
<text x="311.9" y="313.3" font-size="5.1" fill="#4d4d4d" stroke="#4d4d4d">STRd</text>
<text x="275.9" y="346.9" font-size="5.1" fill="#4d4d4d" stroke="#4d4d4d">PAL</text>
<text x="305" y="364.7" font-size="5.1" fill="#4d4d4d" stroke="#4d4d4d">CTXsp</text>
<text x="291.3" y="376" font-size="5.1" fill="#4d4d4d" stroke="#4d4d4d">sAMY</text>
<text x="289" y="380.2" font-size="5.1" fill="#4d4d4d" stroke="#4d4d4d">STRv</text>
<path transform="scale(.5)" d="M591 600h2m-2 1h2m-15 1h2m-1 0h2m5 0h2m6 0h2m-15 1h2m6 0h2m1 0h2m-11 1h2m7 0h2m4 0h2m-22 1h2m-1 0h2m3 0h2m-13 1h2m7 0h2m1 0h2m-11 1h2m3 0h2m6 0h2m-1 0h2m3 0h2m0 0h2m-1 0h2m-20 1h2m13 0h2m-1 0h2m0 0h2m3 0h2m1 0h2m-34 1h2m-1 0h2m-1 0h2m10 0h2m5 0h2m8 0h2m-36 1h2m1 0h2m4 0h2m-1 0h2m9 0h2m-27 1h2m-1 0h2m-1 0h2m4 0h2m27 0h2m-38 1h2m5 0h2m10 0h2m1 0h2m1 0h2m9 0h2m-32 1h2m28 0h2m-11 1h2m-30 1h2m20 0h2m0 0h2m1 1h2m2 0h2m8 0h2m-23 1h2m3 0h2m0 0h2m5 0h2m-1 0h2m-26 1h2m4 0h2m-1 0h2m5 0h2m-1 0h2m2 0h2m3 0h2m4 0h2m-30 1h2m2 0h2m0 0h2m14 0h2m4 0h2m-24 1h2m1 0h2m6 0h2m1 0h2m-31 1h2m6 0h2m-1 0h2m4 0h2m4 0h2m0 0h2m8 0h2m1 0h2m-38 1h2m-1 0h2m2 0h2m4 0h2m14 0h2m1 0h2m-1 0h2m-34 1h2m17 0h2m2 0h2m-1 0h2m6 0h2m-21 1h2m15 0h2m-19 1h2m1 0h2m0 0h2m-1 0h2m14 0h2m-38 1h2m2 0h2m-1 0h2m2 0h2m3 0h2m0 0h2m7 0h2m0 0h2m6 0h2m-18 1h2m0 0h2m-1 0h2m1 0h2m-26 1h2m14 0h2m11 0h2m-22 1h2m-1 0h2m3 0h2m2 0h2m2 0h2m3 0h2m4 0h2m-1 0h2m-15 1h2m-1 0h2m-17 1h2m1 0h2m0 0h2m11 0h2m4 0h2m-27 1h2m-1 0h2m8 0h2m-1 0h2m8 0h2m-1 0h2m-1 0h2m-20 1h2m3 0h2m0 0h2m7 0h2m-1 0h2m-23 1h2m13 0h2m4 0h2m-10 1h2" stroke="#e8174a" stroke-width="2" fill="none"/>
<path transform="scale(.5)" d="M591 636h2m1 1h2m4 0h2m-15 1h2m6 0h2m-1 0h2m4 0h2m-17 1h2m5 0h2m0 0h2m-11 1h2m14 0h2m-18 1h2m6 0h2m1 0h2m2 0h2m-12 1h2m4 0h2m1 0h2m-13 1h2m-1 0h2m3 0h2m0 0h2m-13 1h2m2 1h2m-4 1h2m-1 0h2m0 1h2m0 0h2m-1 0h2m2 0h2m-13 2h2m-1 0h2m8 0h2m-14 1h2m-2 1h2m-1 0h2m0 0h2m2 0h2m1 0h2m4 0h2m-18 1h2m7 0h2m0 1h2m-10 1h2m3 0h2m-1 0h2m4 0h2m-16 1h2m5 0h2m-8 1h2m10 0h2m-15 1h2m5 0h2m4 0h2m-2 1h2m-15 1h2m2 0h2m3 0h2m-3 1h2m-5 1h2m2 1h2m-1 1h2m-1 1h2m1 1h2m-12 2h2m2 0h2m0 0h2m-10 1h2m5 1h2m-12 2h2m-1 1h2m1 0h2m0 0h2m6 0h2m-15 1h2m4 0h2m1 0h2m3 0h2m-16 1h2m6 0h2m-8 1h2m3 0h2m-1 0h2m-1 0h2m-1 0h2m-3 1h2m-9 2h2m7 0h2m0 0h2m-11 1h2m5 1h2m-10 1h2m-1 0h2m-7 1h2m0 0h2m0 0h2m2 0h2m0 0h2m2 0h2m-14 1h2m1 0h2m0 0h2m0 0h2m-1 0h2m2 0h2m-14 1h2m2 0h2m3 0h2m-14 2h2m1 0h2m0 0h2m5 0h2m1 0h2m-15 1h2m9 0h2m-14 1h2m6 0h2m-6 1h2m0 1h2m3 0h2m-6 1h2m3 0h2m-10 1h2m2 1h2m-3 1h2m-4 1h2m5 0h2m-2 1h2m-5 1h2m0 0h2m-11 1h2m7 0h2m-6 1h2m2 1h2m-11 1h2m-1 1h2m2 0h2m-1 0h2m-4 1h2m-2 1h2m2 1h2m-7 2h2" stroke="#e8174a" stroke-width="2" fill="none"/>
<path transform="scale(.5)" d="M599 621h2m-1 2h2m1 0h2m-1 3h2m2 0h2m-5 1h2m3 0h2m-6 3h2m5 0h2m-11 2h2m9 0h2m-14 2h2m0 0h2m1 0h2m-5 1h2m11 0h2m-12 1h2m5 0h2m-9 1h2m1 0h2m0 0h2m-10 1h2m3 0h2m-3 1h2m2 0h2m2 0h2m-8 1h2m6 0h2m-8 1h2m-5 1h2m3 0h2m4 0h2m-13 1h2m10 1h2m-19 1h2m3 0h2m1 0h2m-1 0h2m-6 1h2m5 0h2m-9 1h2m3 0h2m-7 1h2m4 0h2m-1 0h2m1 0h2m-11 1h2m-6 1h2m8 0h2m1 0h2m-15 1h2m1 0h2m9 0h2m-1 0h2m-1 0h2m1 0h2m-7 1h2m0 0h2m-20 1h2m-1 0h2m15 0h2m-2 1h2m-9 1h2m7 0h2m-9 2h2m6 0h2m0 0h2m-25 1h2m16 0h2m4 0h2m-18 1h2m-12 2h2m13 0h2m-6 1h2m4 0h2m6 0h2m-27 1h2m14 0h2m-15 1h2m17 0h2m0 0h2m-6 1h2m-22 1h2m4 1h2m5 0h2m-11 1h2m1 0h2m4 0h2m1 0h2m-11 1h2m18 0h2m-14 1h2m8 0h2m-14 1h2m1 0h2m7 0h2m-27 1h2m27 0h2m-15 1h2m-18 1h2m11 0h2m12 0h2m0 0h2m-31 1h2m9 0h2m8 0h2m-2 1h2m-22 1h2m18 0h2m4 0h2m-28 1h2m8 0h2m1 0h2m-16 1h2m0 0h2m8 0h2m3 0h2m8 0h2m-28 1h2m26 0h2m-32 1h2m7 0h2m11 0h2m-1 0h2m-26 1h2m4 0h2m8 0h2m2 0h2m1 0h2m6 0h2m-32 1h2m2 0h2m6 0h2m-1 0h2m-1 0h2m1 0h2m5 0h2m5 0h2m-22 1h2m6 0h2m7 0h2m-29 1h2m2 0h2m14 0h2m-3 1h2m0 0h2m0 0h2m-5 1h2m5 0h2m-8 2h2m-1 0h2m-1 0h2m2 0h2m-25 1h2m2 0h2m12 0h2m1 0h2m-25 1h2m-1 0h2m13 0h2m3 0h2m-25 1h2m14 1h2m1 0h2m4 0h2m-22 1h2m9 0h2m1 0h2m-13 1h2m-10 1h2m3 0h2m-1 0h2m9 0h2m-1 0h2m-19 1h2m0 0h2m6 0h2m2 0h2m1 0h2m-18 2h2m7 0h2m0 0h2m1 0h2m1 0h2m-11 1h2m6 2h2m-12 1h2m4 0h2m2 0h2m-16 1h2m-1 0h2m2 1h2m-5 1h2m3 0h2m-9 1h2m0 0h2m-6 1h2" stroke="#1fbf80" stroke-width="2" fill="none"/>
<rect x="331" y="296.8" width="12.2" height="8.6" fill="#d6d6d6" rx="2.2"/>
<text x="337.1" y="303.7" font-size="6.3" fill="#231f20" stroke="#231f20" text-anchor="middle" font-weight="bold">273</text>
<path d="M336 355.8C336.3 357.7 337.6 363.1 340 367C342.5 370.9 344.2 372.7 348.3 375.4C352.4 378.1 355.3 379.2 360.5 380.4C365.7 381.5 369.6 381.7 374.2 381C378.9 380.3 381.4 379 383.7 376.8C386 374.5 385.8 372.3 385.8 369.8C385.8 367.2 386 365.8 383.7 364.1C381.4 362.5 377.5 361.4 374.2 361.4C370.9 361.4 370.6 363.3 367.3 364.1C364 365 361.9 365.8 357.8 365.5C353.8 365.3 350.8 364.4 346.9 362.8C343.1 361.1 340.9 358.6 338.7 357.2C336.5 355.8 335.7 353.8 336 355.8Z" fill="#f4f4f4" stroke="#5a5a5a" stroke-width="0.45" stroke-linejoin="round"/>
<path d="M342.8 337.4C344 334.6 344.7 334.3 346.9 333.3C349.1 332.3 351 332 353.7 332.6C356.4 333.1 358.3 334 360.5 336.1C362.7 338.2 362.7 340.5 364.6 343.1C366.6 345.6 368.2 346.7 370.1 348.7C372 350.6 373.4 350.9 374.2 352.9C375 354.9 375.6 356.3 374.2 358.5C372.8 360.8 370.6 362.7 367.3 364.1C364 365.5 361.7 365.8 357.8 365.5C354 365.3 351.4 364.4 348.3 362.8C345.1 361.1 343.6 360.2 342.1 357.2C340.6 354.1 340.6 351.2 340.7 347.3C340.9 343.4 341.6 340.2 342.8 337.4Z" fill="#f4f4f4" stroke="#5a5a5a" stroke-width="0.45" stroke-linejoin="round"/>
<path d="M391.2 327.7C394.1 323.8 393.4 326.8 394 329.1C394.6 331.3 394.7 335.6 394 338.9C393.3 342.3 392.7 343.8 390.6 345.9C388.5 348 385.9 348.9 383.7 349.4C381.5 350 378.2 353 379.7 348.7C381.2 344.3 388.4 331.6 391.2 327.7Z" fill="#f4f4f4" stroke="#5a5a5a" stroke-width="0.45" stroke-linejoin="round"/>
<path d="M350.9 301C352.7 298.3 353.8 298.5 357.1 297.5C360.4 296.5 363.1 295.9 367.3 296C371.5 296.1 374.4 296.6 378.2 298.1C382.1 299.7 383.9 300.9 386.5 303.7C389.1 306.6 389.9 308.3 391.2 312.2C392.6 316.2 393.3 319.2 393.3 323.5C393.3 327.7 392.3 329.9 391.2 333.3C390.1 336.7 389.3 337.8 387.8 340.3C386.3 342.8 385.9 344.2 383.7 345.9C381.5 347.6 379.9 348.1 376.9 348.7C373.9 349.2 371.5 349.5 368.8 348.7C366 347.8 365.2 346.8 363.3 344.5C361.4 342.3 361.4 340 359.2 337.4C357 334.9 354.4 334.9 352.4 331.8C350.3 328.7 349.7 326.3 348.9 322.1C348.1 317.9 347.8 315.1 348.3 310.8C348.7 306.6 349.2 303.7 350.9 301Z" fill="#f4f4f4" stroke="#5a5a5a" stroke-width="0.45" stroke-linejoin="round"/>
<text x="363.4" y="320.1" font-size="5.1" fill="#4d4d4d" stroke="#4d4d4d">STRd</text>
<text x="330.8" y="355.5" font-size="5.1" fill="#4d4d4d" stroke="#4d4d4d">PAL</text>
<text x="378.8" y="355.5" font-size="5.1" fill="#4d4d4d" stroke="#4d4d4d">CTXsp</text>
<text x="377.1" y="383" font-size="5.1" fill="#4d4d4d" stroke="#4d4d4d">STRv</text>
<path transform="scale(.5)" d="M698 663h2m-1 1h2m-1 0h2m-9 1h2m0 0h2m-5 1h2m-4 1h2m1 0h2m-1 0h2m6 0h2m-9 1h2m-1 0h2m-10 1h2m0 0h2m0 0h2m5 0h2m0 0h2m-12 1h2m1 0h2m6 0h2m-1 0h2m-8 1h2m1 0h2m2 0h2m-13 1h2m1 0h2m-1 0h2m5 0h2m-10 1h2m-9 1h2m5 0h2m3 0h2m-8 1h2m3 0h2m2 0h2m-18 1h2m4 0h2m1 0h2m2 0h2m-17 1h2m1 0h2m16 0h2m-24 1h2m0 0h2m2 0h2m0 0h2m6 0h2m2 0h2m-17 1h2m1 0h2m0 0h2m1 0h2m7 0h2m-22 1h2m0 0h2m-1 0h2m3 0h2m3 0h2m1 0h2m-16 1h2m4 0h2m2 0h2m-12 2h2m2 0h2m1 0h2m0 0h2m8 0h2m-17 1h2m6 0h2m-17 1h2m7 0h2m5 0h2m-1 0h2m1 0h2m-16 1h2m4 0h2m6 0h2m-1 0h2m-20 1h2m0 0h2m1 0h2m-1 0h2m2 0h2m2 0h2m-1 0h2m-15 1h2m-1 0h2m5 0h2m0 0h2m4 0h2m-16 1h2m7 0h2m4 0h2m-9 1h2m1 0h2m-18 1h2m5 0h2m0 0h2m1 0h2m0 0h2m-17 1h2m-1 0h2m0 0h2m0 0h2m5 0h2m-4 1h2m-1 0h2m-7 1h2m8 0h2m5 0h2m-25 1h2m1 0h2m-1 0h2m3 0h2m4 1h2m-16 1h2m0 0h2m-1 0h2m2 0h2m4 0h2m1 0h2m3 0h2m-23 1h2m3 0h2m0 0h2m3 0h2m1 0h2m3 0h2m-18 1h2m15 0h2m-19 1h2m14 0h2m-1 0h2m-19 1h2m-1 0h2m-1 0h2m8 0h2m3 0h2m-1 0h2m-19 1h2m5 0h2m5 0h2m0 0h2m-21 1h2m5 0h2m4 0h2m5 0h2m-18 1h2m8 0h2m2 0h2m-17 1h2m0 0h2m0 0h2m3 0h2m3 0h2m-16 1h2m4 0h2m-11 1h2m4 0h2m0 1h2m-1 0h2m1 0h2m1 0h2m0 0h2m-15 1h2m7 0h2m3 0h2m-5 1h2m-15 1h2m0 0h2m0 0h2m8 0h2m-9 2h2m5 0h2m-16 1h2m-1 0h2m-1 0h2m1 0h2m3 0h2m2 0h2m-1 0h2m-11 1h2m-1 0h2m-1 0h2m0 1h2m1 0h2m-10 1h2m2 0h2m0 0h2m-5 1h2" stroke="#1fbf80" stroke-width="2" fill="none"/>
<path transform="scale(.5)" d="M699 622h2m-1 0h2m-3 1h2m-1 0h2m-1 0h2m-3 1h2m-4 1h2m1 1h2m-6 1h2m-1 0h2m0 0h2m-5 1h2m-1 0h2m-1 1h2m-1 0h2m-1 0h2m-3 1h2m-3 1h2m-1 0h2" stroke="#1fbf80" stroke-width="2" fill="none"/>
<text x="337.1" y="333" font-size="5.2" fill="#231f20" stroke="#231f20" font-weight="bold">964</text>
<line x1="343" y1="334" x2="347" y2="338" stroke="#333" stroke-width="0.4"/>
<rect x="119.3" y="386.7" width="12.9" height="8.2" fill="#d6d6d6" rx="2.2"/>
<text x="125.8" y="393.2" font-size="6.3" fill="#231f20" stroke="#231f20" text-anchor="middle" font-weight="bold">270</text>
<path d="M122.9 445.7C123.2 447.6 124.4 452.6 126.8 456.3C129.2 460.1 130.9 461.7 134.9 464.3C138.9 466.8 141.8 467.9 146.8 469C151.9 470.1 155.7 470.3 160.2 469.6C164.7 468.9 167.2 467.7 169.4 465.6C171.7 463.4 171.5 461.3 171.5 458.9C171.5 456.6 171.7 455.2 169.4 453.6C167.2 452 163.4 451 160.2 451C157 451 156.7 452.8 153.5 453.6C150.3 454.4 148.2 455.2 144.2 454.9C140.2 454.7 137.3 453.9 133.6 452.3C129.8 450.7 127.6 448.3 125.5 447C123.4 445.7 122.6 443.8 122.9 445.7Z" fill="#f4f4f4" stroke="#5a5a5a" stroke-width="0.45" stroke-linejoin="round"/>
<path d="M129.5 428.3C130.7 425.6 131.4 425.3 133.6 424.4C135.7 423.5 137.5 423.1 140.2 423.7C142.8 424.2 144.7 425 146.8 427C149 429 149 431.2 150.8 433.6C152.7 436 154.3 437.1 156.2 438.9C158 440.8 159.4 441.1 160.2 443C161 444.8 161.5 446.2 160.2 448.3C158.9 450.4 156.7 452.3 153.5 453.6C150.3 454.9 147.9 455.2 144.2 454.9C140.5 454.7 137.9 453.9 134.9 452.3C131.8 450.7 130.3 449.9 128.8 447C127.4 444.1 127.4 441.4 127.5 437.6C127.7 433.9 128.3 430.9 129.5 428.3Z" fill="#f4f4f4" stroke="#5a5a5a" stroke-width="0.45" stroke-linejoin="round"/>
<path d="M176.8 419C179.6 415.3 179 418.2 179.5 420.4C180 422.5 180.2 426.5 179.5 429.7C178.8 432.9 178.2 434.3 176.2 436.3C174.2 438.3 171.6 439.1 169.4 439.7C167.3 440.2 164.1 443.1 165.5 438.9C167 434.8 174 422.8 176.8 419Z" fill="#f4f4f4" stroke="#5a5a5a" stroke-width="0.45" stroke-linejoin="round"/>
<path d="M137.5 393.7C139.2 391.2 140.3 391.4 143.5 390.4C146.7 389.5 149.3 388.9 153.5 389C157.6 389.1 160.4 389.5 164.1 391C167.9 392.5 169.6 393.7 172.2 396.3C174.7 399 175.5 400.6 176.8 404.4C178.1 408.1 178.8 411 178.8 415C178.8 419 177.9 421.2 176.8 424.4C175.7 427.6 174.9 428.6 173.5 431C172 433.4 171.6 434.7 169.4 436.3C167.3 437.9 165.7 438.4 162.8 438.9C159.9 439.5 157.5 439.7 154.9 438.9C152.2 438.2 151.4 437.2 149.5 435C147.7 432.9 147.7 430.7 145.5 428.3C143.4 425.9 140.9 425.9 138.9 423C136.9 420.1 136.3 417.7 135.5 413.7C134.7 409.7 134.5 407.1 134.9 403.1C135.3 399.1 135.7 396.3 137.5 393.7Z" fill="#f4f4f4" stroke="#5a5a5a" stroke-width="0.45" stroke-linejoin="round"/>
<text x="150.2" y="412.4" font-size="5.1" fill="#4d4d4d" stroke="#4d4d4d">STRd</text>
<text x="118.9" y="448.6" font-size="5.1" fill="#4d4d4d" stroke="#4d4d4d">PAL</text>
<text x="165.4" y="447.4" font-size="5.1" fill="#4d4d4d" stroke="#4d4d4d">CTXsp</text>
<text x="163.3" y="470.8" font-size="5.1" fill="#4d4d4d" stroke="#4d4d4d">STRv</text>
<path transform="scale(.5)" d="M332 902h3m0 0h3m-1 1h3m1 0h3m-14 1h3m3 1h3m-80 1h3m69 0h3m3 0h3m-9 1h3m-84 1h3m77 0h3m-2 0h3m-1 0h3m5 0h3m-86 1h3m76 0h3m2 0h3m-95 1h3m75 0h3m-1 0h3m-1 0h3m-1 0h3m-11 1h3m-1 0h3m-2 0h3m-2 0h3m-2 0h3m-2 0h3m0 0h3m-85 1h3m70 0h3m-2 0h3m0 0h3m-2 0h3m-2 0h3m-1 0h3m-2 0h3m-89 1h3m0 0h3m-1 0h3m-1 0h3m-2 0h3m67 0h3m-2 0h3m1 0h3m-81 1h3m3 0h3m53 0h3m9 0h3m-1 0h3m-79 1h3m-2 0h3m-1 0h3m-1 0h3m1 0h3m10 0h3m46 0h3m7 0h3m-83 1h3m3 0h3m-2 0h3m47 0h3m-65 1h3m10 0h3m46 0h3m-2 0h3m13 0h3m-1 0h3m-81 1h3m-2 0h3m12 0h3m-1 0h3m1 0h3m32 0h3m3 0h3m5 0h3m-73 1h3m18 0h3m20 0h3m17 0h3m-2 0h3m-60 1h3m0 0h3m-2 0h3m43 0h3m5 0h3m5 0h3m-67 1h3m-2 0h3m9 0h3m31 0h3m2 0h3m1 0h3m1 0h3m-61 1h3m2 0h3m-2 0h3m-1 0h3m0 0h3m-2 0h3m8 0h3m-1 0h3m8 0h3m7 0h3m-1 0h3m1 0h3m2 0h3m-2 0h3m1 0h3m-75 1h3m3 0h3m0 0h3m-1 0h3m-2 0h3m-1 0h3m-1 0h3m-1 0h3m2 0h3m3 0h3m20 0h3m0 0h3m-2 0h3m2 0h3m0 0h3m-1 0h3m3 0h3m-73 1h3m5 0h3m-1 0h3m0 0h3m-1 0h3m-2 0h3m-1 0h3m-2 0h3m-2 0h3m-2 0h3m-2 0h3m0 0h3m1 0h3m5 0h3m11 0h3m-1 0h3m-2 0h3m-2 0h3m-1 0h3m6 0h3m-63 1h3m-2 0h3m2 0h3m5 0h3m0 0h3m5 0h3m2 0h3m-2 0h3m3 0h3m4 0h3m-2 0h3m-1 0h3m1 0h3m2 0h3m3 0h3m-70 1h3m-2 0h3m1 0h3m2 0h3m1 0h3m-1 0h3m-1 0h3m-2 0h3m16 0h3m3 0h3m-1 0h3m-2 0h3m-1 0h3m-1 0h3m-1 0h3m-47 1h3m3 0h3m2 0h3m0 0h3m0 0h3m3 0h3m-2 0h3m-2 0h3m-2 0h3m1 0h3m0 0h3m0 0h3m1 0h3m-46 1h3m0 0h3m3 0h3m-2 0h3m0 0h3m-1 0h3m-2 0h3m-2 0h3m2 0h3m-2 0h3m0 0h3m-1 0h3m-2 0h3m2 0h3m6 0h3m-1 0h3m0 0h3m-2 0h3m5 0h3m3 0h3m-61 1h3m-1 0h3m2 0h3m4 0h3m-2 0h3m-2 0h3m4 0h3m-1 0h3m-1 0h3m-2 0h3m-1 0h3m1 0h3m-1 0h3m-2 0h3m3 0h3m-34 1h3m-2 0h3m-2 0h3m-1 0h3m-2 0h3m-1 0h3m-2 0h3m-2 0h3m2 0h3m2 0h3m-1 0h3m-1 0h3m-1 0h3m-1 0h3m2 0h3m-50 1h3m-2 0h3m1 0h3m2 0h3m-2 0h3m0 0h3m0 0h3m-1 0h3m-2 0h3m-1 0h3m-1 0h3m-1 0h3m0 0h3m-2 0h3m-1 0h3m1 0h3m9 0h3m-46 1h3m10 0h3m3 0h3m-2 0h3m2 0h3m1 0h3m-2 0h3m-1 0h3m-1 0h3m2 0h3m-2 0h3m-2 0h3m1 0h3m-36 1h3m4 0h3m-1 0h3m2 0h3m4 0h3m0 0h3m-2 0h3m1 0h3m-25 1h3m3 0h3m-2 0h3m13 0h3m-42 1h3m-1 0h3m12 0h3m24 0h3m-42 1h3m17 0h3m2 0h3m-15 1h3m10 0h3m-26 1h3m4 1h3m12 0h3m-27 5h3" stroke="#e8174a" stroke-width="3" fill="none"/>
<path transform="scale(.5)" d="M301 883h2m-7 1h2m-1 1h2m3 0h2m8 0h2m0 0h2m-20 1h2m5 0h2m9 0h2m-11 1h2m-13 1h2m-1 0h2m0 0h2m5 0h2m-9 1h2m-1 0h2m5 0h2m8 0h2m-1 0h2m-34 1h2m6 0h2m-1 0h2m1 0h2m0 0h2m1 0h2m-18 1h2m1 0h2m2 0h2m0 0h2m3 0h2m0 0h2m3 0h2m5 0h2m-32 1h2m0 0h2m3 0h2m0 0h2m-1 0h2m4 0h2m0 0h2m4 0h2m0 0h2m0 0h2m-29 1h2m0 0h2m0 0h2m1 0h2m0 0h2m5 0h2m0 0h2m-1 0h2m0 0h2m-1 0h2m1 0h2m-28 1h2m0 0h2m-1 0h2m-1 0h2m-1 0h2m-1 0h2m-1 0h2m0 0h2m6 0h2m-1 0h2m-1 0h2m-1 0h2m-1 0h2m1 0h2m0 0h2m1 0h2m-1 0h2m-30 1h2m1 0h2m2 0h2m7 0h2m5 0h2m3 0h2m-32 1h2m-1 0h2m-1 0h2m0 0h2m2 0h2m7 0h2m-1 0h2m-1 0h2m2 0h2m0 0h2m1 0h2m-34 1h2m5 0h2m0 0h2m1 0h2m-1 0h2m-1 0h2m-1 0h2m8 0h2m-1 0h2m1 0h2m-31 1h2m-1 0h2m-1 0h2m6 0h2m-1 0h2m0 0h2m-1 0h2m-1 0h2m-1 0h2m4 0h2m3 0h2m0 0h2m-1 0h2m-1 0h2m-24 1h2m0 0h2m7 0h2m4 0h2m1 0h2m-30 1h2m8 0h2m-1 0h2m-1 0h2m1 0h2m0 0h2m0 0h2m0 0h2m0 0h2m-1 0h2m0 0h2m-28 1h2m-1 0h2m3 0h2m-1 0h2m0 0h2m-1 0h2m3 0h2m-1 0h2m0 0h2m0 0h2m2 0h2m-25 1h2m1 0h2m2 0h2m5 0h2m-15 1h2m1 0h2m2 0h2m4 0h2m-1 0h2m3 0h2m-19 1h2m2 0h2m-1 0h2m0 0h2m-1 0h2m5 0h2m-17 1h2m-1 0h2m2 0h2m-1 0h2" stroke="#e8174a" stroke-width="2" fill="none"/>
<path transform="scale(.5)" d="M311 870h2m-8 1h2m-1 0h2m0 0h2m0 0h2m1 0h2m1 0h2m-16 1h2m1 0h2m1 0h2m2 1h2m1 0h2m-13 1h2m2 0h2m4 0h2m0 0h2m-1 0h2m0 0h2m-1 0h2m-13 1h2m-1 0h2m5 0h2m-19 1h2m-1 0h2m11 0h2m3 0h2m-22 1h2m2 0h2m2 0h2m3 0h2m-1 0h2m-18 1h2m0 0h2m4 0h2m-1 0h2m0 0h2m0 0h2m3 0h2m1 0h2m-1 0h2m-14 1h2m-1 0h2m-13 1h2m17 0h2m5 0h2m-23 1h2m4 0h2m-1 0h2m1 0h2m-1 0h2m3 0h2m-1 0h2m0 0h2m-20 1h2m1 0h2m1 0h2m0 0h2m1 0h2m0 0h2m-1 0h2m1 0h2m0 0h2m-25 1h2m2 0h2m2 0h2m8 0h2m-25 1h2m10 0h2m1 0h2m3 0h2m5 0h2m-24 1h2m14 0h2m-1 0h2m0 0h2m-1 0h2m-22 1h2m5 0h2m1 0h2m4 0h2m6 0h2m-20 1h2m-1 0h2m1 0h2m-3 1h2m2 0h2m-10 1h2m0 0h2m0 0h2m8 0h2m-25 1h2m20 0h2m-3 1h2m-19 1h2m0 0h2m7 0h2m-7 1h2m0 0h2m3 0h2m-10 1h2m0 0h2" stroke="#1fbf80" stroke-width="2" fill="none"/>
<path transform="scale(.5)" d="M274 786h2m7 2h2m-12 1h2m1 0h2m0 0h2m-9 1h2m-1 1h2m-6 1h2m5 0h2m9 0h2m-13 1h2m0 0h2m-9 1h2m14 1h2m-17 2h2m-2 2h2m12 1h2m-1 0h2m-17 1h2m5 1h2m-7 1h2m9 1h2" stroke="#1fbf80" stroke-width="2" fill="none"/>
<path transform="scale(.5)" d="M322 872h2m-10 1h2m-1 0h2m3 0h2m-10 1h2m4 0h2m1 0h2m0 0h2m-15 1h2m4 0h2m1 0h2m-1 0h2m-1 0h2m3 0h2m-9 1h2m6 0h2m0 0h2m-22 1h2m-1 0h2m11 0h2m-1 0h2m2 0h2m-20 1h2m0 0h2m7 0h2m2 0h2m-16 1h2m2 0h2m7 0h2m2 0h2m-15 1h2m0 0h2m8 0h2m-4 1h2m-1 0h2m-21 1h2m4 1h2m6 0h2m4 0h2m1 0h2m-21 1h2m2 0h2m-1 0h2m6 0h2m-10 1h2m0 0h2m-1 0h2m-9 1h2m1 0h2m7 0h2m1 0h2m-14 1h2m2 0h2m-1 0h2m2 0h2" stroke="#e8174a" stroke-width="2" fill="none"/>
<line x1="133.4" y1="424" x2="150" y2="447" stroke="#1fbf80" stroke-width="0.5"/>
<line x1="129" y1="429" x2="142" y2="447" stroke="#e8174a" stroke-width="0.5"/>
<text x="125.5" y="419.8" font-size="5.2" fill="#231f20" stroke="#231f20" font-weight="bold">958</text>
<text x="119" y="427.5" font-size="5.2" fill="#231f20" stroke="#231f20" font-weight="bold">959</text>
<path d="M194.4 457.1C193.9 458.7 195.6 461.3 198.7 463.7C201.7 466 204.8 467.7 209.8 468.9C214.8 470.1 219 470.1 223.7 469.6C228.5 469.1 230.7 468.3 233.5 466.3C236.3 464.4 237.5 461.8 237.7 459.7C238 457.6 236.6 456.7 234.9 455.8C233.2 454.9 231.8 455.4 229.3 455.1C226.8 454.9 226 454.6 222.4 454.5C218.7 454.3 215.4 454.2 211.2 454.5C207 454.7 204.7 455.3 201.4 455.8C198.1 456.4 195 455.6 194.4 457.1Z" fill="#f4f4f4" stroke="#5a5a5a" stroke-width="0.45" stroke-linejoin="round"/>
<path d="M190.2 430.9C191.8 428.5 194.7 427.5 197.2 426.9C199.7 426.4 202.2 427.2 202.8 428.2C203.3 429.3 201 430.1 200 432.2C199.1 434.3 198.3 435.6 197.9 438.7C197.5 441.9 197.5 444.5 197.9 447.9C198.3 451.3 201 454 200 455.8C199.1 457.7 195 458.7 193.1 457.1C191.1 455.5 191 451.6 190.2 447.9C189.5 444.2 189.5 442.1 189.5 438.7C189.5 435.3 188.7 433.2 190.2 430.9Z" fill="#f4f4f4" stroke="#5a5a5a" stroke-width="0.45" stroke-linejoin="round"/>
<path d="M200 441.4C201.3 439 203.1 435.8 205.6 434.8C208.1 433.7 209.8 434.9 212.6 436.1C215.3 437.3 216.4 439.6 219.5 440.7C222.6 441.7 225.7 440.5 227.9 441.4C230.2 442.3 230.4 443.2 230.7 445.3C230.9 447.4 231 450.1 229.3 451.9C227.6 453.7 226 453.9 222.4 454.5C218.7 455 215.1 455.2 211.2 454.5C207.3 453.7 205.1 452.2 202.8 450.6C200.4 449 199.8 448.5 199.3 446.6C198.7 444.8 198.8 443.8 200 441.4Z" fill="#f4f4f4" stroke="#5a5a5a" stroke-width="0.45" stroke-linejoin="round"/>
<path d="M246.8 425.6C248.7 423.3 249.4 425.6 250.3 426.9C251.1 428.2 251.5 430.3 251 432.2C250.5 434 249.6 434.8 247.5 436.1C245.4 437.4 240.6 440.8 240.5 438.7C240.3 436.6 244.8 428 246.8 425.6Z" fill="#f4f4f4" stroke="#5a5a5a" stroke-width="0.45" stroke-linejoin="round"/>
<path d="M205.6 398C207 395 208.1 393.7 211.2 392.2C214.3 390.6 216.8 390.2 221 390.2C225.2 390.2 228.3 390.6 232.1 392.2C236 393.7 237.7 395 240.5 398C243.2 401 244.5 403.3 246.1 407.2C247.6 411.2 248 413.8 248.2 417.7C248.3 421.7 247.8 423.8 246.8 426.9C245.8 430.1 245.4 431.1 243.3 433.5C241.2 435.8 239.4 437.1 236.4 438.7C233.3 440.3 231.3 441 227.9 441.4C224.6 441.8 222.6 441.7 219.5 440.7C216.4 439.6 215.1 438.6 212.6 436.1C210.1 433.6 208.6 431.9 207 428.2C205.3 424.5 204.8 421.9 204.2 417.7C203.7 413.5 204 411.2 204.2 407.2C204.5 403.3 204.2 401 205.6 398Z" fill="#f4f4f4" stroke="#5a5a5a" stroke-width="0.45" stroke-linejoin="round"/>
<text x="226.8" y="408.9" font-size="5.1" fill="#4d4d4d" stroke="#4d4d4d">STRd</text>
<text x="189.4" y="430.6" font-size="5.1" fill="#4d4d4d" stroke="#4d4d4d">STR</text>
<text x="231.5" y="453.3" font-size="5.1" fill="#4d4d4d" stroke="#4d4d4d">PAL</text>
<text x="188.3" y="469.6" font-size="5.1" fill="#4d4d4d" stroke="#4d4d4d">STRv</text>
<path transform="scale(.5)" d="M467 912h3m-78 1h3m10 0h3m54 1h3m0 0h3m1 0h3m1 0h3m-65 1h3m56 0h3m-1 0h3m-82 1h3m1 0h3m5 0h3m1 0h3m-19 1h3m0 0h3m10 0h3m50 0h3m-2 0h3m6 0h3m-85 1h3m0 0h3m66 0h3m4 0h3m-77 1h3m58 0h3m-1 0h3m3 0h3m0 0h3m3 0h3m-85 1h3m0 0h3m10 0h3m-1 0h3m-1 0h3m-2 0h3m-1 0h3m-2 0h3m40 0h3m-1 0h3m-1 0h3m-2 0h3m-2 0h3m8 0h3m-72 1h3m37 0h3m2 0h3m7 0h3m-2 0h3m10 0h3m-75 1h3m-2 0h3m-2 0h3m0 0h3m-2 0h3m35 0h3m5 0h3m-1 0h3m0 0h3m2 0h3m-64 1h3m5 0h3m-2 0h3m1 0h3m-1 0h3m32 0h3m4 0h3m8 0h3m-62 1h3m-1 0h3m1 0h3m8 0h3m12 0h3m-2 0h3m3 0h3m2 0h3m-2 0h3m-2 0h3m-1 0h3m-1 0h3m-2 0h3m-63 1h3m5 0h3m2 0h3m-2 0h3m4 0h3m0 0h3m4 0h3m7 0h3m-1 0h3m6 0h3m2 0h3m0 0h3m-51 1h3m3 0h3m-1 0h3m10 0h3m-2 0h3m0 0h3m-2 0h3m-1 0h3m-2 0h3m-1 0h3m6 0h3m-1 0h3m-1 0h3m-1 0h3m-2 0h3m-53 1h3m0 0h3m-1 0h3m0 0h3m-2 0h3m-1 0h3m1 0h3m2 0h3m1 0h3m5 0h3m-2 0h3m-1 0h3m6 0h3m-2 0h3m-1 0h3m-2 0h3m-1 0h3m-2 0h3m-2 0h3m-60 1h3m-2 0h3m-1 0h3m1 0h3m2 0h3m-2 0h3m0 0h3m-1 0h3m3 0h3m-2 0h3m7 0h3m1 0h3m-2 0h3m12 0h3m-62 1h3m6 0h3m-2 0h3m3 0h3m1 0h3m-2 0h3m0 0h3m-2 0h3m0 0h3m1 0h3m-2 0h3m3 0h3m3 0h3m-2 0h3m0 0h3m4 0h3m-50 1h3m11 0h3m-1 0h3m-2 0h3m-2 0h3m7 0h3m2 0h3m1 0h3m-1 0h3m3 0h3m1 0h3m-2 0h3m-67 1h3m-1 0h3m3 0h3m1 0h3m-2 0h3m-2 0h3m10 0h3m-2 0h3m1 0h3m0 0h3m-1 0h3m-2 0h3m-1 0h3m3 0h3m-1 0h3m8 0h3m-52 1h3m-1 0h3m-2 0h3m1 0h3m-2 0h3m-2 0h3m3 0h3m-1 0h3m0 0h3m8 0h3m4 0h3m-2 0h3m-1 0h3m1 0h3m-2 0h3m1 0h3m-2 0h3m-57 1h3m-1 0h3m-2 0h3m-1 0h3m3 0h3m4 0h3m4 0h3m-1 0h3m3 0h3m-2 0h3m1 0h3m3 0h3m6 0h3m-46 1h3m-2 0h3m3 0h3m-2 0h3m-1 0h3m-1 0h3m6 0h3m-2 0h3m3 0h3m-31 1h3m4 0h3m3 0h3m5 0h3m-1 0h3m-17 1h3m-1 0h3m-1 0h3m3 0h3m1 0h3m-2 0h3m-1 1h3m2 0h3m-38 1h3m17 0h3m2 0h3m-2 0h3m4 0h3m-13 1h3m-5 1h3m15 0h3m-10 2h3" stroke="#e8174a" stroke-width="3" fill="none"/>
<path transform="scale(.5)" d="M436 882h2m-5 1h2m-1 0h2m-4 1h2m0 0h2m-1 0h2m3 0h2m-1 0h2m1 0h2m-14 1h2m-1 0h2m-1 0h2m1 0h2m-1 0h2m0 0h2m-1 0h2m-1 0h2m-13 1h2m0 0h2m-1 0h2m2 0h2m-1 0h2m0 0h2m0 0h2m-9 1h2m0 0h2m2 0h2m-14 1h2m-1 0h2m-1 0h2m-1 0h2m1 0h2m14 0h2m-18 1h2m5 0h2m-15 1h2m6 0h2m1 0h2m-1 0h2m0 0h2m-17 1h2m0 0h2m-1 0h2m-1 0h2m4 0h2m2 0h2m-1 0h2m-1 0h2m-1 0h2m-15 1h2m2 0h2m6 0h2m-15 1h2m-1 0h2m-1 0h2m-1 0h2m0 0h2m-1 0h2m0 0h2m-1 0h2m-1 0h2m0 0h2m-1 0h2m0 0h2m-20 1h2m0 0h2m0 0h2m4 0h2m0 0h2m-1 0h2m-1 0h2m-1 0h2m-1 0h2m-17 1h2m-1 0h2m-1 0h2m-1 0h2m0 0h2m3 0h2m0 0h2m-1 0h2m-1 0h2m0 0h2m-1 0h2m0 0h2m-21 1h2m0 0h2m0 0h2m2 0h2m2 0h2m-1 0h2m-1 0h2m1 0h2m-17 1h2m4 0h2m-1 0h2m-1 0h2m-1 0h2m-1 0h2m-1 0h2m1 0h2m-17 1h2m5 0h2m0 0h2m3 0h2m-15 1h2m0 0h2m-1 0h2m0 0h2m-1 0h2m-1 0h2m-1 0h2m2 0h2m2 0h2m-11 1h2m4 0h2m0 0h2m-14 1h2m-1 0h2m-1 0h2m-1 0h2m0 0h2m-1 0h2m1 0h2m-1 0h2m1 0h2m-10 1h2m0 0h2m-1 0h2m0 0h2m-2 1h2m-9 1h2m0 0h2" stroke="#e8174a" stroke-width="2" fill="none"/>
<path transform="scale(.5)" d="M442 880h2m-5 1h2m2 0h2m2 2h2m-11 2h2m5 1h2m3 0h2m-21 1h2m-1 0h2m0 0h2m6 0h2m3 0h2m-19 1h2m6 0h2m4 2h2m4 0h2m-8 1h2m-13 1h2m6 1h2m3 0h2m0 0h2m-16 1h2m7 1h2m-1 0h2m0 0h2m2 0h2m-7 1h2m-8 1h2m5 0h2m-5 1h2m4 0h2m-10 1h2m1 0h2m1 0h2m-1 0h2m-10 1h2m0 0h2m3 0h2m0 0h2m-17 1h2m0 0h2m0 0h2m8 0h2m-11 1h2m1 0h2m-2 1h2m0 0h2" stroke="#1fbf80" stroke-width="2" fill="none"/>
<path transform="scale(.5)" d="M418 787h2m-3 1h2m-1 0h2m-3 1h2m-1 0h2m-4 1h2m-4 2h2m-2 2h2m0 0h2m-3 1h2m-1 0h2m0 3h2m-7 1h2m5 0h2m-8 3h2m2 0h2m-1 2h2m-1 0h2m-5 1h2" stroke="#1fbf80" stroke-width="2" fill="none"/>
<path d="M270.7 465.8C271.8 465.4 274.2 466.9 277.9 467.2C281.5 467.5 286.2 466.7 289.2 467.2C292.1 467.8 292.4 469 292.7 469.9C293 470.9 293.5 471.7 290.6 472C287.6 472.3 281.5 472.1 277.9 471.6C274.2 471 273.6 470.4 272.2 469.2C270.8 468 269.6 466.2 270.7 465.8Z" fill="#f4f4f4" stroke="#5a5a5a" stroke-width="0.45" stroke-linejoin="round"/>
<path d="M290.6 453.5C292.8 452.6 295.9 453.9 297.6 454.8C299.3 455.8 299.4 456.6 299.1 458.2C298.8 459.9 297.6 461.6 296.2 463.1C294.8 464.6 295.1 465.5 291.9 465.8C288.8 466.1 281.8 465.8 280.6 464.4C279.5 463.1 284.3 461.2 286.3 459C288.3 456.8 288.3 454.3 290.6 453.5Z" fill="#f4f4f4" stroke="#5a5a5a" stroke-width="0.45" stroke-linejoin="round"/>
<path d="M325.3 430.2C326.7 429.4 326.7 434.3 326 437C325.3 439.8 324.3 441.1 321.7 443.9C319.2 446.6 316.6 448.2 313.2 450.7C309.8 453.1 307.6 454.7 304.8 456.2C301.9 457.7 300.5 458.5 299.1 458.2C297.7 458 296.5 456.3 297.6 454.8C298.7 453.3 301.9 452.3 304.8 450.7C307.6 449 309 448.5 311.8 446.6C314.6 444.7 316.2 444.5 318.8 441.2C321.5 437.9 323.8 431 325.3 430.2Z" fill="#f4f4f4" stroke="#5a5a5a" stroke-width="0.45" stroke-linejoin="round"/>
<path d="M293.4 426C295.3 425.2 298.8 428.7 300.4 431.4C302 434.2 300.4 436.7 301.4 439.7C302.5 442.7 306.5 443.4 305.7 446.4C304.9 449.5 300.6 453.4 297.6 454.8C294.6 456.2 292 455.7 290.6 453.5C289.1 451.3 290.4 447.4 290.6 443.9C290.7 440.3 290.7 439.1 291.3 435.6C291.9 432 291.6 426.9 293.4 426Z" fill="#f4f4f4" stroke="#5a5a5a" stroke-width="0.45" stroke-linejoin="round"/>
<path d="M258 438.4C258.6 435.6 261.1 431.3 263.7 428.7C266.2 426.2 267.6 426.1 270.7 425.7C273.8 425.3 277.4 425.1 279 426.8C280.7 428.4 280.1 431.7 279 434C278 436.3 275.9 436.5 273.7 438.2C271.5 439.9 270.5 441.6 267.9 442.5C265.4 443.4 262.9 443.3 260.9 442.5C258.9 441.7 257.4 441.1 258 438.4Z" fill="#f4f4f4" stroke="#5a5a5a" stroke-width="0.45" stroke-linejoin="round"/>
<path d="M290.6 416.4C292.3 416.2 294.3 415.8 294.8 417.8C295.4 419.7 294.1 422.5 293.4 426C292.7 429.6 291.9 432 291.3 435.6C290.7 439.1 290.7 440.3 290.6 443.9C290.4 447.4 291.4 450.5 290.6 453.5C289.7 456.5 288.6 457 286.3 459C284 460.9 282.4 461.7 279.2 463.1C276.1 464.5 273.5 465.5 270.7 465.8C267.9 466.1 266.5 465.8 265 464.4C263.6 463.1 263.1 460.9 263.7 459C264.2 457 265.7 457 267.9 454.8C270.2 452.6 273.3 451 275 448C276.7 445 275.8 443.3 276.4 439.7C276.9 436.2 276.7 433.2 277.9 430.2C279 427.2 280.3 426.9 282 424.7C283.7 422.5 284.6 420.8 286.3 419.1C288 417.5 288.9 416.7 290.6 416.4Z" fill="#f4f4f4" stroke="#5a5a5a" stroke-width="0.45" stroke-linejoin="round"/>
<path d="M286.3 397.2C287.4 395.3 288.3 393.3 290.6 391.7C292.8 390.1 294.5 389.4 297.6 389C300.7 388.6 302.7 388.5 306.1 389.6C309.5 390.7 311.5 391.6 314.6 394.5C317.7 397.4 319.6 399.7 321.7 404.1C323.9 408.5 324.5 411.5 325.3 416.4C326 421.4 325.8 424.6 325.3 428.7C324.7 432.9 324.2 434.3 322.4 437C320.5 439.8 318.8 440.7 316.1 442.5C313.4 444.3 311.5 445.4 308.9 445.9C306.4 446.5 304.9 446.4 303.3 445.2C301.6 444 301.2 443 300.5 439.7C299.8 436.4 300.3 432.9 299.7 428.7C299.2 424.6 298.9 422.1 297.6 419.1C296.3 416.1 295.1 415.5 293.4 413.6C291.8 411.7 290.6 411 289.2 409.6C287.7 408.2 287.1 408.5 286.3 406.8C285.4 405.1 284.9 403.2 284.9 401.3C284.9 399.4 285.2 399.1 286.3 397.2Z" fill="#f4f4f4" stroke="#5a5a5a" stroke-width="0.45" stroke-linejoin="round"/>
<text x="310.2" y="417.5" font-size="5.1" fill="#4d4d4d" stroke="#4d4d4d">STRd</text>
<text x="281.5" y="436.2" font-size="5.1" fill="#4d4d4d" stroke="#4d4d4d">PAL</text>
<text x="258" y="450.9" font-size="5.1" fill="#4d4d4d" stroke="#4d4d4d">HY</text>
<text x="316.1" y="450.2" font-size="5.1" fill="#4d4d4d" stroke="#4d4d4d">CTXsp</text>
<text x="298.6" y="464.3" font-size="5.1" fill="#4d4d4d" stroke="#4d4d4d">sAMY</text>
<text x="297.4" y="471.5" font-size="5.1" fill="#4d4d4d" stroke="#4d4d4d">STRv</text>
<path transform="scale(.5)" d="M582 783h2m-7 1h2m2 0h2m-5 1h2m-5 1h2m5 0h2m-1 0h2m-10 1h2m-1 1h2m4 0h2m-2 1h2m-1 0h2m-1 0h2m-9 1h2m-1 0h2m3 0h2m-3 1h2m0 0h2m-8 1h2m-1 0h2m0 0h2m0 0h2m-1 0h2m-10 1h2m-1 0h2m2 1h2m0 0h2m-9 1h2m-1 0h2m-1 0h2m-5 1h2m1 0h2m-1 0h2m0 0h2m0 0h2m-8 1h2m2 1h2m-1 0h2m-6 2h2" stroke="#e8174a" stroke-width="2" fill="none"/>
<path transform="scale(.5)" d="M595 789h2m-9 1h2m-1 0h2m-2 1h2m6 0h2m-11 1h2m0 0h2m-7 1h2m8 3h2m-9 2h2m-7 1h2m3 0h2m-6 1h2m3 1h2m1 0h2m-12 2h2m10 0h2m-4 2h2m5 0h2m-6 1h2m-11 1h2m9 0h2m-6 2h2m1 0h2m-8 2h2" stroke="#1fbf80" stroke-width="2" fill="none"/>
<path d="M384.6 389C385.7 389.7 386.5 390.4 388 393.2C389.5 395.9 391.3 399 392.2 402.9C393 406.8 392.6 409.3 392.2 412.7C391.7 416 389.9 416.8 390.1 419.6C390.4 422.4 392.4 423 393.5 426.7C394.5 430.3 395.5 433.3 395.5 437.8C395.5 442.2 395.2 444.4 393.5 448.9C391.7 453.4 389.9 456.2 386.7 460.1C383.4 464 381 466.3 377.1 468.4C373.3 470.6 371.1 471.1 367.6 470.8C364.1 470.5 361.7 468.5 359.5 467.1C357.3 465.7 357.6 463.5 356.8 463.7C355.9 464 356.4 467.1 355.3 468.4C354.2 469.8 353.7 470.5 351.3 470.5C348.8 470.5 345.7 470.2 343.2 468.4C340.6 466.6 339.5 464.2 338.6 461.7C337.7 459.2 338.4 457.6 338.8 455.9C339.2 454.1 339 454.5 340.4 453.2C341.8 451.8 342.8 451.4 345.8 448.9C348.8 446.4 351.2 444.5 355.3 440.6C359.4 436.7 363 432.3 366.3 429.5C369.6 426.7 370 428.1 371.7 426.7C373.3 425.3 373 425.2 374.4 422.4C375.8 419.6 377.1 417.4 378.6 412.7C380.1 407.9 381.1 403.3 381.9 398.8C382.7 394.2 382.1 391.7 382.6 389.7C383.2 387.8 383.6 388.3 384.6 389Z" fill="#f4f4f4" stroke="#5a5a5a" stroke-width="0.45" stroke-linejoin="round"/>
<path d="M371.7 426.7C373.7 426.9 380.9 429.2 383.9 428C387 426.9 389.1 421 390.1 419.6" fill="none" stroke="#5a5a5a" stroke-width="0.45" stroke-linecap="round" stroke-linejoin="round"/>
<path d="M367.6 431.6C369 432.4 373.1 437 375.8 436.4C378.5 435.9 382.6 429.4 383.9 428" fill="none" stroke="#5a5a5a" stroke-width="0.45" stroke-linecap="round" stroke-linejoin="round"/>
<path d="M375.8 436.4C374 438 367.9 443.1 364.9 446.1C361.8 449.1 358.9 451.7 357.5 454.5C356 457.3 356.2 461.1 356 462.8C355.9 464.5 356.6 464.5 356.8 464.8" fill="none" stroke="#5a5a5a" stroke-width="0.45" stroke-linecap="round" stroke-linejoin="round"/>
<text x="367" y="401.4" font-size="5.1" fill="#4d4d4d" stroke="#4d4d4d">STRd</text>
<text x="360.9" y="425.2" font-size="5.1" fill="#4d4d4d" stroke="#4d4d4d">STR</text>
<text x="340.6" y="438.1" font-size="5.1" fill="#4d4d4d" stroke="#4d4d4d">sAMY</text>
<text x="381" y="465" font-size="5.1" fill="#4d4d4d" stroke="#4d4d4d">CTXsp</text>
<path transform="scale(.5)" d="M772 783h2m0 0h2m-1 1h2m-5 1h2m2 1h2m-1 0h2m-10 1h2m-1 1h2m5 0h2m-8 1h2m5 0h2m-8 1h2m-5 1h2m2 0h2m4 0h2m-11 2h2m2 0h2m-1 0h2m3 0h2m-12 1h2m1 0h2m-4 1h2m7 0h2m-11 1h2m6 0h2m-11 1h2m-1 0h2m0 0h2m4 0h2m-8 1h2m3 0h2m-10 1h2m6 0h2m-10 1h2m1 0h2m1 0h2m-1 0h2m0 0h2m0 0h2m-3 2h2m-9 1h2m-1 0h2m-2 1h2m-1 0h2m4 1h2m-5 1h2m-3 1h2m-1 0h2m0 0h2" stroke="#e8174a" stroke-width="2" fill="none"/>
<path transform="scale(.5)" d="M769 805h2m-1 0h2m-9 2h2m4 0h2m-4 1h2m0 0h2m1 0h2m-5 1h2m2 0h2m-2 2h2m-7 1h2m-1 0h2m-1 0h2m-4 1h2m0 0h2m4 0h2m-14 1h2m10 0h2m-5 1h2m-2 1h2m-11 1h2m1 0h2m4 1h2m4 0h2m-13 1h2m-1 0h2m5 0h2m-14 1h2m1 0h2m0 0h2m2 0h2m-1 0h2m-1 0h2m1 0h2m-1 0h2m-6 1h2m-9 1h2m1 0h2m7 0h2m-12 1h2m-3 1h2m1 0h2m-3 1h2m-1 0h2m-1 1h2m-1 0h2m0 0h2m1 0h2m-8 1h2m1 1h2m-3 1h2" stroke="#1fbf80" stroke-width="2" fill="none"/>
<rect x="119.9" y="477.7" width="12" height="7.4" fill="#d6d6d6" rx="2.2"/>
<text x="125.9" y="483.4" font-size="6.3" fill="#231f20" stroke="#231f20" text-anchor="middle" font-weight="bold">265</text>
<path d="M124.9 538.1C124 539.3 127.1 545.3 130.4 549.1C133.7 552.9 136.6 555.4 141.3 557.3C146 559.2 148.5 558.7 153.7 558.7C158.9 558.7 163.6 558.7 167.4 557.3C171.2 555.9 172.1 554.5 172.9 551.8C173.7 549.1 173.4 545.8 171.5 543.6C169.6 541.4 166.6 540.8 163.3 540.9C160 541 158.7 543 155 544C151.3 545 149 546.2 145 546C141 545.8 139 544.6 135 543C131 541.4 125.8 536.9 124.9 538.1Z" fill="#f4f4f4" stroke="#5a5a5a" stroke-width="0.45" stroke-linejoin="round"/>
<path d="M130.4 520.3C131.6 517.3 132.8 515.9 135.8 514.8C138.8 513.7 142.1 513.7 145.4 514.8C148.7 515.9 149.5 517.3 152.3 520.3C155.1 523.3 157.3 526.9 159.2 529.9C161.1 532.9 162.2 532.9 161.9 535.4C161.6 537.9 160.5 540.3 157.8 542.2C155.1 544.1 152.3 544.7 148.2 545C144.1 545.3 140.5 545 137.2 543.6C133.9 542.2 133.2 540.8 131.7 538.1C130.2 535.4 130 533.5 129.7 529.9C129.4 526.3 129.2 523.3 130.4 520.3Z" fill="#f4f4f4" stroke="#5a5a5a" stroke-width="0.45" stroke-linejoin="round"/>
<path d="M178.4 507.9C181.1 503.9 180.7 506.8 181.1 509.3C181.5 511.8 182 516.5 180.4 520.3C178.8 524.1 175.5 526.7 172.9 528.5C170.3 530.3 166.3 533.3 167.4 529.2C168.5 525.1 175.7 511.9 178.4 507.9Z" fill="#f4f4f4" stroke="#5a5a5a" stroke-width="0.45" stroke-linejoin="round"/>
<path d="M137.2 480.5C139 476.9 140.2 477.7 145.4 477.7C150.6 477.7 157.5 478.6 163.3 480.5C169.1 482.4 171.3 483.8 174.3 487.4C177.3 491 177.6 494.2 178.4 498.3C179.2 502.4 178.7 504.3 178.4 507.9C178.1 511.5 178.1 512.9 177 516.2C175.9 519.5 174.8 521.9 172.9 524.4C171 526.9 170.1 527.4 167.4 528.5C164.7 529.6 161.9 530.2 159.2 529.9C156.5 529.6 155.6 529 153.7 527.1C151.8 525.2 151.8 522.8 149.6 520.3C147.4 517.8 145.2 517.5 142.7 514.8C140.2 512.1 138.4 510.4 137.2 506.6C136 502.8 136.5 500.8 136.5 495.6C136.5 490.4 135.4 484.1 137.2 480.5Z" fill="#f4f4f4" stroke="#5a5a5a" stroke-width="0.45" stroke-linejoin="round"/>
<text x="155.7" y="492.8" font-size="5.1" fill="#4d4d4d" stroke="#4d4d4d">STRd</text>
<text x="180.4" y="503.1" font-size="5.1" fill="#4d4d4d" stroke="#4d4d4d">CTXsp</text>
<text x="172.9" y="535.4" font-size="5.1" fill="#4d4d4d" stroke="#4d4d4d">ACB</text>
<text x="169.5" y="540.9" font-size="5.1" fill="#4d4d4d" stroke="#4d4d4d">SI</text>
<text x="168.8" y="556" font-size="5.1" fill="#4d4d4d" stroke="#4d4d4d">OT</text>
<path transform="scale(.5)" d="M267 1043h2m0 0h2m-4 1h2m-5 2h2m10 0h2m-14 1h2m-1 0h2m-1 0h2m-4 2h2m12 0h2m-3 1h2m-12 1h2m-5 1h2m0 0h2m8 0h2m2 0h2m-13 1h2m0 0h2m1 0h2m3 0h2m-19 1h2m-1 0h2m0 0h2m-5 1h2m0 0h2m0 0h2m4 0h2m2 0h2m2 0h2m0 0h2m-20 1h2m-1 0h2m10 0h2m-14 1h2m5 0h2m11 0h2m-21 1h2m2 0h2m-1 0h2m1 0h2m2 0h2m-12 1h2m1 0h2m4 0h2m0 0h2m1 0h2m-14 2h2m1 0h2m4 0h2m1 0h2m-9 1h2m3 0h2m-20 1h2m-1 0h2m2 0h2m1 0h2m9 0h2m4 0h2m-20 1h2m7 1h2m0 0h2m3 0h2m-1 0h2m-10 1h2m-1 0h2m1 0h2m-1 0h2m-23 1h2m4 0h2m0 0h2m-1 0h2m0 0h2m-11 1h2m-1 0h2m3 0h2m10 0h2m1 0h2m3 0h2m-29 1h2m12 0h2m-1 0h2m-1 0h2m5 0h2m-1 0h2m-25 2h2m-1 0h2m-1 0h2m0 0h2m16 0h2m0 0h2m-23 1h2m9 0h2m1 0h2m-16 1h2m9 0h2m-1 0h2m2 0h2m-1 0h2m3 0h2m-6 1h2m-8 1h2m3 0h2m1 0h2m-12 1h2m5 0h2m0 0h2m-9 1h2" stroke="#1a9bdc" stroke-width="2" fill="none"/>
<path transform="scale(.5)" d="M262 1082h2m-9 1h2m2 0h2m-2 1h2m-2 1h2m0 0h2m-5 1h2m2 0h2m-1 0h2m4 0h2m-5 1h2m-1 0h2m3 0h2m-19 1h2m5 0h2m1 0h2m0 0h2m1 0h2m-5 1h2m2 0h2m-7 1h2m5 0h2m-1 0h2m-13 1h2m-3 1h2m-1 0h2m1 0h2m0 0h2m0 0h2m0 0h2m-1 0h2m-5 1h2m-12 1h2m1 0h2m5 0h2m-1 0h2m2 0h2m-16 1h2m2 0h2m-1 0h2m-1 0h2m-1 0h2m0 0h2m-10 1h2m5 0h2m-15 1h2m0 0h2m-1 0h2m2 0h2m0 0h2m4 0h2m-1 0h2m-1 0h2m-13 1h2m4 0h2m0 0h2m2 0h2m-16 1h2m2 0h2m3 0h2m-10 1h2m0 0h2m3 0h2m-1 0h2m-1 0h2m0 0h2m-1 0h2m-8 1h2m1 0h2m2 0h2m-15 1h2m7 0h2m-1 0h2m1 0h2m-15 1h2m0 0h2m6 0h2m1 0h2m-6 1h2m-11 1h2m-1 0h2m6 0h2m0 0h2m-1 0h2m-1 0h2m-9 1h2m-5 1h2m2 0h2m-1 0h2m0 0h2m-4 1h2m-1 0h2m1 0h2" stroke="#1fbf80" stroke-width="2" fill="none"/>
<path transform="scale(.5)" d="M261 1049h2m-2 1h2m-1 0h2m-4 1h2m-2 1h2m-1 0h2m0 0h2m-5 1h2m1 0h2m-5 1h2m0 0h2m-6 1h2m1 0h2m0 0h2m-1 1h2m-3 1h2m-1 0h2m-7 1h2m0 0h2m1 0h2m-5 1h2m0 0h2m-6 2h2m-1 1h2m1 0h2m-4 1h2m-5 1h2m3 0h2m-2 2h2m-5 1h2m1 0h2m-5 1h2m0 2h2" stroke="#e8174a" stroke-width="2" fill="none"/>
<path transform="scale(.5)" d="M285 1085h2m1 0h2m-12 1h2m8 0h2m2 0h2m-17 1h2m1 0h2m-1 0h2m1 0h2m-6 1h2m-1 0h2m4 0h2m3 0h2m-15 1h2m3 0h2m-1 0h2m0 0h2m-13 1h2m2 0h2m6 0h2m0 0h2m1 0h2m-14 1h2m5 0h2m3 0h2m-10 2h2m1 0h2m1 0h2m0 0h2m-13 1h2m1 0h2m3 0h2m-6 1h2m2 0h2m-6 1h2" stroke="#7a1f8c" stroke-width="2" fill="none"/>
<path transform="scale(.5)" d="M300 1082h2m-12 1h2m-1 0h2m3 0h2m-1 0h2m-13 1h2m16 0h2m-23 1h2m0 0h2m0 0h2m0 0h2m0 0h2m1 0h2m-11 1h2m5 0h2m6 0h2m3 0h2m-1 0h2m-18 1h2m3 0h2m-1 0h2m5 0h2m-20 1h2m-1 0h2m-1 0h2m0 0h2m-1 0h2m0 0h2m-1 0h2m1 0h2m5 0h2m-14 1h2m-1 0h2m0 0h2m1 0h2m-7 1h2m0 0h2" stroke="#f5841f" stroke-width="2" fill="none"/>
<path transform="scale(.5)" d="M293 1065h2m5 0h2m-1 3h2m-2 2h2m3 0h2m-3 2h2m-8 1h2m0 0h2m-3 1h2m1 1h2m-1 0h2m-2 1h2m-7 1h2" stroke="#1fbf80" stroke-width="2" fill="none"/>
<line x1="127.5" y1="514" x2="131" y2="525" stroke="#e8174a" stroke-width="0.5"/>
<line x1="143" y1="512" x2="136" y2="530" stroke="#1a9bdc" stroke-width="0.5"/>
<text x="124.2" y="514.3" font-size="5.2" fill="#231f20" stroke="#231f20" font-weight="bold">944</text>
<text x="139.6" y="512.5" font-size="5.2" fill="#231f20" stroke="#231f20" font-weight="bold">946</text>
<text x="124.9" y="561" font-size="5.2" fill="#231f20" stroke="#231f20" font-weight="bold">943</text>
<text x="159.3" y="549.3" font-size="5.2" fill="#231f20" stroke="#231f20" font-weight="bold">945</text>
<text x="151.6" y="557" font-size="5.2" fill="#231f20" stroke="#231f20" font-weight="bold">947</text>
<path d="M196.9 546.4C196.3 548 198 550.6 201 553C204 555.4 207.1 557.1 212 558.3C216.9 559.5 221 559.5 225.7 559C230.3 558.5 232.5 557.7 235.3 555.7C238.1 553.7 239.2 551.1 239.4 549C239.7 546.9 238.3 546.1 236.6 545.1C235 544.2 233.6 544.7 231.2 544.4C228.7 544.2 227.9 543.9 224.3 543.7C220.8 543.6 217.5 543.5 213.3 543.7C209.2 544 207 544.6 203.7 545.1C200.4 545.7 197.4 544.9 196.9 546.4Z" fill="#f4f4f4" stroke="#5a5a5a" stroke-width="0.45" stroke-linejoin="round"/>
<path d="M192.7 520C194.2 517.6 197.1 516.5 199.6 516C202 515.5 204.5 516.2 205.1 517.3C205.6 518.4 203.3 519.2 202.4 521.3C201.4 523.4 200.7 524.7 200.3 527.9C199.9 531 199.9 533.7 200.3 537.2C200.7 540.6 203.3 543.3 202.4 545.1C201.4 547 197.4 548 195.5 546.4C193.6 544.8 193.4 540.9 192.7 537.2C192 533.4 192 531.3 192 527.9C192 524.4 191.2 522.4 192.7 520Z" fill="#f4f4f4" stroke="#5a5a5a" stroke-width="0.45" stroke-linejoin="round"/>
<path d="M202.4 530.6C203.6 528.2 205.4 524.9 207.9 523.9C210.3 522.8 212 524.1 214.7 525.3C217.4 526.5 218.5 528.8 221.5 529.9C224.5 530.9 227.6 529.6 229.8 530.6C232 531.5 232.2 532.4 232.5 534.6C232.8 536.7 232.8 539.3 231.2 541.1C229.5 543 227.9 543.2 224.3 543.7C220.8 544.3 217.2 544.5 213.3 543.7C209.5 543 207.4 541.4 205.1 539.8C202.7 538.3 202.2 537.7 201.6 535.9C201.1 534 201.1 533 202.4 530.6Z" fill="#f4f4f4" stroke="#5a5a5a" stroke-width="0.45" stroke-linejoin="round"/>
<path d="M248.4 514.7C250.3 512.3 250.9 514.7 251.8 516C252.6 517.3 253 519.4 252.5 521.3C252 523.1 251.2 524 249.1 525.3C247 526.6 242.3 530 242.1 527.9C242 525.8 246.4 517.1 248.4 514.7Z" fill="#f4f4f4" stroke="#5a5a5a" stroke-width="0.45" stroke-linejoin="round"/>
<path d="M207.9 486.9C209.2 483.8 210.3 482.6 213.3 481C216.4 479.4 218.9 479 223 479C227.1 479 230.1 479.4 234 481C237.8 482.6 239.4 483.8 242.1 486.9C244.9 489.9 246.1 492.2 247.6 496.2C249.1 500.1 249.6 502.8 249.7 506.7C249.8 510.7 249.3 512.8 248.4 516C247.4 519.2 247 520.2 244.9 522.6C242.9 525 241.1 526.3 238.1 527.9C235.1 529.5 233.1 530.2 229.8 530.6C226.5 531 224.5 530.9 221.5 529.9C218.5 528.8 217.2 527.8 214.7 525.3C212.2 522.8 210.8 521 209.2 517.3C207.6 513.6 207 511 206.5 506.7C206 502.5 206.2 500.1 206.5 496.2C206.8 492.2 206.5 489.9 207.9 486.9Z" fill="#f4f4f4" stroke="#5a5a5a" stroke-width="0.45" stroke-linejoin="round"/>
<text x="226" y="493" font-size="5.1" fill="#4d4d4d" stroke="#4d4d4d">STRd</text>
<text x="193.2" y="513.2" font-size="5.1" fill="#4d4d4d" stroke="#4d4d4d">BST</text>
<text x="239.2" y="538.4" font-size="5.1" fill="#4d4d4d" stroke="#4d4d4d">ACB</text>
<text x="234.8" y="543.8" font-size="5.1" fill="#4d4d4d" stroke="#4d4d4d">SI</text>
<text x="194.3" y="557" font-size="5.1" fill="#4d4d4d" stroke="#4d4d4d">OT</text>
<path transform="scale(.5)" d="M404 1028h2m-1 0h2m-4 1h2m1 0h2m-1 0h2m-9 1h2m3 0h2m-7 1h2m8 0h2m-14 1h2m12 1h2m-5 1h2m-9 1h2m2 0h2m-1 0h2m-8 1h2m2 1h2m-1 2h2m3 0h2m2 0h2m0 1h2m-18 1h2m5 0h2m-2 1h2m1 0h2m-3 1h2m-11 2h2m3 0h2m5 1h2m-1 0h2m4 0h2m-8 2h2m-14 1h2m1 0h2m-1 0h2m5 0h2m0 0h2m7 0h2m-15 1h2m-1 0h2m3 0h2m-5 1h2m7 0h2m1 0h2m-25 1h2m0 0h2m18 0h2m-26 1h2m2 0h2m1 0h2m6 0h2m2 0h2m5 0h2m-12 1h2m0 1h2m0 0h2m2 0h2m-26 1h2m8 0h2m9 0h2m-22 1h2m-1 0h2m11 0h2m0 0h2m-12 1h2m16 0h2m-19 1h2m1 0h2m-1 0h2m2 0h2m2 0h2m0 0h2m3 0h2m2 0h2m-26 1h2m1 0h2m0 0h2m0 0h2m-1 0h2m2 0h2m-3 1h2m10 0h2m-17 1h2m14 0h2m-27 1h2m8 0h2m0 0h2m13 0h2m-19 1h2m13 0h2m-26 2h2m3 0h2m-1 0h2m4 0h2m-1 0h2m9 0h2m-25 1h2m2 0h2m5 0h2m8 0h2m0 0h2m-8 1h2m-1 0h2m2 0h2m-1 0h2m5 0h2m-26 1h2m2 0h2m7 0h2m8 0h2m-9 1h2m-1 0h2m-22 1h2m4 0h2m4 0h2m8 0h2m2 0h2m-5 1h2m-1 0h2m-26 1h2m3 0h2m8 0h2m-12 1h2m7 0h2m4 0h2m9 0h2m-26 1h2m0 0h2m10 0h2m8 0h2m0 0h2m-26 1h2m13 0h2m9 0h2m-32 2h2m13 0h2m3 2h2m1 0h2m1 0h2m-26 1h2m15 0h2m0 0h2m2 0h2m4 0h2m-16 1h2m4 0h2m-12 1h2m7 0h2m1 0h2m1 0h2m-22 1h2m6 0h2m2 0h2m-9 2h2m2 0h2m3 0h2m4 0h2m-20 1h2m0 0h2m0 0h2m8 0h2m1 0h2m-19 1h2m0 0h2m2 0h2m-3 1h2m6 0h2m-1 0h2m-4 1h2m1 0h2m1 0h2m-16 1h2m11 0h2m-13 1h2m8 0h2m-6 2h2m3 0h2m-4 1h2" stroke="#1fbf80" stroke-width="2" fill="none"/>
<path transform="scale(.5)" d="M403 1029h2m0 1h2m-5 1h2m4 0h2m-8 3h2m-1 0h2m-2 1h2m1 0h2m-1 1h2m-1 0h2m-5 1h2" stroke="#1a9bdc" stroke-width="2" fill="none"/>
<path transform="scale(.5)" d="M410 1101h2m-2 1h2m-4 1h2m-2 1h2m-2 1h2m-1 0h2m0 0h2m-1 0h2m-6 1h2m1 0h2" stroke="#e8174a" stroke-width="2" fill="none"/>
<path transform="scale(.5)" d="M413 1072h2m-5 1h2m5 0h2m-9 1h2m5 0h2m-11 1h2m4 0h2m0 0h2m1 0h2m0 0h2m-8 1h2m0 0h2m4 0h2m-1 0h2m-17 1h2m6 0h2m1 0h2m1 0h2m-5 1h2m-13 1h2m0 0h2m3 0h2m0 0h2m0 0h2m1 0h2m1 0h2m-15 1h2m6 0h2m0 0h2m-1 0h2m-11 1h2m2 0h2m0 0h2m-11 1h2m0 0h2m1 0h2m-1 0h2m-1 0h2m-1 0h2m-1 0h2m-9 1h2m3 0h2m4 0h2m-7 1h2m1 0h2" stroke="#7a1f8c" stroke-width="2" fill="none"/>
<path transform="scale(.5)" d="M424 1101h2m-16 1h2m1 0h2m2 0h2m1 0h2m0 0h2m-18 1h2m-1 0h2m6 0h2m-1 0h2m-1 0h2m3 0h2m-12 1h2m0 0h2m1 0h2m3 0h2m2 0h2m-23 1h2m0 0h2m2 0h2m-1 0h2m4 0h2m8 0h2m-24 1h2m3 0h2m0 0h2m7 0h2m1 0h2m-19 1h2m8 0h2m-1 0h2m5 0h2m-1 0h2m-20 1h2m0 0h2m0 0h2m1 0h2m6 0h2m-16 1h2m2 0h2m2 0h2m-1 0h2m-8 1h2m1 0h2m1 0h2m3 0h2m-11 1h2m3 0h2m-8 1h2m0 0h2" stroke="#1fbf80" stroke-width="2" fill="none"/>
<path transform="scale(.5)" d="M441 1065h2m-2 1h2m0 0h2m-5 1h2m2 0h2m-7 1h2m1 0h2m-2 1h2m1 0h2m-9 1h2m1 0h2m-1 0h2m-3 1h2" stroke="#f5841f" stroke-width="2" fill="none"/>
<rect x="260.2" y="477.4" width="12.4" height="8" fill="#d6d6d6" rx="2.2"/>
<text x="266.4" y="483.7" font-size="6.3" fill="#231f20" stroke="#231f20" text-anchor="middle" font-weight="bold">266</text>
<path d="M267 539C266.1 540.2 269.2 546.3 272.4 550.2C275.6 554.1 278.5 556.6 283 558.6C287.6 560.5 290.1 560 295.2 560C300.3 560 304.8 560 308.6 558.6C312.4 557.2 313.2 555.8 314 553C314.8 550.2 314.5 546.8 312.6 544.6C310.7 542.4 307.8 541.8 304.6 541.8C301.4 541.9 300 544 296.5 545C292.9 546 290.6 547.3 286.7 547C282.8 546.8 280.8 545.6 276.9 544C273 542.4 267.9 537.7 267 539Z" fill="#f4f4f4" stroke="#5a5a5a" stroke-width="0.45" stroke-linejoin="round"/>
<path d="M272.4 520.8C273.6 517.8 274.7 516.4 277.7 515.2C280.6 514.1 283.8 514.1 287.1 515.2C290.3 516.4 291.1 517.8 293.8 520.8C296.5 523.9 298.7 527.6 300.6 530.6C302.4 533.7 303.5 533.7 303.2 536.2C302.9 538.7 301.9 541.2 299.2 543.2C296.5 545.1 293.8 545.7 289.8 546C285.8 546.3 282.3 546 279 544.6C275.8 543.2 275.1 541.8 273.7 539C272.2 536.2 272 534.3 271.7 530.6C271.4 527 271.2 523.9 272.4 520.8Z" fill="#f4f4f4" stroke="#5a5a5a" stroke-width="0.45" stroke-linejoin="round"/>
<path d="M319.4 508.2C322 504.1 321.6 507.1 322 509.6C322.4 512.2 322.9 516.9 321.3 520.8C319.7 524.8 316.5 527.4 314 529.2C311.4 531 307.5 534.1 308.6 529.9C309.7 525.7 316.7 512.3 319.4 508.2Z" fill="#f4f4f4" stroke="#5a5a5a" stroke-width="0.45" stroke-linejoin="round"/>
<path d="M279 480.3C280.8 476.6 282 477.4 287.1 477.4C292.2 477.4 298.9 478.3 304.6 480.3C310.2 482.2 312.4 483.7 315.3 487.3C318.3 490.9 318.6 494.2 319.4 498.4C320.2 502.6 319.6 504.5 319.4 508.2C319.1 511.8 319.1 513.3 318 516.7C316.9 520 315.9 522.5 314 525C312.1 527.5 311.3 528.1 308.6 529.2C305.9 530.3 303.2 530.9 300.6 530.6C297.9 530.3 297.1 529.7 295.2 527.8C293.3 525.8 293.3 523.4 291.2 520.8C289 518.3 286.8 518 284.4 515.2C282 512.4 280.3 510.8 279 506.9C277.8 503 278.4 501 278.4 495.7C278.4 490.3 277.3 483.9 279 480.3Z" fill="#f4f4f4" stroke="#5a5a5a" stroke-width="0.45" stroke-linejoin="round"/>
<text x="299.3" y="492.6" font-size="5.1" fill="#4d4d4d" stroke="#4d4d4d">STRd</text>
<text x="322" y="503.5" font-size="5.1" fill="#4d4d4d" stroke="#4d4d4d">CTXsp</text>
<text x="313.4" y="535.2" font-size="5.1" fill="#4d4d4d" stroke="#4d4d4d">ACB</text>
<text x="310" y="541.5" font-size="5.1" fill="#4d4d4d" stroke="#4d4d4d">SI</text>
<text x="265.4" y="558.5" font-size="5.1" fill="#4d4d4d" stroke="#4d4d4d">OT</text>
<path transform="scale(.5)" d="M549 1043h2m0 1h2m0 0h2m0 0h2m-7 1h2m-1 0h2m0 0h2m0 0h2m-10 1h2m2 0h2m-1 0h2m0 0h2m0 0h2m-13 1h2m2 0h2m-1 0h2m4 0h2m-13 1h2m2 0h2m5 0h2m-14 1h2m-1 0h2m0 0h2m5 0h2m-12 1h2m0 0h2m1 0h2m1 0h2m-1 0h2m0 0h2m-1 0h2m-14 1h2m8 0h2m-13 1h2m2 0h2m0 0h2m-1 0h2m1 0h2m-1 0h2m1 0h2m-15 1h2m3 0h2m6 0h2m-13 1h2m-1 0h2m-1 0h2m2 0h2m-1 0h2m1 0h2m-1 0h2m-13 1h2m9 0h2m-1 0h2m-17 1h2m0 0h2m3 0h2m-1 0h2m3 0h2m-8 1h2m2 0h2m0 0h2m-1 0h2m-1 0h2m-15 1h2m-1 0h2m3 0h2m-1 0h2m3 0h2m-11 1h2m1 0h2m1 0h2m-1 0h2m-1 0h2m-1 0h2m0 0h2m-1 0h2m-14 1h2m0 0h2m-1 0h2m-1 0h2m-1 0h2m-1 0h2m-12 1h2m4 0h2m-1 0h2m3 0h2m1 0h2m-1 0h2m-18 1h2m-1 0h2m-1 0h2m4 0h2m3 0h2m0 0h2m-18 1h2m0 0h2m-1 0h2m-1 0h2m6 0h2m0 0h2m-1 0h2m-16 1h2m0 0h2m1 0h2m-1 0h2m1 0h2m0 0h2m-1 0h2m0 0h2m-14 1h2m-1 0h2m3 0h2m1 0h2m-1 0h2m2 0h2m-18 1h2m5 0h2m-1 0h2m2 0h2m-1 0h2m-1 0h2m-1 0h2m-15 1h2m-1 0h2m-1 0h2m1 0h2m6 0h2m-17 1h2m-1 0h2m0 0h2m0 0h2m3 0h2m0 0h2m0 0h2m-13 2h2m-1 0h2m-1 0h2m1 0h2m-1 0h2m3 0h2m-15 1h2m-1 0h2m-1 0h2m3 0h2m2 0h2m-9 1h2m0 0h2m-7 1h2m0 0h2m2 0h2m1 0h2m-8 1h2m0 0h2m-1 0h2m-1 0h2m1 0h2m-8 1h2m-1 0h2m0 0h2m-1 0h2m-9 1h2m2 0h2m-1 0h2m-1 0h2m-5 1h2m-1 0h2m-1 0h2" stroke="#e8174a" stroke-width="2" fill="none"/>
<path transform="scale(.5)" d="M564 1028h2m-1 0h2m1 0h2m2 0h2m1 0h2m0 0h2m-14 1h2m-1 0h2m0 0h2m3 0h2m-13 1h2m14 0h2m1 0h2m-22 1h2m4 0h2m3 0h2m0 0h2m5 0h2m-9 1h2m-7 1h2m-12 1h2m0 0h2m1 0h2m1 0h2m-1 0h2m15 0h2m-1 0h2m-19 1h2m9 0h2m-23 1h2m5 0h2m-1 0h2m1 0h2m16 0h2m-24 1h2m1 0h2m1 0h2m-16 1h2m-1 0h2m8 0h2m0 0h2m8 0h2m6 0h2m-29 1h2m22 0h2m1 0h2m-1 0h2m0 0h2m-32 1h2m-1 0h2m1 0h2m23 0h2m-1 0h2m-34 1h2m3 0h2m10 0h2m5 0h2m1 0h2m-23 1h2m3 0h2m0 0h2m20 0h2m-39 1h2m3 0h2m10 0h2m0 0h2m9 0h2m-27 1h2m10 0h2m-1 0h2m-1 0h2m4 0h2m3 0h2m1 0h2m-33 1h2m3 0h2m7 0h2m0 0h2m5 0h2m1 0h2m5 0h2m-37 1h2m3 0h2m11 0h2m-1 0h2m2 0h2m1 0h2m8 0h2m-37 1h2m-1 0h2m6 0h2m0 0h2m2 0h2m12 0h2m-26 1h2m-5 1h2m14 0h2m15 0h2m-16 1h2m3 0h2m-24 1h2m-1 0h2m21 0h2m0 0h2m-1 0h2m3 0h2m-38 1h2m17 0h2m15 0h2m-33 1h2m-1 0h2m21 0h2m0 0h2m0 0h2m-35 1h2m16 0h2m0 0h2m3 0h2m8 0h2m-38 1h2m2 0h2m20 0h2m4 0h2m2 0h2m-1 0h2m-36 1h2m20 0h2m-1 0h2m3 0h2m1 0h2m-34 1h2m-1 0h2m9 0h2m9 0h2m7 0h2m-36 1h2m28 0h2m-25 1h2m4 0h2m0 0h2m10 0h2m1 0h2m3 0h2m-34 1h2m2 0h2m17 0h2m-1 0h2m-21 1h2m5 0h2m1 0h2m4 0h2m0 0h2m-23 1h2m10 0h2m0 0h2m-1 0h2m-1 0h2m5 0h2m-11 1h2m18 0h2m-41 1h2m1 0h2m0 0h2m0 0h2m7 0h2m9 0h2m8 0h2m0 0h2m-29 1h2m-12 1h2m6 0h2m12 0h2m5 0h2m1 0h2m0 0h2m-14 1h2m-21 1h2m4 0h2m8 0h2m7 0h2m-30 1h2m18 0h2m12 0h2m-29 1h2m17 0h2m-27 1h2m1 0h2m0 0h2m3 0h2m12 0h2m0 0h2m-1 1h2m-30 1h2m7 1h2m14 0h2m1 0h2m-1 0h2m-32 1h2m0 0h2m12 0h2m9 0h2m-1 0h2m-29 1h2m4 0h2m-1 0h2m-1 0h2m3 0h2m-1 0h2m3 0h2m3 0h2m3 0h2m-1 0h2m-30 1h2m-1 0h2m6 0h2m8 0h2m-1 0h2m7 0h2m-34 1h2m1 0h2m1 0h2m3 0h2m15 0h2m-27 1h2m9 0h2m7 0h2m3 0h2m2 0h2m-27 1h2m3 0h2m6 1h2m1 0h2m-17 1h2m4 0h2m3 0h2m2 0h2m-1 0h2m-9 1h2m1 1h2m-10 1h2m1 0h2m-1 0h2m-1 0h2m2 0h2m-1 0h2m-9 2h2" stroke="#1fbf80" stroke-width="2" fill="none"/>
<line x1="270" y1="509" x2="279" y2="518" stroke="#1fbf80" stroke-width="0.5"/>
<line x1="268" y1="520" x2="274" y2="525" stroke="#e8174a" stroke-width="0.5"/>
<text x="265.4" y="509.1" font-size="5.2" fill="#231f20" stroke="#231f20" font-weight="bold">948</text>
<text x="262.4" y="520.4" font-size="5.2" fill="#231f20" stroke="#231f20" font-weight="bold">949</text>
<path d="M341.7 546.5C341.2 548.1 342.7 550.7 345.6 553.1C348.5 555.4 351.4 557.1 356.2 558.3C360.9 559.5 364.8 559.5 369.3 559C373.7 558.5 375.9 557.7 378.5 555.7C381.2 553.8 382.2 551.2 382.5 549.1C382.7 547 381.4 546.2 379.8 545.3C378.2 544.3 376.9 544.8 374.5 544.6C372.2 544.3 371.4 544 368 543.9C364.6 543.7 361.4 543.6 357.5 543.9C353.5 544.1 351.4 544.7 348.2 545.3C345.1 545.8 342.2 545 341.7 546.5Z" fill="#f4f4f4" stroke="#5a5a5a" stroke-width="0.45" stroke-linejoin="round"/>
<path d="M337.7 520.3C339.1 518 341.9 516.9 344.2 516.4C346.6 515.8 349 516.6 349.5 517.7C350.1 518.7 347.8 519.5 346.9 521.6C346 523.7 345.3 525 344.9 528.2C344.5 531.3 344.5 533.9 344.9 537.3C345.3 540.8 347.8 543.4 346.9 545.3C346 547.1 342.2 548.1 340.4 546.5C338.5 545 338.4 541 337.7 537.3C337 533.7 337 531.6 337 528.2C337 524.7 336.2 522.7 337.7 520.3Z" fill="#f4f4f4" stroke="#5a5a5a" stroke-width="0.45" stroke-linejoin="round"/>
<path d="M346.9 530.8C348.1 528.4 349.8 525.2 352.2 524.2C354.6 523.1 356.1 524.4 358.8 525.6C361.4 526.8 362.4 529.1 365.3 530.1C368.2 531.2 371.1 529.9 373.2 530.8C375.4 531.7 375.6 532.7 375.8 534.8C376.1 536.9 376.1 539.5 374.5 541.3C373 543.1 371.4 543.4 368 543.9C364.6 544.4 361.2 544.6 357.5 543.9C353.8 543.1 351.8 541.6 349.5 540C347.3 538.5 346.8 537.9 346.2 536.1C345.7 534.2 345.7 533.2 346.9 530.8Z" fill="#f4f4f4" stroke="#5a5a5a" stroke-width="0.45" stroke-linejoin="round"/>
<path d="M391 515.1C392.9 512.7 393.5 515.1 394.3 516.4C395.1 517.7 395.5 519.8 395 521.6C394.5 523.5 393.7 524.3 391.7 525.6C389.7 526.9 385.2 530.2 385.1 528.2C384.9 526.1 389.2 517.5 391 515.1Z" fill="#f4f4f4" stroke="#5a5a5a" stroke-width="0.45" stroke-linejoin="round"/>
<path d="M352.2 487.5C353.5 484.5 354.6 483.2 357.5 481.7C360.4 480.1 362.7 479.7 366.7 479.7C370.6 479.7 373.5 480.1 377.2 481.7C380.9 483.2 382.4 484.5 385.1 487.5C387.7 490.5 388.9 492.8 390.3 496.7C391.8 500.6 392.2 503.3 392.3 507.2C392.5 511.1 391.9 513.2 391 516.4C390.1 519.5 389.7 520.6 387.8 522.9C385.8 525.3 384.1 526.6 381.2 528.2C378.3 529.7 376.4 530.4 373.2 530.8C370.1 531.2 368.2 531.2 365.3 530.1C362.4 529.1 361.1 528.1 358.8 525.6C356.4 523.1 355.1 521.3 353.5 517.7C351.9 514 351.4 511.4 350.9 507.2C350.4 503 350.6 500.6 350.9 496.7C351.2 492.8 350.9 490.5 352.2 487.5Z" fill="#f4f4f4" stroke="#5a5a5a" stroke-width="0.45" stroke-linejoin="round"/>
<text x="371" y="492.6" font-size="5.1" fill="#4d4d4d" stroke="#4d4d4d">STRd</text>
<text x="337.8" y="513.7" font-size="5.1" fill="#4d4d4d" stroke="#4d4d4d">BST</text>
<text x="383.5" y="538.5" font-size="5.1" fill="#4d4d4d" stroke="#4d4d4d">ACB</text>
<text x="379.4" y="544.2" font-size="5.1" fill="#4d4d4d" stroke="#4d4d4d">SI</text>
<text x="338.3" y="557.8" font-size="5.1" fill="#4d4d4d" stroke="#4d4d4d">OT</text>
<path transform="scale(.5)" d="M715 1021h2m-1 2h2m-14 1h2m11 1h2m-3 1h2m-1 0h2m-13 2h2m0 0h2m0 0h2m4 0h2m-7 1h2m7 1h2m-14 1h2m-1 1h2m4 0h2m-13 1h2m-1 0h2m4 0h2m6 0h2m4 0h2m-19 1h2m4 0h2m-1 0h2m-1 0h2m4 0h2m2 0h2m-23 1h2m0 0h2m0 0h2m12 0h2m-15 1h2m9 2h2m3 0h2m-1 0h2m-23 1h2m3 0h2m10 0h2m-16 1h2m1 0h2m-1 0h2m-1 0h2m8 0h2m4 0h2m-26 1h2m1 0h2m1 1h2m12 0h2m-13 1h2m-1 0h2m12 0h2m-25 1h2m12 0h2m10 0h2m-20 1h2m9 0h2m-17 1h2m18 0h2m-22 1h2m18 0h2m-26 1h2m8 1h2m-1 1h2m4 0h2m-18 1h2m8 0h2m0 0h2m10 0h2m-22 1h2m-1 0h2m9 0h2m2 0h2m2 0h2m-1 0h2m-22 1h2m4 0h2m2 0h2m6 0h2m-17 1h2m1 0h2m4 0h2m5 0h2m0 0h2m-15 1h2m6 0h2m-23 1h2m5 0h2m9 0h2m0 0h2m-23 1h2m28 0h2m-27 1h2m2 0h2m2 0h2m15 0h2m-32 1h2m-1 0h2m8 0h2m5 0h2m0 0h2m8 0h2m-30 1h2m7 0h2m7 0h2m4 0h2m-25 1h2m-1 0h2m-1 0h2m0 0h2m18 0h2m-25 1h2m-1 0h2m12 0h2m2 0h2m1 0h2m-20 1h2m5 0h2m4 0h2m-16 1h2m3 0h2m-1 0h2m15 0h2m-1 0h2m-21 1h2m10 0h2m0 0h2m-24 1h2m2 1h2m-1 0h2m-1 0h2m5 0h2m3 0h2m3 0h2m5 0h2m-27 1h2m14 0h2m2 0h2m4 0h2m-16 1h2m5 0h2m0 0h2m-1 0h2m1 0h2m-17 1h2m2 0h2m-1 0h2m4 0h2m3 0h2m-30 1h2m-1 0h2m4 0h2m1 0h2m1 0h2m2 0h2m3 1h2m-1 0h2m-16 1h2m-1 0h2m6 0h2m-1 0h2m2 0h2m-1 0h2m-26 1h2m-1 0h2m10 0h2m3 0h2m3 0h2m-1 0h2m-13 1h2m-11 1h2m-1 0h2m3 0h2m5 0h2m0 0h2m-1 0h2m-1 0h2m1 0h2m-25 1h2m7 0h2m5 0h2m-16 1h2m16 1h2m-15 1h2m2 0h2m1 0h2m8 0h2m-22 1h2m17 0h2m-18 1h2m-5 1h2m0 0h2m8 0h2m3 0h2m-5 1h2m0 0h2" stroke="#1fbf80" stroke-width="2" fill="none"/>
<path transform="scale(.5)" d="M705 1106h2m2 0h2m-12 1h2m0 0h2m-5 2h2m4 0h2m-8 1h2m4 0h2m-9 1h2m5 0h2m-1 0h2m-1 0h2m6 0h2m-16 1h2m6 0h2m-6 1h2m1 0h2m-8 1h2" stroke="#1fbf80" stroke-width="2" fill="none"/>
<rect x="120.5" y="568.6" width="11.8" height="7.9" fill="#d6d6d6" rx="2.2"/>
<text x="126.4" y="574.8" font-size="6.3" fill="#231f20" stroke="#231f20" text-anchor="middle" font-weight="bold">272</text>
<path d="M123 625C123.3 626.9 124.5 632.1 126.9 635.9C129.4 639.7 131 641.5 135 644C139.1 646.6 142 647.8 147.1 648.9C152.2 650 156 650.2 160.6 649.5C165.1 648.8 167.6 647.6 169.9 645.4C172.1 643.2 171.9 641 171.9 638.6C171.9 636.1 172.1 634.8 169.9 633.1C167.6 631.5 163.8 630.5 160.6 630.5C157.3 630.5 157 632.3 153.8 633.1C150.6 633.9 148.5 634.7 144.5 634.5C140.5 634.2 137.5 633.4 133.7 631.8C130 630.2 127.8 627.7 125.6 626.4C123.5 625 122.7 623.1 123 625Z" fill="#f4f4f4" stroke="#5a5a5a" stroke-width="0.45" stroke-linejoin="round"/>
<path d="M129.7 607.2C130.9 604.5 131.6 604.2 133.7 603.2C135.9 602.3 137.7 602 140.4 602.5C143.1 603 144.9 603.8 147.1 605.9C149.2 607.9 149.3 610.2 151.1 612.7C153 615.1 154.6 616.2 156.5 618.1C158.4 620 159.8 620.3 160.6 622.2C161.4 624.2 161.9 625.5 160.6 627.7C159.2 629.9 157 631.8 153.8 633.1C150.6 634.5 148.2 634.7 144.5 634.5C140.7 634.2 138.1 633.4 135 631.8C131.9 630.2 130.5 629.4 129 626.4C127.5 623.4 127.5 620.6 127.7 616.8C127.8 613 128.5 609.9 129.7 607.2Z" fill="#f4f4f4" stroke="#5a5a5a" stroke-width="0.45" stroke-linejoin="round"/>
<path d="M177.3 597.8C180.1 594 179.5 596.9 180 599.1C180.5 601.3 180.7 605.4 180 608.7C179.3 611.9 178.7 613.4 176.7 615.5C174.6 617.5 172 618.3 169.9 618.8C167.7 619.4 164.4 622.3 165.9 618.1C167.4 613.9 174.5 601.6 177.3 597.8Z" fill="#f4f4f4" stroke="#5a5a5a" stroke-width="0.45" stroke-linejoin="round"/>
<path d="M137.7 571.8C139.4 569.2 140.5 569.4 143.8 568.4C147 567.5 149.6 566.9 153.8 567C157.9 567.1 160.7 567.6 164.5 569.1C168.3 570.6 170.1 571.8 172.6 574.5C175.2 577.2 175.9 578.9 177.3 582.7C178.6 586.6 179.3 589.5 179.3 593.6C179.3 597.7 178.3 599.9 177.3 603.2C176.2 606.5 175.4 607.6 173.9 610C172.4 612.4 172 613.8 169.9 615.5C167.7 617.1 166.1 617.6 163.2 618.1C160.3 618.7 157.9 618.9 155.2 618.1C152.5 617.3 151.7 616.3 149.8 614.1C147.9 611.9 147.9 609.7 145.8 607.2C143.6 604.8 141.1 604.8 139.1 601.8C137.1 598.8 136.5 596.4 135.7 592.3C134.8 588.2 134.6 585.5 135 581.4C135.5 577.3 135.9 574.4 137.7 571.8Z" fill="#f4f4f4" stroke="#5a5a5a" stroke-width="0.45" stroke-linejoin="round"/>
<text x="152.7" y="590" font-size="5.1" fill="#4d4d4d" stroke="#4d4d4d">STRd</text>
<text x="119.2" y="624" font-size="5.1" fill="#4d4d4d" stroke="#4d4d4d">PAL</text>
<text x="168" y="625" font-size="5.1" fill="#4d4d4d" stroke="#4d4d4d">CTXsp</text>
<text x="165.8" y="648" font-size="5.1" fill="#4d4d4d" stroke="#4d4d4d">STRv</text>
<path transform="scale(.5)" d="M270 1206h2m0 0h2m-9 1h2m-6 1h2m0 0h2m3 0h2m5 0h2m-17 1h2m-1 0h2m-1 0h2m0 0h2m0 0h2m1 0h2m-1 0h2m0 0h2m-12 1h2m-1 0h2m0 0h2m5 0h2m0 0h2m-1 0h2m-9 1h2m1 0h2m1 0h2m-13 1h2m3 0h2m0 0h2m-4 1h2m-1 0h2m4 0h2m1 0h2m-1 0h2m-22 1h2m6 0h2m-1 0h2m2 0h2m0 0h2m-14 1h2m3 0h2m4 0h2m-16 1h2m-1 0h2m0 0h2m1 0h2m4 0h2m5 0h2m-21 1h2m1 0h2m4 0h2m1 0h2m3 0h2m-19 1h2m3 0h2m0 0h2m9 0h2m-10 1h2m3 0h2m-17 1h2m5 0h2m7 0h2m-12 2h2m-1 0h2m1 0h2m2 0h2m-1 0h2m-16 1h2m6 0h2m5 0h2m-16 1h2m4 0h2m1 0h2m-12 1h2m5 0h2m0 0h2m-1 1h2m-1 0h2m-13 1h2m1 0h2m-1 0h2m0 0h2m0 0h2m-9 1h2m2 0h2m-1 0h2m1 0h2m1 0h2m-13 1h2m-1 0h2m5 0h2m-1 0h2m1 0h2m2 0h2m-18 1h2m2 0h2m1 0h2m-1 0h2m2 0h2m2 0h2m-16 1h2m9 0h2m0 0h2m-1 0h2m-19 1h2m3 0h2m-1 0h2m0 0h2m-10 1h2m0 0h2m3 0h2m1 0h2m-11 1h2m1 0h2m1 0h2m3 0h2m-1 0h2m0 0h2m0 0h2m-1 0h2m-12 1h2m3 0h2m3 0h2m-18 1h2m-1 0h2m-1 0h2m4 0h2m1 0h2m0 0h2m0 0h2m-16 1h2m-1 0h2m-1 0h2m-1 0h2m6 0h2m0 0h2m-14 1h2m1 0h2m6 0h2m-1 0h2m1 0h2m-11 1h2m0 0h2m2 0h2m0 0h2m-12 1h2m1 0h2m3 0h2m0 0h2m-9 1h2m4 0h2m-7 1h2m-1 0h2m3 0h2m-5 1h2m0 0h2m-6 2h2m0 0h2" stroke="#f5841f" stroke-width="2" fill="none"/>
<path transform="scale(.5)" d="M284 1199h2m7 0h2m-16 1h2m11 0h2m-11 1h2m0 0h2m3 0h2m0 0h2m-13 1h2m1 0h2m2 0h2m-1 0h2m4 0h2m-1 0h2m-21 1h2m10 0h2m2 0h2m2 0h2m0 0h2m-24 1h2m1 0h2m2 0h2m-1 0h2m0 0h2m0 0h2m7 0h2m-1 0h2m0 0h2m-22 1h2m2 0h2m4 0h2m-1 0h2m-17 1h2m1 0h2m8 0h2m3 0h2m0 0h2m2 0h2m1 0h2m-28 1h2m0 0h2m2 0h2m1 0h2m3 0h2m-1 0h2m8 0h2m2 0h2m-28 1h2m13 0h2m1 0h2m4 0h2m-1 0h2m-28 1h2m0 0h2m-1 0h2m7 0h2m1 0h2m8 0h2m0 0h2m-22 1h2m3 0h2m4 0h2m-1 0h2m-17 1h2m5 0h2m8 0h2m3 0h2m-17 1h2m12 0h2m-1 0h2m2 0h2m-25 1h2m15 0h2m0 0h2m-1 0h2m-1 0h2m-1 0h2m-26 1h2m2 0h2m0 0h2m0 0h2m5 0h2m-16 1h2m4 0h2m8 0h2m2 0h2m-15 1h2m3 0h2m11 0h2m-1 0h2m-31 1h2m14 0h2m-1 0h2m4 0h2m4 0h2m-34 1h2m1 0h2m0 0h2m0 0h2m9 0h2m-1 0h2m10 0h2m-1 0h2m-1 0h2m-34 1h2m-1 0h2m15 0h2m3 0h2m6 0h2m-34 1h2m22 0h2m2 0h2m0 0h2m2 0h2m-9 1h2m0 0h2m3 0h2m-18 1h2m5 0h2m5 0h2m-31 1h2m-1 0h2m-1 0h2m0 0h2m6 0h2m6 0h2m3 0h2m4 0h2m-32 1h2m1 0h2m7 0h2m11 0h2m-24 1h2m8 0h2m0 0h2m3 0h2m-1 0h2m3 0h2m-20 1h2m6 0h2m6 0h2m-1 0h2m3 0h2m-30 1h2m2 0h2m9 0h2m0 0h2m-1 0h2m0 0h2m-1 0h2m0 0h2m1 0h2m-1 0h2m-28 1h2m6 0h2m0 0h2m-12 1h2m6 0h2m-1 0h2m1 0h2m2 0h2m0 0h2m-1 0h2m2 0h2m-1 0h2m-25 1h2m1 0h2m0 0h2m0 0h2m13 0h2m-12 1h2m-1 0h2m0 0h2m-1 0h2m1 0h2m0 0h2m-18 1h2m7 0h2m0 0h2m0 0h2m-17 1h2m1 0h2m-1 0h2m8 0h2m-1 0h2m0 0h2m-1 0h2m-10 1h2m0 0h2m-13 1h2m6 0h2m-1 0h2m4 0h2m0 0h2m-9 1h2m2 0h2m1 0h2m-14 1h2m0 0h2m-1 0h2m1 0h2m1 0h2m1 0h2m-10 1h2" stroke="#1fbf80" stroke-width="2" fill="none"/>
<path transform="scale(.5)" d="M284 1232h2m-1 0h2m-1 0h2m1 0h2m-1 1h2m-11 1h2m-1 0h2m-1 0h2m-1 0h2m0 0h2m-1 0h2m1 0h2m-1 0h2m-11 1h2m5 0h2m3 0h2m-16 1h2m1 0h2m0 0h2m1 0h2m-1 0h2m-1 0h2m0 0h2m0 0h2m-13 1h2m-1 0h2m0 0h2m-1 0h2m-1 0h2m2 0h2m-1 0h2m-16 1h2m0 0h2m-1 0h2m2 0h2m-1 0h2m-1 0h2m-1 0h2m-1 0h2m1 0h2m-13 1h2m0 0h2m0 0h2m1 0h2m0 0h2m0 0h2m-1 0h2m-13 1h2m0 0h2m0 0h2m-1 0h2m-1 0h2m-1 0h2m-1 0h2m-1 0h2m-1 0h2m-1 0h2m-15 1h2m-1 0h2m2 0h2m3 0h2m0 0h2m-12 1h2m-1 0h2m1 0h2m0 0h2m2 0h2m-9 1h2m0 0h2m2 0h2m-1 0h2m-11 1h2m-1 0h2m1 0h2m-1 0h2m1 0h2m-8 1h2" stroke="#e8174a" stroke-width="2" fill="none"/>
<path transform="scale(.5)" d="M287 1248h2m-8 1h2m1 0h2m-1 0h2m-9 1h2m-1 0h2m0 0h2m1 0h2m-1 0h2m5 0h2m-17 1h2m2 0h2m6 0h2m-11 1h2m1 0h2m2 0h2m5 0h2m-21 1h2m-1 0h2m-1 0h2m1 0h2m3 0h2m-8 2h2m3 0h2m5 0h2m-11 1h2" stroke="#1fbf80" stroke-width="2" fill="none"/>
<line x1="130" y1="594" x2="134" y2="604" stroke="#f5841f" stroke-width="0.5"/>
<line x1="182.5" y1="600" x2="158" y2="611" stroke="#1fbf80" stroke-width="0.5"/>
<line x1="124" y1="641" x2="142" y2="620" stroke="#e8174a" stroke-width="0.5"/>
<text x="125.3" y="594" font-size="5.2" fill="#231f20" stroke="#231f20" font-weight="bold">963</text>
<text x="182.3" y="602.7" font-size="5.2" fill="#231f20" stroke="#231f20" font-weight="bold">961</text>
<text x="119.9" y="645.4" font-size="5.2" fill="#231f20" stroke="#231f20" font-weight="bold">962</text>
<path d="M198.2 636.6C197.7 638.2 199.3 640.8 202.2 643.2C205.1 645.6 208.1 647.3 212.8 648.5C217.6 649.7 221.5 649.7 226.1 649.2C230.6 648.7 232.7 647.9 235.4 645.9C238 643.9 239.1 641.3 239.4 639.2C239.6 637.1 238.3 636.3 236.7 635.3C235.1 634.4 233.7 634.9 231.4 634.6C229 634.4 228.2 634.1 224.8 633.9C221.3 633.8 218.1 633.7 214.1 633.9C210.1 634.2 208 634.8 204.8 635.3C201.6 635.9 198.7 635.1 198.2 636.6Z" fill="#f4f4f4" stroke="#5a5a5a" stroke-width="0.45" stroke-linejoin="round"/>
<path d="M194.2 610.2C195.7 607.8 198.4 606.7 200.8 606.2C203.2 605.7 205.6 606.4 206.1 607.5C206.7 608.6 204.4 609.4 203.5 611.5C202.6 613.6 201.9 614.9 201.5 618.1C201.1 621.2 201.1 623.9 201.5 627.4C201.9 630.8 204.4 633.5 203.5 635.3C202.6 637.2 198.8 638.2 196.9 636.6C195 635 194.9 631.1 194.2 627.4C193.5 623.6 193.5 621.5 193.5 618.1C193.5 614.6 192.7 612.6 194.2 610.2Z" fill="#f4f4f4" stroke="#5a5a5a" stroke-width="0.45" stroke-linejoin="round"/>
<path d="M203.5 620.8C204.7 618.4 206.4 615.1 208.8 614.1C211.2 613 212.8 614.3 215.4 615.5C218.1 616.7 219.1 619 222 620.1C225 621.1 227.9 619.8 230.1 620.8C232.2 621.7 232.4 622.6 232.7 624.8C232.9 626.9 232.9 629.5 231.4 631.3C229.8 633.2 228.2 633.4 224.8 633.9C221.3 634.5 217.9 634.7 214.1 633.9C210.4 633.2 208.4 631.6 206.1 630C203.9 628.5 203.3 627.9 202.8 626.1C202.3 624.2 202.3 623.2 203.5 620.8Z" fill="#f4f4f4" stroke="#5a5a5a" stroke-width="0.45" stroke-linejoin="round"/>
<path d="M248 604.9C249.9 602.5 250.5 604.9 251.3 606.2C252.1 607.5 252.5 609.6 252 611.5C251.5 613.3 250.7 614.2 248.7 615.5C246.7 616.8 242.1 620.2 242 618.1C241.8 616 246.1 607.3 248 604.9Z" fill="#f4f4f4" stroke="#5a5a5a" stroke-width="0.45" stroke-linejoin="round"/>
<path d="M208.8 577.1C210.1 574 211.2 572.8 214.1 571.2C217.1 569.6 219.5 569.2 223.5 569.2C227.4 569.2 230.4 569.6 234.1 571.2C237.8 572.8 239.3 574 242 577.1C244.6 580.1 245.8 582.4 247.3 586.4C248.8 590.3 249.2 593 249.3 596.9C249.4 600.9 248.9 603 248 606.2C247.1 609.4 246.7 610.4 244.7 612.8C242.7 615.2 241 616.5 238.1 618.1C235.2 619.7 233.3 620.4 230.1 620.8C226.9 621.2 225 621.1 222 620.1C219.1 619 217.8 618 215.4 615.5C213.1 613 211.7 611.2 210.1 607.5C208.5 603.8 208 601.2 207.5 596.9C207 592.7 207.3 590.3 207.5 586.4C207.8 582.4 207.5 580.1 208.8 577.1Z" fill="#f4f4f4" stroke="#5a5a5a" stroke-width="0.45" stroke-linejoin="round"/>
<text x="229.3" y="586.7" font-size="5.1" fill="#4d4d4d" stroke="#4d4d4d">STRd</text>
<text x="193.2" y="608.6" font-size="5.1" fill="#4d4d4d" stroke="#4d4d4d">STR</text>
<text x="234.8" y="630.5" font-size="5.1" fill="#4d4d4d" stroke="#4d4d4d">PAL</text>
<text x="191" y="647" font-size="5.1" fill="#4d4d4d" stroke="#4d4d4d">STRv</text>
<path transform="scale(.5)" d="M418 1190h2m-3 1h2m-3 1h2m7 0h2m-9 1h2m-1 2h2m3 0h2m-1 0h2m1 0h2m-5 1h2m-8 1h2m5 0h2m-1 0h2m-1 0h2m-7 2h2m3 0h2m-1 0h2m-1 0h2m-14 1h2m0 1h2m-1 0h2m-1 0h2m4 0h2m-10 1h2m-1 0h2m2 0h2m-1 0h2m-1 0h2m-8 1h2m1 0h2m-1 0h2m-1 0h2m3 0h2m-15 1h2m5 0h2m-1 0h2m2 0h2m0 0h2m-1 0h2m-16 1h2m1 0h2m0 0h2m-1 0h2m0 0h2m3 0h2m0 0h2m-10 1h2m-6 1h2m-1 0h2m11 0h2m-19 1h2m-1 0h2m1 0h2m0 0h2m6 0h2m-12 1h2m0 0h2m0 0h2m0 0h2m-12 1h2m1 0h2m-1 0h2m0 0h2m2 0h2m3 0h2m-16 1h2m5 0h2m-1 0h2m1 0h2m-1 0h2m-15 1h2m1 0h2m1 0h2m1 0h2m0 0h2m0 0h2m-1 0h2m-14 1h2m0 0h2m-1 0h2m7 0h2m0 0h2m-13 1h2m6 0h2m2 0h2m1 0h2m-1 0h2m-10 1h2m1 0h2m-1 0h2m1 0h2m-18 1h2m5 0h2m-1 0h2m-1 0h2m0 0h2m-1 0h2m0 0h2m-17 1h2m6 0h2m2 0h2m1 0h2m-18 1h2m1 0h2m0 0h2m3 0h2m2 0h2m0 0h2m-1 0h2m-5 1h2m-1 0h2m-1 0h2m1 0h2m-1 0h2m-22 1h2m2 0h2m4 0h2m0 0h2m-12 1h2m-1 0h2m4 0h2m4 0h2m2 0h2m-1 0h2m-20 1h2m-1 0h2m-1 0h2m2 0h2m1 0h2m7 0h2m-20 1h2m-1 0h2m-1 0h2m7 0h2m0 0h2m3 0h2m-1 0h2m-14 1h2m2 0h2m-8 1h2m-1 0h2m1 0h2m-1 0h2m0 0h2m6 0h2m0 0h2m-20 1h2m-1 0h2m0 0h2m14 0h2m1 0h2m-24 1h2m1 0h2m3 0h2m3 0h2m0 0h2m-1 0h2m1 0h2m-16 1h2m3 0h2m7 0h2m1 0h2m-21 1h2m-1 0h2m2 0h2m-1 0h2m3 0h2m1 0h2m3 0h2m-22 1h2m11 0h2m1 0h2m1 0h2m-3 1h2m0 0h2m-9 1h2m2 0h2m-17 1h2m11 0h2m0 0h2m0 0h2m-18 1h2m-1 0h2m4 1h2m7 0h2m-16 2h2m0 0h2m0 0h2m4 0h2m-8 1h2m2 0h2m-1 1h2m-1 0h2m0 0h2m-6 1h2m1 0h2" stroke="#1fbf80" stroke-width="2" fill="none"/>
<path transform="scale(.5)" d="M415 1234h2m0 0h2m0 0h2m-11 1h2m1 0h2m-1 0h2m-1 0h2m3 0h2m-1 0h2m-13 1h2m0 0h2m0 0h2m-1 0h2m1 0h2m-1 0h2m1 0h2m-13 1h2m3 0h2m0 0h2m-1 0h2m3 0h2m-14 1h2m0 0h2m0 0h2m-1 0h2m0 0h2m0 0h2m-12 1h2m-1 0h2m2 0h2m-1 0h2m0 0h2m0 0h2m0 0h2m-1 0h2m-1 0h2m-1 0h2m0 0h2m-17 1h2m0 0h2m-1 0h2m0 0h2m3 0h2m1 0h2m-1 0h2m-1 0h2m-20 1h2m-1 0h2m0 0h2m0 0h2m2 0h2m2 0h2m2 0h2m-1 0h2m-17 1h2m1 0h2m0 0h2m0 0h2m-1 0h2m5 0h2m-13 1h2m0 0h2m-1 0h2m-1 0h2m0 0h2m0 0h2m-1 0h2m-1 0h2m-1 0h2m-1 0h2m-15 1h2m0 0h2m-1 0h2m-1 0h2m1 0h2m0 0h2m-10 1h2m3 0h2m0 0h2m-3 1h2" stroke="#e8174a" stroke-width="2" fill="none"/>
<rect x="259.5" y="568" width="13.1" height="8.5" fill="#d6d6d6" rx="2.2"/>
<text x="266.1" y="574.8" font-size="6.3" fill="#231f20" stroke="#231f20" text-anchor="middle" font-weight="bold">269</text>
<path d="M272.5 644.5C273.6 644.1 275.8 645.6 279.4 645.9C283 646.1 287.5 645.3 290.4 645.9C293.2 646.4 293.5 647.6 293.8 648.5C294 649.4 294.6 650.2 291.7 650.5C288.8 650.8 283 650.6 279.4 650.1C275.9 649.6 275.3 648.9 273.9 647.8C272.6 646.7 271.4 644.8 272.5 644.5Z" fill="#f4f4f4" stroke="#5a5a5a" stroke-width="0.45" stroke-linejoin="round"/>
<path d="M291.7 632.5C293.9 631.7 296.9 632.8 298.5 633.8C300.2 634.7 300.2 635.5 300 637.1C299.7 638.7 298.6 640.4 297.2 641.8C295.8 643.3 296.1 644.2 293 644.5C290 644.7 283.2 644.5 282.1 643.1C281 641.8 285.7 639.9 287.6 637.8C289.5 635.7 289.5 633.3 291.7 632.5Z" fill="#f4f4f4" stroke="#5a5a5a" stroke-width="0.45" stroke-linejoin="round"/>
<path d="M325.3 609.8C326.7 609 326.7 613.8 326 616.4C325.3 619.1 324.3 620.4 321.9 623.1C319.4 625.8 316.9 627.3 313.6 629.7C310.3 632.1 308.2 633.6 305.4 635.1C302.7 636.6 301.4 637.4 300 637.1C298.6 636.8 297.4 635.2 298.5 633.8C299.6 632.3 302.7 631.3 305.4 629.7C308.2 628.2 309.5 627.7 312.3 625.8C315 624 316.5 623.7 319.1 620.5C321.7 617.3 323.9 610.6 325.3 609.8Z" fill="#f4f4f4" stroke="#5a5a5a" stroke-width="0.45" stroke-linejoin="round"/>
<path d="M294.5 605.8C296.3 605 299.7 608.3 301.2 611C302.8 613.7 301.2 616.1 302.2 619.1C303.3 622 307.1 622.7 306.4 625.6C305.6 628.6 301.5 632.4 298.5 633.8C295.6 635.1 293.1 634.6 291.7 632.5C290.3 630.3 291.6 626.6 291.7 623.1C291.9 619.6 291.9 618.5 292.4 615C293 611.6 292.7 606.6 294.5 605.8Z" fill="#f4f4f4" stroke="#5a5a5a" stroke-width="0.45" stroke-linejoin="round"/>
<path d="M260.2 617.8C260.7 615.1 263.2 610.8 265.7 608.4C268.1 605.9 269.5 605.8 272.5 605.5C275.5 605.1 278.9 604.9 280.5 606.5C282.2 608.1 281.6 611.3 280.5 613.5C279.5 615.7 277.5 615.9 275.4 617.6C273.2 619.2 272.3 620.9 269.8 621.8C267.3 622.6 264.9 622.6 263 621.8C261.1 621 259.7 620.4 260.2 617.8Z" fill="#f4f4f4" stroke="#5a5a5a" stroke-width="0.45" stroke-linejoin="round"/>
<path d="M291.7 596.4C293.4 596.1 295.3 595.8 295.8 597.7C296.4 599.6 295.2 602.3 294.5 605.8C293.8 609.2 293 611.6 292.4 615C291.9 618.5 291.9 619.6 291.7 623.1C291.6 626.6 292.5 629.5 291.7 632.5C290.9 635.4 289.8 635.9 287.6 637.8C285.4 639.7 283.8 640.5 280.8 641.8C277.7 643.2 275.2 644.2 272.5 644.5C269.7 644.7 268.4 644.5 267 643.1C265.7 641.8 265.1 639.7 265.7 637.8C266.2 635.9 267.6 635.9 269.8 633.8C272 631.6 275 630.1 276.6 627.1C278.3 624.2 277.4 622.5 278 619.1C278.5 615.6 278.3 612.7 279.4 609.8C280.5 606.9 281.8 606.6 283.4 604.5C285.1 602.3 285.9 600.6 287.6 599C289.2 597.4 290.1 596.7 291.7 596.4Z" fill="#f4f4f4" stroke="#5a5a5a" stroke-width="0.45" stroke-linejoin="round"/>
<path d="M287.6 577.7C288.7 575.8 289.5 573.9 291.7 572.3C293.9 570.7 295.5 570.1 298.5 569.7C301.5 569.3 303.5 569.2 306.8 570.3C310.1 571.4 311.9 572.2 314.9 575C318 577.9 319.8 580.1 321.9 584.4C323.9 588.7 324.6 591.6 325.3 596.4C326 601.2 325.8 604.4 325.3 608.4C324.7 612.4 324.3 613.8 322.5 616.4C320.7 619.1 319 620.1 316.4 621.8C313.8 623.5 312 624.6 309.5 625.1C307 625.6 305.6 625.6 304 624.4C302.4 623.2 302 622.3 301.3 619.1C300.6 615.9 301.1 612.4 300.6 608.4C300 604.4 299.7 602 298.5 599C297.3 596.1 296.1 595.5 294.5 593.7C292.9 591.8 291.7 591.1 290.4 589.7C289 588.4 288.4 588.6 287.6 587C286.7 585.4 286.2 583.6 286.2 581.7C286.2 579.8 286.5 579.5 287.6 577.7Z" fill="#f4f4f4" stroke="#5a5a5a" stroke-width="0.45" stroke-linejoin="round"/>
<text x="294.1" y="585.6" font-size="5.1" fill="#4d4d4d" stroke="#4d4d4d">STRd</text>
<text x="280.5" y="625.2" font-size="5.1" fill="#4d4d4d" stroke="#4d4d4d">PAL</text>
<text x="311.1" y="634.2" font-size="5.1" fill="#4d4d4d" stroke="#4d4d4d">CTXsp</text>
<text x="298.7" y="645.5" font-size="5.1" fill="#4d4d4d" stroke="#4d4d4d">sAMY</text>
<text x="295.3" y="651.2" font-size="5.1" fill="#4d4d4d" stroke="#4d4d4d">STRv</text>
<path transform="scale(.5)" d="M599 1237h2m1 0h2m-8 1h2m0 0h2m-1 0h2m0 0h2m-1 0h2m-1 0h2m-7 1h2m0 0h2m1 0h2m-1 0h2m-1 0h2m-1 0h2m0 0h2m-12 1h2m1 0h2m0 0h2m0 0h2m-1 0h2m-14 1h2m0 0h2m1 0h2m0 0h2m-1 0h2m-1 0h2m2 0h2m-1 0h2m-1 0h2m-14 1h2m-1 0h2m1 0h2m1 0h2m1 0h2m-15 1h2m1 0h2m-1 0h2m6 0h2m1 0h2m-17 1h2m-1 0h2m-1 0h2m-1 0h2m0 0h2m0 0h2m-1 0h2m1 0h2m-1 0h2m0 0h2m-1 0h2m-16 1h2m-1 0h2m-1 0h2m5 0h2m0 0h2m0 0h2m-17 1h2m4 0h2m0 0h2m-1 0h2m-1 0h2m0 0h2m0 0h2m-1 0h2m-16 1h2m0 0h2m2 0h2m2 0h2m-1 0h2m0 0h2m-1 0h2m-15 1h2m1 0h2m1 0h2m1 0h2m0 0h2m0 0h2m-15 1h2m-1 0h2m-1 0h2m-1 0h2m2 0h2m3 0h2m-12 1h2m-1 0h2m2 0h2m-1 0h2m-1 0h2" stroke="#f5841f" stroke-width="2" fill="none"/>
<line x1="289" y1="602" x2="299" y2="619" stroke="#f5841f" stroke-width="0.5"/>
<line x1="273" y1="632.5" x2="305" y2="627.5" stroke="#e8174a" stroke-width="0.5"/>
<text x="276.7" y="602.5" font-size="5.2" fill="#231f20" stroke="#231f20" font-weight="bold">957</text>
<text x="262.4" y="634.7" font-size="5.2" fill="#231f20" stroke="#231f20" font-weight="bold">956</text>
<rect x="335.5" y="568" width="12.3" height="8.5" fill="#d6d6d6" rx="2.2"/>
<text x="341.6" y="574.8" font-size="6.3" fill="#231f20" stroke="#231f20" text-anchor="middle" font-weight="bold">271</text>
<path d="M384.8 567.4C385.9 568.1 386.7 568.8 388.3 571.5C389.8 574.2 391.7 577.3 392.6 581.1C393.4 585 393 587.4 392.6 590.7C392.1 594 390.2 594.8 390.5 597.6C390.7 600.3 392.8 600.9 393.9 604.5C395 608.1 396 611.1 396 615.5C396 619.9 395.7 622 393.9 626.4C392.1 630.8 390.3 633.6 386.9 637.5C383.6 641.3 381 643.5 377.1 645.6C373.2 647.8 370.9 648.3 367.3 648C363.6 647.7 361.2 645.7 358.9 644.3C356.7 642.9 357 640.8 356.1 641C355.3 641.3 355.8 644.3 354.6 645.6C353.5 647 353 647.7 350.5 647.7C348 647.7 344.7 647.4 342.1 645.6C339.5 643.9 338.3 641.5 337.4 639C336.5 636.5 337.2 634.9 337.6 633.3C338 631.6 337.9 632 339.3 630.6C340.7 629.2 341.8 628.9 344.8 626.4C347.9 623.9 350.4 622.1 354.6 618.2C358.9 614.4 362.6 610 365.9 607.3C369.3 604.5 369.8 605.9 371.5 604.5C373.1 603.1 372.9 603.1 374.3 600.3C375.7 597.6 377 595.4 378.6 590.7C380.1 586.1 381.2 581.5 382 577C382.8 572.5 382.2 570 382.7 568.1C383.3 566.2 383.7 566.7 384.8 567.4Z" fill="#f4f4f4" stroke="#5a5a5a" stroke-width="0.45" stroke-linejoin="round"/>
<path d="M371.5 604.5C373.6 604.8 380.9 607 384.1 605.9C387.3 604.7 389.4 599 390.5 597.6" fill="none" stroke="#5a5a5a" stroke-width="0.45" stroke-linecap="round" stroke-linejoin="round"/>
<path d="M367.3 609.3C368.7 610.1 372.9 614.7 375.7 614.1C378.5 613.6 382.7 607.2 384.1 605.9" fill="none" stroke="#5a5a5a" stroke-width="0.45" stroke-linecap="round" stroke-linejoin="round"/>
<path d="M375.7 614.1C373.9 615.7 367.6 620.7 364.5 623.7C361.3 626.6 358.4 629.2 356.8 631.9C355.3 634.7 355.5 638.4 355.4 640.1C355.3 641.8 356 641.7 356.1 642.1" fill="none" stroke="#5a5a5a" stroke-width="0.45" stroke-linecap="round" stroke-linejoin="round"/>
<text x="365.4" y="580.3" font-size="5.1" fill="#4d4d4d" stroke="#4d4d4d">STRd</text>
<text x="359.8" y="604.3" font-size="5.1" fill="#4d4d4d" stroke="#4d4d4d">STR</text>
<text x="338.3" y="617.2" font-size="5.1" fill="#4d4d4d" stroke="#4d4d4d">sAMY</text>
<text x="380.1" y="644.4" font-size="5.1" fill="#4d4d4d" stroke="#4d4d4d">CTXsp</text>
<path transform="scale(.5)" d="M775 1141h2m-5 3h2m0 0h2m0 0h2m-6 1h2m-3 1h2m1 0h2m-4 2h2m0 0h2m0 0h2m-1 1h2m-11 1h2m0 0h2m1 0h2m4 0h2m-11 1h2m2 0h2m-1 0h2m-7 1h2m1 0h2m2 0h2m-12 1h2m3 0h2m0 1h2m4 0h2m-16 1h2m2 0h2m-1 0h2m-1 0h2m-1 0h2m-1 0h2m-1 0h2m3 0h2m-15 1h2m8 0h2m-9 1h2m8 0h2m-19 1h2m2 0h2m-1 0h2m1 0h2m-1 0h2m-9 1h2m2 0h2m0 0h2m-10 1h2m0 0h2m2 0h2m-1 1h2m-1 0h2m4 0h2m-15 1h2m0 0h2m2 0h2m1 0h2m4 0h2m-16 1h2m12 0h2m-21 1h2m-1 0h2m0 1h2m11 0h2m0 0h2m-18 1h2m-1 0h2m5 0h2m0 0h2m0 0h2m1 0h2m-19 1h2m-1 0h2m-1 0h2m1 0h2m2 0h2m-1 0h2m-9 1h2m4 0h2m0 0h2m-13 1h2m8 0h2m-1 1h2m4 0h2m0 0h2m-24 1h2m9 0h2m4 0h2m1 0h2m-21 1h2m8 0h2m0 0h2m9 0h2m-21 1h2m0 0h2m0 0h2m0 0h2m0 0h2m-1 0h2m2 0h2m0 0h2m1 0h2m-1 0h2m-28 1h2m-1 0h2m0 0h2m6 0h2m1 0h2m-13 1h2m5 0h2m5 0h2m0 0h2m-1 0h2m0 0h2m0 0h2m-24 1h2m10 0h2m1 0h2m-18 1h2m-1 0h2m4 0h2m0 0h2m5 0h2m5 0h2m-27 1h2m15 0h2m8 0h2m-25 1h2m-5 1h2m9 0h2m-1 0h2m-15 1h2m0 0h2m4 0h2m-7 1h2m0 0h2m-9 1h2m1 0h2m22 0h2m-17 1h2m-1 0h2m8 0h2m0 0h2m-28 1h2m3 0h2m0 0h2m-1 0h2m-10 1h2m1 0h2m5 0h2m-6 1h2m0 0h2m10 0h2m2 0h2m-22 1h2m9 0h2m0 0h2m0 0h2m1 0h2m1 0h2m-1 0h2m-1 0h2m-29 1h2m2 0h2m-1 0h2m-1 0h2m0 0h2m7 0h2m3 0h2m-16 1h2m-1 0h2m13 0h2m0 0h2m-23 1h2m6 0h2m0 0h2m-1 0h2m4 0h2m0 0h2m-1 0h2m-28 1h2m2 0h2m8 0h2m4 0h2m2 0h2m2 0h2m-14 1h2m-1 0h2m3 0h2m1 0h2m-26 1h2m2 0h2m9 0h2m-1 0h2m4 0h2m-1 0h2m-24 1h2m0 0h2m0 0h2m-1 0h2m13 0h2m1 0h2m-26 1h2m2 0h2m0 0h2m8 0h2m-22 1h2m-1 0h2m0 0h2m0 0h2m1 0h2m-1 0h2m9 0h2m3 0h2m0 0h2m1 0h2m-29 1h2m1 0h2m3 0h2m1 0h2m-1 0h2m3 0h2m2 0h2m-25 1h2m6 0h2m14 0h2m-11 1h2m5 0h2m0 0h2m-25 1h2m0 0h2m5 0h2m5 0h2m8 0h2m-26 1h2m-1 0h2m0 0h2m0 0h2m1 0h2m-7 1h2m4 0h2m-1 0h2m0 0h2m10 0h2m-20 1h2m9 0h2m0 0h2m-18 1h2m4 0h2m1 0h2m-2 1h2m-1 0h2m2 0h2m3 0h2m-24 1h2m0 0h2m14 0h2m-1 0h2m-1 0h2m-6 1h2m-6 1h2m2 0h2m-17 1h2m0 0h2m3 0h2m0 0h2m-6 1h2m0 0h2m0 0h2m-12 1h2m3 0h2m1 0h2m3 1h2" stroke="#1fbf80" stroke-width="2" fill="none"/>
<line x1="368.5" y1="595" x2="375" y2="596" stroke="#1fbf80" stroke-width="0.5"/>
<text x="358.6" y="597.3" font-size="5.2" fill="#231f20" stroke="#231f20" font-weight="bold">960</text>
<text x="401.2" y="201.3" font-size="10.3" fill="#000" stroke="#000" font-weight="bold">i</text>
<rect x="411.5" y="195.6" width="5.7" height="5.7" fill="#f27b0f"/>
<text x="420.7" y="200.9" font-size="6.6" fill="#231f20" stroke="#231f20">62: STR D2 Gaba</text>
<path d="M402.7 204.4L609.6 204.4L609.6 294.4L684.5 294.4L684.5 653.8L402.7 653.8L402.7 204.4" fill="none" stroke="#9d9d9d" stroke-width="0.7" stroke-linecap="butt" stroke-linejoin="round"/>
<line x1="402.7" y1="293.2" x2="609.6" y2="293.2" stroke="#a8a8a8" stroke-width="0.6" stroke-dasharray="0.8 1.2"/>
<line x1="608.8" y1="294.4" x2="608.8" y2="383.3" stroke="#a8a8a8" stroke-width="0.6" stroke-dasharray="0.8 1.2"/>
<line x1="402.7" y1="383.3" x2="684.5" y2="383.3" stroke="#a8a8a8" stroke-width="0.6" stroke-dasharray="0.8 1.2"/>
<line x1="402.7" y1="473.3" x2="684.5" y2="473.3" stroke="#a8a8a8" stroke-width="0.6" stroke-dasharray="0.8 1.2"/>
<line x1="474.5" y1="473.3" x2="474.5" y2="653.8" stroke="#a8a8a8" stroke-width="0.6" stroke-dasharray="0.8 1.2"/>
<line x1="474.5" y1="564.9" x2="684.5" y2="564.9" stroke="#a8a8a8" stroke-width="0.6" stroke-dasharray="0.8 1.2"/>
<rect x="404.3" y="207.5" width="12.3" height="7.7" fill="#d6d6d6" rx="2.2"/>
<text x="410.5" y="213.5" font-size="6.3" fill="#231f20" stroke="#231f20" text-anchor="middle" font-weight="bold">277</text>
<path d="M409.4 265C409.7 266.8 411 272 413.4 275.8C415.9 279.5 417.6 281.2 421.7 283.8C425.8 286.4 428.8 287.5 434 288.6C439.2 289.7 443 289.9 447.7 289.2C452.3 288.5 454.9 287.3 457.2 285.1C459.5 283 459.2 280.8 459.2 278.4C459.2 276 459.5 274.6 457.2 273C454.9 271.4 451 270.4 447.7 270.4C444.4 270.4 444.1 272.2 440.8 273C437.5 273.8 435.4 274.6 431.3 274.3C427.2 274.1 424.2 273.3 420.3 271.7C416.5 270.1 414.3 267.6 412.1 266.3C409.9 264.9 409.1 263.1 409.4 265Z" fill="#f4f4f4" stroke="#5a5a5a" stroke-width="0.45" stroke-linejoin="round"/>
<path d="M416.2 247.3C417.4 244.6 418.2 244.3 420.3 243.4C422.5 242.4 424.4 242.1 427.1 242.6C429.9 243.2 431.8 244 434 246C436.1 248 436.2 250.3 438.1 252.7C440 255.2 441.6 256.2 443.6 258.1C445.5 260 446.9 260.3 447.7 262.2C448.5 264.1 449.1 265.4 447.7 267.6C446.3 269.8 444.1 271.7 440.8 273C437.5 274.3 435.1 274.6 431.3 274.3C427.5 274.1 424.8 273.3 421.7 271.7C418.5 270.1 417 269.3 415.5 266.3C414 263.3 414 260.6 414.1 256.8C414.3 253 415 250 416.2 247.3Z" fill="#f4f4f4" stroke="#5a5a5a" stroke-width="0.45" stroke-linejoin="round"/>
<path d="M464.7 238C467.6 234.2 466.9 237.1 467.5 239.3C468.1 241.4 468.2 245.5 467.5 248.8C466.8 252 466.2 253.5 464.1 255.5C462 257.5 459.4 258.3 457.2 258.8C455 259.4 451.6 262.3 453.2 258.1C454.7 254 461.8 241.7 464.7 238Z" fill="#f4f4f4" stroke="#5a5a5a" stroke-width="0.45" stroke-linejoin="round"/>
<path d="M424.4 212.3C426.1 209.7 427.3 209.9 430.6 208.9C433.8 208 436.5 207.4 440.8 207.5C445 207.6 447.9 208.1 451.7 209.5C455.5 211 457.4 212.2 460 214.9C462.6 217.6 463.4 219.3 464.7 223.1C466.1 226.9 466.8 229.8 466.8 233.9C466.8 237.9 465.8 240.1 464.7 243.4C463.6 246.6 462.8 247.7 461.3 250.1C459.8 252.5 459.4 253.9 457.2 255.5C455 257.1 453.4 257.6 450.4 258.1C447.4 258.7 444.9 258.9 442.2 258.1C439.5 257.3 438.7 256.3 436.7 254.2C434.8 252 434.8 249.8 432.6 247.3C430.4 244.9 427.9 244.9 425.8 241.9C423.7 239 423.1 236.6 422.3 232.6C421.5 228.5 421.3 225.8 421.7 221.8C422.1 217.7 422.6 214.9 424.4 212.3Z" fill="#f4f4f4" stroke="#5a5a5a" stroke-width="0.45" stroke-linejoin="round"/>
<text x="462.6" y="214.6" font-size="5.1" fill="#4d4d4d" stroke="#4d4d4d">STRd</text>
<text x="406.3" y="266.7" font-size="5.1" fill="#4d4d4d" stroke="#4d4d4d">PAL</text>
<text x="453.4" y="265.1" font-size="5.1" fill="#4d4d4d" stroke="#4d4d4d">CTXsp</text>
<text x="451.3" y="288.2" font-size="5.1" fill="#4d4d4d" stroke="#4d4d4d">STRv</text>
<line x1="451" y1="228" x2="463" y2="215" stroke="#666" stroke-width="0.35"/>
<path transform="scale(.5)" d="M897 417h3m-1 0h3m-2 0h3m-7 1h3m0 0h3m-2 0h3m-14 1h3m5 0h3m3 0h3m-2 0h3m-22 1h3m-2 0h3m0 0h3m0 0h3m-2 0h3m-1 0h3m1 0h3m-2 0h3m0 0h3m-2 0h3m0 0h3m-29 1h3m-2 0h3m4 0h3m-2 0h3m-1 0h3m-1 0h3m-1 0h3m0 0h3m0 0h3m1 0h3m-1 0h3m-31 1h3m2 0h3m-2 0h3m1 0h3m-1 0h3m-2 0h3m-2 0h3m-2 0h3m1 0h3m-2 0h3m2 0h3m-25 1h3m-2 0h3m6 0h3m-2 0h3m1 0h3m0 0h3m-2 0h3m2 0h3m-1 0h3m-2 0h3m-34 1h3m-2 0h3m1 0h3m4 0h3m0 0h3m1 0h3m-2 0h3m5 0h3m1 0h3m-35 1h3m4 0h3m7 0h3m-1 0h3m1 0h3m0 0h3m-2 0h3m-1 0h3m2 0h3m-1 0h3m-2 0h3m-40 1h3m-2 0h3m2 0h3m-2 0h3m-1 0h3m1 0h3m10 0h3m0 0h3m0 0h3m0 0h3m-37 1h3m3 0h3m-1 0h3m-2 0h3m-2 0h3m-1 0h3m0 0h3m4 0h3m-2 0h3m-2 0h3m-2 0h3m-2 0h3m-1 0h3m3 0h3m-38 1h3m2 0h3m-2 0h3m-2 0h3m-2 0h3m2 0h3m6 0h3m0 0h3m-2 0h3m-2 0h3m-2 0h3m-1 0h3m0 0h3m1 0h3m-36 1h3m-2 0h3m3 0h3m-1 0h3m-2 0h3m3 0h3m-2 0h3m0 0h3m2 0h3m1 0h3m-36 1h3m0 0h3m-1 0h3m3 0h3m-2 0h3m-1 0h3m-1 0h3m-1 0h3m-2 0h3m1 0h3m-1 0h3m3 0h3m2 0h3m-37 1h3m-1 0h3m-2 0h3m3 0h3m7 0h3m6 0h3m0 0h3m-1 0h3m-37 1h3m-1 0h3m-2 0h3m1 0h3m1 0h3m-2 0h3m-2 0h3m-1 0h3m4 0h3m-2 0h3m5 0h3m-2 0h3m0 0h3m-36 1h3m-2 0h3m0 0h3m3 0h3m-2 0h3m-2 0h3m-1 0h3m-2 0h3m-2 0h3m-2 0h3m-2 0h3m0 0h3m8 0h3m-32 1h3m-2 0h3m3 0h3m-1 0h3m1 0h3m-2 0h3m-2 0h3m-2 0h3m-2 0h3m6 0h3m1 0h3m-32 1h3m0 0h3m-2 0h3m1 0h3m0 0h3m-1 0h3m-2 0h3m-2 0h3m-2 0h3m0 0h3m0 0h3m2 0h3m-2 0h3m-38 1h3m0 0h3m-1 0h3m5 0h3m-1 0h3m-2 0h3m-2 0h3m0 0h3m3 0h3m-1 0h3m-2 0h3m-1 0h3m1 0h3m0 0h3m-41 1h3m-1 0h3m-2 0h3m3 0h3m0 0h3m-2 0h3m-2 0h3m0 0h3m-1 0h3m-1 0h3m-2 0h3m-1 0h3m3 0h3m-2 0h3m0 0h3m-2 0h3m7 0h3m-47 1h3m-1 0h3m-2 0h3m1 0h3m-1 0h3m0 0h3m3 0h3m-2 0h3m-2 0h3m0 0h3m1 0h3m-2 0h3m-2 0h3m1 0h3m0 0h3m-2 0h3m-37 1h3m-1 0h3m0 0h3m6 0h3m-2 0h3m-1 0h3m6 0h3m-1 0h3m0 0h3m-1 0h3m4 0h3m-2 0h3m-2 0h3m-49 1h3m-1 0h3m-1 0h3m0 0h3m-1 0h3m-2 0h3m0 0h3m0 0h3m3 0h3m0 0h3m0 0h3m-1 0h3m-1 0h3m4 0h3m-2 0h3m-2 0h3m1 0h3m-2 0h3m-2 0h3m-49 1h3m0 0h3m0 0h3m0 0h3m-2 0h3m2 0h3m0 0h3m2 0h3m-2 0h3m-2 0h3m0 0h3m6 0h3m3 0h3m-2 0h3m-2 0h3m-2 0h3m-47 1h3m-2 0h3m-1 0h3m-2 0h3m-1 0h3m-1 0h3m-1 0h3m-2 0h3m0 0h3m1 0h3m-1 0h3m11 0h3m4 0h3m0 0h3m-50 1h3m-2 0h3m-2 0h3m1 0h3m-2 0h3m-1 0h3m0 0h3m0 0h3m0 0h3m2 0h3m-2 0h3m-1 0h3m-1 0h3m-2 0h3m-2 0h3m-1 0h3m-2 0h3m-2 0h3m0 0h3m-1 0h3m3 0h3m-48 1h3m2 0h3m-1 0h3m2 0h3m4 0h3m-2 0h3m-1 0h3m1 0h3m-2 0h3m2 0h3m0 0h3m-2 0h3m5 0h3m-47 1h3m5 0h3m3 0h3m0 0h3m4 0h3m-1 0h3m0 0h3m-2 0h3m-1 0h3m4 0h3m-1 0h3m-2 0h3m-2 0h3m0 0h3m-49 1h3m-2 0h3m1 0h3m-1 0h3m0 0h3m1 0h3m-2 0h3m-1 0h3m-2 0h3m4 0h3m2 0h3m0 0h3m-2 0h3m-2 0h3m5 0h3m-2 0h3m1 0h3m-44 1h3m2 0h3m-2 0h3m-1 0h3m3 0h3m-2 0h3m-1 0h3m1 0h3m2 0h3m1 0h3m2 0h3m-1 0h3m-1 0h3m-1 0h3m-41 1h3m8 0h3m-1 0h3m0 0h3m4 0h3m1 0h3m-2 0h3m-2 0h3m-1 0h3m-1 0h3m0 0h3m-48 1h3m-1 0h3m9 0h3m1 0h3m-1 0h3m-2 0h3m1 0h3m-1 0h3m3 0h3m2 0h3m-2 0h3m-1 0h3m-2 0h3m1 0h3m-2 0h3m-44 1h3m0 0h3m-1 0h3m1 0h3m2 0h3m-1 0h3m0 0h3m-2 0h3m2 0h3m-2 0h3m-2 0h3m-2 0h3m-1 0h3m-2 0h3m-1 0h3m-1 0h3m-2 0h3m0 0h3m0 0h3m-47 1h3m-2 0h3m-2 0h3m2 0h3m-1 0h3m3 0h3m1 0h3m-2 0h3m-1 0h3m-1 0h3m-1 0h3m5 0h3m5 0h3m-2 0h3m-49 1h3m-2 0h3m-2 0h3m-1 0h3m-2 0h3m-2 0h3m-1 0h3m-2 0h3m-1 0h3m1 0h3m-2 0h3m3 0h3m0 0h3m-2 0h3m-1 0h3m2 0h3m-1 0h3m-2 0h3m-2 0h3m-2 0h3m-1 0h3m4 0h3m-40 1h3m0 0h3m-2 0h3m-2 0h3m3 0h3m6 0h3m-2 0h3m-2 0h3m-2 0h3m-2 0h3m-2 0h3m1 0h3m-2 0h3m-2 0h3m3 0h3m-2 0h3m-48 1h3m-2 0h3m-2 0h3m-1 0h3m2 0h3m2 0h3m-1 0h3m-1 0h3m-2 0h3m0 0h3m-2 0h3m-1 0h3m-1 0h3m-2 0h3m-2 0h3m-1 0h3m0 0h3m5 0h3m-2 0h3m-48 1h3m1 0h3m-1 0h3m7 0h3m-1 0h3m-2 0h3m-2 0h3m0 0h3m1 0h3m0 0h3m-2 0h3m3 0h3m-1 0h3m2 0h3m-1 0h3m-2 0h3m-46 1h3m-2 0h3m-1 0h3m3 0h3m-2 0h3m3 0h3m-2 0h3m1 0h3m3 0h3m0 0h3m-2 0h3m2 0h3m2 0h3m-2 0h3m-1 0h3m-50 1h3m-1 0h3m-2 0h3m-2 0h3m6 0h3m5 0h3m0 0h3m2 0h3m-2 0h3m1 0h3m-2 0h3m-1 0h3m-2 0h3m1 0h3m-1 0h3m-2 0h3m-46 1h3m-2 0h3m3 0h3m-1 0h3m2 0h3m-1 0h3m0 0h3m1 0h3m-2 0h3m4 0h3m9 0h3m-2 0h3m-2 0h3m-51 1h3m0 0h3m-2 0h3m12 0h3m-2 0h3m-2 0h3m-2 0h3m-2 0h3m-2 0h3m-1 0h3m1 0h3m1 0h3m4 0h3m1 0h3m0 0h3m-50 1h3m-2 0h3m-2 0h3m1 0h3m2 0h3m1 0h3m0 0h3m4 0h3m-2 0h3m4 0h3m2 0h3m-1 0h3m-1 0h3m-1 0h3m-2 0h3m-46 1h3m-2 0h3m-1 0h3m-2 0h3m-1 0h3m0 0h3m1 0h3m-1 0h3m1 0h3m-2 0h3m-1 0h3m-2 0h3m1 0h3m1 0h3m-2 0h3m2 0h3m-1 0h3m3 0h3m-50 1h3m1 0h3m-2 0h3m-2 0h3m2 0h3m-1 0h3m2 0h3m-2 0h3m-2 0h3m-1 0h3m-2 0h3m-1 0h3m-2 0h3m-2 0h3m-2 0h3m-2 0h3m2 0h3m-2 0h3m0 0h3m0 0h3m-2 0h3m-2 0h3m-45 1h3m-1 0h3m-1 0h3m-2 0h3m-1 0h3m0 0h3m4 0h3m-2 0h3m2 0h3m-2 0h3m-2 0h3m-2 0h3m2 0h3m-2 0h3m8 0h3m0 0h3m-2 0h3m-51 1h3m-2 0h3m2 0h3m-1 0h3m0 0h3m-2 0h3m-1 0h3m2 0h3m3 0h3m-2 0h3m-2 0h3m3 0h3m6 0h3m-2 0h3m0 0h3m-2 0h3m-48 1h3m10 0h3m0 0h3m-2 0h3m4 0h3m-2 0h3m0 0h3m-2 0h3m0 0h3m1 0h3m0 0h3m3 0h3m-46 1h3m-2 0h3m-2 0h3m-1 0h3m-1 0h3m6 0h3m-1 0h3m4 0h3m3 0h3m-2 0h3m-1 0h3m0 0h3m-2 0h3m-2 0h3m0 0h3m-2 0h3m-43 1h3m0 0h3m0 0h3m1 0h3m-2 0h3m7 0h3m-1 0h3m-1 0h3m2 0h3m2 0h3m0 0h3m-42 1h3m3 0h3m2 0h3m-2 0h3m0 0h3m3 0h3m-1 0h3m0 0h3m0 0h3m-1 0h3m2 0h3m3 0h3m-42 1h3m-1 0h3m-1 0h3m-1 0h3m1 0h3m0 0h3m-2 0h3m-1 0h3m-1 0h3m2 0h3m-1 0h3m-2 0h3m1 0h3m-2 0h3m2 0h3m-2 0h3m-41 1h3m-1 0h3m0 0h3m4 0h3m0 0h3m1 0h3m0 0h3m1 0h3m0 0h3m-2 0h3m-2 0h3m-1 0h3m-2 0h3m0 0h3m-2 0h3m-42 1h3m-2 0h3m0 0h3m-2 0h3m3 0h3m-1 0h3m6 0h3m3 0h3m1 0h3m0 0h3m-2 0h3m1 0h3m-43 1h3m-2 0h3m0 0h3m2 0h3m-2 0h3m2 0h3m-2 0h3m-2 0h3m-2 0h3m-1 0h3m1 0h3m-2 0h3m-2 0h3m-1 0h3m0 0h3m-1 0h3m0 0h3m-2 0h3m-2 0h3m1 0h3m-46 1h3m-2 0h3m8 0h3m2 0h3m1 0h3m4 0h3m-2 0h3m-1 0h3m-2 0h3m-1 0h3m-36 1h3m0 0h3m5 0h3m0 0h3m-2 0h3m-2 0h3m0 0h3m-1 0h3m-1 0h3m-1 0h3m1 0h3m1 0h3m2 0h3m-39 1h3m0 0h3m5 0h3m-2 0h3m-2 0h3m-2 0h3m-2 0h3m3 0h3m-1 0h3m-1 0h3m5 0h3m-1 0h3m-2 0h3m-41 1h3m2 0h3m3 0h3m0 0h3m-1 0h3m-2 0h3m1 0h3m1 0h3m1 0h3m3 0h3m-38 1h3m-2 0h3m7 0h3m0 0h3m-2 0h3m-2 0h3m-2 0h3m-2 0h3m0 0h3m5 0h3m-1 0h3m2 0h3m-37 1h3m-2 0h3m-1 0h3m-1 0h3m1 0h3m-1 0h3m-2 0h3m-1 0h3m-1 0h3m-2 0h3m-1 0h3m0 0h3m-1 0h3m2 0h3m-2 0h3m-2 0h3m2 0h3m-2 0h3m-1 0h3m-40 1h3m-2 0h3m-2 0h3m1 0h3m-2 0h3m3 0h3m0 0h3m0 0h3m2 0h3m-2 0h3m-2 0h3m-2 0h3m2 0h3m-1 0h3m-1 0h3m-41 1h3m-2 0h3m6 0h3m-2 0h3m-1 0h3m-1 0h3m7 0h3m0 0h3m-2 0h3m-2 0h3m2 0h3m-1 0h3m-38 1h3m2 0h3m-2 0h3m3 0h3m-1 0h3m3 0h3m0 0h3m-1 0h3m0 0h3m-2 0h3m1 0h3m-37 1h3m9 0h3m3 0h3m2 0h3m0 0h3m-2 0h3m5 0h3m-2 0h3m-2 0h3m-39 1h3m2 0h3m2 0h3m-1 0h3m2 0h3m-1 0h3m-2 0h3m1 0h3m6 0h3m0 0h3m-40 1h3m-1 0h3m-1 0h3m-2 0h3m5 0h3m-2 0h3m-1 0h3m0 0h3m-2 0h3m-2 0h3m-1 0h3m-2 0h3m-1 0h3m-1 0h3m-1 0h3m-2 0h3m-1 0h3m-34 1h3m0 0h3m-1 0h3m2 0h3m-1 0h3m0 0h3m-1 0h3m-2 0h3m0 0h3m-2 0h3m1 0h3m-2 0h3m5 0h3m-2 0h3m-40 1h3m-1 0h3m0 0h3m-1 0h3m-2 0h3m-2 0h3m0 0h3m0 0h3m-2 0h3m0 0h3m1 0h3m-2 0h3m1 0h3m-1 0h3m-2 0h3m0 0h3m-1 0h3m-38 1h3m0 0h3m0 0h3m7 0h3m0 0h3m-2 0h3m1 0h3m0 0h3m0 0h3m-2 0h3m-2 0h3m-2 0h3m-1 0h3m-35 1h3m6 0h3m0 0h3m4 0h3m0 0h3m-1 0h3m-2 0h3m0 0h3m-2 0h3m-1 0h3m-27 1h3m-1 0h3m-1 0h3m-2 0h3m-1 0h3m-1 0h3m0 0h3m-2 0h3m-2 0h3m-1 0h3m0 0h3m-1 0h3m-2 0h3m-30 1h3m2 0h3m2 0h3m-2 0h3m1 0h3m-2 0h3m2 0h3m-2 0h3m1 0h3m-26 1h3m4 0h3m-2 0h3m6 0h3m0 0h3m-2 0h3m1 0h3m-29 1h3m1 0h3m1 0h3m2 0h3m0 0h3m0 0h3m1 0h3m-2 0h3m-2 0h3m-26 1h3m2 0h3m1 0h3m-1 0h3m2 0h3m-1 0h3m0 0h3m-24 1h3m-2 0h3m2 0h3m-2 0h3m0 0h3m-2 0h3m-2 0h3m-2 0h3m-2 0h3m0 0h3m-2 0h3m-2 0h3m-2 0h3m-22 1h3m0 0h3m-1 0h3m-1 0h3m10 0h3m-1 0h3m-17 1h3m2 0h3m1 0h3m0 0h3m-15 1h3m1 0h3m-2 0h3m-2 0h3m-1 0h3m-2 0h3m-14 1h3m2 0h3m-2 0h3m2 0h3m-8 1h3" stroke="#1a9bdc" stroke-width="3" fill="none"/>
<path transform="scale(.5)" d="M865 419h3m0 0h3m-1 0h3m5 1h3m-11 1h3m4 0h3m-1 0h3m-23 1h3m11 0h3m0 0h3m-12 1h3m-1 0h3m-1 0h3m2 0h3m-21 1h3m-1 0h3m14 0h3m-25 1h3m7 0h3m1 0h3m1 0h3m1 0h3m-2 0h3m-2 0h3m-21 1h3m-2 0h3m-2 0h3m0 0h3m3 0h3m0 0h3m-1 0h3m-1 0h3m-2 0h3m-30 1h3m-2 0h3m-2 0h3m1 0h3m1 0h3m5 0h3m1 0h3m3 0h3m-21 1h3m0 0h3m1 0h3m1 0h3m0 0h3m-2 0h3m-23 1h3m-2 0h3m-1 0h3m-1 0h3m1 0h3m-20 1h3m-1 0h3m6 0h3m5 0h3m-2 0h3m-2 0h3m3 0h3m-1 0h3m-34 1h3m5 0h3m-2 0h3m-2 0h3m-1 0h3m5 0h3m0 0h3m-16 1h3m-2 0h3m0 0h3m2 0h3m-2 0h3m0 0h3m3 0h3m-25 1h3m7 0h3m0 0h3m-2 0h3m-1 0h3m5 0h3m-2 0h3m-27 1h3m5 0h3m4 0h3m2 0h3m0 0h3m-2 0h3m-27 1h3m1 0h3m6 0h3m0 0h3m1 0h3m-12 1h3m6 0h3m-1 0h3m-28 1h3m3 0h3m1 0h3m5 0h3m-2 0h3m7 0h3m-34 1h3m5 0h3m1 0h3m4 0h3m-26 1h3m1 0h3m0 0h3m4 0h3m0 0h3m5 0h3m-1 0h3m1 0h3m0 0h3m-36 1h3m-2 0h3m0 0h3m-2 0h3m9 0h3m-2 0h3m9 0h3m-34 1h3m6 0h3m-1 0h3m6 0h3m-1 0h3m-2 0h3m-2 0h3m2 0h3m1 0h3m-2 0h3m-22 1h3m2 0h3m0 0h3m0 0h3m1 0h3m-1 0h3m-35 1h3m6 0h3m7 0h3m-2 0h3m9 0h3m-34 1h3m-2 0h3m-2 0h3m5 0h3m1 0h3m13 0h3m-1 0h3m-2 0h3m-32 1h3m-2 0h3m2 0h3m2 0h3m0 0h3m-13 1h3m-1 0h3m-1 0h3m4 0h3m-2 0h3m2 0h3m0 0h3m-2 0h3m-26 1h3m-2 0h3m3 0h3m1 0h3m3 0h3m4 0h3m-2 0h3m0 0h3m-39 1h3m-1 0h3m-1 0h3m0 0h3m0 0h3m9 0h3m3 0h3m-30 1h3m-1 0h3m-2 0h3m6 0h3m1 0h3m1 0h3m8 0h3m-2 0h3m0 0h3m-24 1h3m10 0h3m6 0h3m-33 1h3m-2 0h3m0 0h3m4 0h3m-1 0h3m-2 0h3m-1 0h3m-22 1h3m-1 0h3m-1 0h3m-2 0h3m-2 0h3m-2 0h3m2 0h3m13 0h3m-2 0h3m-32 1h3m-1 0h3m3 0h3m3 0h3m4 0h3m4 0h3m0 0h3m-35 1h3m11 0h3m1 0h3m-1 0h3m2 0h3m-1 0h3m1 0h3m-36 1h3m-1 0h3m0 0h3m-1 0h3m10 0h3m1 0h3m-28 1h3m-2 0h3m-1 0h3m8 0h3m6 0h3m7 0h3m2 0h3m-41 1h3m3 0h3m3 0h3m0 0h3m-1 0h3m1 0h3m-24 1h3m-2 0h3m-2 0h3m7 0h3m-1 0h3m-2 0h3m8 0h3m-2 0h3m0 0h3m5 0h3m-2 0h3m-43 1h3m12 0h3m2 0h3m0 0h3m-2 0h3m-1 0h3m1 0h3m-2 0h3m-33 1h3m0 0h3m-2 0h3m5 0h3m1 0h3m-2 0h3m0 0h3m7 0h3m0 0h3m1 0h3m-19 1h3m0 0h3m0 0h3m-2 0h3m-2 0h3m6 0h3m-42 1h3m-2 0h3m-2 0h3m3 0h3m0 0h3m24 0h3m-40 1h3m-2 0h3m2 0h3m19 0h3m-32 1h3m-1 0h3m-1 0h3m0 0h3m-2 0h3m-2 0h3m12 0h3m-21 1h3m-2 0h3m10 0h3m-2 0h3m-2 0h3m2 0h3m-1 0h3m6 0h3m-41 1h3m-1 0h3m-1 0h3m4 0h3m-9 1h3m-1 0h3m1 0h3m7 0h3m1 0h3m-1 0h3m-30 1h3m0 0h3m-2 0h3m4 0h3m-2 0h3m16 0h3m4 0h3m-40 1h3m6 0h3m7 0h3m5 0h3m-2 0h3m7 0h3m-38 1h3m4 0h3m-1 0h3m-1 0h3m0 0h3m2 0h3m-22 1h3m4 0h3m2 0h3m-2 0h3m-2 0h3m1 0h3m-2 0h3m-2 0h3m6 0h3m5 0h3m-2 0h3m-44 1h3m0 0h3m12 0h3m18 0h3m0 0h3m-41 1h3m-2 0h3m5 0h3m-2 0h3m7 0h3m7 0h3m-2 0h3m-2 0h3m-34 1h3m5 0h3m-1 0h3m0 0h3m-2 0h3m2 0h3m2 0h3m8 0h3m-40 1h3m18 0h3m3 0h3m3 0h3m1 0h3m-2 0h3m-2 0h3m-44 1h3m5 0h3m-2 0h3m5 0h3m-2 0h3m1 0h3m6 0h3m2 0h3m-24 1h3m-2 0h3m-2 0h3m6 0h3m5 0h3m2 0h3m-2 0h3m-1 0h3m-44 1h3m-2 0h3m4 0h3m-2 0h3m-2 0h3m1 0h3m1 0h3m-2 0h3m2 0h3m10 0h3m0 0h3m-1 0h3m-43 1h3m6 0h3m5 0h3m2 0h3m3 0h3m-2 0h3m-1 0h3m-1 0h3m-39 1h3m-1 0h3m1 0h3m-2 0h3m-1 0h3m-1 0h3m-2 0h3m1 0h3m10 0h3m-1 0h3m1 0h3m-2 0h3m-2 0h3m5 0h3m-45 1h3m7 0h3m-2 0h3m-2 0h3m1 0h3m-1 0h3m-1 0h3m3 0h3m2 0h3m-2 0h3m-1 0h3m-37 1h3m3 0h3m1 0h3m-2 0h3m4 0h3m6 0h3m-2 0h3m7 0h3m-1 0h3m1 0h3m-48 1h3m1 0h3m0 0h3m2 0h3m-2 0h3m0 0h3m-2 0h3m-2 0h3m-2 0h3m1 0h3m7 0h3m-2 0h3m0 0h3m-38 1h3m-1 0h3m18 0h3m2 0h3m13 0h3m-48 1h3m-2 0h3m-2 0h3m1 0h3m-1 0h3m1 0h3m1 0h3m-1 0h3m5 0h3m-1 0h3m3 0h3m-2 0h3m-2 0h3m0 0h3m-1 0h3m2 0h3m-48 1h3m3 0h3m-2 0h3m1 0h3m-2 0h3m0 0h3m1 0h3m-2 0h3m0 0h3m-2 0h3m0 0h3m2 0h3m1 0h3m-2 0h3m2 0h3m-24 1h3m7 0h3m7 0h3m2 0h3m-49 1h3m13 0h3m2 0h3m-2 0h3m9 0h3m-1 0h3m1 0h3m-1 0h3m-1 0h3m-2 0h3m-47 1h3m-2 0h3m7 0h3m7 0h3m0 0h3m0 0h3m0 0h3m8 0h3m-1 0h3m-1 0h3m-51 1h3m-2 0h3m3 0h3m3 0h3m6 0h3m-2 0h3m-2 0h3m0 0h3m9 0h3m5 0h3m-48 1h3m1 0h3m-1 0h3m-2 0h3m-1 0h3m5 0h3m-2 0h3m-2 0h3m4 0h3m-1 0h3m0 0h3m-1 0h3m5 0h3m-2 0h3m-1 0h3m-1 0h3m-1 0h3m-2 0h3m-53 1h3m0 0h3m-1 0h3m8 0h3m-1 0h3m-1 0h3m-1 0h3m15 0h3m-1 0h3m4 0h3m-48 1h3m0 0h3m5 0h3m-2 0h3m6 0h3m5 0h3m4 0h3m2 0h3m-2 0h3m0 0h3m-49 1h3m2 0h3m2 0h3m-2 0h3m-1 0h3m1 0h3m-1 0h3m5 0h3m-1 0h3m11 0h3m-2 0h3m-48 1h3m4 0h3m0 0h3m0 0h3m0 0h3m-1 0h3m0 0h3m1 0h3m0 0h3m3 0h3m3 0h3m0 0h3m2 0h3m-46 1h3m0 0h3m20 0h3m15 0h3m-1 0h3m-51 1h3m0 0h3m3 0h3m2 0h3m-1 0h3m-2 0h3m5 0h3m2 0h3m-1 0h3m5 0h3m-1 0h3m5 0h3m-53 1h3m2 0h3m-1 0h3m-1 0h3m-1 0h3m-1 0h3m13 0h3m-2 0h3m7 0h3m0 0h3m3 0h3m1 0h3m-52 1h3m-2 0h3m-2 0h3m-2 0h3m6 0h3m1 0h3m-2 0h3m-1 0h3m3 0h3m14 0h3m-1 0h3m-2 0h3m4 0h3m-60 1h3m-2 0h3m-2 0h3m6 0h3m2 0h3m-2 0h3m3 0h3m-1 0h3m4 0h3m0 0h3m5 0h3m-2 0h3m8 0h3m14 0h3m-73 1h3m6 0h3m10 0h3m-2 0h3m-1 0h3m-2 0h3m5 0h3m3 0h3m-1 0h3m-2 0h3m-2 0h3m1 0h3m6 0h3m6 0h3m-2 0h3m-70 1h3m7 0h3m1 0h3m-1 0h3m-1 0h3m-1 0h3m9 0h3m-2 0h3m3 0h3m1 0h3m-2 0h3m-1 0h3m2 0h3m4 0h3m0 0h3m2 0h3m-1 0h3m-2 0h3m-70 1h3m-1 0h3m-2 0h3m0 0h3m16 0h3m2 0h3m0 0h3m-1 0h3m1 0h3m-1 0h3m-2 0h3m0 0h3m0 0h3m0 0h3m-2 0h3m-1 0h3m-1 0h3m0 0h3m-2 0h3m1 0h3m-1 0h3m-68 1h3m-1 0h3m0 0h3m2 0h3m-2 0h3m1 0h3m0 0h3m0 0h3m-2 0h3m-2 0h3m0 0h3m4 0h3m4 0h3m5 0h3m4 0h3m-2 0h3m-1 0h3m4 0h3m-70 1h3m-2 0h3m-1 0h3m-1 0h3m-2 0h3m-2 0h3m6 0h3m-2 0h3m1 0h3m-2 0h3m-2 0h3m8 0h3m-2 0h3m1 0h3m0 0h3m2 0h3m4 0h3m2 0h3m-62 1h3m2 0h3m4 0h3m-2 0h3m10 0h3m-2 0h3m3 0h3m1 0h3m2 0h3m-2 0h3m-1 0h3m6 0h3m0 0h3m-46 1h3m-1 0h3m12 0h3m8 0h3m0 0h3m3 0h3m4 0h3m-55 1h3m2 0h3m-2 0h3m2 0h3m-2 0h3m-2 0h3m-1 0h3m0 0h3m-2 0h3m15 0h3m-1 0h3m-2 0h3m-1 0h3m-2 0h3m5 0h3m3 0h3m-64 1h3m-2 0h3m4 0h3m-2 0h3m4 0h3m0 0h3m6 0h3m11 0h3m1 0h3m3 0h3m-1 0h3m5 0h3m-55 1h3m0 0h3m-2 0h3m-1 0h3m4 0h3m22 0h3m-2 0h3m-50 1h3m4 0h3m6 0h3m0 0h3m0 0h3m-1 0h3m-2 0h3m13 0h3m9 0h3m1 0h3m-2 0h3m-2 0h3m-62 1h3m-1 0h3m5 0h3m2 0h3m-1 0h3m3 0h3m-2 0h3m17 0h3m-47 1h3m-1 0h3m2 0h3m0 0h3m-1 0h3m2 0h3m0 0h3m-1 0h3m-1 0h3m9 0h3m-1 0h3m0 0h3m-1 0h3m-1 0h3m1 0h3m-2 0h3m-2 0h3m-1 0h3m-34 1h3m0 0h3m3 0h3m2 0h3m1 0h3m1 0h3m4 0h3m-46 1h3m-2 0h3m20 0h3m-1 0h3m2 0h3m-2 0h3m-39 1h3m4 0h3m0 0h3m1 0h3m-2 0h3m9 0h3m1 0h3m-2 0h3m-1 0h3m5 0h3m-43 1h3m1 0h3m2 0h3m3 0h3m6 0h3m0 0h3m6 0h3m-40 1h3m-1 0h3m2 0h3m8 0h3m1 0h3m4 0h3m1 0h3m-2 0h3m-2 0h3m2 0h3m-42 1h3m6 0h3m-2 0h3m19 0h3m-35 1h3m2 0h3m-1 0h3m-2 0h3m2 0h3m3 0h3m-1 0h3m5 0h3m3 0h3m-39 1h3m10 0h3m0 0h3m-2 0h3m-20 1h3m0 0h3m5 0h3m1 0h3m1 0h3m-5 1h3m0 0h3m2 0h3m-2 0h3m-25 1h3m1 0h3m15 0h3m-24 1h3m8 0h3m-1 0h3m0 0h3m0 0h3m2 0h3m-30 1h3m6 0h3m0 0h3m0 0h3m-2 0h3m4 0h3m3 0h3m-25 1h3m-2 0h3m5 0h3m-12 1h3m1 0h3m1 0h3m3 0h3m-23 1h3m1 0h3m2 0h3m3 0h3m5 0h3m-1 0h3m-2 0h3m-19 1h3m-2 0h3m7 0h3m-1 0h3m-2 0h3m-25 1h3m-1 0h3m2 0h3m0 0h3m0 0h3m-2 0h3m-1 0h3m-1 0h3m0 0h3m-19 1h3m1 0h3m0 0h3m-2 0h3m-2 0h3m-1 0h3m-18 1h3m6 0h3m0 0h3m1 0h3m-1 0h3m-11 1h3m-7 1h3m-1 0h3m1 0h3m2 0h3m-17 1h3m3 0h3m1 0h3m-2 0h3m-1 0h3m-2 0h3m-18 1h3m-1 0h3m0 0h3m2 0h3m-14 1h3m-1 0h3m-2 0h3" stroke="#f5841f" stroke-width="3" fill="none"/>
<path transform="scale(.5)" d="M896 452h2m-1 0h2m-5 1h2m2 0h2m-1 0h2m-7 1h2m0 0h2m-5 1h2m6 0h2m1 0h2m-10 1h2m-1 1h2m-1 0h2m-1 0h2m2 1h2m-16 1h2m7 0h2m0 0h2m-13 1h2m2 0h2m-1 0h2m3 0h2m-10 1h2m-1 0h2m9 0h2m-10 1h2m2 0h2m0 0h2m-3 2h2m-1 0h2m1 0h2m-10 1h2m1 0h2m-13 1h2m2 0h2m-1 0h2m-1 0h2m6 1h2m1 0h2m-18 1h2m4 0h2m-1 0h2m2 0h2m-14 1h2m-1 0h2m4 0h2m6 0h2m-12 1h2m4 1h2m5 1h2m-16 1h2m5 0h2m2 0h2m-1 0h2m1 0h2m-19 1h2m8 0h2m3 0h2m-11 1h2m1 0h2m2 0h2m-15 1h2m6 0h2m0 0h2m-8 1h2m8 1h2m-13 1h2m4 0h2m0 0h2m-10 1h2m1 0h2m-8 1h2m4 0h2m-1 1h2m6 0h2m-12 2h2m9 0h2m-2 1h2m-15 1h2m11 0h2m-2 1h2m-19 2h2m2 0h2m-2 1h2m8 0h2m-15 1h2m3 0h2m2 0h2m2 0h2m0 0h2m-16 2h2m-2 1h2m1 0h2m3 0h2m-8 1h2m0 0h2m6 2h2m-11 1h2m7 0h2m-8 1h2m1 0h2m-7 3h2m-1 0h2m2 0h2" stroke="#f5841f" stroke-width="2" fill="none"/>
<path transform="scale(.5)" d="M844 429h2m0 1h2m3 1h2m-6 1h2m3 0h2m-7 1h2m-4 1h2m2 0h2m-1 0h2m-2 1h2m-7 1h2m-1 0h2m-1 0h2m2 0h2m1 0h2m-11 1h2m5 0h2m1 0h2m-11 1h2m-1 0h2m0 1h2m-7 1h2m-1 0h2m1 0h2m-1 0h2m-7 1h2m3 0h2m2 0h2m-6 1h2m-8 1h2m3 0h2m0 0h2m-1 0h2m0 0h2m-9 2h2m1 0h2m-5 1h2m1 0h2m0 0h2m-7 1h2m-1 0h2m0 0h2m-6 2h2m2 0h2m1 1h2m-8 2h2m3 0h2m-4 1h2m-8 1h2m2 0h2m1 0h2m-2 1h2m-10 1h2m9 1h2m-4 1h2m-6 1h2m5 0h2m-8 1h2m3 0h2m-6 1h2m-1 3h2m-1 0h2m-7 3h2m0 0h2m-9 2h2m4 0h2m-2 1h2m3 0h2m2 0h2m-14 1h2m0 0h2m3 0h2m3 0h2m-9 1h2m-1 0h2m-1 1h2m8 0h2m-12 1h2m-10 1h2m3 0h2m7 0h2m-12 1h2m-1 0h2m0 0h2m4 0h2m-3 1h2m-10 2h2m1 0h2m4 1h2m0 0h2m-5 1h2m-1 0h2m-4 1h2m0 0h2m-7 1h2m0 0h2m-4 2h2m0 0h2m-4 1h2m0 0h2m1 0h2m-4 1h2m-1 2h2m-1 0h2m-1 0h2m0 0h2m-11 2h2m-3 1h2" stroke="#e8174a" stroke-width="2" fill="none"/>
<path transform="scale(.5)" d="M871 420h2m-4 1h2m-8 1h2m0 0h2m1 0h2m6 0h2m-11 1h2m9 0h2m-18 1h2m0 0h2m9 0h2m-14 1h2m-1 0h2m0 0h2m2 0h2m4 0h2m-13 1h2m4 0h2m-1 0h2m3 0h2m-12 1h2m1 0h2m6 0h2" stroke="#e8174a" stroke-width="2" fill="none"/>
<path transform="scale(.5)" d="M869 446h2m-1 3h2m-16 3h2m7 1h2m7 0h2m-9 1h2m-1 0h2m-14 1h2m10 1h2m-17 2h2m8 0h2m-7 1h2m9 0h2m0 0h2m-21 1h2m10 0h2m4 0h2m-12 1h2m13 0h2m-12 2h2m-15 1h2m3 0h2m-9 1h2m5 0h2m23 0h2m-32 1h2m-1 0h2m20 0h2m-1 1h2m-26 1h2m8 1h2m17 0h2m-13 1h2m3 0h2m1 0h2m-28 1h2m28 0h2m-35 1h2m23 1h2m-14 1h2m-14 1h2m-3 2h2m26 1h2m-20 1h2m12 1h2m10 0h2m0 0h2m-6 1h2m-29 2h2m4 0h2m1 0h2m-8 1h2m4 1h2m-3 1h2m15 0h2m4 0h2m-35 4h2m2 2h2m-3 1h2m11 0h2m2 0h2m5 1h2m-21 1h2m5 0h2m5 0h2m-10 2h2m2 2h2m2 1h2m3 0h2m-30 1h2m7 1h2m-9 1h2m4 0h2m0 0h2m-10 1h2m24 0h2m-25 1h2m7 1h2m4 0h2m-7 1h2m-5 1h2m10 2h2m-7 1h2m-16 1h2m10 0h2m-8 1h2m6 0h2m1 0h2m-8 1h2" stroke="#1fbf80" stroke-width="2" fill="none"/>
<path transform="scale(.5)" d="M886 533h2m5 2h2m0 0h2m1 1h2m-15 2h2m0 0h2m4 0h2m5 1h2m-14 1h2m-10 1h2m11 0h2m1 1h2m6 0h2m-27 1h2m0 0h2m4 0h2m9 2h2m-20 1h2m0 0h2m5 0h2m-3 1h2m9 0h2m0 0h2m-17 1h2m7 0h2m0 1h2m-7 1h2m2 0h2m-14 2h2m1 0h2m5 0h2m0 0h2m2 0h2m-3 2h2m-9 1h2" stroke="#1a9bdc" stroke-width="2" fill="none"/>
<path transform="scale(.5)" d="M879 538h2m-5 1h2m-1 1h2m2 0h2m-4 1h2m-11 3h2m-3 1h2m7 0h2m3 0h2m-14 1h2m13 1h2m0 1h2m4 0h2m-22 1h2m1 0h2m20 2h2m-29 1h2m3 1h2m3 0h2m0 0h2m-12 1h2m11 2h2m-8 2h2m-12 1h2m2 1h2m18 0h2m-25 2h2m7 0h2m7 1h2m-16 1h2" stroke="#f5841f" stroke-width="2" fill="none"/>
<line x1="415" y1="222" x2="424" y2="220" stroke="#e8174a" stroke-width="0.5"/>
<line x1="415" y1="231.5" x2="424" y2="231" stroke="#1a9bdc" stroke-width="0.5"/>
<line x1="415" y1="243" x2="424" y2="240" stroke="#1fbf80" stroke-width="0.5"/>
<line x1="415" y1="253" x2="424" y2="250" stroke="#f5841f" stroke-width="0.5"/>
<text x="405.3" y="223.8" font-size="5.2" fill="#231f20" stroke="#231f20" font-weight="bold">980</text>
<text x="405.3" y="233.4" font-size="5.2" fill="#231f20" stroke="#231f20" font-weight="bold">982</text>
<text x="405.3" y="244.9" font-size="5.2" fill="#231f20" stroke="#231f20" font-weight="bold">979</text>
<text x="405.3" y="255.1" font-size="5.2" fill="#231f20" stroke="#231f20" font-weight="bold">981</text>
<path d="M482.3 276.2C481.8 277.8 483.4 280.6 486.4 283C489.3 285.5 492.3 287.2 497.2 288.5C502 289.7 506 289.7 510.6 289.2C515.2 288.7 517.4 287.9 520.1 285.8C522.8 283.7 523.9 281.1 524.2 278.9C524.4 276.7 523 275.8 521.4 274.9C519.8 273.9 518.4 274.4 516 274.1C513.6 273.9 512.8 273.6 509.3 273.4C505.8 273.3 502.5 273.1 498.5 273.4C494.4 273.7 492.3 274.3 489 274.9C485.8 275.4 482.8 274.6 482.3 276.2Z" fill="#f4f4f4" stroke="#5a5a5a" stroke-width="0.45" stroke-linejoin="round"/>
<path d="M478.2 248.9C479.7 246.4 482.5 245.3 484.9 244.8C487.4 244.2 489.8 245 490.3 246.1C490.9 247.2 488.6 248 487.7 250.2C486.8 252.4 486.1 253.7 485.7 257C485.2 260.3 485.2 263 485.7 266.6C486.1 270.2 488.6 272.9 487.7 274.9C486.8 276.8 482.9 277.9 481 276.2C479.1 274.6 478.9 270.5 478.2 266.6C477.5 262.8 477.5 260.6 477.5 257C477.5 253.5 476.7 251.3 478.2 248.9Z" fill="#f4f4f4" stroke="#5a5a5a" stroke-width="0.45" stroke-linejoin="round"/>
<path d="M487.7 259.8C488.9 257.3 490.7 254 493.1 252.9C495.5 251.8 497.1 253.1 499.8 254.3C502.5 255.6 503.6 258 506.5 259.1C509.5 260.2 512.5 258.8 514.7 259.8C516.8 260.8 517.1 261.8 517.3 263.9C517.6 266.1 517.6 268.8 516 270.7C514.4 272.6 512.8 272.9 509.3 273.4C505.8 274 502.3 274.2 498.5 273.4C494.7 272.6 492.6 271 490.3 269.4C488 267.8 487.5 267.2 487 265.3C486.4 263.4 486.5 262.3 487.7 259.8Z" fill="#f4f4f4" stroke="#5a5a5a" stroke-width="0.45" stroke-linejoin="round"/>
<path d="M532.9 243.4C534.8 241 535.5 243.4 536.3 244.8C537.1 246.1 537.5 248.3 537 250.2C536.5 252.1 535.7 253 533.6 254.3C531.6 255.7 527 259.2 526.8 257C526.7 254.8 531 245.9 532.9 243.4Z" fill="#f4f4f4" stroke="#5a5a5a" stroke-width="0.45" stroke-linejoin="round"/>
<path d="M493.1 214.6C494.4 211.5 495.5 210.2 498.5 208.6C501.5 206.9 503.9 206.5 508 206.5C512 206.5 515 206.9 518.8 208.6C522.5 210.2 524.1 211.5 526.8 214.6C529.5 217.8 530.7 220.1 532.2 224.2C533.7 228.3 534.1 231.1 534.2 235.2C534.4 239.3 533.9 241.5 532.9 244.8C532 248 531.6 249.1 529.6 251.6C527.5 254 525.8 255.4 522.8 257C519.9 258.7 517.9 259.4 514.7 259.8C511.4 260.2 509.5 260.2 506.5 259.1C503.6 258 502.2 256.9 499.8 254.3C497.4 251.7 496 249.9 494.4 246.1C492.8 242.3 492.3 239.5 491.8 235.2C491.2 230.8 491.5 228.3 491.8 224.2C492 220.1 491.7 217.8 493.1 214.6Z" fill="#f4f4f4" stroke="#5a5a5a" stroke-width="0.45" stroke-linejoin="round"/>
<text x="535" y="217.5" font-size="5.1" fill="#4d4d4d" stroke="#4d4d4d">STRd</text>
<text x="475.8" y="249.4" font-size="5.1" fill="#4d4d4d" stroke="#4d4d4d">STR</text>
<text x="517.7" y="270.8" font-size="5.1" fill="#4d4d4d" stroke="#4d4d4d">PAL</text>
<text x="473.8" y="287.2" font-size="5.1" fill="#4d4d4d" stroke="#4d4d4d">STRv</text>
<path transform="scale(.5)" d="M1028 416h3m-2 0h3m-4 1h3m1 0h3m-2 0h3m1 0h3m-17 1h3m-1 0h3m-1 0h3m-1 0h3m-2 0h3m-1 0h3m3 0h3m-22 1h3m2 0h3m3 0h3m-2 0h3m1 0h3m0 0h3m2 0h3m-27 1h3m-2 0h3m3 0h3m0 0h3m0 0h3m-1 0h3m1 0h3m0 0h3m-2 0h3m-2 0h3m-21 1h3m0 0h3m-2 0h3m-2 0h3m-1 0h3m4 0h3m-2 0h3m-1 0h3m-2 0h3m-2 0h3m-33 1h3m1 0h3m-2 0h3m4 0h3m-2 0h3m-2 0h3m-2 0h3m-1 0h3m1 0h3m-1 0h3m-28 1h3m9 0h3m-1 0h3m-2 0h3m-1 0h3m7 0h3m1 0h3m-1 0h3m3 0h3m-41 1h3m-2 0h3m-1 0h3m-2 0h3m4 0h3m-1 0h3m13 0h3m2 0h3m-2 0h3m-37 1h3m2 0h3m-2 0h3m-2 0h3m-1 0h3m-2 0h3m-2 0h3m-2 0h3m6 0h3m0 0h3m-1 0h3m-1 0h3m3 0h3m-2 0h3m-2 0h3m-41 1h3m1 0h3m1 0h3m1 0h3m2 0h3m0 0h3m4 0h3m-1 0h3m0 0h3m0 0h3m0 0h3m-1 0h3m-44 1h3m1 0h3m-2 0h3m0 0h3m6 0h3m-2 0h3m2 0h3m-1 0h3m-2 0h3m0 0h3m5 0h3m-2 0h3m0 0h3m-40 1h3m4 0h3m-2 0h3m-2 0h3m-2 0h3m-1 0h3m7 0h3m-1 0h3m-2 0h3m5 0h3m-1 0h3m3 0h3m-49 1h3m9 0h3m0 0h3m-1 0h3m-2 0h3m-2 0h3m-2 0h3m1 0h3m8 0h3m5 0h3m-1 0h3m-47 1h3m-2 0h3m-2 0h3m6 0h3m9 0h3m1 0h3m0 0h3m-2 0h3m1 0h3m-2 0h3m0 0h3m-1 0h3m-2 0h3m-2 0h3m-46 1h3m-2 0h3m1 0h3m-1 0h3m-2 0h3m2 0h3m-1 0h3m1 0h3m-2 0h3m0 0h3m-1 0h3m3 0h3m1 0h3m1 0h3m0 0h3m1 0h3m-2 0h3m-47 1h3m0 0h3m0 0h3m14 0h3m-1 0h3m-1 0h3m3 0h3m0 0h3m-2 0h3m1 0h3m-43 1h3m0 0h3m-1 0h3m-1 0h3m-1 0h3m4 0h3m-2 0h3m0 0h3m-2 0h3m-1 0h3m15 0h3m-2 0h3m-48 1h3m-2 0h3m-1 0h3m-2 0h3m0 0h3m10 0h3m0 0h3m-2 0h3m-2 0h3m-2 0h3m1 0h3m6 0h3m-43 1h3m4 0h3m-1 0h3m-2 0h3m-1 0h3m-1 0h3m-2 0h3m0 0h3m-2 0h3m-1 0h3m-1 0h3m1 0h3m3 0h3m7 0h3m0 0h3m-46 1h3m-2 0h3m0 0h3m0 0h3m-2 0h3m5 0h3m-2 0h3m0 0h3m4 0h3m-1 0h3m-2 0h3m-2 0h3m-1 0h3m1 0h3m-2 0h3m5 0h3m-2 0h3m-46 1h3m2 0h3m-2 0h3m0 0h3m2 0h3m7 0h3m-1 0h3m-1 0h3m2 0h3m2 0h3m-1 0h3m-2 0h3m-47 1h3m-2 0h3m2 0h3m-2 0h3m-2 0h3m4 0h3m0 0h3m0 0h3m3 0h3m1 0h3m0 0h3m0 0h3m0 0h3m1 0h3m-1 0h3m-50 1h3m-1 0h3m-1 0h3m-2 0h3m3 0h3m-2 0h3m0 0h3m1 0h3m-2 0h3m-1 0h3m5 0h3m-1 0h3m-1 0h3m4 0h3m2 0h3m-2 0h3m-49 1h3m2 0h3m-2 0h3m-2 0h3m-1 0h3m5 0h3m-2 0h3m9 0h3m4 0h3m-2 0h3m0 0h3m0 0h3m0 0h3m-52 1h3m-1 0h3m1 0h3m2 0h3m-2 0h3m2 0h3m-2 0h3m-2 0h3m-2 0h3m-2 0h3m-1 0h3m-2 0h3m-1 0h3m-2 0h3m-1 0h3m-1 0h3m-2 0h3m0 0h3m2 0h3m1 0h3m-2 0h3m-2 0h3m-2 0h3m-1 0h3m-51 1h3m-2 0h3m-2 0h3m-2 0h3m5 0h3m1 0h3m0 0h3m-2 0h3m-1 0h3m0 0h3m2 0h3m1 0h3m2 0h3m9 0h3m-54 1h3m1 0h3m1 0h3m2 0h3m-2 0h3m0 0h3m0 0h3m-1 0h3m8 0h3m-2 0h3m0 0h3m-2 0h3m3 0h3m-2 0h3m-1 0h3m-2 0h3m-44 1h3m2 0h3m-1 0h3m-1 0h3m3 0h3m-25 1h3m1 0h3m-2 0h3m0 0h3m-2 0h3m-1 0h3m-2 0h3m-2 0h3m-2 0h3m-2 0h3m0 0h3m0 0h3m-2 0h3m0 0h3m-2 0h3m8 0h3m-2 0h3m-2 0h3m-1 0h3m-2 0h3m2 0h3m-1 0h3m-48 1h3m-1 0h3m-2 0h3m-1 0h3m3 0h3m1 0h3m0 0h3m4 0h3m-1 0h3m0 0h3m-1 0h3m1 0h3m0 0h3m-2 0h3m-2 0h3m3 0h3m-49 1h3m3 0h3m0 0h3m-1 0h3m2 0h3m0 0h3m-2 0h3m5 0h3m0 0h3m-1 0h3m2 0h3m5 0h3m-50 1h3m-1 0h3m-2 0h3m-2 0h3m-2 0h3m-2 0h3m1 0h3m-2 0h3m1 0h3m-2 0h3m-1 0h3m8 0h3m2 0h3m0 0h3m-1 0h3m0 0h3m-2 0h3m-1 0h3m-49 1h3m-2 0h3m1 0h3m0 0h3m-1 0h3m3 0h3m-1 0h3m0 0h3m1 0h3m-1 0h3m-2 0h3m0 0h3m-1 0h3m-2 0h3m-2 0h3m0 0h3m6 0h3m-40 1h3m1 0h3m-1 0h3m3 0h3m2 0h3m-2 0h3m1 0h3m-1 0h3m1 0h3m1 0h3m-1 0h3m-40 1h3m2 0h3m1 0h3m3 0h3m0 0h3m-2 0h3m-2 0h3m1 0h3m-2 0h3m-1 0h3m-2 0h3m4 0h3m-2 0h3m3 0h3m-42 1h3m0 0h3m-2 0h3m2 0h3m-1 0h3m5 0h3m-2 0h3m1 0h3m0 0h3m-2 0h3m-1 0h3m3 0h3m-2 0h3m0 0h3m-52 1h3m0 0h3m-2 0h3m-2 0h3m3 0h3m2 0h3m-1 0h3m2 0h3m-2 0h3m1 0h3m-1 0h3m2 0h3m-1 0h3m0 0h3m-1 0h3m-1 0h3m0 0h3m-2 0h3m-53 1h3m0 0h3m-1 0h3m-1 0h3m0 0h3m0 0h3m-1 0h3m-2 0h3m11 0h3m-2 0h3m-1 0h3m3 0h3m1 0h3m-2 0h3m-2 0h3m-43 1h3m4 0h3m0 0h3m3 0h3m-1 0h3m-1 0h3m1 0h3m1 0h3m1 0h3m-2 0h3m-1 0h3m-1 0h3m4 0h3m-39 1h3m11 0h3m0 0h3m-1 0h3m-2 0h3m-2 0h3m0 0h3m7 0h3m0 0h3m-50 1h3m-2 0h3m-1 0h3m4 0h3m-2 0h3m14 0h3m6 0h3m-2 0h3m-2 0h3m4 0h3m-1 0h3m-53 1h3m-2 0h3m8 0h3m-2 0h3m7 0h3m-1 0h3m1 0h3m0 0h3m-2 0h3m-2 0h3m-1 0h3m4 0h3m0 0h3m-48 1h3m25 0h3m-2 0h3m5 0h3m0 0h3m-1 0h3m-1 0h3m2 0h3m-49 1h3m4 0h3m10 0h3m-1 0h3m2 0h3m3 0h3m-1 0h3m-1 0h3m-2 0h3m-2 0h3m-2 0h3m-1 0h3m-47 1h3m2 0h3m-1 0h3m1 0h3m7 0h3m0 0h3m-1 0h3m3 0h3m0 0h3m0 0h3m2 0h3m1 0h3m-2 0h3m-48 1h3m1 0h3m2 0h3m9 0h3m-2 0h3m1 0h3m0 0h3m3 0h3m2 0h3m-2 0h3m-2 0h3m-2 0h3m-1 0h3m-52 1h3m0 0h3m-2 0h3m-2 0h3m-2 0h3m15 0h3m-2 0h3m-2 0h3m-2 0h3m0 0h3m1 0h3m-2 0h3m-2 0h3m-2 0h3m0 0h3m-2 0h3m7 0h3m-54 1h3m-2 0h3m-2 0h3m4 0h3m1 0h3m-1 0h3m9 0h3m-1 0h3m-2 0h3m-2 0h3m-1 0h3m2 0h3m0 0h3m4 0h3m0 0h3m-51 1h3m-1 0h3m0 0h3m-2 0h3m-2 0h3m4 0h3m-2 0h3m10 0h3m-2 0h3m0 0h3m3 0h3m-41 1h3m-1 0h3m4 0h3m0 0h3m0 0h3m-2 0h3m8 0h3m-1 0h3m1 0h3m2 0h3m0 0h3m-2 0h3m-2 0h3m1 0h3m-51 1h3m1 0h3m-1 0h3m1 0h3m1 0h3m-2 0h3m-2 0h3m-2 0h3m8 0h3m-2 0h3m-2 0h3m2 0h3m2 0h3m-1 0h3m-44 1h3m2 0h3m21 0h3m0 0h3m-1 0h3m0 0h3m-1 0h3m0 0h3m-2 0h3m-2 0h3m-2 0h3m-1 0h3m-46 1h3m7 0h3m14 0h3m0 0h3m0 0h3m5 0h3m-46 1h3m0 0h3m0 0h3m-1 0h3m0 0h3m3 0h3m6 0h3m0 0h3m1 0h3m0 0h3m2 0h3m-1 0h3m-2 0h3m-49 1h3m2 0h3m1 0h3m-2 0h3m0 0h3m1 0h3m11 0h3m7 0h3m1 0h3m-45 1h3m-1 0h3m-1 0h3m-2 0h3m1 0h3m-2 0h3m-2 0h3m11 0h3m2 0h3m4 0h3m-43 1h3m-1 0h3m-2 0h3m-2 0h3m0 0h3m3 0h3m0 0h3m7 0h3m2 0h3m12 0h3m-48 1h3m1 0h3m10 0h3m-2 0h3m-1 0h3m6 0h3m-2 0h3m-1 0h3m1 0h3m-1 0h3m3 0h3m-2 0h3m-48 1h3m3 0h3m-2 0h3m3 0h3m2 0h3m-1 0h3m-1 0h3m4 0h3m0 0h3m-2 0h3m4 0h3m-1 0h3m0 0h3m-2 0h3m-45 1h3m-2 0h3m-2 0h3m0 0h3m-2 0h3m1 0h3m1 0h3m5 0h3m-2 0h3m0 0h3m0 0h3m2 0h3m-2 0h3m-1 0h3m2 0h3m-43 1h3m-2 0h3m3 0h3m7 0h3m-1 0h3m0 0h3m11 0h3m-39 1h3m0 0h3m7 0h3m0 0h3m2 0h3m1 0h3m-1 0h3m2 0h3m-2 0h3m1 0h3m-37 1h3m0 0h3m0 0h3m-1 0h3m0 0h3m6 0h3m1 0h3m0 0h3m-1 0h3m-2 0h3m-2 0h3m-1 0h3m-37 1h3m12 0h3m1 0h3m-2 0h3m2 0h3m-2 0h3m0 0h3m-1 0h3m-1 0h3m-2 0h3m0 0h3m-33 1h3m3 0h3m-1 0h3m7 0h3m2 0h3m-2 0h3m-1 0h3m-2 0h3m-37 1h3m0 0h3m1 0h3m-2 0h3m5 0h3m-2 0h3m-2 0h3m-1 0h3m-1 0h3m2 0h3m-1 0h3m0 0h3m-1 0h3m1 0h3m-36 1h3m-1 0h3m5 0h3m1 0h3m-2 0h3m3 0h3m0 0h3m0 0h3m-2 0h3m-2 0h3m-37 1h3m-2 0h3m1 0h3m0 0h3m0 0h3m-1 0h3m8 0h3m-1 0h3m6 0h3m-35 1h3m-2 0h3m4 0h3m11 0h3m-2 0h3m-1 0h3m0 0h3m-2 0h3m-1 0h3m-2 0h3m-2 0h3m-2 0h3m-41 1h3m-2 0h3m-1 0h3m-2 0h3m0 0h3m-2 0h3m0 0h3m-1 0h3m1 0h3m0 0h3m0 0h3m0 0h3m-1 0h3m0 0h3m1 0h3m-36 1h3m0 0h3m0 0h3m-1 0h3m-2 0h3m8 0h3m0 0h3m2 0h3m-1 0h3m-1 0h3m-2 0h3m-2 0h3m-30 1h3m-1 0h3m5 0h3m-1 0h3m4 0h3m-1 0h3m-1 0h3m2 0h3m-38 1h3m-1 0h3m-2 0h3m-2 0h3m2 0h3m-2 0h3m3 0h3m0 0h3m4 0h3m1 0h3m-1 0h3m-29 1h3m-1 0h3m-2 0h3m2 0h3m-2 0h3m3 0h3m-1 0h3m0 0h3m-1 0h3m-2 0h3m-1 0h3m0 0h3m-36 1h3m-1 0h3m3 0h3m-2 0h3m-2 0h3m7 0h3m0 0h3m-2 0h3m-1 0h3m1 0h3m-2 0h3m-2 0h3m-2 0h3m-27 1h3m-1 0h3m1 0h3m3 0h3m-1 0h3m-2 0h3m4 0h3m-1 0h3m-31 1h3m0 0h3m-1 0h3m3 0h3m-2 0h3m-2 0h3m-2 0h3m1 0h3m1 0h3m-1 0h3m-2 0h3m-2 0h3m-2 0h3m-1 0h3m-2 0h3m-28 1h3m2 0h3m-2 0h3m-2 0h3m3 0h3m0 0h3m1 0h3m-2 0h3m-27 1h3m-2 0h3m10 0h3m-1 0h3m-2 0h3m-2 0h3m-20 1h3m-1 0h3m3 0h3m0 0h3m-1 0h3m1 0h3m-20 1h3m-2 0h3m9 0h3m2 0h3m2 0h3m-17 1h3m0 0h3m1 0h3m1 0h3m-10 1h3m-2 0h3m-2 0h3m0 0h3m-2 0h3m-1 0h3m-10 1h3m2 0h3m-7 1h3m0 0h3m0 0h3m-11 1h3m-1 0h3m1 1h3" stroke="#1a9bdc" stroke-width="3" fill="none"/>
<path transform="scale(.5)" d="M998 417h3m-4 1h3m1 0h3m-1 0h3m-9 1h3m2 0h3m-2 0h3m-2 0h3m1 0h3m-16 1h3m0 0h3m-1 0h3m2 0h3m0 0h3m-1 0h3m-1 0h3m-19 1h3m1 0h3m1 0h3m-2 0h3m4 0h3m-7 1h3m1 0h3m-7 1h3m-2 0h3m0 0h3m-1 0h3m-25 1h3m-2 0h3m0 0h3m0 0h3m3 0h3m-4 1h3m-1 0h3m-2 0h3m3 0h3m-2 0h3m-2 0h3m-25 1h3m1 0h3m-1 0h3m-1 0h3m0 0h3m-13 1h3m7 0h3m1 0h3m-17 1h3m-2 0h3m7 0h3m-2 0h3m-20 1h3m-1 0h3m-1 0h3m1 0h3m2 0h3m0 0h3m-1 0h3m-1 0h3m-24 1h3m0 0h3m-2 0h3m-1 0h3m4 0h3m2 0h3m-2 0h3m-2 0h3m0 0h3m-2 0h3m-21 1h3m-1 0h3m3 0h3m2 0h3m2 0h3m-25 1h3m-2 0h3m1 0h3m-1 0h3m1 0h3m-2 0h3m-1 0h3m-2 0h3m-16 1h3m-1 0h3m-1 0h3m-2 0h3m0 0h3m-2 0h3m2 0h3m-1 0h3m-2 0h3m1 0h3m-1 0h3m-33 1h3m-2 0h3m-1 0h3m1 0h3m1 0h3m-2 0h3m0 0h3m3 0h3m-2 0h3m-2 0h3m3 0h3m-32 1h3m3 0h3m-2 0h3m-2 0h3m11 0h3m-2 0h3m2 0h3m-29 1h3m3 0h3m-2 0h3m-2 0h3m6 0h3m-1 0h3m-2 0h3m0 0h3m1 0h3m-24 1h3m-1 0h3m-1 0h3m5 0h3m2 0h3m-25 1h3m-2 0h3m5 0h3m0 0h3m4 0h3m-2 0h3m-2 0h3m3 0h3m-26 1h3m2 0h3m5 0h3m1 0h3m-1 0h3m-1 0h3m-29 1h3m1 0h3m1 0h3m-1 0h3m-2 0h3m-2 0h3m4 0h3m2 0h3m-2 0h3m-29 1h3m-1 0h3m-2 0h3m3 0h3m-2 0h3m2 0h3m-1 0h3m5 0h3m-1 0h3m-29 1h3m3 0h3m0 0h3m-2 0h3m2 0h3m2 0h3m3 0h3m-8 1h3m-1 0h3m-28 1h3m-2 0h3m-2 0h3m-1 0h3m6 0h3m3 0h3m1 0h3m-2 0h3m-26 1h3m17 0h3m-1 0h3m3 0h3m-33 1h3m14 0h3m0 0h3m-2 0h3m3 0h3m2 0h3m-37 1h3m4 0h3m5 0h3m-1 0h3m2 0h3m-25 1h3m4 0h3m1 0h3m-2 0h3m1 0h3m-1 0h3m6 0h3m0 0h3m-1 0h3m-31 1h3m5 0h3m0 0h3m-1 0h3m0 0h3m4 0h3m-1 0h3m-30 1h3m0 0h3m-1 0h3m1 0h3m1 0h3m-2 0h3m2 0h3m0 0h3m-2 0h3m1 0h3m0 0h3m-33 1h3m0 0h3m-1 0h3m-2 0h3m11 0h3m1 0h3m1 0h3m-31 1h3m0 0h3m0 0h3m-2 0h3m8 0h3m-2 0h3m-2 0h3m-1 0h3m1 0h3m-29 1h3m-1 0h3m1 0h3m-1 0h3m0 0h3m0 0h3m1 0h3m-2 0h3m1 0h3m-22 1h3m0 0h3m1 0h3m1 0h3m-2 0h3m2 0h3m-23 1h3m13 0h3m5 0h3m-29 1h3m-1 0h3m0 0h3m7 0h3m4 0h3m4 0h3m-28 1h3m2 0h3m2 0h3m-2 0h3m1 0h3m-1 0h3m-2 0h3m1 0h3m0 0h3m0 0h3m-36 1h3m-1 0h3m4 0h3m-2 0h3m1 0h3m10 0h3m-2 0h3m0 0h3m-30 1h3m2 0h3m1 0h3m3 0h3m0 0h3m3 0h3m2 0h3m-26 1h3m8 0h3m2 0h3m1 0h3m-2 0h3m-2 0h3m-25 1h3m-2 0h3m2 0h3m4 0h3m1 0h3m-1 0h3m-1 0h3m-2 0h3m-35 1h3m-2 0h3m11 0h3m9 0h3m0 0h3m-1 0h3m-34 1h3m0 0h3m2 0h3m-2 0h3m-2 0h3m2 0h3m-2 0h3m-2 0h3m2 0h3m-1 0h3m2 0h3m-1 0h3m-1 0h3m-28 1h3m-2 0h3m3 0h3m9 0h3m4 0h3m-34 1h3m-1 0h3m2 0h3m-2 0h3m2 0h3m-2 0h3m3 0h3m1 0h3m-2 0h3m2 0h3m-33 1h3m-1 0h3m5 0h3m1 0h3m2 0h3m1 0h3m3 0h3m-2 0h3m-2 0h3m-26 1h3m-2 0h3m-2 0h3m2 0h3m3 0h3m-1 0h3m1 0h3m1 0h3m-37 1h3m1 0h3m-1 0h3m0 0h3m5 0h3m1 0h3m1 0h3m-28 1h3m0 0h3m6 0h3m-2 0h3m-2 0h3m-2 0h3m0 0h3m5 0h3m-2 0h3m-2 0h3m-29 1h3m-1 0h3m4 0h3m6 0h3m2 0h3m1 0h3m-28 1h3m8 0h3m6 0h3m-1 0h3m-1 0h3m-2 0h3m2 0h3m-36 1h3m-2 0h3m12 0h3m-16 1h3m8 0h3m-2 0h3m-2 0h3m1 0h3m-2 0h3m-1 0h3m7 0h3m-35 1h3m6 0h3m1 0h3m-2 0h3m4 0h3m0 0h3m-23 1h3m0 0h3m-1 0h3m-2 0h3m1 0h3m-1 0h3m1 0h3m1 0h3m-2 0h3m0 0h3m4 0h3m-33 1h3m4 0h3m0 0h3m3 0h3m2 0h3m-26 1h3m2 0h3m1 0h3m7 0h3m1 0h3m0 0h3m2 0h3m-1 0h3m-38 1h3m2 0h3m3 0h3m-1 0h3m1 0h3m-2 0h3m-1 0h3m-1 0h3m2 0h3m-1 0h3m2 0h3m-2 0h3m-40 1h3m0 0h3m-2 0h3m1 0h3m-2 0h3m-2 0h3m-1 0h3m10 0h3m-2 0h3m-1 0h3m-1 0h3m-2 0h3m0 0h3m-38 1h3m-2 0h3m1 0h3m9 0h3m-1 0h3m11 0h3m2 0h3m-35 1h3m5 0h3m-2 0h3m3 0h3m3 0h3m-1 0h3m0 0h3m-1 0h3m0 0h3m-1 0h3m-43 1h3m2 0h3m-2 0h3m-1 0h3m1 0h3m-2 0h3m5 0h3m-1 0h3m12 0h3m-36 1h3m0 0h3m0 0h3m3 0h3m2 0h3m5 0h3m1 0h3m-2 0h3m1 0h3m-36 1h3m-1 0h3m-1 0h3m-2 0h3m-1 0h3m-2 0h3m-1 0h3m12 0h3m-1 0h3m-2 0h3m5 0h3m-37 1h3m0 0h3m-1 0h3m5 0h3m9 0h3m-32 1h3m-2 0h3m3 0h3m2 0h3m-1 0h3m-2 0h3m10 0h3m-1 0h3m0 0h3m0 0h3m-1 0h3m-43 1h3m-1 0h3m6 0h3m-1 0h3m4 0h3m6 0h3m4 0h3m-38 1h3m5 0h3m-1 0h3m15 0h3m-2 0h3m-2 0h3m-1 0h3m0 0h3m0 0h3m-1 0h3m-43 1h3m16 0h3m9 0h3m2 0h3m0 0h3m-33 1h3m3 0h3m13 0h3m4 0h3m2 0h3m-44 1h3m-1 0h3m10 0h3m2 0h3m17 0h3m-37 1h3m-2 0h3m-1 0h3m-2 0h3m10 0h3m-2 0h3m-2 0h3m4 0h3m1 0h3m0 0h3m-45 1h3m2 0h3m3 0h3m19 0h3m-1 0h3m-2 0h3m0 0h3m2 0h3m-2 0h3m-45 1h3m2 0h3m-1 0h3m11 0h3m-2 0h3m-2 0h3m0 0h3m8 0h3m3 0h3m-1 0h3m-49 1h3m5 0h3m5 0h3m-2 0h3m-1 0h3m12 0h3m-36 1h3m-2 0h3m6 0h3m6 0h3m3 0h3m0 0h3m1 0h3m3 0h3m-1 0h3m-1 0h3m-1 0h3m-47 1h3m-1 0h3m-2 0h3m-2 0h3m-2 0h3m12 0h3m6 0h3m7 0h3m-1 0h3m1 0h3m-1 0h3m-50 1h3m3 0h3m0 0h3m12 0h3m7 0h3m9 0h3m-2 0h3m-50 1h3m1 0h3m0 0h3m8 0h3m-1 0h3m0 0h3m-1 0h3m2 0h3m-2 0h3m-1 0h3m16 0h3m-46 1h3m11 0h3m-1 0h3m-2 0h3m2 0h3m4 0h3m2 0h3m-2 0h3m-2 0h3m4 0h3m-54 1h3m0 0h3m1 0h3m11 0h3m-1 0h3m0 0h3m1 0h3m1 0h3m0 0h3m-2 0h3m-2 0h3m3 0h3m0 0h3m2 0h3m-53 1h3m-1 0h3m0 0h3m3 0h3m-1 0h3m1 0h3m16 0h3m1 0h3m-2 0h3m-2 0h3m-1 0h3m-2 0h3m-2 0h3m-1 0h3m-52 1h3m4 0h3m6 0h3m0 0h3m-1 0h3m7 0h3m8 0h3m-1 0h3m1 0h3m-52 1h3m0 0h3m9 0h3m3 0h3m13 0h3m1 0h3m0 0h3m1 0h3m-1 0h3m0 0h3m5 0h3m-1 0h3m-60 1h3m-2 0h3m2 0h3m4 0h3m7 0h3m-2 0h3m-2 0h3m4 0h3m4 0h3m5 0h3m1 0h3m4 0h3m1 0h3m-68 1h3m7 0h3m1 0h3m-1 0h3m11 0h3m-2 0h3m5 0h3m8 0h3m4 0h3m-2 0h3m4 0h3m-66 1h3m1 0h3m-2 0h3m1 0h3m-2 0h3m13 0h3m4 0h3m4 0h3m0 0h3m-1 0h3m2 0h3m-2 0h3m3 0h3m2 0h3m-2 0h3m-1 0h3m-67 1h3m3 0h3m-2 0h3m4 0h3m-2 0h3m-1 0h3m2 0h3m16 0h3m3 0h3m-1 0h3m3 0h3m-2 0h3m-2 0h3m-2 0h3m-53 1h3m-1 0h3m-1 0h3m3 0h3m1 0h3m8 0h3m3 0h3m4 0h3m-1 0h3m2 0h3m-1 0h3m-1 0h3m-59 1h3m8 0h3m-2 0h3m-2 0h3m-2 0h3m-2 0h3m-2 0h3m0 0h3m-1 0h3m0 0h3m-1 0h3m0 0h3m16 0h3m-1 0h3m0 0h3m2 0h3m-2 0h3m-2 0h3m-66 1h3m1 0h3m3 0h3m-1 0h3m-1 0h3m2 0h3m0 0h3m-2 0h3m-2 0h3m10 0h3m-2 0h3m5 0h3m13 0h3m-61 1h3m0 0h3m-2 0h3m-2 0h3m0 0h3m-2 0h3m1 0h3m-1 0h3m1 0h3m-2 0h3m1 0h3m2 0h3m2 0h3m1 0h3m7 0h3m-1 0h3m-2 0h3m-58 1h3m-2 0h3m3 0h3m-1 0h3m6 0h3m-1 0h3m5 0h3m10 0h3m-2 0h3m1 0h3m-2 0h3m1 0h3m6 0h3m-58 1h3m5 0h3m5 0h3m1 0h3m0 0h3m1 0h3m1 0h3m-1 0h3m0 0h3m1 0h3m0 0h3m1 0h3m3 0h3m-59 1h3m3 0h3m2 0h3m1 0h3m-1 0h3m3 0h3m6 0h3m0 0h3m1 0h3m0 0h3m0 0h3m7 0h3m-57 1h3m0 0h3m0 0h3m4 0h3m-2 0h3m4 0h3m10 0h3m3 0h3m2 0h3m3 0h3m-51 1h3m1 0h3m-1 0h3m5 0h3m-1 0h3m-2 0h3m-2 0h3m-1 0h3m-2 0h3m-2 0h3m0 0h3m1 0h3m-2 0h3m3 0h3m0 0h3m-2 0h3m3 0h3m-48 1h3m6 0h3m-2 0h3m-2 0h3m3 0h3m0 0h3m15 0h3m-1 0h3m-2 0h3m0 0h3m-42 1h3m0 0h3m9 0h3m12 0h3m0 0h3m5 0h3m-38 1h3m4 0h3m-2 0h3m-2 0h3m0 0h3m-2 0h3m7 0h3m-2 0h3m-2 0h3m2 0h3m-2 0h3m-40 1h3m0 0h3m2 0h3m-1 0h3m0 0h3m9 0h3m-25 1h3m-1 0h3m-1 0h3m0 0h3m2 0h3m-2 0h3m-1 0h3m1 0h3m-1 0h3m1 0h3m-2 0h3m-27 1h3m-2 0h3m-1 0h3m6 0h3m-2 0h3m-2 0h3m1 0h3m3 0h3m-1 0h3m-21 1h3m4 0h3m-2 0h3m1 0h3m0 0h3m-24 1h3m3 0h3m-2 0h3m0 0h3" stroke="#f5841f" stroke-width="3" fill="none"/>
<path transform="scale(.5)" d="M1026 448h2m-2 3h2m-3 2h2m0 1h2m-9 1h2m-3 1h2m10 0h2m-15 1h2m8 1h2m0 0h2m-9 1h2m3 0h2m-7 1h2m8 0h2m-16 2h2m-1 1h2m3 0h2m-10 1h2m8 1h2m-6 1h2m-8 3h2m4 0h2m0 0h2m-8 1h2m-1 0h2m-2 2h2m-3 1h2m1 2h2m9 0h2m-19 1h2m12 0h2m-6 1h2m4 0h2m-1 0h2m-16 1h2m-5 1h2m0 0h2m8 0h2m0 0h2m0 0h2m-1 0h2m-4 1h2m1 0h2m-8 1h2m-1 0h2m3 0h2m-14 1h2m8 0h2m-12 2h2m0 1h2m4 0h2m-17 1h2m4 0h2m2 0h2m-1 1h2m-8 1h2m0 0h2m-6 1h2m7 0h2m2 0h2m-1 0h2m-18 1h2m12 0h2m-15 1h2m13 0h2m-17 1h2m6 0h2m-4 2h2m0 0h2m6 0h2m-8 1h2m0 0h2m1 1h2m-16 1h2m8 0h2m-12 2h2m5 0h2m-1 0h2m-11 1h2m3 0h2m5 1h2m1 0h2m-13 1h2m1 0h2m-4 3h2m0 0h2m-1 0h2m3 1h2m-3 1h2m-6 2h2m-6 1h2m-1 0h2" stroke="#f5841f" stroke-width="2" fill="none"/>
<path transform="scale(.5)" d="M994 423h2m2 0h2m-11 1h2m-4 1h2m2 0h2m-4 1h2m-1 0h2m3 0h2m-5 1h2m1 0h2m-1 1h2m-12 1h2m0 0h2m-3 1h2m-1 0h2m0 0h2m-1 0h2m1 0h2m-3 1h2m-1 0h2m0 0h2m-6 1h2m-1 0h2m-4 1h2m4 0h2m-15 2h2m6 0h2m-6 1h2m-1 0h2m4 0h2m-14 1h2m0 0h2m0 1h2m1 0h2m-4 1h2m0 0h2m2 0h2m-6 1h2m-1 0h2m2 0h2m-6 2h2m-1 0h2m-13 1h2m0 0h2m-2 1h2m0 0h2m-1 0h2m2 0h2m3 0h2m-8 1h2m-6 1h2m0 0h2m0 0h2m-1 0h2m-7 1h2m-4 1h2m4 0h2m-8 2h2m1 0h2m-1 0h2m2 0h2m-1 1h2m-12 1h2m4 0h2m-6 1h2m3 0h2m-1 0h2m-10 1h2m-1 0h2m2 0h2m2 0h2m2 2h2m-16 1h2m4 0h2m-7 1h2m2 0h2m0 0h2m0 0h2m-8 1h2m-1 0h2m-1 0h2m0 0h2m-1 0h2m-4 3h2m2 0h2m-9 1h2m2 0h2m-3 2h2m-8 1h2m-1 2h2m7 2h2" stroke="#e8174a" stroke-width="2" fill="none"/>
<path transform="scale(.5)" d="M1001 451h2m9 4h2m-16 1h2m8 2h2m4 1h2m-12 1h2m2 0h2m1 0h2m-3 2h2m1 2h2m-6 1h2m0 0h2m-9 1h2m1 0h2m-5 1h2m7 1h2m3 0h2m-18 1h2m0 0h2m9 0h2m-18 3h2m-2 2h2m-1 0h2m13 0h2m1 1h2m-12 1h2m3 0h2m-23 1h2m8 0h2m-3 1h2m18 3h2m-33 1h2m28 1h2m-30 2h2m9 0h2m-13 3h2m10 0h2m1 0h2m-14 1h2m-7 1h2m21 0h2m-16 1h2m3 1h2m-15 1h2m18 1h2m-13 1h2m2 1h2m0 1h2m7 2h2m-11 2h2m-14 1h2m14 0h2m-16 1h2m10 1h2m-2 1h2m-1 1h2m-7 1h2m6 0h2" stroke="#1fbf80" stroke-width="2" fill="none"/>
<path d="M554.9 284.8C556 284.4 558.2 285.9 561.7 286.2C565.2 286.5 569.6 285.7 572.4 286.2C575.2 286.8 575.4 288 575.7 288.9C576 289.9 576.5 290.7 573.7 291C570.9 291.3 565.1 291.1 561.7 290.6C558.2 290 557.7 289.4 556.3 288.2C555 287 553.8 285.2 554.9 284.8Z" fill="#f4f4f4" stroke="#5a5a5a" stroke-width="0.45" stroke-linejoin="round"/>
<path d="M573.7 272.5C575.8 271.6 578.7 272.8 580.3 273.8C582 274.8 582 275.6 581.8 277.2C581.5 278.9 580.4 280.6 579 282.1C577.7 283.6 577.9 284.5 575 284.8C572.1 285.1 565.4 284.8 564.3 283.4C563.2 282.1 567.8 280.1 569.6 277.9C571.5 275.7 571.5 273.3 573.7 272.5Z" fill="#f4f4f4" stroke="#5a5a5a" stroke-width="0.45" stroke-linejoin="round"/>
<path d="M606.5 249.1C607.8 248.3 607.9 253.2 607.2 256C606.5 258.7 605.6 260.1 603.2 262.8C600.7 265.6 598.3 267.2 595.1 269.7C591.9 272.1 589.8 273.6 587.1 275.1C584.4 276.7 583.1 277.5 581.8 277.2C580.4 276.9 579.3 275.3 580.3 273.8C581.4 272.3 584.4 271.3 587.1 269.7C589.8 268 591.1 267.5 593.8 265.6C596.4 263.7 597.9 263.4 600.4 260.1C603 256.8 605.1 250 606.5 249.1Z" fill="#f4f4f4" stroke="#5a5a5a" stroke-width="0.45" stroke-linejoin="round"/>
<path d="M576.4 245C578.1 244.2 581.5 247.6 583 250.4C584.5 253.1 583 255.7 584 258.7C585 261.7 588.7 262.4 588 265.4C587.3 268.4 583.2 272.4 580.3 273.8C577.5 275.2 575 274.6 573.7 272.5C572.4 270.3 573.5 266.4 573.7 262.8C573.8 259.2 573.8 258.1 574.4 254.5C574.9 251 574.7 245.8 576.4 245Z" fill="#f4f4f4" stroke="#5a5a5a" stroke-width="0.45" stroke-linejoin="round"/>
<path d="M542.9 257.3C543.4 254.6 545.8 250.2 548.2 247.7C550.7 245.2 552 245.1 554.9 244.7C557.8 244.3 561.2 244.1 562.8 245.7C564.4 247.4 563.8 250.7 562.8 253C561.8 255.3 559.8 255.4 557.7 257.1C555.6 258.8 554.7 260.6 552.3 261.5C549.9 262.3 547.5 262.3 545.6 261.5C543.7 260.6 542.4 260.1 542.9 257.3Z" fill="#f4f4f4" stroke="#5a5a5a" stroke-width="0.45" stroke-linejoin="round"/>
<path d="M573.7 235.4C575.3 235.1 577.2 234.8 577.7 236.7C578.3 238.6 577.1 241.4 576.4 245C575.7 248.6 574.9 251 574.4 254.5C573.8 258.1 573.8 259.2 573.7 262.8C573.5 266.4 574.5 269.4 573.7 272.5C572.9 275.5 571.8 276 569.6 277.9C567.5 279.9 565.9 280.7 563 282.1C560 283.5 557.6 284.5 554.9 284.8C552.2 285.1 550.9 284.8 549.6 283.4C548.2 282.1 547.7 279.9 548.2 277.9C548.8 276 550.1 276 552.3 273.8C554.4 271.6 557.4 270 558.9 267C560.5 263.9 559.7 262.2 560.3 258.7C560.8 255.1 560.6 252.1 561.7 249.1C562.7 246.1 564 245.9 565.6 243.6C567.2 241.4 568 239.7 569.6 238.1C571.3 236.4 572.1 235.6 573.7 235.4Z" fill="#f4f4f4" stroke="#5a5a5a" stroke-width="0.45" stroke-linejoin="round"/>
<path d="M569.6 216.1C570.7 214.2 571.5 212.2 573.7 210.6C575.8 209 577.4 208.3 580.3 207.9C583.3 207.5 585.2 207.4 588.4 208.5C591.6 209.6 593.5 210.5 596.4 213.4C599.3 216.3 601.1 218.6 603.2 223C605.2 227.4 605.8 230.4 606.5 235.4C607.2 240.3 607 243.6 606.5 247.7C605.9 251.8 605.5 253.2 603.8 256C602 258.7 600.4 259.7 597.8 261.5C595.3 263.3 593.5 264.3 591 264.9C588.6 265.4 587.3 265.4 585.7 264.2C584.1 262.9 583.7 262 583.1 258.7C582.4 255.4 582.9 251.8 582.4 247.7C581.8 243.6 581.5 241.1 580.3 238.1C579.2 235 578 234.5 576.4 232.6C574.8 230.7 573.7 229.9 572.4 228.5C571 227.2 570.5 227.4 569.6 225.7C568.8 224.1 568.3 222.2 568.3 220.2C568.3 218.3 568.6 218 569.6 216.1Z" fill="#f4f4f4" stroke="#5a5a5a" stroke-width="0.45" stroke-linejoin="round"/>
<text x="593.5" y="212.7" font-size="5.1" fill="#4d4d4d" stroke="#4d4d4d">STRd</text>
<text x="563.4" y="254.8" font-size="5.1" fill="#4d4d4d" stroke="#4d4d4d">PAL</text>
<text x="592.3" y="273.6" font-size="5.1" fill="#4d4d4d" stroke="#4d4d4d">CTXsp</text>
<text x="580.2" y="284.2" font-size="5.1" fill="#4d4d4d" stroke="#4d4d4d">sAMY</text>
<text x="577.8" y="291" font-size="5.1" fill="#4d4d4d" stroke="#4d4d4d">STRv</text>
<path transform="scale(.5)" d="M1182 421h3m-2 0h3m-5 1h3m-2 0h3m-1 0h3m-11 1h3m4 0h3m-1 0h3m-10 1h3m-2 0h3m-2 0h3m-10 1h3m-2 0h3m0 0h3m0 0h3m3 0h3m-1 0h3m-2 0h3m-18 1h3m0 0h3m-2 0h3m1 0h3m6 0h3m-2 0h3m-24 1h3m7 0h3m-2 0h3m0 0h3m-1 0h3m1 0h3m-27 1h3m-2 0h3m-1 0h3m-1 0h3m0 0h3m-1 0h3m5 0h3m3 0h3m2 0h3m-32 1h3m1 0h3m-1 0h3m5 0h3m7 0h3m1 0h3m-1 0h3m-29 1h3m-2 0h3m0 0h3m2 0h3m3 0h3m1 0h3m-2 0h3m3 0h3m-2 0h3m-24 1h3m-1 0h3m5 0h3m-2 0h3m2 0h3m-1 0h3m-1 0h3m-2 0h3m-25 1h3m-1 0h3m2 0h3m0 0h3m3 0h3m-2 0h3m-1 0h3m1 0h3m-30 1h3m-1 0h3m-1 0h3m-2 0h3m-1 0h3m9 0h3m1 0h3m1 0h3m-29 1h3m-2 0h3m-2 0h3m-1 0h3m-2 0h3m-1 0h3m-1 0h3m9 0h3m-2 0h3m-1 0h3m-31 1h3m-2 0h3m2 0h3m0 0h3m-1 0h3m-2 0h3m0 0h3m-2 0h3m-1 0h3m-2 0h3m3 0h3m-2 0h3m2 0h3m-34 1h3m-2 0h3m-1 0h3m-1 0h3m3 0h3m5 0h3m1 0h3m-2 0h3m1 0h3m-1 0h3m-2 0h3m-36 1h3m-2 0h3m1 0h3m0 0h3m0 0h3m0 0h3m2 0h3m-2 0h3m3 0h3m3 0h3m-1 0h3m-37 1h3m0 0h3m-1 0h3m-2 0h3m2 0h3m-1 0h3m5 0h3m-2 0h3m-1 0h3m-2 0h3m1 0h3m-2 0h3m-1 0h3m-34 1h3m2 0h3m5 0h3m-1 0h3m1 0h3m-2 0h3m0 0h3m-2 0h3m-1 0h3m0 0h3m-2 0h3m2 0h3m-38 1h3m3 0h3m1 0h3m-2 0h3m6 0h3m0 0h3m3 0h3m-2 0h3m-31 1h3m6 0h3m3 0h3m2 0h3m6 0h3m-2 0h3m-35 1h3m2 0h3m3 0h3m4 0h3m0 0h3m-1 0h3m2 0h3m4 0h3m-38 1h3m-2 0h3m-2 0h3m7 0h3m1 0h3m0 0h3m-2 0h3m-2 0h3m-2 0h3m-1 0h3m-1 0h3m-1 0h3m-2 0h3m1 0h3m-34 1h3m0 0h3m-1 0h3m1 0h3m12 0h3m4 0h3m-37 1h3m-1 0h3m-2 0h3m1 0h3m11 0h3m-1 0h3m-2 0h3m-2 0h3m-2 0h3m2 0h3m3 0h3m-39 1h3m1 0h3m-2 0h3m2 0h3m-2 0h3m9 0h3m2 0h3m1 0h3m3 0h3m-37 1h3m-1 0h3m0 0h3m-2 0h3m-1 0h3m-2 0h3m0 0h3m2 0h3m10 0h3m-38 1h3m-2 0h3m-1 0h3m4 0h3m2 0h3m-2 0h3m-2 0h3m1 0h3m-2 0h3m-1 0h3m0 0h3m10 0h3m-43 1h3m-1 0h3m-1 0h3m2 0h3m0 0h3m1 0h3m4 0h3m2 0h3m-1 0h3m0 0h3m-31 1h3m-1 0h3m8 0h3m-2 0h3m-2 0h3m1 0h3m-1 0h3m1 0h3m-1 0h3m0 0h3m1 0h3m-2 0h3m-43 1h3m6 0h3m5 0h3m-2 0h3m0 0h3m-1 0h3m-2 0h3m11 0h3m-41 1h3m5 0h3m-2 0h3m-2 0h3m-2 0h3m3 0h3m-2 0h3m10 0h3m5 0h3m-1 0h3m-42 1h3m0 0h3m1 0h3m-1 0h3m-2 0h3m5 0h3m-2 0h3m-2 0h3m-24 1h3m-2 0h3m0 0h3m2 0h3m-1 0h3m1 0h3m-2 0h3m0 0h3m-1 0h3m-2 0h3m1 0h3m-2 0h3m0 0h3m0 0h3m-2 0h3m0 0h3m0 0h3m-42 1h3m-2 0h3m0 0h3m3 0h3m-1 0h3m1 0h3m4 0h3m-1 0h3m-2 0h3m2 0h3m-34 1h3m6 0h3m0 0h3m-2 0h3m0 0h3m-1 0h3m0 0h3m-2 0h3m2 0h3m0 0h3m1 0h3m-39 1h3m-2 0h3m0 0h3m4 0h3m0 0h3m-1 0h3m3 0h3m-1 0h3m-1 0h3m-2 0h3m4 0h3m-1 0h3m-2 0h3m-1 0h3m-42 1h3m-2 0h3m1 0h3m-1 0h3m1 0h3m-1 0h3m11 0h3m-1 0h3m4 0h3m-34 1h3m-1 0h3m2 0h3m-2 0h3m2 0h3m-2 0h3m4 0h3m0 0h3m3 0h3m0 0h3m-39 1h3m11 0h3m0 0h3m2 0h3m0 0h3m6 0h3m0 0h3m0 0h3m-42 1h3m8 0h3m-2 0h3m-1 0h3m-2 0h3m-1 0h3m-2 0h3m-1 0h3m-2 0h3m0 0h3m-2 0h3m4 0h3m-1 0h3m0 0h3m-2 0h3m-42 1h3m0 0h3m2 0h3m-1 0h3m3 0h3m0 0h3m0 0h3m-1 0h3m-2 0h3m-1 0h3m-1 0h3m7 0h3m-41 1h3m0 0h3m1 0h3m1 0h3m-2 0h3m-2 0h3m6 0h3m2 0h3m-1 0h3m-2 0h3m0 0h3m-30 1h3m4 0h3m-1 0h3m0 0h3m-2 0h3m3 0h3m-2 0h3m5 0h3m0 0h3m-1 0h3m-43 1h3m-1 0h3m-2 0h3m2 0h3m-1 0h3m5 0h3m6 0h3m-1 0h3m0 0h3m-2 0h3m-1 0h3m-35 1h3m6 0h3m2 0h3m6 0h3m1 0h3m0 0h3m2 0h3m-1 0h3m-44 1h3m-2 0h3m1 0h3m2 0h3m2 0h3m-2 0h3m-1 0h3m7 0h3m1 0h3m5 0h3m-42 1h3m-2 0h3m-2 0h3m18 0h3m0 0h3m4 0h3m-2 0h3m-2 0h3m2 0h3m-41 1h3m-1 0h3m-2 0h3m-2 0h3m-2 0h3m1 0h3m7 0h3m1 0h3m-1 0h3m-2 0h3m5 0h3m2 0h3m-38 1h3m6 0h3m0 0h3m5 0h3m-2 0h3m-2 0h3m2 0h3m0 0h3m2 0h3m-26 1h3m-2 0h3m-2 0h3m-1 0h3m-2 0h3m0 0h3m-1 0h3m-1 0h3m-2 0h3m3 0h3m-2 0h3m-38 1h3m-1 0h3m0 0h3m5 0h3m3 0h3m1 0h3m1 0h3m2 0h3m4 0h3m-41 1h3m0 0h3m-1 0h3m1 0h3m1 0h3m-1 0h3m2 0h3m-2 0h3m-2 0h3m0 0h3m-1 0h3m-31 1h3m0 0h3m-2 0h3m0 0h3m0 0h3m0 0h3m0 0h3m9 0h3m-2 0h3m-2 0h3m-2 0h3m-2 0h3m-1 0h3m-36 1h3m1 0h3m-1 0h3m0 0h3m2 0h3m3 0h3m9 0h3m2 0h3m-2 0h3m-41 1h3m-1 0h3m9 0h3m-1 0h3m-2 0h3m-2 0h3m4 0h3m-30 1h3m0 0h3m-2 0h3m-1 0h3m-2 0h3m4 0h3m-1 0h3m1 0h3m10 0h3m-2 0h3m0 0h3m-2 0h3m-37 1h3m-1 0h3m11 0h3m2 0h3m4 0h3m-2 0h3m-1 0h3m-1 0h3m-41 1h3m-1 0h3m0 0h3m5 0h3m-1 0h3m1 0h3m-1 0h3m2 0h3m-2 0h3m8 0h3m-40 1h3m9 0h3m-2 0h3m0 0h3m-2 0h3m-2 0h3m6 0h3m-2 0h3m-2 0h3m1 0h3m3 0h3m-44 1h3m-2 0h3m1 0h3m5 0h3m5 0h3m-2 0h3m1 0h3m3 0h3m-1 0h3m-2 0h3m2 0h3m-43 1h3m3 0h3m-2 0h3m5 0h3m6 0h3m-1 0h3m-1 0h3m11 0h3m-42 1h3m-2 0h3m0 0h3m3 0h3m1 0h3m-1 0h3m4 0h3m-2 0h3m0 0h3m-1 0h3m3 0h3m-39 1h3m-2 0h3m0 0h3m-1 0h3m2 0h3m-2 0h3m-2 0h3m0 0h3m1 0h3m1 0h3m4 0h3m6 0h3m-40 1h3m-2 0h3m-1 0h3m3 0h3m-2 0h3m1 0h3m-1 0h3m-2 0h3m3 0h3m2 0h3m2 0h3m-37 1h3m2 0h3m-1 0h3m3 0h3m2 0h3m-20 1h3m-1 0h3m3 0h3m2 0h3m0 0h3m1 0h3m1 0h3m5 0h3m0 0h3m-37 1h3m3 0h3m4 0h3m4 0h3m8 0h3m-37 1h3m-2 0h3m9 0h3m6 0h3m-2 0h3m8 0h3m-29 1h3m-1 0h3m19 0h3m2 0h3m-2 0h3m-42 1h3m-1 0h3m0 0h3m4 0h3m-1 0h3m0 0h3m1 0h3m0 0h3m2 0h3m2 0h3m-2 0h3m0 0h3m-38 1h3m-1 0h3m-1 0h3m-2 0h3m-2 0h3m-2 0h3m4 0h3m2 0h3m-2 0h3m3 0h3m3 0h3m-1 0h3m-39 1h3m-1 0h3m6 0h3m1 0h3m-2 0h3m0 0h3m13 0h3m-37 1h3m-1 0h3m0 0h3m-2 0h3m-2 0h3m4 0h3m5 0h3m-1 0h3m0 0h3m2 0h3m-38 1h3m1 0h3m1 0h3m1 0h3m1 0h3m0 0h3m2 0h3m-1 0h3m-1 0h3m-2 0h3m0 0h3m-2 0h3m2 0h3m-40 1h3m-1 0h3m2 0h3m-2 0h3m5 0h3m-1 0h3m-2 0h3m-1 0h3m-2 0h3m-1 0h3m3 0h3m-27 1h3m4 0h3m12 0h3m-31 1h3m0 0h3m-2 0h3m-2 0h3m-2 0h3m3 0h3m-1 0h3m1 0h3m0 0h3m12 0h3m-40 1h3m4 0h3m1 0h3m-1 0h3m-2 0h3m-2 0h3m-2 0h3m-2 0h3m-2 0h3m-2 0h3m-2 0h3m-2 0h3m5 0h3m6 0h3m-32 1h3m-2 0h3m3 0h3m4 0h3m5 0h3m-2 0h3m-1 0h3m-2 0h3m-1 0h3m-39 1h3m-1 0h3m-1 0h3m4 0h3m5 0h3m0 0h3m-1 0h3m6 0h3m-2 0h3m-1 0h3m-38 1h3m9 0h3m4 0h3m2 0h3m-1 0h3m1 0h3m-1 0h3m-2 0h3m-32 1h3m6 0h3m1 0h3m-1 0h3m-1 0h3m-2 0h3m-2 0h3m0 0h3m2 0h3m-2 0h3m-2 0h3m-2 0h3m-25 1h3m5 0h3m-1 0h3m1 0h3m-2 0h3m1 0h3m-35 1h3m1 0h3m5 0h3m1 0h3m1 0h3m3 0h3m3 0h3m0 0h3m-23 1h3m12 0h3m-20 1h3m-1 0h3m0 0h3m6 0h3m-2 0h3m-1 0h3m-2 0h3m1 0h3m-36 1h3m3 0h3m0 0h3m2 0h3m-2 0h3m-1 0h3m-2 0h3m4 0h3m-26 1h3m4 0h3m0 0h3m5 0h3m0 0h3m2 0h3m1 0h3m-29 1h3m6 0h3m3 0h3m1 0h3m0 0h3m-2 0h3m-1 0h3m-34 1h3m-2 0h3m-2 0h3m1 0h3m-2 0h3m-1 0h3m-1 0h3m1 0h3m-2 0h3m3 0h3m-2 0h3m-2 0h3m-24 1h3m0 0h3m5 0h3m3 0h3m0 0h3m-2 0h3m-2 0h3m-27 1h3m-2 0h3m0 0h3m-1 0h3m-2 0h3m-2 0h3m0 0h3m-1 0h3m-1 0h3m-2 0h3m2 0h3m0 0h3m-2 0h3m-2 0h3m-24 1h3m0 0h3m-2 0h3m0 0h3m-1 0h3m0 0h3m3 0h3m-2 0h3m-1 0h3m-30 1h3m-2 0h3m1 0h3m0 0h3m1 0h3m-2 0h3m-1 0h3m3 0h3m-1 0h3m-2 0h3m-2 0h3m-2 0h3m-28 1h3m-2 0h3m0 0h3m-2 0h3m1 0h3m3 0h3m6 0h3m-2 0h3m-27 1h3m7 0h3m-2 0h3m0 0h3m4 0h3m-2 0h3m-24 1h3m-1 0h3m7 0h3m-1 0h3m-2 0h3m-1 0h3m-21 1h3m3 0h3m13 0h3m-22 1h3m-2 0h3m8 0h3m-17 1h3m3 0h3m-1 0h3m1 0h3m-2 0h3m0 0h3m-17 1h3m3 0h3m-2 0h3m7 0h3m-19 1h3m-1 0h3m9 0h3m-2 0h3m-20 1h3m1 0h3m0 0h3m1 0h3m-13 1h3m5 0h3m2 0h3m-15 1h3m0 0h3m-2 0h3m-1 0h3m1 0h3m-14 1h3" stroke="#1a9bdc" stroke-width="3" fill="none"/>
<path transform="scale(.5)" d="M1146 418h3m0 0h3m-3 1h3m-8 1h3m-2 0h3m-7 1h3m-4 1h3m1 0h3m-2 0h3m9 0h3m-23 1h3m0 0h3m2 0h3m-11 1h3m8 0h3m11 0h3m-30 1h3m8 0h3m-1 0h3m-2 0h3m1 0h3m-21 1h3m1 0h3m9 0h3m-2 0h3m7 0h3m-2 0h3m-20 1h3m-2 0h3m0 0h3m0 0h3m6 0h3m-1 0h3m-2 0h3m-26 1h3m-2 0h3m1 0h3m2 0h3m1 0h3m-1 0h3m-24 1h3m8 0h3m-2 0h3m-2 0h3m-1 0h3m0 0h3m0 0h3m-21 1h3m1 0h3m-1 0h3m-2 0h3m-2 0h3m-1 0h3m3 0h3m6 0h3m-26 1h3m-2 0h3m-2 0h3m1 0h3m-1 0h3m5 0h3m-2 0h3m2 0h3m-26 1h3m3 0h3m-1 0h3m-1 0h3m0 0h3m-2 0h3m-1 0h3m2 0h3m-1 0h3m-24 1h3m1 0h3m0 0h3m6 0h3m-2 0h3m-1 0h3m-2 0h3m-1 0h3m-15 1h3m-2 0h3m8 0h3m-22 1h3m6 0h3m-2 0h3m-2 0h3m-2 0h3m-8 1h3m-1 0h3m0 0h3m-6 1h3m-14 1h3m-2 0h3m-1 0h3m-1 0h3m0 0h3m-12 1h3m3 0h3m-2 0h3m1 0h3m8 0h3m-29 1h3m7 0h3m-2 0h3m-2 0h3m1 0h3m-17 1h3m0 0h3m-2 0h3m1 0h3m0 0h3m-1 0h3m-11 1h3m1 0h3m0 0h3m-1 0h3m-1 0h3m1 0h3m1 0h3m-28 1h3m2 0h3m3 0h3m-2 0h3m-2 0h3m-1 0h3m-1 0h3m3 0h3m-21 1h3m-1 0h3m-2 0h3m5 0h3m-17 1h3m5 0h3m-2 0h3m5 0h3m-2 0h3m-2 0h3m-1 0h3m-2 0h3m-22 1h3m5 0h3m-1 0h3m3 0h3m0 0h3m-23 1h3m-2 0h3m0 0h3m-2 0h3m0 0h3m-1 0h3m1 0h3m-2 0h3m3 0h3m-26 1h3m-1 0h3m1 0h3m3 0h3m1 0h3m1 0h3m0 0h3m-23 1h3m3 0h3m-1 0h3m0 0h3m-2 0h3m-2 0h3m-18 1h3m-2 0h3m0 0h3m-1 0h3m0 0h3m-2 0h3m0 0h3m-1 0h3m0 0h3m-17 1h3m-2 0h3m-1 0h3m1 0h3m1 0h3m4 0h3m-24 1h3m8 0h3m1 0h3m-17 1h3m-1 0h3m3 0h3m4 0h3m2 0h3m-4 1h3m-1 0h3m-17 1h3m1 0h3m0 0h3m1 0h3m0 0h3m-23 1h3m0 0h3m3 0h3m1 0h3m-13 1h3m4 0h3m1 0h3m3 0h3m-17 1h3m6 0h3m-1 0h3m-18 1h3m10 0h3m-1 0h3m-2 0h3m-1 0h3m-19 1h3m0 0h3m4 0h3m-10 1h3m1 0h3m1 0h3m-1 0h3m0 0h3m-19 1h3m-2 0h3m12 0h3m-20 1h3m0 0h3m-1 0h3m2 0h3m2 0h3m-18 1h3m-2 0h3m-1 0h3m0 0h3m5 0h3m-1 0h3m-17 1h3m2 0h3m-1 0h3m-1 0h3m2 0h3m-2 0h3m-9 1h3m-2 0h3m0 0h3m-1 0h3m-14 1h3m-1 0h3m2 0h3m-1 0h3m-16 1h3m-2 0h3m1 0h3m-1 0h3m1 0h3m-1 0h3m-15 1h3m8 0h3m-2 0h3m-15 1h3m-2 0h3m4 0h3m-9 1h3m3 0h3m-11 1h3m-1 0h3m3 0h3m-3 1h3m-1 0h3m-2 0h3m-1 0h3m-16 1h3m7 0h3m-11 1h3m8 0h3m-1 0h3m-19 1h3m0 0h3m2 0h3m1 0h3m-2 0h3m-2 0h3m-13 1h3m0 0h3m5 0h3m-14 1h3m-2 0h3m9 0h3m-20 1h3m0 0h3m2 0h3m-2 0h3m3 0h3m-7 1h3m3 0h3m-19 1h3m10 0h3m-12 1h3m0 0h3m3 0h3m0 0h3m-15 1h3m6 0h3m-16 1h3m5 0h3m-2 0h3m-2 0h3m-1 0h3m0 0h3m-2 0h3m-12 1h3m0 0h3m-2 0h3m-2 0h3m-1 0h3m-2 0h3m-11 1h3m2 0h3m-10 1h3m1 0h3m1 0h3m-10 1h3m-4 1h3m1 0h3m-2 0h3m2 0h3m-1 0h3m-18 1h3m0 0h3m-2 0h3m-2 0h3m0 0h3m3 0h3m-15 1h3m-2 0h3m7 0h3m-1 0h3m-2 0h3m-4 1h3m-18 1h3m2 0h3m-1 0h3m4 0h3m-2 0h3m-11 1h3m1 0h3m1 0h3m-2 0h3m-17 1h3m8 0h3m-16 1h3m1 0h3m0 0h3m-2 0h3m-7 1h3m-1 0h3m-1 0h3m1 0h3m-13 1h3m-2 0h3m-2 0h3m7 0h3m-17 1h3m-2 0h3m-2 0h3m8 0h3m-15 1h3m-1 0h3m5 0h3m-2 0h3m1 0h3m-8 1h3m-2 0h3m-1 0h3m0 0h3m-2 0h3m-10 1h3m-1 0h3m-13 1h3m0 0h3m-1 0h3m7 0h3m-19 1h3m2 0h3m1 0h3m1 0h3m-2 0h3m-1 0h3m-7 1h3m-13 1h3m8 0h3m-14 1h3m-2 0h3m-1 0h3m4 0h3m-1 1h3m-3 1h3m-12 1h3m-1 0h3m7 0h3m-14 1h3m-1 0h3m2 0h3m-2 0h3m-12 1h3m4 0h3m-2 0h3m2 1h3m-15 1h3m3 0h3m2 0h3m-15 1h3m-1 0h3m-1 0h3m-2 0h3m4 0h3m-2 0h3m-2 0h3m-14 1h3m-1 0h3m-1 0h3m0 0h3m-7 1h3m1 0h3m-9 1h3m-1 0h3m-2 0h3m-2 0h3m-2 0h3m2 1h3m-2 0h3m-16 1h3m-2 0h3m2 0h3m3 0h3m-12 1h3m0 0h3m3 0h3m-14 1h3m-1 0h3m-1 0h3m5 0h3m-12 1h3m-1 0h3m-2 0h3m-2 0h3m1 0h3m-13 1h3m1 0h3m3 0h3m0 0h3m-9 1h3m0 0h3m-2 0h3m-2 0h3" stroke="#f5841f" stroke-width="3" fill="none"/>
<path transform="scale(.5)" d="M1183 446h2m-3 1h2m0 0h2m-5 1h2m1 0h2m-6 1h2m0 1h2m1 1h2m-6 1h2m5 2h2m-8 5h2m2 2h2m1 1h2m-9 2h2m0 0h2m-8 1h2m2 0h2m-1 0h2m-7 2h2m7 2h2m1 0h2m-15 1h2m0 1h2m1 0h2m-8 1h2m8 0h2m1 0h2m-12 1h2m1 0h2m1 0h2m-10 1h2m3 0h2m-5 1h2m2 0h2m1 1h2m0 0h2m-7 1h2m-6 1h2m5 0h2m0 0h2m-9 2h2m-4 1h2m3 0h2m-7 1h2m-1 0h2m-4 1h2m1 0h2m-5 1h2m-1 0h2m7 0h2m0 0h2m-12 2h2m3 0h2m1 0h2m-11 1h2m-4 1h2m-1 0h2m4 0h2m-1 0h2m3 0h2m-6 1h2m-9 1h2m0 0h2m-6 1h2m2 0h2m-1 3h2m1 0h2m0 0h2m-9 1h2m-6 2h2m6 1h2m3 1h2m-11 1h2m4 0h2m-11 1h2m7 0h2m-10 1h2m-2 2h2m1 2h2m3 0h2m-9 1h2m-2 4h2m3 1h2m-5 2h2m0 0h2m-1 1h2" stroke="#f5841f" stroke-width="2" fill="none"/>
<path transform="scale(.5)" d="M1149 418h2m-5 1h2m-3 1h2m1 0h2m-1 0h2m-1 0h2m2 0h2m-12 1h2m-1 0h2m1 0h2m-4 1h2m2 0h2m-1 0h2m3 0h2m-15 1h2m9 0h2m-13 1h2m-4 1h2m0 0h2m6 0h2m-1 0h2m1 0h2m-15 1h2m8 0h2m-1 0h2m-13 1h2m-1 0h2m2 0h2m-1 0h2m2 0h2m-10 1h2m2 0h2m1 0h2" stroke="#e8174a" stroke-width="2" fill="none"/>
<rect x="404.2" y="296.9" width="12.3" height="7.6" fill="#d6d6d6" rx="2.2"/>
<text x="410.4" y="302.8" font-size="6.3" fill="#231f20" stroke="#231f20" text-anchor="middle" font-weight="bold">279</text>
<path d="M408.5 353.8C408.8 355.7 410 360.8 412.3 364.6C414.6 368.3 416.2 370.1 420.1 372.6C424 375.2 426.8 376.3 431.8 377.4C436.7 378.5 440.3 378.7 444.7 378C449.1 377.3 451.5 376.1 453.7 373.9C455.9 371.8 455.7 369.6 455.7 367.2C455.7 364.8 455.9 363.4 453.7 361.8C451.5 360.2 447.8 359.2 444.7 359.2C441.6 359.2 441.3 361 438.2 361.8C435.1 362.6 433.1 363.4 429.2 363.2C425.3 362.9 422.5 362.1 418.9 360.5C415.2 358.9 413.1 356.5 411 355.1C409 353.8 408.2 351.9 408.5 353.8Z" fill="#f4f4f4" stroke="#5a5a5a" stroke-width="0.45" stroke-linejoin="round"/>
<path d="M414.9 336.2C416.1 333.6 416.8 333.2 418.9 332.3C420.9 331.3 422.7 331 425.3 331.6C427.9 332.1 429.7 332.9 431.8 334.9C433.8 336.9 433.8 339.2 435.7 341.6C437.5 344 439 345.1 440.8 347C442.7 348.9 444 349.2 444.7 351.1C445.5 353 446.1 354.3 444.7 356.5C443.4 358.6 441.3 360.5 438.2 361.8C435.1 363.2 432.8 363.4 429.2 363.2C425.6 362.9 423.1 362.1 420.1 360.5C417.1 358.9 415.7 358.1 414.3 355.1C412.8 352.2 412.9 349.5 413 345.7C413.1 341.9 413.8 338.9 414.9 336.2Z" fill="#f4f4f4" stroke="#5a5a5a" stroke-width="0.45" stroke-linejoin="round"/>
<path d="M460.9 326.9C463.6 323.1 463 326.1 463.5 328.2C464 330.4 464.1 334.4 463.5 337.7C462.9 340.9 462.2 342.4 460.3 344.4C458.3 346.4 455.8 347.2 453.7 347.7C451.7 348.2 448.5 351.2 449.9 347C451.3 342.8 458.1 330.6 460.9 326.9Z" fill="#f4f4f4" stroke="#5a5a5a" stroke-width="0.45" stroke-linejoin="round"/>
<path d="M422.7 301.3C424.3 298.7 425.4 298.9 428.5 297.9C431.6 297 434.2 296.4 438.2 296.5C442.2 296.6 444.9 297 448.6 298.5C452.2 300 453.9 301.2 456.4 303.9C458.8 306.6 459.6 308.3 460.9 312C462.2 315.8 462.8 318.8 462.8 322.8C462.8 326.9 461.9 329 460.9 332.3C459.8 335.5 459.1 336.6 457.6 339C456.2 341.4 455.8 342.8 453.7 344.4C451.7 346 450.1 346.5 447.3 347C444.5 347.5 442.1 347.8 439.6 347C437 346.2 436.2 345.2 434.4 343C432.6 340.9 432.6 338.7 430.5 336.2C428.4 333.8 426 333.8 424 330.8C422.1 327.9 421.5 325.5 420.7 321.5C419.9 317.5 419.7 314.8 420.1 310.7C420.5 306.7 421 303.8 422.7 301.3Z" fill="#f4f4f4" stroke="#5a5a5a" stroke-width="0.45" stroke-linejoin="round"/>
<text x="463.1" y="303.2" font-size="5.1" fill="#4d4d4d" stroke="#4d4d4d">STRd</text>
<text x="403.8" y="356.2" font-size="5.1" fill="#4d4d4d" stroke="#4d4d4d">PAL</text>
<text x="449.7" y="354" font-size="5.1" fill="#4d4d4d" stroke="#4d4d4d">CTXsp</text>
<text x="447.6" y="376.9" font-size="5.1" fill="#4d4d4d" stroke="#4d4d4d">STRv</text>
<line x1="444" y1="315" x2="462" y2="301" stroke="#666" stroke-width="0.35"/>
<path transform="scale(.5)" d="M862 598h2m-4 1h2m15 0h2m7 1h2m-2 1h2m-33 3h2m51 0h2m-1 0h2m-57 1h2m21 0h2m19 0h2m8 3h2m-52 2h2m-10 1h2m-1 0h2m-5 2h2m61 1h2m-12 1h2m5 0h2m-1 5h2m-47 1h2m-8 1h2m11 0h2m-3 2h2m0 0h2m40 0h2m-48 1h2m38 0h2m-14 1h2m-14 1h2m-5 1h2m37 3h2m-68 1h2m47 0h2m3 0h2m-33 3h2m-27 2h2m56 1h2m-60 1h2m40 2h2m19 0h2m-6 1h2m-9 1h2m-62 1h2m39 0h2m-27 1h2m6 0h2m-9 1h2m2 1h2m9 1h2m-32 1h2m22 0h2m42 2h2m-66 1h2m0 1h2m43 0h2m-12 1h2m-11 3h2m27 0h2m-47 1h2m40 0h2m13 0h2m-21 2h2m-19 1h2m-7 2h2m0 0h2m-29 5h2m59 0h2m-29 2h2m-7 1h2m-1 0h2m-31 1h2m49 0h2m3 0h2m-7 1h2m-42 1h2m42 0h2m-42 1h2m16 2h2m2 1h2m9 0h2m-41 1h2m0 0h2m32 1h2m-18 2h2m-1 0h2m2 0h2m-24 3h2m-3 1h2m12 2h2" stroke="#f5841f" stroke-width="2" fill="none"/>
<path transform="scale(.5)" d="M855 609h2m4 1h2m-9 2h2m3 2h2m-8 1h2m-3 2h2m15 2h2m-16 1h2m1 0h2m1 0h2m3 0h2m-9 1h2m-11 2h2m-3 1h2m-1 0h2m3 2h2m-2 3h2m-4 2h2m6 0h2m-2 3h2m-1 0h2m-3 1h2m-6 1h2m4 2h2m-3 2h2" stroke="#e8174a" stroke-width="2" fill="none"/>
<path transform="scale(.5)" d="M841 670h2m-2 1h2m-4 1h2m7 1h2m0 1h2m-20 1h2m2 0h2m8 0h2m3 0h2m-1 0h2m-20 1h2m9 0h2m2 1h2m-5 1h2m-20 1h2m2 0h2m14 0h2m1 1h2m2 0h2m-18 1h2m5 0h2m8 0h2m-23 1h2m1 0h2m1 0h2m11 0h2m-30 1h2m5 0h2m0 0h2m-5 1h2m5 0h2m1 0h2m-14 1h2m22 0h2m-24 1h2m6 1h2m7 0h2m3 0h2m3 0h2m-2 1h2m-34 1h2m1 0h2m23 0h2m-30 1h2m-1 1h2m-2 1h2m-1 0h2m16 0h2m-1 0h2m0 0h2m-21 1h2m3 0h2m1 0h2m4 0h2m12 0h2m-26 1h2m3 0h2m12 0h2m-28 1h2m-1 0h2m6 0h2m19 0h2m-24 1h2m4 0h2m13 0h2m-27 1h2m25 1h2m-30 1h2m17 0h2m-6 1h2m0 0h2m1 0h2m-10 3h2m-1 0h2m6 0h2m-21 1h2m1 1h2m6 1h2m-1 0h2m-9 1h2m3 0h2m3 0h2m-9 2h2m-2 1h2m6 0h2" stroke="#1fbf80" stroke-width="2" fill="none"/>
<line x1="416" y1="310" x2="428" y2="311" stroke="#e8174a" stroke-width="0.5"/>
<line x1="416" y1="321" x2="440" y2="321" stroke="#f5841f" stroke-width="0.5"/>
<line x1="416" y1="333" x2="422" y2="340" stroke="#1fbf80" stroke-width="0.5"/>
<text x="406.4" y="313" font-size="5.2" fill="#231f20" stroke="#231f20" font-weight="bold">987</text>
<text x="406.4" y="324" font-size="5.2" fill="#231f20" stroke="#231f20" font-weight="bold">988</text>
<text x="406.4" y="335" font-size="5.2" fill="#231f20" stroke="#231f20" font-weight="bold">986</text>
<path d="M478 364.4C477.4 365.9 479.1 368.6 482.2 371C485.3 373.4 488.4 375.1 493.5 376.3C498.5 377.5 502.7 377.5 507.5 377C512.3 376.5 514.6 375.7 517.4 373.7C520.2 371.7 521.3 369.1 521.6 367C521.9 364.8 520.5 364 518.8 363C517.1 362.1 515.7 362.6 513.1 362.3C510.6 362.1 509.8 361.8 506.1 361.6C502.5 361.5 499.1 361.4 494.9 361.6C490.6 361.9 488.4 362.5 485 363C481.6 363.6 478.5 362.8 478 364.4Z" fill="#f4f4f4" stroke="#5a5a5a" stroke-width="0.45" stroke-linejoin="round"/>
<path d="M473.7 337.8C475.3 335.4 478.2 334.3 480.7 333.7C483.3 333.2 485.8 334 486.4 335C486.9 336.1 484.6 336.9 483.6 339.1C482.6 341.2 481.9 342.5 481.5 345.7C481.1 348.9 481.1 351.5 481.5 355C481.9 358.5 484.6 361.2 483.6 363C482.6 364.9 478.6 366 476.6 364.4C474.6 362.7 474.5 358.8 473.7 355C473 351.3 473 349.1 473 345.7C473 342.2 472.2 340.1 473.7 337.8Z" fill="#f4f4f4" stroke="#5a5a5a" stroke-width="0.45" stroke-linejoin="round"/>
<path d="M483.6 348.4C484.9 346 486.7 342.7 489.2 341.7C491.8 340.6 493.4 341.9 496.2 343.1C499.1 344.3 500.2 346.6 503.3 347.7C506.4 348.8 509.5 347.4 511.8 348.4C514 349.3 514.2 350.3 514.5 352.4C514.8 354.5 514.8 357.2 513.1 359C511.5 360.9 509.8 361.1 506.1 361.6C502.5 362.2 498.8 362.4 494.9 361.6C490.9 360.9 488.8 359.3 486.4 357.7C484 356.1 483.4 355.6 482.9 353.7C482.3 351.8 482.3 350.8 483.6 348.4Z" fill="#f4f4f4" stroke="#5a5a5a" stroke-width="0.45" stroke-linejoin="round"/>
<path d="M530.8 332.4C532.7 330 533.4 332.4 534.3 333.7C535.1 335.1 535.6 337.2 535 339.1C534.4 340.9 533.6 341.7 531.5 343.1C529.4 344.4 524.5 347.8 524.4 345.7C524.2 343.6 528.8 334.8 530.8 332.4Z" fill="#f4f4f4" stroke="#5a5a5a" stroke-width="0.45" stroke-linejoin="round"/>
<path d="M489.2 304.4C490.6 301.4 491.8 300.1 494.9 298.5C498 296.9 500.5 296.5 504.7 296.5C509 296.5 512.1 296.9 516 298.5C519.9 300.1 521.6 301.4 524.4 304.4C527.2 307.5 528.5 309.8 530 313.8C531.6 317.8 532 320.4 532.1 324.4C532.3 328.4 531.7 330.5 530.8 333.7C529.8 336.9 529.4 338 527.2 340.4C525.1 342.8 523.3 344.1 520.2 345.7C517.1 347.3 515.1 348 511.8 348.4C508.4 348.8 506.4 348.8 503.3 347.7C500.2 346.6 498.8 345.6 496.2 343.1C493.7 340.5 492.3 338.8 490.6 335C488.9 331.3 488.4 328.7 487.9 324.4C487.3 320.1 487.6 317.8 487.9 313.8C488.1 309.8 487.8 307.5 489.2 304.4Z" fill="#f4f4f4" stroke="#5a5a5a" stroke-width="0.45" stroke-linejoin="round"/>
<text x="527" y="301.1" font-size="5.1" fill="#4d4d4d" stroke="#4d4d4d">STRd</text>
<text x="473" y="338.8" font-size="5.1" fill="#4d4d4d" stroke="#4d4d4d">STR</text>
<text x="514.7" y="359.5" font-size="5.1" fill="#4d4d4d" stroke="#4d4d4d">PAL</text>
<text x="470.9" y="375.9" font-size="5.1" fill="#4d4d4d" stroke="#4d4d4d">STRv</text>
<path transform="scale(.5)" d="M1029 598h2m-21 2h2m-4 2h2m3 0h2m-5 2h2m7 4h2m0 0h2m-36 1h2m19 0h2m-25 1h2m2 0h2m35 0h2m-10 2h2m15 0h2m5 0h2m-59 5h2m3 0h2m1 0h2m40 0h2m-45 1h2m17 1h2m30 0h2m-42 1h2m43 0h2m-26 2h2m0 0h2m1 3h2m25 0h2m-59 1h2m-19 1h2m37 1h2m16 0h2m-61 2h2m16 1h2m-7 1h2m57 1h2m-48 4h2m25 0h2m-37 3h2m56 0h2m-53 3h2m2 0h2m33 2h2m-65 1h2m25 0h2m33 0h2m2 1h2m-66 4h2m30 1h2m-32 1h2m2 2h2m7 0h2m5 0h2m11 0h2m-35 1h2m18 2h2m40 2h2m12 1h2m-9 7h2m-7 3h2m-50 2h2m9 1h2m-3 1h2m-17 3h2m19 0h2m-5 1h2m24 4h2m-29 5h2m21 2h2m-5 2h2" stroke="#f5841f" stroke-width="2" fill="none"/>
<path transform="scale(.5)" d="M1008 601h2m-14 4h2m10 3h2m-12 3h2m6 2h2m-7 3h2m-3 2h2m-1 1h2m31 0h2m-22 3h2m-30 2h2m-7 3h2m42 4h2m-17 1h2m-30 3h2m14 6h2m29 0h2m-29 5h2m-21 12h2m28 1h2m-12 3h2m-4 1h2m10 1h2m6 6h2m-22 2h2" stroke="#e8174a" stroke-width="2" fill="none"/>
<path transform="scale(.5)" d="M981 677h2m-16 1h2m-5 1h2m11 1h2m-15 2h2m2 4h2m11 0h2m-10 1h2m-10 2h2m2 0h2m14 0h2m1 2h2m-25 1h2m9 0h2m-4 2h2m1 1h2m9 2h2m-13 1h2m7 0h2m-23 4h2" stroke="#1fbf80" stroke-width="2" fill="none"/>
<path d="M554.3 371C555.4 370.6 557.7 372.1 561.3 372.4C564.9 372.7 569.4 371.9 572.3 372.4C575.1 372.9 575.4 374.1 575.7 375C575.9 375.9 576.5 376.7 573.6 377C570.7 377.3 564.8 377.1 561.3 376.6C557.7 376.1 557.2 375.4 555.8 374.3C554.4 373.2 553.2 371.4 554.3 371Z" fill="#f4f4f4" stroke="#5a5a5a" stroke-width="0.45" stroke-linejoin="round"/>
<path d="M573.6 359C575.8 358.2 578.8 359.4 580.4 360.3C582.1 361.3 582.2 362 581.9 363.7C581.6 365.3 580.5 366.9 579.1 368.4C577.7 369.8 578 370.7 574.9 371C571.9 371.2 565.1 371 564 369.7C562.9 368.3 567.5 366.5 569.5 364.4C571.4 362.2 571.4 359.8 573.6 359Z" fill="#f4f4f4" stroke="#5a5a5a" stroke-width="0.45" stroke-linejoin="round"/>
<path d="M607.3 336.4C608.7 335.6 608.7 340.4 608 343.1C607.3 345.7 606.3 347 603.9 349.7C601.4 352.3 598.9 353.9 595.6 356.3C592.3 358.7 590.1 360.2 587.4 361.6C584.6 363.1 583.3 363.9 581.9 363.7C580.5 363.4 579.3 361.8 580.4 360.3C581.5 358.9 584.6 357.9 587.4 356.3C590.1 354.7 591.5 354.3 594.2 352.4C597 350.6 598.4 350.3 601.1 347.1C603.7 343.9 605.9 337.3 607.3 336.4Z" fill="#f4f4f4" stroke="#5a5a5a" stroke-width="0.45" stroke-linejoin="round"/>
<path d="M576.4 332.4C578.2 331.6 581.6 335 583.1 337.7C584.7 340.3 583.1 342.8 584.2 345.7C585.2 348.6 589.1 349.3 588.3 352.2C587.6 355.1 583.4 359 580.4 360.3C577.5 361.7 575 361.2 573.6 359C572.2 356.9 573.5 353.2 573.6 349.7C573.7 346.2 573.8 345.1 574.3 341.7C574.9 338.2 574.6 333.2 576.4 332.4Z" fill="#f4f4f4" stroke="#5a5a5a" stroke-width="0.45" stroke-linejoin="round"/>
<path d="M542 344.4C542.5 341.7 545 337.5 547.5 335C550 332.6 551.3 332.5 554.3 332.1C557.3 331.8 560.8 331.5 562.4 333.1C564 334.7 563.4 338 562.4 340.2C561.4 342.4 559.4 342.5 557.2 344.2C555.1 345.8 554.1 347.6 551.6 348.4C549.1 349.2 546.7 349.2 544.8 348.4C542.9 347.6 541.5 347 542 344.4Z" fill="#f4f4f4" stroke="#5a5a5a" stroke-width="0.45" stroke-linejoin="round"/>
<path d="M573.6 323.1C575.3 322.8 577.2 322.5 577.7 324.4C578.3 326.3 577.1 329 576.4 332.4C575.7 335.9 574.9 338.2 574.3 341.7C573.8 345.1 573.7 346.2 573.6 349.7C573.5 353.2 574.4 356.1 573.6 359C572.8 362 571.7 362.5 569.5 364.4C567.3 366.2 565.6 367 562.6 368.4C559.6 369.7 557.1 370.7 554.3 371C551.6 371.2 550.2 371 548.8 369.7C547.5 368.3 546.9 366.2 547.5 364.4C548.1 362.5 549.4 362.5 551.6 360.3C553.8 358.2 556.8 356.6 558.5 353.7C560.1 350.8 559.3 349.1 559.8 345.7C560.4 342.2 560.2 339.4 561.3 336.4C562.4 333.5 563.7 333.3 565.3 331.1C566.9 329 567.8 327.3 569.5 325.7C571.1 324.1 571.9 323.4 573.6 323.1Z" fill="#f4f4f4" stroke="#5a5a5a" stroke-width="0.45" stroke-linejoin="round"/>
<path d="M569.5 304.4C570.6 302.6 571.4 300.7 573.6 299.1C575.8 297.5 577.4 296.9 580.4 296.5C583.5 296.1 585.4 296 588.7 297.1C592 298.2 593.9 299 596.9 301.8C599.9 304.6 601.8 306.9 603.9 311.2C605.9 315.4 606.6 318.3 607.3 323.1C608 327.9 607.8 331 607.3 335C606.7 339 606.3 340.4 604.5 343.1C602.7 345.7 601 346.7 598.4 348.4C595.8 350.1 593.9 351.2 591.4 351.7C588.9 352.2 587.6 352.2 585.9 351C584.3 349.8 583.9 348.9 583.2 345.7C582.6 342.5 583.1 339 582.5 335C582 331 581.7 328.6 580.4 325.7C579.2 322.8 578 322.2 576.4 320.4C574.8 318.5 573.6 317.8 572.3 316.5C570.9 315.1 570.3 315.4 569.5 313.8C568.6 312.2 568.1 310.3 568.1 308.4C568.1 306.6 568.4 306.3 569.5 304.4Z" fill="#f4f4f4" stroke="#5a5a5a" stroke-width="0.45" stroke-linejoin="round"/>
<text x="547.4" y="320.8" font-size="5.1" fill="#4d4d4d" stroke="#4d4d4d">STRd</text>
<text x="564.3" y="344.1" font-size="5.1" fill="#4d4d4d" stroke="#4d4d4d">PAL</text>
<text x="580.2" y="372.7" font-size="5.1" fill="#4d4d4d" stroke="#4d4d4d">sAMY</text>
<text x="578.1" y="380.1" font-size="5.1" fill="#4d4d4d" stroke="#4d4d4d">STRv</text>
<line x1="557" y1="318" x2="582" y2="318" stroke="#666" stroke-width="0.35"/>
<path transform="scale(.5)" d="M1187 620h2m-13 14h2m9 0h2m-15 1h2m-12 1h2m33 5h2m-40 3h2m-2 3h2m30 0h2m-2 1h2m3 0h2m0 0h2m-28 4h2m-9 6h2m-4 3h2m29 1h2m-14 1h2m15 1h2m-29 1h2m-10 3h2m15 1h2m-18 2h2m31 0h2m-40 1h2m20 1h2m-6 4h2m-12 2h2m-7 2h2m20 0h2m8 0h2m-30 1h2m-1 1h2m23 0h2m-24 2h2m-3 3h2m14 1h2m1 0h2m-31 2h2m7 2h2m2 1h2" stroke="#f5841f" stroke-width="2" fill="none"/>
<path transform="scale(.5)" d="M1169 605h2m-7 4h2m3 0h2m-6 7h2m10 3h2m10 0h2m-38 4h2m16 1h2m-2 6h2m16 0h2m4 10h2m-17 8h2m-8 3h2m9 0h2m-27 4h2m34 3h2m-41 3h2m29 5h2m-21 5h2m25 4h2" stroke="#e8174a" stroke-width="2" fill="none"/>
<path transform="scale(.5)" d="M1182 655h2m-16 1h2m8 6h2m-8 6h2m1 1h2m2 11h2m-23 12h2m24 8h2" stroke="#1fbf80" stroke-width="2" fill="none"/>
<rect x="613.7" y="297.5" width="12" height="7.9" fill="#d6d6d6" rx="2.2"/>
<text x="619.7" y="303.7" font-size="6.3" fill="#231f20" stroke="#231f20" text-anchor="middle" font-weight="bold">280</text>
<path d="M667.7 298C668.8 298.7 669.5 299.3 671 302C672.5 304.7 674.3 307.6 675.1 311.4C675.9 315.2 675.5 317.6 675.1 320.8C674.7 324 672.8 324.8 673.1 327.5C673.4 330.2 675.3 330.8 676.4 334.3C677.5 337.8 678.4 340.7 678.4 345C678.4 349.3 678.1 351.4 676.4 355.7C674.7 360 672.9 362.7 669.7 366.5C666.5 370.3 664.1 372.4 660.3 374.5C656.5 376.6 654.4 377.1 650.9 376.8C647.4 376.5 645 374.6 642.9 373.2C640.8 371.8 641 369.7 640.2 370C639.4 370.3 639.9 373.2 638.8 374.5C637.7 375.8 637.2 376.5 634.8 376.5C632.4 376.5 629.3 376.2 626.8 374.5C624.3 372.8 623.2 370.4 622.3 368C621.4 365.6 622.1 364 622.5 362.4C622.9 360.8 622.7 361.1 624.1 359.8C625.5 358.5 626.5 358.1 629.4 355.7C632.3 353.3 634.8 351.4 638.8 347.7C642.8 344 646.4 339.7 649.6 337C652.8 334.3 653.3 335.7 654.9 334.3C656.5 332.9 656.2 332.9 657.6 330.2C659 327.5 660.2 325.4 661.7 320.8C663.2 316.2 664.2 311.8 665 307.4C665.8 303 665.2 300.6 665.7 298.7C666.2 296.8 666.6 297.3 667.7 298Z" fill="#f4f4f4" stroke="#5a5a5a" stroke-width="0.45" stroke-linejoin="round"/>
<path d="M654.9 334.3C656.9 334.5 664 336.7 667 335.6C670 334.5 672.1 328.9 673.1 327.5" fill="none" stroke="#5a5a5a" stroke-width="0.45" stroke-linecap="round" stroke-linejoin="round"/>
<path d="M650.9 339C652.2 339.8 656.3 344.3 659 343.7C661.7 343.1 665.7 337 667 335.6" fill="none" stroke="#5a5a5a" stroke-width="0.45" stroke-linecap="round" stroke-linejoin="round"/>
<path d="M659 343.7C657.2 345.2 651.2 350.1 648.2 353C645.2 355.9 642.4 358.4 640.9 361.1C639.4 363.8 639.6 367.5 639.5 369.1C639.4 370.8 640.1 370.7 640.2 371" fill="none" stroke="#5a5a5a" stroke-width="0.45" stroke-linecap="round" stroke-linejoin="round"/>
<text x="649.6" y="310.4" font-size="5.1" fill="#4d4d4d" stroke="#4d4d4d">STRd</text>
<text x="644.2" y="334.5" font-size="5.1" fill="#4d4d4d" stroke="#4d4d4d">STR</text>
<text x="622.7" y="347" font-size="5.1" fill="#4d4d4d" stroke="#4d4d4d">sAMY</text>
<text x="665.7" y="374.5" font-size="5.1" fill="#4d4d4d" stroke="#4d4d4d">CTXsp</text>
<path transform="scale(.5)" d="M1310 670h2m-1 0h2m0 0h2m0 0h2m-9 1h2m-1 0h2m1 0h2m1 0h2m0 0h2m-8 1h2m-1 0h2m1 0h2m0 0h2m-11 1h2m0 0h2m2 0h2m-1 0h2m-6 1h2m0 0h2" stroke="#1fbf80" stroke-width="2" fill="none"/>
<path transform="scale(.5)" d="M1296 695h2m8 0h2m-13 1h2m-1 0h2m2 0h2m1 0h2m0 1h2m-3 1h2m-4 1h2" stroke="#1fbf80" stroke-width="2" fill="none"/>
<line x1="646" y1="323" x2="655" y2="335" stroke="#1fbf80" stroke-width="0.5"/>
<text x="639.5" y="319.5" font-size="5.2" fill="#231f20" stroke="#231f20" font-weight="bold">989</text>
<rect x="405.3" y="386.9" width="12.1" height="7.6" fill="#d6d6d6" rx="2.2"/>
<text x="411.4" y="392.8" font-size="6.3" fill="#231f20" stroke="#231f20" text-anchor="middle" font-weight="bold">275</text>
<path d="M412.7 444.8C413 446.7 414.2 451.8 416.5 455.6C418.9 459.3 420.5 461.1 424.4 463.6C428.3 466.2 431.1 467.3 436.1 468.4C441 469.5 444.7 469.7 449.1 469C453.6 468.3 456 467.1 458.2 464.9C460.4 462.8 460.1 460.6 460.1 458.2C460.1 455.8 460.4 454.4 458.2 452.8C456 451.2 452.3 450.2 449.1 450.2C446 450.2 445.7 452 442.6 452.8C439.4 453.6 437.4 454.4 433.5 454.2C429.6 453.9 426.8 453.1 423.1 451.5C419.5 449.9 417.3 447.5 415.3 446.1C413.2 444.8 412.4 442.9 412.7 444.8Z" fill="#f4f4f4" stroke="#5a5a5a" stroke-width="0.45" stroke-linejoin="round"/>
<path d="M419.2 427.2C420.4 424.6 421 424.2 423.1 423.3C425.2 422.3 427 422 429.6 422.6C432.2 423.1 434 423.9 436.1 425.9C438.2 427.9 438.2 430.2 440 432.6C441.8 435 443.4 436.1 445.2 438C447 439.9 448.4 440.2 449.1 442.1C449.9 444 450.5 445.3 449.1 447.5C447.8 449.6 445.7 451.5 442.6 452.8C439.4 454.2 437.2 454.4 433.5 454.2C429.9 453.9 427.4 453.1 424.4 451.5C421.4 449.9 419.9 449.1 418.5 446.1C417.1 443.2 417.1 440.5 417.2 436.7C417.4 432.9 418 429.9 419.2 427.2Z" fill="#f4f4f4" stroke="#5a5a5a" stroke-width="0.45" stroke-linejoin="round"/>
<path d="M465.3 417.9C468.1 414.1 467.5 417.1 468 419.2C468.5 421.4 468.6 425.4 468 428.7C467.4 431.9 466.7 433.4 464.8 435.4C462.8 437.4 460.3 438.2 458.2 438.7C456.1 439.2 452.9 442.2 454.3 438C455.8 433.8 462.6 421.6 465.3 417.9Z" fill="#f4f4f4" stroke="#5a5a5a" stroke-width="0.45" stroke-linejoin="round"/>
<path d="M426.9 392.3C428.6 389.7 429.7 389.9 432.8 388.9C436 388 438.5 387.4 442.6 387.5C446.6 387.6 449.3 388 453 389.5C456.6 391 458.4 392.2 460.8 394.9C463.3 397.6 464.1 399.3 465.3 403C466.6 406.8 467.3 409.8 467.3 413.8C467.3 417.9 466.4 420 465.3 423.3C464.3 426.5 463.5 427.6 462.1 430C460.7 432.4 460.3 433.8 458.2 435.4C456.1 437 454.5 437.5 451.7 438C448.8 438.5 446.5 438.8 443.9 438C441.3 437.2 440.6 436.2 438.7 434C436.9 431.9 436.9 429.7 434.8 427.2C432.7 424.8 430.3 424.8 428.3 421.8C426.4 418.9 425.8 416.5 425 412.5C424.2 408.5 424 405.8 424.4 401.7C424.8 397.7 425.3 394.8 426.9 392.3Z" fill="#f4f4f4" stroke="#5a5a5a" stroke-width="0.45" stroke-linejoin="round"/>
<text x="439.8" y="411.9" font-size="5.1" fill="#4d4d4d" stroke="#4d4d4d">STRd</text>
<text x="407.4" y="448.9" font-size="5.1" fill="#4d4d4d" stroke="#4d4d4d">PAL</text>
<text x="454" y="446.2" font-size="5.1" fill="#4d4d4d" stroke="#4d4d4d">CTXsp</text>
<text x="451.9" y="468" font-size="5.1" fill="#4d4d4d" stroke="#4d4d4d">STRv</text>
<path transform="scale(.5)" d="M844 852h3m1 0h3m-10 1h3m-2 0h3m1 0h3m-2 0h3m-2 0h3m-9 1h3m1 0h3m-9 1h3m2 0h3m-2 0h3m-2 0h3m-14 1h3m2 0h3m-1 0h3m-2 0h3m2 0h3m-14 1h3m-1 0h3m0 0h3m2 0h3m-13 1h3m-2 0h3m-2 0h3m-2 0h3m0 0h3m-2 0h3m-10 1h3m0 0h3m-2 0h3m6 0h3m-2 0h3m-20 1h3m-2 0h3m-1 0h3m0 0h3m-2 0h3m0 0h3m-2 0h3m0 0h3m0 0h3m-20 1h3m0 0h3m-1 0h3m0 0h3m-2 0h3m3 0h3m-2 0h3m-17 1h3m-1 0h3m2 0h3m-2 0h3m-1 0h3m-16 1h3m-2 0h3m-2 0h3m0 0h3m-2 0h3m-2 0h3m3 0h3m0 0h3m-2 0h3m-21 1h3m3 0h3m-2 0h3m0 0h3m-2 0h3m0 0h3m1 0h3m-21 1h3m-1 0h3m0 0h3m-1 0h3m-1 0h3m-1 0h3m-2 0h3m1 0h3m-17 1h3m1 0h3m1 0h3m6 0h3m-18 1h3m-1 0h3m-2 0h3m-2 0h3m3 0h3m1 0h3m-21 1h3m0 0h3m-2 0h3m-2 0h3m-2 0h3m-1 0h3m3 0h3m-1 0h3m-1 0h3m-22 1h3m0 0h3m-2 0h3m5 0h3m1 0h3m-1 0h3m-2 0h3m-21 1h3m-2 0h3m-2 0h3m-1 0h3m-2 0h3m-2 0h3m-1 0h3m-2 0h3m-2 0h3m-2 0h3m-2 0h3m-2 0h3m1 0h3m-2 0h3m-2 0h3m-24 1h3m-1 0h3m-2 0h3m-1 0h3m1 0h3m-2 0h3m-2 0h3m2 0h3m-14 1h3m-1 0h3m1 0h3m5 0h3m-1 0h3m-19 1h3m-2 0h3m5 0h3m0 0h3m-1 0h3m-2 0h3m-2 0h3m-22 1h3m-1 0h3m-1 0h3m-2 0h3m7 0h3m-1 0h3m-19 1h3m3 0h3m-2 0h3m-8 1h3m1 0h3m6 0h3m-9 1h3m0 0h3m-1 0h3m-2 0h3m-1 0h3m-18 1h3m-2 0h3m6 0h3m-12 1h3m-2 0h3m1 0h3m-2 0h3m-2 0h3m-2 0h3m0 0h3m-13 1h3m0 0h3m-2 0h3m4 0h3m-2 0h3m-14 1h3m1 0h3m-1 0h3m1 0h3m-13 1h3m-1 0h3m0 0h3m-2 0h3m-1 0h3m-1 0h3m0 0h3" stroke="#e8174a" stroke-width="3" fill="none"/>
<path transform="scale(.5)" d="M850 873h3m-2 0h3m-4 1h3m-2 0h3m-3 1h3m-2 0h3m0 0h3m-15 1h3m-2 0h3m4 0h3m-7 1h3m2 0h3m-2 0h3m0 0h3m-14 1h3m11 0h3m-19 1h3m-1 0h3m2 0h3m2 0h3m-2 0h3m-15 1h3m8 0h3m-1 0h3m3 0h3m-28 1h3m1 0h3m13 0h3m-25 1h3m0 0h3m4 0h3m-1 0h3m2 0h3m-1 0h3m1 0h3m1 0h3m-31 1h3m10 0h3m6 0h3m-2 0h3m-1 0h3m3 0h3m-28 1h3m3 0h3m0 0h3m-1 0h3m6 0h3m0 0h3m2 0h3m-36 1h3m19 0h3m-1 0h3m-2 0h3m-1 0h3m-22 1h3m-2 0h3m5 0h3m-2 0h3m-2 0h3m3 0h3m-2 0h3m5 0h3m-2 0h3m-34 1h3m-2 0h3m-2 0h3m3 0h3m-1 0h3m-1 0h3m-2 0h3m-2 0h3m-2 0h3m5 0h3m-2 0h3m-1 0h3m0 0h3m0 0h3m-35 1h3m-2 0h3m-1 0h3m-2 0h3m9 0h3m-2 0h3m0 0h3m-2 0h3m-2 0h3m0 0h3m0 0h3m0 0h3m-38 1h3m0 0h3m7 0h3m6 0h3m-2 0h3m1 0h3m-1 0h3m1 0h3m-28 1h3m0 0h3m-1 0h3m-2 0h3m-1 0h3m-1 0h3m-2 0h3m0 0h3m2 0h3m-1 0h3m7 0h3m-39 1h3m2 0h3m1 0h3m1 0h3m-1 0h3m3 0h3m1 0h3m4 0h3m-1 0h3m0 0h3m-43 1h3m2 0h3m0 0h3m-1 0h3m-2 0h3m5 0h3m0 0h3m4 0h3m-1 0h3m-2 0h3m0 0h3m-1 0h3m0 0h3m-31 1h3m-2 0h3m3 0h3m-1 0h3m0 0h3m-23 1h3m4 0h3m1 0h3m-1 0h3m5 0h3m3 0h3m-1 0h3m-2 0h3m0 0h3m-36 1h3m0 0h3m1 0h3m-1 0h3m0 0h3m1 0h3m5 0h3m11 0h3m-2 0h3m-45 1h3m1 0h3m3 0h3m5 0h3m1 0h3m4 0h3m1 0h3m-2 0h3m-2 0h3m0 0h3m-33 1h3m3 0h3m1 0h3m4 0h3m-2 0h3m-1 0h3m7 0h3m-33 1h3m-2 0h3m5 0h3m-1 0h3m2 0h3m7 0h3m-34 1h3m5 0h3m0 0h3m1 0h3m1 0h3m5 0h3m-1 0h3m0 0h3m4 0h3m-44 1h3m-2 0h3m4 0h3m4 0h3m0 0h3m1 0h3m-1 0h3m-2 0h3m1 0h3m0 0h3m-2 0h3m-2 0h3m0 0h3m-2 0h3m0 0h3m-2 0h3m-41 1h3m13 0h3m-1 0h3m-2 0h3m3 0h3m0 0h3m-2 0h3m0 0h3m-2 0h3m-1 0h3m0 0h3m-42 1h3m-2 0h3m4 0h3m1 0h3m-2 0h3m0 0h3m3 0h3m0 0h3m-1 0h3m3 0h3m0 0h3m-1 0h3m-2 0h3m-2 0h3m-29 1h3m-1 0h3m1 0h3m0 0h3m0 0h3m2 0h3m1 0h3m-2 0h3m0 0h3m-36 1h3m-2 0h3m-2 0h3m0 0h3m2 0h3m0 0h3m6 0h3m2 0h3m2 0h3m0 0h3m-39 1h3m7 0h3m15 0h3m2 0h3m-2 0h3m-28 1h3m1 0h3m-2 0h3m-1 0h3m9 0h3m0 0h3m-34 1h3m-1 0h3m4 0h3m-1 0h3m-2 0h3m3 0h3m-17 1h3m-2 0h3m0 0h3m2 0h3m-2 0h3m2 0h3m1 0h3m-2 0h3m-1 0h3m-20 1h3m-1 0h3m-2 0h3m-1 0h3m-2 0h3m0 0h3m2 0h3m0 0h3m-25 1h3m5 0h3m6 0h3m0 0h3m-9 1h3m0 0h3" stroke="#1f1a5c" stroke-width="3" fill="none"/>
<path transform="scale(.5)" d="M866 796h2m-8 3h2m-5 1h2m5 2h2m-1 0h2m0 0h2m-14 1h2m-1 0h2m3 0h2m3 0h2m-7 1h2m2 0h2m-5 2h2m0 1h2m2 0h2m-8 1h2m1 0h2m2 0h2m-16 1h2m1 0h2m7 0h2m-14 1h2m0 0h2m-1 0h2m-2 2h2m0 0h2m5 0h2m-8 1h2m7 2h2m-18 1h2m6 0h2m5 0h2m-11 1h2m-5 1h2m4 0h2m-5 2h2m-8 2h2m0 0h2m12 0h2m-18 1h2m0 0h2m2 0h2m7 0h2m1 1h2m-13 1h2m8 0h2m-7 1h2m2 0h2m-11 1h2m-9 1h2m11 0h2m-5 1h2m-1 1h2m-10 1h2m0 1h2m0 0h2m0 0h2m-10 1h2m12 0h2m-14 1h2m3 0h2m3 0h2m-7 1h2m5 0h2m-1 1h2m-13 1h2m-1 0h2m0 1h2m-1 0h2m-1 0h2m-8 1h2m6 0h2m-1 0h2m1 0h2m-10 1h2m4 0h2m4 0h2m-5 1h2m0 0h2m0 0h2m-17 1h2m0 0h2m-3 1h2m2 0h2m-1 0h2m2 0h2m1 0h2m-1 0h2m-9 1h2m-1 0h2m2 0h2m-1 2h2m0 0h2m-18 2h2m5 0h2m1 0h2m4 0h2m-17 1h2m11 0h2m-16 1h2m16 0h2m-12 1h2m8 0h2m-14 1h2m3 0h2m0 0h2m-5 1h2m5 0h2m-14 1h2m7 0h2m-1 0h2m-17 1h2m2 0h2m7 0h2m-7 1h2m3 0h2m-12 1h2m-1 0h2m10 0h2m-12 1h2m5 0h2m-14 1h2m1 0h2m-4 1h2m-1 0h2m0 0h2m-1 0h2m5 0h2m3 0h2m-17 1h2m7 0h2m2 0h2m-16 1h2m4 0h2m4 0h2m-10 1h2m6 0h2m-14 1h2m0 0h2m-1 0h2m3 0h2m8 0h2m1 0h2m-11 1h2m5 0h2m-4 1h2m-17 1h2m1 0h2m-1 0h2m13 0h2m-9 2h2m-1 0h2m0 0h2m-11 1h2m1 0h2m1 0h2m-13 1h2m9 0h2m2 0h2m0 0h2m-16 1h2m0 0h2m3 0h2m1 0h2m0 0h2m6 0h2m-23 1h2m19 0h2m-22 2h2m8 0h2m2 0h2m-15 1h2m13 1h2m-4 1h2m-10 1h2m4 0h2m-1 0h2m2 0h2m-15 1h2m-1 0h2m-1 0h2m0 0h2m1 0h2m10 0h2m-21 1h2m11 0h2m-13 1h2m13 0h2m-1 0h2m-8 2h2m0 0h2m2 0h2m3 0h2m-24 1h2m6 0h2m12 0h2m-24 1h2m10 0h2m3 0h2m0 0h2m1 0h2m-6 1h2m-18 1h2m17 0h2m-18 2h2m4 0h2m6 0h2m-1 0h2m-21 1h2m1 0h2m-1 0h2m13 0h2m-16 1h2m8 0h2m2 0h2m4 0h2m-26 1h2m1 0h2m17 0h2m-6 1h2m5 0h2m-14 1h2m0 0h2m6 0h2m-1 0h2m-23 1h2m8 0h2m7 0h2m-19 1h2m1 0h2m-1 0h2m1 0h2m9 0h2m-9 2h2m-11 1h2m1 0h2m-2 1h2m11 0h2m-2 1h2m-15 1h2m-2 1h2m3 5h2m-2 2h2" stroke="#1a9bdc" stroke-width="2" fill="none"/>
<path transform="scale(.5)" d="M849 786h2m0 1h2m0 1h2m-8 1h2m2 0h2m-3 1h2m-1 0h2m-8 1h2m1 0h2m2 1h2m0 0h2m-10 1h2m0 0h2m0 0h2m0 0h2m-1 0h2m0 0h2m-10 1h2m-1 0h2m3 0h2m-2 1h2m-11 1h2m7 0h2m-1 0h2m-1 0h2m-14 1h2m1 0h2m0 0h2m1 0h2m0 0h2m0 0h2m-14 1h2m1 0h2m-2 1h2m6 0h2m-1 0h2m-11 1h2m1 0h2m4 0h2m-9 1h2m-1 0h2m-1 0h2m-1 0h2m0 0h2m-9 1h2m1 0h2m0 0h2m-1 0h2m-11 1h2m-1 0h2m7 0h2m-10 1h2m-1 0h2m0 0h2m2 0h2m-5 1h2m1 0h2m-1 0h2m-11 1h2m0 0h2m0 0h2m-3 1h2m2 0h2m-7 1h2m-1 0h2m1 0h2" stroke="#1f1a5c" stroke-width="2" fill="none"/>
<path transform="scale(.5)" d="M852 905h3m48 0h3m-62 1h3m-2 0h3m1 0h3m4 0h3m45 0h3m-62 1h3m-2 0h3m10 0h3m33 0h3m1 0h3m2 0h3m-72 1h3m5 0h3m3 0h3m-1 0h3m-2 0h3m0 0h3m-2 0h3m9 0h3m20 0h3m-1 0h3m5 0h3m-1 0h3m0 0h3m-75 1h3m4 0h3m-2 0h3m1 0h3m4 0h3m0 0h3m1 0h3m24 0h3m0 0h3m1 0h3m6 0h3m-69 1h3m-1 0h3m-2 0h3m3 0h3m19 0h3m2 0h3m2 0h3m1 0h3m5 0h3m-1 0h3m-1 0h3m0 0h3m0 0h3m0 0h3m4 0h3m-84 1h3m1 0h3m6 0h3m4 0h3m6 0h3m1 0h3m0 0h3m-2 0h3m-2 0h3m4 0h3m1 0h3m-2 0h3m5 0h3m-1 0h3m9 0h3m0 0h3m-2 0h3m-78 1h3m0 0h3m1 0h3m10 0h3m13 0h3m2 0h3m-1 0h3m4 0h3m-2 0h3m-1 0h3m3 0h3m2 0h3m-2 0h3m4 0h3m0 0h3m-2 0h3m-2 0h3m1 0h3m-73 1h3m1 0h3m10 0h3m6 0h3m2 0h3m6 0h3m-2 0h3m1 0h3m3 0h3m1 0h3m9 0h3m-80 1h3m0 0h3m-2 0h3m1 0h3m0 0h3m-2 0h3m10 0h3m1 0h3m11 0h3m2 0h3m5 0h3m0 0h3m4 0h3m-2 0h3m1 0h3m0 0h3m0 0h3m-78 1h3m-2 0h3m2 0h3m0 0h3m3 0h3m11 0h3m0 0h3m2 0h3m5 0h3m3 0h3m4 0h3m7 0h3m4 0h3m-75 1h3m12 0h3m21 0h3m8 0h3m1 0h3m4 0h3m-2 0h3m2 0h3m-68 1h3m4 0h3m18 0h3m1 0h3m0 0h3m3 0h3m-2 0h3m-1 0h3m-2 0h3m-2 0h3m-1 0h3m-2 0h3m5 0h3m2 0h3m-65 1h3m3 0h3m-1 0h3m2 0h3m-1 0h3m8 0h3m5 0h3m1 0h3m8 0h3m3 0h3m-52 1h3m2 0h3m0 0h3m4 0h3m1 0h3m14 0h3m-1 0h3m2 0h3m16 0h3m-2 0h3m-75 1h3m-2 0h3m-1 0h3m-1 0h3m0 0h3m1 0h3m-1 0h3m-2 0h3m1 0h3m-2 0h3m-1 0h3m0 0h3m-2 0h3m-2 0h3m0 0h3m6 0h3m4 0h3m0 0h3m1 0h3m2 0h3m-2 0h3m2 0h3m3 0h3m-69 1h3m-2 0h3m4 0h3m-2 0h3m5 0h3m-1 0h3m-2 0h3m15 0h3m2 0h3m-2 0h3m-1 0h3m-2 0h3m3 0h3m11 0h3m-77 1h3m2 0h3m-2 0h3m4 0h3m-1 0h3m1 0h3m4 0h3m3 0h3m-2 0h3m6 0h3m-2 0h3m-2 0h3m-1 0h3m-2 0h3m19 0h3m-67 1h3m-2 0h3m0 0h3m2 0h3m-2 0h3m-2 0h3m9 0h3m-2 0h3m0 0h3m-2 0h3m5 0h3m1 0h3m4 0h3m-2 0h3m8 0h3m0 0h3m-71 1h3m10 0h3m0 0h3m-1 0h3m-2 0h3m-1 0h3m2 0h3m-1 0h3m3 0h3m13 0h3m1 0h3m-1 0h3m4 0h3m7 0h3m-71 1h3m4 0h3m-2 0h3m-1 0h3m0 0h3m0 0h3m0 0h3m8 0h3m-2 0h3m6 0h3m11 0h3m1 0h3m-48 1h3m7 0h3m3 0h3m-1 0h3m-2 0h3m8 0h3m-1 0h3m0 0h3m-2 0h3m3 0h3m-2 0h3m1 0h3m-61 1h3m-1 0h3m1 0h3m1 0h3m3 0h3m-2 0h3m4 0h3m3 0h3m-2 0h3m0 0h3m-1 0h3m3 0h3m-2 0h3m-1 0h3m-1 0h3m-1 0h3m1 0h3m1 0h3m-60 1h3m0 0h3m15 0h3m8 0h3m-1 0h3m2 0h3m-2 0h3m0 0h3m-1 0h3m6 0h3m-2 0h3m-53 1h3m1 0h3m2 0h3m-1 0h3m4 0h3m6 0h3m-29 1h3m9 0h3m3 0h3m-1 0h3m4 0h3m-1 0h3m0 0h3m2 0h3m2 0h3m-2 0h3m-2 0h3m-1 0h3m-44 1h3m9 0h3m3 0h3m15 0h3m-1 0h3m-44 1h3m-2 0h3m4 0h3m0 0h3m-2 0h3m0 0h3m7 0h3m8 0h3m-28 1h3m8 0h3m5 0h3m-1 0h3m-30 1h3m21 0h3" stroke="#7a1f8c" stroke-width="3" fill="none"/>
<path transform="scale(.5)" d="M893 884h2m-10 2h2m-1 0h2m4 0h2m-13 1h2m0 0h2m0 0h2m-7 1h2m0 0h2m9 0h2m-15 1h2m16 0h2m-1 0h2m0 0h2m-24 1h2m3 0h2m9 0h2m-15 1h2m2 0h2m1 0h2m1 0h2m5 0h2m-18 1h2m1 0h2m-1 0h2m6 0h2m2 0h2m2 0h2m-1 0h2m-29 1h2m0 0h2m8 0h2m-1 0h2m10 0h2m-27 1h2m15 0h2m3 0h2m-22 1h2m6 0h2m-1 0h2m-1 0h2m7 0h2m-16 1h2m1 0h2m8 0h2m-1 0h2m-21 1h2m5 0h2m6 1h2m-9 1h2m0 0h2m1 0h2m-9 1h2m8 0h2m0 0h2m-18 1h2m0 0h2m2 0h2m2 0h2m7 0h2m-11 1h2m5 0h2m-7 1h2" stroke="#1a9bdc" stroke-width="2" fill="none"/>
<line x1="414" y1="400" x2="423" y2="405" stroke="#1f1a5c" stroke-width="0.5"/>
<line x1="414" y1="409" x2="423" y2="425" stroke="#1a9bdc" stroke-width="0.5"/>
<line x1="414" y1="417" x2="420" y2="428" stroke="#e8174a" stroke-width="0.5"/>
<line x1="414" y1="425.5" x2="420" y2="432" stroke="#f5841f" stroke-width="0.5"/>
<text x="406.4" y="402.8" font-size="5.2" fill="#231f20" stroke="#231f20" font-weight="bold">977</text>
<text x="406.4" y="411.9" font-size="5.2" fill="#231f20" stroke="#231f20" font-weight="bold">975</text>
<text x="406.4" y="419.9" font-size="5.2" fill="#231f20" stroke="#231f20" font-weight="bold">973</text>
<text x="406.4" y="427.7" font-size="5.2" fill="#231f20" stroke="#231f20" font-weight="bold">974</text>
<text x="406.4" y="470" font-size="5.2" fill="#231f20" stroke="#231f20" font-weight="bold">976</text>
<path d="M479.9 456.4C479.3 458 481 460.6 484 463C487 465.4 490.1 467.1 495 468.3C499.9 469.5 504 469.5 508.7 469C513.3 468.5 515.5 467.7 518.3 465.7C521.1 463.7 522.2 461.1 522.4 459C522.7 456.8 521.3 456 519.6 455.1C518 454.1 516.6 454.6 514.2 454.4C511.7 454.1 510.9 453.8 507.3 453.7C503.8 453.5 500.5 453.4 496.3 453.7C492.2 453.9 490 454.5 486.7 455.1C483.4 455.6 480.4 454.8 479.9 456.4Z" fill="#f4f4f4" stroke="#5a5a5a" stroke-width="0.45" stroke-linejoin="round"/>
<path d="M475.7 429.8C477.2 427.4 480.1 426.3 482.6 425.8C485 425.3 487.5 426 488.1 427.1C488.6 428.2 486.3 429 485.4 431.1C484.4 433.2 483.7 434.5 483.3 437.7C482.9 440.9 482.9 443.6 483.3 447C483.7 450.5 486.3 453.2 485.4 455.1C484.4 456.9 480.4 458 478.5 456.4C476.6 454.8 476.4 450.8 475.7 447C475 443.3 475 441.2 475 437.7C475 434.3 474.2 432.2 475.7 429.8Z" fill="#f4f4f4" stroke="#5a5a5a" stroke-width="0.45" stroke-linejoin="round"/>
<path d="M485.4 440.4C486.6 438 488.4 434.8 490.9 433.7C493.3 432.6 495 433.9 497.7 435.1C500.4 436.3 501.5 438.7 504.5 439.7C507.5 440.8 510.6 439.5 512.8 440.4C515 441.4 515.2 442.3 515.5 444.4C515.8 446.6 515.8 449.2 514.2 451.1C512.5 452.9 510.9 453.1 507.3 453.7C503.8 454.2 500.2 454.4 496.3 453.7C492.5 452.9 490.4 451.3 488.1 449.8C485.7 448.2 485.2 447.6 484.6 445.7C484.1 443.9 484.1 442.8 485.4 440.4Z" fill="#f4f4f4" stroke="#5a5a5a" stroke-width="0.45" stroke-linejoin="round"/>
<path d="M531.4 424.5C533.3 422.1 533.9 424.5 534.8 425.8C535.6 427.1 536 429.2 535.5 431.1C535 433 534.2 433.8 532.1 435.1C530 436.4 525.3 439.8 525.1 437.7C525 435.6 529.4 426.9 531.4 424.5Z" fill="#f4f4f4" stroke="#5a5a5a" stroke-width="0.45" stroke-linejoin="round"/>
<path d="M490.9 396.5C492.2 393.5 493.3 392.2 496.3 390.6C499.4 389 501.9 388.6 506 388.6C510.1 388.6 513.1 389 517 390.6C520.8 392.2 522.4 393.5 525.1 396.5C527.9 399.6 529.1 401.9 530.6 405.8C532.1 409.8 532.6 412.5 532.7 416.5C532.8 420.5 532.3 422.6 531.4 425.8C530.4 429 530 430 527.9 432.4C525.9 434.8 524.1 436.1 521.1 437.7C518.1 439.3 516.1 440 512.8 440.4C509.5 440.8 507.5 440.8 504.5 439.7C501.5 438.7 500.2 437.6 497.7 435.1C495.2 432.6 493.8 430.8 492.2 427.1C490.6 423.4 490 420.7 489.5 416.5C489 412.2 489.2 409.8 489.5 405.8C489.8 401.9 489.5 399.6 490.9 396.5Z" fill="#f4f4f4" stroke="#5a5a5a" stroke-width="0.45" stroke-linejoin="round"/>
<text x="512.2" y="406.6" font-size="5.1" fill="#4d4d4d" stroke="#4d4d4d">STRd</text>
<text x="475.8" y="430.9" font-size="5.1" fill="#4d4d4d" stroke="#4d4d4d">STR</text>
<text x="517.5" y="451" font-size="5.1" fill="#4d4d4d" stroke="#4d4d4d">PAL</text>
<text x="474.1" y="466.9" font-size="5.1" fill="#4d4d4d" stroke="#4d4d4d">STRv</text>
<path transform="scale(.5)" d="M985 783h2m0 0h2m0 0h2m-6 2h2m2 2h2m-8 2h2m-1 0h2m0 0h2m2 0h2m-1 0h2m-11 1h2m0 0h2m4 0h2m-1 0h2m-8 1h2m0 0h2m2 0h2m-8 1h2m3 0h2m-9 1h2m1 0h2m3 0h2m-9 1h2m-1 0h2m0 0h2m-1 0h2m0 0h2m0 0h2m-1 0h2m-10 1h2m5 0h2m-6 1h2m-7 1h2m4 1h2m-1 0h2m-6 1h2m0 0h2m-1 0h2m1 1h2m-1 0h2m-9 1h2m1 0h2m-1 0h2m-1 0h2m-7 1h2m-1 0h2m-7 1h2m2 0h2m0 0h2m-7 1h2m0 0h2m1 1h2m-1 0h2m-6 1h2m-1 0h2m-1 0h2m1 0h2m-5 1h2m-1 0h2m-1 0h2m-6 1h2m-1 0h2m-2 1h2m-1 0h2" stroke="#1f1a5c" stroke-width="2" fill="none"/>
<path transform="scale(.5)" d="M979 797h2m12 2h2m-3 1h2m0 1h2m-13 2h2m3 0h2m0 0h2m-7 1h2m2 2h2m1 0h2m-14 1h2m5 0h2m5 2h2m-14 2h2m1 0h2m-1 0h2m9 1h2m-14 2h2m-1 0h2m4 0h2m-7 1h2m-4 1h2m3 0h2m-1 0h2m-7 1h2m0 0h2m0 1h2m0 0h2m4 0h2m0 0h2m-5 1h2m-1 3h2m-11 1h2m3 0h2m-9 2h2m4 0h2m-8 1h2m1 0h2m3 0h2m-18 1h2m9 0h2m5 1h2m-11 1h2m-1 0h2m4 0h2m-8 1h2m0 0h2m-10 1h2m1 0h2m1 0h2m-1 1h2m3 0h2m4 3h2m-7 1h2m-5 1h2m3 0h2m0 0h2m-13 1h2m4 0h2m1 0h2m-2 2h2m-5 1h2m-7 2h2m4 0h2m0 1h2m0 0h2m-9 1h2m-1 0h2m0 0h2m-1 0h2m-4 2h2m2 0h2m-3 2h2m-7 1h2m-4 2h2m11 0h2m-12 1h2m2 0h2m-10 1h2m-1 0h2m0 1h2m2 0h2m8 1h2m-2 1h2m-19 1h2m5 0h2m3 0h2m-1 0h2m-1 0h2m-5 1h2m1 0h2m-12 1h2m4 0h2m-6 1h2m6 0h2m-7 1h2m-1 0h2m0 0h2m6 0h2m-22 2h2m9 0h2m-12 1h2m4 0h2m1 0h2m4 0h2m-4 4h2m-1 0h2m-10 1h2m7 0h2m-15 2h2m16 0h2m-16 1h2m-4 1h2m7 0h2m-4 1h2m-7 1h2m3 0h2m-5 1h2m4 0h2m-7 1h2m4 0h2m6 0h2m-4 1h2m-9 1h2m-3 2h2m-3 1h2m-1 0h2m0 0h2m4 1h2m-6 1h2m3 0h2m0 0h2m3 0h2m-26 1h2m5 0h2m2 0h2m-6 1h2m12 0h2m-15 1h2m7 0h2m-13 1h2m2 2h2m-7 1h2m9 1h2m-6 1h2m1 0h2m8 0h2m-18 1h2m15 0h2m-19 1h2m1 0h2m3 2h2m0 1h2m4 1h2m-14 2h2m11 0h2m1 0h2m0 0h2m-24 1h2m2 0h2m7 0h2m-8 1h2m6 1h2m-1 0h2m-11 1h2m11 2h2m-13 2h2m10 2h2m-19 5h2" stroke="#1a9bdc" stroke-width="2" fill="none"/>
<path transform="scale(.5)" d="M996 869h2m-1 1h2m-4 1h2m3 1h2m4 0h2m-5 1h2m-1 0h2m-14 1h2m6 0h2m5 0h2m-16 1h2m8 0h2m0 0h2m0 0h2m-1 0h2m-17 1h2m1 1h2m3 0h2m2 0h2m-17 1h2m10 0h2m4 0h2m-20 1h2m1 0h2m0 1h2m3 0h2m8 0h2m-24 1h2m5 0h2m2 0h2m-9 1h2m-1 0h2m-1 0h2m2 0h2m-5 1h2m2 0h2m-9 2h2m-1 0h2m0 0h2m-4 1h2m6 0h2m-5 1h2m-1 1h2m0 0h2m2 1h2m-8 1h2m2 0h2" stroke="#1f1a5c" stroke-width="2" fill="none"/>
<path transform="scale(.5)" d="M998 910h3m4 0h3m-25 1h3m18 0h3m5 0h3m-32 1h3m2 0h3m16 0h3m-2 0h3m0 0h3m6 0h3m-43 1h3m-2 0h3m17 0h3m-2 0h3m-2 0h3m-1 0h3m8 0h3m-2 0h3m-2 0h3m6 0h3m-2 0h3m-45 1h3m-2 0h3m-1 0h3m-1 0h3m3 0h3m-2 0h3m-1 0h3m0 0h3m-1 0h3m0 0h3m6 0h3m9 0h3m-56 1h3m11 0h3m-1 0h3m2 0h3m-2 0h3m-1 0h3m-2 0h3m2 0h3m-1 0h3m1 0h3m-1 0h3m0 0h3m2 0h3m-43 1h3m-1 0h3m-1 0h3m1 0h3m1 0h3m5 0h3m2 0h3m-2 0h3m1 0h3m-2 0h3m1 0h3m-40 1h3m0 0h3m-2 0h3m7 0h3m-1 0h3m-1 0h3m1 0h3m1 0h3m5 0h3m-2 0h3m2 0h3m9 0h3m-51 1h3m14 0h3m5 0h3m0 0h3m3 0h3m1 0h3m-1 0h3m0 0h3m2 0h3m-56 1h3m9 0h3m-2 0h3m16 0h3m1 0h3m11 0h3m4 0h3m-50 1h3m0 0h3m3 0h3m-2 0h3m0 0h3m7 0h3m-2 0h3m5 0h3m10 0h3m-57 1h3m-1 0h3m1 0h3m5 0h3m0 0h3m20 0h3m2 0h3m2 0h3m1 0h3m-2 0h3m0 0h3m-64 1h3m0 0h3m0 0h3m11 0h3m2 0h3m-1 0h3m9 0h3m5 0h3m3 0h3m-55 1h3m10 0h3m-1 0h3m-1 0h3m-2 0h3m-2 0h3m3 0h3m11 0h3m-1 0h3m5 0h3m1 0h3m-2 0h3m-1 0h3m-57 1h3m-2 0h3m-2 0h3m2 0h3m10 0h3m0 0h3m4 0h3m-1 0h3m-2 0h3m-2 0h3m15 0h3m-2 0h3m-47 1h3m13 0h3m-2 0h3m6 0h3m-2 0h3m12 0h3m-1 0h3m-56 1h3m-2 0h3m0 0h3m2 0h3m5 0h3m2 0h3m6 0h3m4 0h3m2 0h3m0 0h3m3 0h3m-45 1h3m0 0h3m1 0h3m3 0h3m-1 0h3m-1 0h3m5 0h3m-2 0h3m5 0h3m0 0h3m1 0h3m-51 1h3m0 0h3m0 0h3m0 0h3m-1 0h3m3 0h3m3 0h3m2 0h3m-1 0h3m9 0h3m-44 1h3m-1 0h3m1 0h3m3 0h3m5 0h3m9 0h3m-2 0h3m0 0h3m-2 0h3m4 0h3m-46 1h3m16 0h3m3 0h3m-1 0h3m7 0h3m-2 0h3m-1 0h3m-1 0h3m-2 0h3m-50 1h3m-2 0h3m-1 0h3m1 0h3m0 0h3m5 0h3m-1 0h3m2 0h3m-2 0h3m2 0h3m-2 0h3m2 0h3m2 0h3m2 0h3m-36 1h3m2 0h3m-2 0h3m0 0h3m1 0h3m9 0h3m-2 0h3m-1 0h3m-36 1h3m-2 0h3m-2 0h3m2 0h3m-1 0h3m-1 0h3m-1 0h3m-2 0h3m-2 0h3m-1 0h3m-2 0h3m3 0h3m0 0h3m-21 1h3m-1 0h3m0 0h3m1 0h3" stroke="#7a1f8c" stroke-width="3" fill="none"/>
<path d="M556.3 464.8C557.4 464.4 559.7 466 563.3 466.3C566.9 466.6 571.4 465.7 574.3 466.3C577.1 466.8 577.4 468 577.7 468.9C577.9 469.9 578.5 470.7 575.6 471C572.7 471.3 566.8 471.1 563.3 470.6C559.7 470 559.2 469.4 557.8 468.2C556.4 467.1 555.2 465.2 556.3 464.8Z" fill="#f4f4f4" stroke="#5a5a5a" stroke-width="0.45" stroke-linejoin="round"/>
<path d="M575.6 452.6C577.8 451.8 580.8 453 582.4 453.9C584.1 454.9 584.2 455.7 583.9 457.3C583.6 459 582.5 460.7 581.1 462.2C579.7 463.7 580 464.6 576.9 464.8C573.9 465.1 567.1 464.9 566 463.5C564.9 462.1 569.5 460.2 571.5 458.1C573.4 455.9 573.4 453.4 575.6 452.6Z" fill="#f4f4f4" stroke="#5a5a5a" stroke-width="0.45" stroke-linejoin="round"/>
<path d="M609.3 429.5C610.7 428.7 610.7 433.6 610 436.3C609.3 439 608.3 440.3 605.9 443.1C603.4 445.8 600.9 447.4 597.6 449.8C594.3 452.3 592.1 453.8 589.4 455.3C586.6 456.8 585.3 457.6 583.9 457.3C582.5 457.1 581.3 455.4 582.4 453.9C583.5 452.4 586.6 451.5 589.4 449.8C592.1 448.2 593.5 447.7 596.2 445.8C599 443.9 600.4 443.6 603.1 440.4C605.7 437.1 607.9 430.3 609.3 429.5Z" fill="#f4f4f4" stroke="#5a5a5a" stroke-width="0.45" stroke-linejoin="round"/>
<path d="M578.4 425.4C580.2 424.6 583.6 428 585.1 430.7C586.7 433.4 585.1 436 586.2 438.9C587.2 441.9 591.1 442.6 590.3 445.6C589.6 448.6 585.4 452.5 582.4 453.9C579.5 455.3 577 454.8 575.6 452.6C574.2 450.4 575.5 446.6 575.6 443.1C575.7 439.5 575.8 438.4 576.3 434.8C576.9 431.3 576.6 426.2 578.4 425.4Z" fill="#f4f4f4" stroke="#5a5a5a" stroke-width="0.45" stroke-linejoin="round"/>
<path d="M544 437.6C544.5 434.9 547 430.6 549.5 428.1C552 425.5 553.3 425.5 556.3 425.1C559.3 424.7 562.8 424.5 564.4 426.1C566 427.7 565.4 431 564.4 433.3C563.4 435.6 561.4 435.7 559.2 437.4C557.1 439.1 556.1 440.9 553.6 441.7C551.1 442.6 548.7 442.5 546.8 441.7C544.9 440.9 543.5 440.3 544 437.6Z" fill="#f4f4f4" stroke="#5a5a5a" stroke-width="0.45" stroke-linejoin="round"/>
<path d="M575.6 415.8C577.3 415.6 579.2 415.3 579.7 417.2C580.3 419.1 579.1 421.8 578.4 425.4C577.7 428.9 576.9 431.3 576.3 434.8C575.8 438.4 575.7 439.5 575.6 443.1C575.5 446.6 576.4 449.6 575.6 452.6C574.8 455.6 573.7 456.1 571.5 458.1C569.3 460 567.6 460.8 564.6 462.2C561.6 463.5 559.1 464.6 556.3 464.8C553.6 465.1 552.2 464.9 550.8 463.5C549.5 462.1 548.9 460 549.5 458.1C550.1 456.1 551.4 456.1 553.6 453.9C555.8 451.8 558.8 450.2 560.5 447.2C562.1 444.2 561.3 442.5 561.8 438.9C562.4 435.4 562.2 432.5 563.3 429.5C564.4 426.5 565.7 426.2 567.3 424C568.9 421.8 569.8 420.1 571.5 418.5C573.1 416.9 573.9 416.1 575.6 415.8Z" fill="#f4f4f4" stroke="#5a5a5a" stroke-width="0.45" stroke-linejoin="round"/>
<path d="M571.5 396.7C572.6 394.8 573.4 392.9 575.6 391.3C577.8 389.6 579.4 389 582.4 388.6C585.5 388.2 587.4 388.1 590.7 389.2C594 390.3 595.9 391.2 598.9 394C601.9 396.9 603.8 399.2 605.9 403.6C607.9 408 608.6 410.9 609.3 415.8C610 420.7 609.8 424 609.3 428.1C608.7 432.1 608.3 433.5 606.5 436.3C604.7 439 603 440 600.4 441.7C597.8 443.5 595.9 444.6 593.4 445.1C590.9 445.6 589.6 445.6 587.9 444.4C586.3 443.2 585.9 442.2 585.2 438.9C584.6 435.7 585.1 432.1 584.5 428.1C584 424 583.7 421.5 582.4 418.5C581.2 415.5 580 414.9 578.4 413.1C576.8 411.2 575.6 410.4 574.3 409C572.9 407.7 572.3 407.9 571.5 406.3C570.6 404.6 570.1 402.7 570.1 400.8C570.1 398.9 570.4 398.6 571.5 396.7Z" fill="#f4f4f4" stroke="#5a5a5a" stroke-width="0.45" stroke-linejoin="round"/>
<text x="592.9" y="415.5" font-size="5.1" fill="#4d4d4d" stroke="#4d4d4d">STRd</text>
<text x="567.5" y="436.2" font-size="5.1" fill="#4d4d4d" stroke="#4d4d4d">PAL</text>
<text x="541" y="451" font-size="5.1" fill="#4d4d4d" stroke="#4d4d4d">HY</text>
<text x="601.4" y="451" font-size="5.1" fill="#4d4d4d" stroke="#4d4d4d">CTXsp</text>
<text x="583.4" y="464.8" font-size="5.1" fill="#4d4d4d" stroke="#4d4d4d">sAMY</text>
<text x="581.3" y="471.1" font-size="5.1" fill="#4d4d4d" stroke="#4d4d4d">STRv</text>
<path transform="scale(.5)" d="M1153 780h2m0 1h2m2 0h2m-11 1h2m1 0h2m-1 0h2m3 1h2m0 0h2m-15 2h2m0 0h2m7 0h2m-14 1h2m-1 0h2m6 0h2m4 0h2m-15 1h2m-1 0h2m4 0h2m2 0h2m1 0h2m-18 1h2m3 0h2m0 0h2m-9 1h2m1 0h2m7 0h2m2 0h2m-1 0h2m-15 1h2m3 0h2m3 0h2m-5 1h2m2 0h2m-18 1h2m4 0h2m0 0h2m-1 0h2m1 0h2m4 0h2m-16 1h2m-1 0h2m3 0h2m1 0h2m2 0h2m-14 1h2m-1 0h2m0 0h2m2 0h2m-1 0h2m1 0h2m-1 0h2m-17 1h2m7 0h2m3 0h2m-15 1h2m0 0h2m0 0h2m-1 0h2m7 0h2m-17 1h2m-1 0h2m1 0h2m0 0h2m5 0h2m-11 1h2m0 0h2m-1 0h2m-1 0h2m0 0h2m-1 0h2m-1 0h2m-3 1h2m-1 0h2" stroke="#1f1a5c" stroke-width="2" fill="none"/>
<path transform="scale(.5)" d="M1149 784h2m4 3h2m5 0h2m-9 1h2m2 0h2m0 0h2m2 0h2m-18 2h2m6 0h2m4 0h2m-20 2h2m13 0h2m-17 2h2m-1 1h2m-1 0h2m2 0h2m10 0h2m-1 0h2m-8 2h2m6 2h2m-1 0h2m-8 1h2m-14 2h2m3 0h2m1 0h2m-1 1h2m0 0h2m-20 1h2m9 0h2m-12 1h2m4 0h2m1 0h2m14 0h2m-7 1h2m2 1h2m-8 2h2m2 0h2m-3 3h2m-1 0h2m-12 2h2m-4 1h2m4 1h2" stroke="#1a9bdc" stroke-width="2" fill="none"/>
<path transform="scale(.5)" d="M1171 881h2m-17 6h2m-1 3h2m-4 2h2m23 0h2m-22 2h2m2 2h2m2 0h2m-9 1h2m1 0h2m5 1h2m-4 2h2" stroke="#1a9bdc" stroke-width="2" fill="none"/>
<path d="M668.9 388.6C670 389.3 670.8 390 672.3 392.8C673.9 395.6 675.7 398.7 676.6 402.6C677.4 406.5 677 409.1 676.6 412.4C676.2 415.8 674.2 416.6 674.5 419.4C674.8 422.3 676.8 422.9 677.9 426.6C679 430.2 680 433.3 680 437.7C680 442.2 679.7 444.4 677.9 448.9C676.1 453.4 674.3 456.3 671 460.2C667.6 464.2 665.1 466.4 661.2 468.6C657.3 470.7 655.1 471.3 651.5 471C647.9 470.7 645.4 468.7 643.2 467.2C641 465.8 641.2 463.6 640.4 463.9C639.5 464.2 640 467.2 638.9 468.6C637.8 470 637.3 470.7 634.8 470.7C632.3 470.7 629.1 470.4 626.5 468.6C623.9 466.8 622.7 464.3 621.8 461.8C620.9 459.3 621.6 457.7 622 455.9C622.4 454.2 622.2 454.6 623.7 453.2C625.1 451.8 626.1 451.5 629.2 448.9C632.2 446.4 634.7 444.5 638.9 440.6C643.1 436.7 646.8 432.2 650.1 429.4C653.5 426.6 654 428 655.6 426.6C657.3 425.1 657 425.1 658.4 422.3C659.8 419.4 661.1 417.2 662.7 412.4C664.2 407.7 665.3 403.1 666.1 398.4C666.9 393.8 666.3 391.3 666.8 389.3C667.4 387.4 667.8 387.9 668.9 388.6Z" fill="#f4f4f4" stroke="#5a5a5a" stroke-width="0.45" stroke-linejoin="round"/>
<path d="M655.6 426.6C657.7 426.8 665 429.1 668.2 427.9C671.3 426.7 673.4 420.9 674.5 419.4" fill="none" stroke="#5a5a5a" stroke-width="0.45" stroke-linecap="round" stroke-linejoin="round"/>
<path d="M651.5 431.5C652.9 432.3 657.1 437 659.9 436.4C662.7 435.8 666.8 429.3 668.2 427.9" fill="none" stroke="#5a5a5a" stroke-width="0.45" stroke-linecap="round" stroke-linejoin="round"/>
<path d="M659.9 436.4C658 438 651.8 443.1 648.7 446.1C645.5 449.1 642.6 451.8 641.1 454.6C639.6 457.4 639.8 461.2 639.7 462.9C639.5 464.7 640.3 464.6 640.4 464.9" fill="none" stroke="#5a5a5a" stroke-width="0.45" stroke-linecap="round" stroke-linejoin="round"/>
<text x="648" y="411.9" font-size="5.1" fill="#4d4d4d" stroke="#4d4d4d">STRd</text>
<text x="645.2" y="425.6" font-size="5.1" fill="#4d4d4d" stroke="#4d4d4d">STR</text>
<text x="624.3" y="437.7" font-size="5.1" fill="#4d4d4d" stroke="#4d4d4d">sAMY</text>
<text x="666.6" y="465.8" font-size="5.1" fill="#4d4d4d" stroke="#4d4d4d">CTXsp</text>
<path transform="scale(.5)" d="M1341 788h2m-4 2h2m0 0h2m-1 0h2m-6 1h2m-1 0h2m-1 0h2m3 0h2m-10 1h2m3 0h2m-1 0h2m-9 1h2m0 0h2m4 0h2m-10 1h2m2 0h2m-1 0h2m2 0h2m-11 2h2m4 0h2m-6 1h2m0 0h2m-1 0h2m-4 1h2m0 0h2m-5 1h2m3 0h2m-1 0h2m0 0h2m-1 0h2m-12 1h2m1 0h2m1 0h2m-7 1h2m0 0h2m0 0h2m-3 1h2m-6 1h2m1 0h2m1 0h2m1 0h2m-10 1h2m3 0h2m-1 0h2m1 0h2m-13 1h2m2 0h2m-1 0h2m-1 1h2m-1 0h2m-2 1h2m-8 1h2m-1 0h2m-1 0h2m1 0h2m-7 1h2m4 0h2m-6 1h2m1 0h2m-1 0h2m-1 0h2m-7 1h2m-1 0h2m0 0h2" stroke="#1f1a5c" stroke-width="2" fill="none"/>
<path transform="scale(.5)" d="M1344 800h2m-4 1h2m-5 1h2m6 0h2m-1 0h2m-11 1h2m0 0h2m6 0h2m-12 1h2m0 0h2m-6 1h2m-1 0h2m-1 2h2m2 0h2m-7 1h2m-1 0h2m-1 0h2m0 0h2m6 0h2m-16 1h2m8 0h2m0 0h2m-10 1h2m-1 0h2m3 0h2m-12 1h2m-1 0h2m3 0h2m-6 1h2m0 0h2m-1 0h2m-5 1h2m0 0h2m6 0h2m-11 1h2m1 0h2m3 0h2m1 0h2m-11 3h2m-4 1h2m0 0h2m-3 1h2m0 0h2m-4 1h2m3 0h2m-3 1h2" stroke="#7a1f8c" stroke-width="2" fill="none"/>
<path transform="scale(.5)" d="M1344 812h2m0 0h2m-5 1h2m-8 1h2m9 0h2m-8 1h2m-10 1h2m0 0h2m8 0h2m-1 0h2m-10 1h2m5 0h2m0 0h2m-14 1h2m9 0h2m-8 1h2m-15 1h2m0 0h2m-1 0h2m2 0h2m-1 0h2m-1 0h2m2 0h2m5 1h2m-21 1h2m-3 1h2m0 0h2m6 0h2m-1 0h2m-11 1h2m1 0h2m6 0h2m2 0h2m0 0h2m-21 1h2m5 0h2m1 0h2m0 0h2m4 0h2m-19 1h2m-1 0h2m3 0h2m3 0h2m-1 0h2m-14 1h2m-1 0h2m14 0h2m-11 1h2m2 0h2m1 0h2m1 0h2m-19 1h2m9 0h2m4 0h2m-17 1h2m-1 0h2m1 0h2m3 0h2m7 0h2m-25 1h2m7 0h2m2 0h2m-15 1h2m-1 0h2m3 0h2m-1 0h2m-1 0h2m0 0h2m1 0h2m3 0h2m-1 0h2m-20 1h2m8 0h2m8 0h2m-12 1h2m1 0h2m0 0h2m0 0h2m2 0h2m-22 1h2m9 0h2m-1 0h2m2 0h2m-1 0h2m1 0h2m-22 1h2m7 0h2m4 0h2m3 0h2m-1 0h2m-14 1h2m4 0h2m-1 0h2m1 0h2m-1 0h2m-21 1h2m13 0h2m1 0h2m-25 1h2m9 0h2m4 0h2m-14 1h2m7 0h2m1 0h2m-1 0h2m1 0h2m-1 0h2m0 0h2m-27 1h2m1 0h2m1 0h2m4 0h2m-1 0h2m0 0h2m1 0h2m-1 0h2m-13 1h2m2 0h2m5 0h2m-19 1h2m0 0h2m1 0h2m2 0h2m4 0h2m4 0h2m-13 1h2m8 0h2m-21 1h2m0 0h2m3 0h2m0 0h2m3 0h2m-12 1h2m8 0h2m2 0h2m-17 1h2m9 0h2m-17 1h2m2 0h2m-1 0h2m-6 1h2m-1 0h2m5 0h2m0 0h2m-14 1h2m14 0h2m1 0h2m-20 1h2m4 0h2m0 0h2m1 0h2m-11 1h2m0 0h2m3 0h2m5 0h2m-11 1h2m5 0h2m-17 1h2m4 0h2m1 0h2m-10 1h2m-1 0h2m-1 0h2m6 0h2m-8 1h2m-5 1h2m0 0h2m4 0h2m-11 1h2m1 1h2m1 0h2m1 0h2m1 0h2m-15 2h2m2 0h2m4 0h2m-10 2h2m-4 1h2" stroke="#1fbf80" stroke-width="2" fill="none"/>
<line x1="652" y1="392" x2="669" y2="395.5" stroke="#1a9bdc" stroke-width="0.5"/>
<line x1="652" y1="402" x2="668" y2="402" stroke="#7a1f8c" stroke-width="0.5"/>
<line x1="652" y1="413" x2="664" y2="413" stroke="#1fbf80" stroke-width="0.5"/>
<text x="638.5" y="394" font-size="5.2" fill="#231f20" stroke="#231f20" font-weight="bold">975</text>
<text x="638.5" y="404" font-size="5.2" fill="#231f20" stroke="#231f20" font-weight="bold">976</text>
<text x="638.5" y="415" font-size="5.2" fill="#231f20" stroke="#231f20" font-weight="bold">972</text>
<rect x="404.2" y="476.9" width="12.3" height="8" fill="#d6d6d6" rx="2.2"/>
<text x="410.4" y="483.2" font-size="6.3" fill="#231f20" stroke="#231f20" text-anchor="middle" font-weight="bold">274</text>
<path d="M412.9 546.2C412.3 547.8 414 550.5 417 552.9C420 555.3 423.1 557.1 428 558.3C432.9 559.5 437 559.5 441.7 559C446.3 558.5 448.5 557.7 451.3 555.6C454.1 553.6 455.2 551 455.4 548.8C455.7 546.7 454.3 545.8 452.6 544.9C451 543.9 449.6 544.4 447.2 544.2C444.7 543.9 443.9 543.6 440.3 543.5C436.8 543.3 433.5 543.2 429.3 543.5C425.2 543.7 423 544.3 419.7 544.9C416.4 545.4 413.4 544.6 412.9 546.2Z" fill="#f4f4f4" stroke="#5a5a5a" stroke-width="0.45" stroke-linejoin="round"/>
<path d="M408.7 519.3C410.2 516.8 413.1 515.8 415.6 515.2C418 514.7 420.5 515.4 421.1 516.5C421.6 517.6 419.3 518.4 418.4 520.6C417.4 522.7 416.7 524.1 416.3 527.3C415.9 530.5 415.9 533.2 416.3 536.7C416.7 540.3 419.3 543 418.4 544.9C417.4 546.8 413.4 547.8 411.5 546.2C409.6 544.6 409.4 540.5 408.7 536.7C408 533 408 530.8 408 527.3C408 523.8 407.2 521.7 408.7 519.3Z" fill="#f4f4f4" stroke="#5a5a5a" stroke-width="0.45" stroke-linejoin="round"/>
<path d="M418.4 530C419.6 527.6 421.4 524.3 423.9 523.2C426.3 522.2 428 523.4 430.7 524.7C433.4 525.9 434.5 528.2 437.5 529.3C440.5 530.4 443.6 529.1 445.8 530C448 531 448.2 531.9 448.5 534.1C448.8 536.3 448.8 538.9 447.2 540.8C445.5 542.7 443.9 542.9 440.3 543.5C436.8 544 433.2 544.2 429.3 543.5C425.5 542.7 423.4 541.1 421.1 539.5C418.7 537.9 418.2 537.3 417.6 535.4C417.1 533.5 417.1 532.5 418.4 530Z" fill="#f4f4f4" stroke="#5a5a5a" stroke-width="0.45" stroke-linejoin="round"/>
<path d="M464.4 513.9C466.3 511.5 466.9 513.9 467.8 515.2C468.6 516.5 469 518.7 468.5 520.6C468 522.5 467.2 523.3 465.1 524.7C463 526 458.3 529.4 458.1 527.3C458 525.1 462.4 516.3 464.4 513.9Z" fill="#f4f4f4" stroke="#5a5a5a" stroke-width="0.45" stroke-linejoin="round"/>
<path d="M423.9 485.5C425.2 482.4 426.3 481.1 429.3 479.5C432.4 477.9 434.9 477.5 439 477.5C443.1 477.5 446.1 477.9 450 479.5C453.8 481.1 455.4 482.4 458.1 485.5C460.9 488.6 462.1 490.9 463.6 495C465.1 499 465.6 501.7 465.7 505.8C465.8 509.8 465.3 512 464.4 515.2C463.4 518.4 463 519.5 460.9 521.9C458.9 524.3 457.1 525.7 454.1 527.3C451.1 528.9 449.1 529.6 445.8 530C442.5 530.4 440.5 530.4 437.5 529.3C434.5 528.2 433.2 527.2 430.7 524.7C428.2 522.1 426.8 520.3 425.2 516.5C423.6 512.7 423 510.1 422.5 505.8C422 501.4 422.2 499 422.5 495C422.8 490.9 422.5 488.6 423.9 485.5Z" fill="#f4f4f4" stroke="#5a5a5a" stroke-width="0.45" stroke-linejoin="round"/>
<text x="444.5" y="497.2" font-size="5.1" fill="#4d4d4d" stroke="#4d4d4d">STRd</text>
<text x="407.4" y="518.8" font-size="5.1" fill="#4d4d4d" stroke="#4d4d4d">STR</text>
<text x="449.7" y="542.1" font-size="5.1" fill="#4d4d4d" stroke="#4d4d4d">PAL</text>
<text x="406.4" y="557.3" font-size="5.1" fill="#4d4d4d" stroke="#4d4d4d">STRv</text>
<path transform="scale(.5)" d="M846 1045h2m1 1h2m-1 0h2m-7 1h2m0 0h2m0 0h2m-6 2h2m1 0h2m1 0h2m-11 1h2m0 0h2m1 1h2m-5 1h2m0 1h2m4 0h2m-4 1h2m-8 1h2m0 0h2m0 0h2m1 0h2m-12 1h2m1 0h2m5 0h2m-10 1h2m-1 0h2m3 0h2m-1 0h2m-8 1h2m0 0h2m3 0h2m-4 2h2m0 0h2m-1 0h2m-8 1h2m2 0h2m-9 1h2m0 0h2m0 0h2m0 0h2m-7 1h2m-1 0h2m-4 1h2m2 0h2m0 0h2m-8 1h2m-1 0h2m2 0h2m-4 1h2m-3 1h2" stroke="#1fbf80" stroke-width="2" fill="none"/>
<path transform="scale(.5)" d="M856 1067h2m-3 2h2m1 1h2m-1 0h2m-1 0h2m-10 1h2m6 0h2m-1 0h2m0 1h2m-12 1h2m0 0h2m-1 0h2m2 0h2m-14 1h2m2 0h2m7 0h2m-15 1h2m-1 0h2m0 0h2m0 0h2m8 1h2m-18 1h2m4 0h2m4 0h2m-14 1h2m-1 1h2m0 0h2m2 0h2m1 0h2m2 0h2m-16 1h2m0 0h2m5 0h2m3 0h2m-6 1h2m-1 0h2m-10 1h2m-1 0h2m1 1h2m3 0h2m-7 1h2m0 0h2m-4 1h2m-1 0h2m-1 0h2" stroke="#7a1f8c" stroke-width="2" fill="none"/>
<path transform="scale(.5)" d="M867 1083h2m1 0h2m-2 2h2m-9 1h2m4 0h2m0 1h2m-10 1h2m3 0h2m-6 1h2m1 0h2m-1 0h2m-7 1h2m0 0h2m-1 0h2m0 1h2m-4 1h2m-1 0h2" stroke="#1f1a5c" stroke-width="2" fill="none"/>
<rect x="479.4" y="476.9" width="12.7" height="8" fill="#d6d6d6" rx="2.2"/>
<text x="485.8" y="483.2" font-size="6.3" fill="#231f20" stroke="#231f20" text-anchor="middle" font-weight="bold">276</text>
<path d="M485.7 546.2C485.2 547.8 486.8 550.5 489.8 552.9C492.7 555.3 495.7 557.1 500.5 558.3C505.3 559.5 509.3 559.5 513.8 559C518.4 558.5 520.5 557.7 523.2 555.6C525.9 553.6 527 551 527.3 548.8C527.5 546.7 526.2 545.8 524.5 544.9C522.9 543.9 521.6 544.4 519.2 544.2C516.8 543.9 516 543.6 512.5 543.5C509 543.3 505.8 543.2 501.8 543.5C497.8 543.7 495.6 544.3 492.4 544.9C489.2 545.4 486.3 544.6 485.7 546.2Z" fill="#f4f4f4" stroke="#5a5a5a" stroke-width="0.45" stroke-linejoin="round"/>
<path d="M481.7 519.3C483.2 516.8 486 515.8 488.4 515.2C490.8 514.7 493.2 515.4 493.7 516.5C494.3 517.6 492 518.4 491.1 520.6C490.2 522.7 489.5 524.1 489.1 527.3C488.7 530.5 488.7 533.2 489.1 536.7C489.5 540.3 492 543 491.1 544.9C490.2 546.8 486.3 547.8 484.4 546.2C482.6 544.6 482.4 540.5 481.7 536.7C481 533 481 530.8 481 527.3C481 523.8 480.2 521.7 481.7 519.3Z" fill="#f4f4f4" stroke="#5a5a5a" stroke-width="0.45" stroke-linejoin="round"/>
<path d="M491.1 530C492.3 527.6 494.1 524.3 496.5 523.2C498.9 522.2 500.5 523.4 503.1 524.7C505.8 525.9 506.8 528.2 509.8 529.3C512.7 530.4 515.7 529.1 517.9 530C520 531 520.2 531.9 520.5 534.1C520.8 536.3 520.8 538.9 519.2 540.8C517.6 542.7 516 542.9 512.5 543.5C509 544 505.6 544.2 501.8 543.5C498.1 542.7 496 541.1 493.7 539.5C491.4 537.9 490.9 537.3 490.4 535.4C489.9 533.5 489.9 532.5 491.1 530Z" fill="#f4f4f4" stroke="#5a5a5a" stroke-width="0.45" stroke-linejoin="round"/>
<path d="M536 513.9C537.8 511.5 538.5 513.9 539.3 515.2C540.1 516.5 540.5 518.7 540 520.6C539.5 522.5 538.7 523.3 536.7 524.7C534.6 526 530 529.4 529.9 527.3C529.8 525.1 534.1 516.3 536 513.9Z" fill="#f4f4f4" stroke="#5a5a5a" stroke-width="0.45" stroke-linejoin="round"/>
<path d="M496.5 485.5C497.8 482.4 498.9 481.1 501.8 479.5C504.8 477.9 507.2 477.5 511.2 477.5C515.2 477.5 518.2 477.9 521.9 479.5C525.7 481.1 527.2 482.4 529.9 485.5C532.6 488.6 533.8 490.9 535.3 495C536.7 499 537.1 501.7 537.3 505.8C537.4 509.8 536.9 512 536 515.2C535 518.4 534.6 519.5 532.6 521.9C530.6 524.3 528.9 525.7 526 527.3C523 528.9 521.1 529.6 517.9 530C514.6 530.4 512.7 530.4 509.8 529.3C506.8 528.2 505.5 527.2 503.1 524.7C500.7 522.1 499.4 520.3 497.8 516.5C496.2 512.7 495.7 510.1 495.1 505.8C494.6 501.4 494.9 499 495.1 495C495.4 490.9 495.1 488.6 496.5 485.5Z" fill="#f4f4f4" stroke="#5a5a5a" stroke-width="0.45" stroke-linejoin="round"/>
<text x="516.4" y="497.2" font-size="5.1" fill="#4d4d4d" stroke="#4d4d4d">STRd</text>
<text x="479.4" y="519.2" font-size="5.1" fill="#4d4d4d" stroke="#4d4d4d">STR</text>
<text x="521.7" y="542.1" font-size="5.1" fill="#4d4d4d" stroke="#4d4d4d">PAL</text>
<text x="477.9" y="558" font-size="5.1" fill="#4d4d4d" stroke="#4d4d4d">STRv</text>
<path transform="scale(.5)" d="M990 1035h2m-4 1h2m1 0h2m1 1h2m-9 3h2m0 0h2m3 0h2m-10 2h2m7 0h2m-12 2h2m2 0h2m6 1h2m-2 1h2m-15 1h2m13 0h2m-16 1h2m0 0h2m9 0h2m-10 3h2m1 0h2m-7 1h2m1 0h2m0 0h2m-10 2h2m6 1h2m0 1h2m-11 1h2m0 1h2m7 0h2m-9 2h2m2 0h2m-1 0h2m-2 1h2m-4 3h2" stroke="#1fbf80" stroke-width="2" fill="none"/>
<path transform="scale(.5)" d="M997 1068h2m-1 0h2m3 1h2m3 0h2m-7 1h2m19 0h2m-31 1h2m13 0h2m5 0h2m-11 2h2m1 0h2m5 0h2" stroke="#1fbf80" stroke-width="2" fill="none"/>
<line x1="490" y1="507" x2="494" y2="525" stroke="#1fbf80" stroke-width="0.5"/>
<text x="484.3" y="506.1" font-size="5.2" fill="#231f20" stroke="#231f20" font-weight="bold">978</text>
<path d="M560.8 553.9C561.9 553.5 564.2 555 567.8 555.3C571.4 555.6 575.9 554.8 578.8 555.3C581.6 555.9 581.9 557 582.2 558C582.4 558.9 583 559.7 580.1 560C577.2 560.3 571.3 560.1 567.8 559.6C564.2 559 563.7 558.4 562.3 557.3C560.9 556.1 559.7 554.3 560.8 553.9Z" fill="#f4f4f4" stroke="#5a5a5a" stroke-width="0.45" stroke-linejoin="round"/>
<path d="M580.1 541.8C582.3 541 585.3 542.2 586.9 543.2C588.6 544.1 588.7 544.9 588.4 546.5C588.1 548.1 587 549.8 585.6 551.3C584.2 552.8 584.5 553.6 581.4 553.9C578.4 554.2 571.6 553.9 570.5 552.6C569.4 551.3 574 549.4 576 547.2C577.9 545.1 577.9 542.6 580.1 541.8Z" fill="#f4f4f4" stroke="#5a5a5a" stroke-width="0.45" stroke-linejoin="round"/>
<path d="M613.8 519C615.2 518.2 615.2 523 614.5 525.7C613.8 528.4 612.8 529.7 610.4 532.4C607.9 535.1 605.4 536.7 602.1 539.1C598.8 541.5 596.6 543 593.9 544.5C591.1 546 589.8 546.8 588.4 546.5C587 546.2 585.8 544.6 586.9 543.2C588 541.7 591.1 540.7 593.9 539.1C596.6 537.5 598 537 600.7 535.1C603.5 533.3 604.9 533 607.6 529.8C610.2 526.5 612.4 519.8 613.8 519Z" fill="#f4f4f4" stroke="#5a5a5a" stroke-width="0.45" stroke-linejoin="round"/>
<path d="M582.9 514.9C584.7 514.1 588.1 517.5 589.6 520.2C591.2 522.9 589.6 525.4 590.7 528.3C591.7 531.3 595.6 532 594.8 534.9C594.1 537.9 589.9 541.8 586.9 543.2C584 544.5 581.5 544 580.1 541.8C578.7 539.7 580 535.9 580.1 532.4C580.2 528.9 580.3 527.8 580.8 524.3C581.4 520.8 581.1 515.7 582.9 514.9Z" fill="#f4f4f4" stroke="#5a5a5a" stroke-width="0.45" stroke-linejoin="round"/>
<path d="M548.5 527C549 524.3 551.5 520.1 554 517.6C556.5 515.1 557.8 515 560.8 514.6C563.8 514.2 567.3 514 568.9 515.6C570.5 517.3 569.9 520.5 568.9 522.8C567.9 525 565.9 525.1 563.7 526.8C561.6 528.5 560.6 530.2 558.1 531.1C555.6 531.9 553.2 531.9 551.3 531.1C549.4 530.3 548 529.7 548.5 527Z" fill="#f4f4f4" stroke="#5a5a5a" stroke-width="0.45" stroke-linejoin="round"/>
<path d="M580.1 505.5C581.8 505.2 583.7 504.9 584.2 506.8C584.8 508.7 583.6 511.4 582.9 514.9C582.2 518.4 581.4 520.8 580.8 524.3C580.3 527.8 580.2 528.9 580.1 532.4C580 535.9 580.9 538.9 580.1 541.8C579.3 544.8 578.2 545.3 576 547.2C573.8 549.1 572.1 549.9 569.1 551.3C566.1 552.6 563.6 553.6 560.8 553.9C558.1 554.2 556.7 553.9 555.3 552.6C554 551.3 553.4 549.1 554 547.2C554.6 545.3 555.9 545.3 558.1 543.2C560.3 541 563.3 539.4 565 536.5C566.6 533.5 565.8 531.8 566.3 528.3C566.9 524.8 566.7 521.9 567.8 519C568.9 516.1 570.2 515.8 571.8 513.6C573.4 511.4 574.3 509.8 576 508.1C577.6 506.5 578.4 505.8 580.1 505.5Z" fill="#f4f4f4" stroke="#5a5a5a" stroke-width="0.45" stroke-linejoin="round"/>
<path d="M576 486.6C577.1 484.7 577.9 482.8 580.1 481.2C582.3 479.6 583.9 479 586.9 478.6C590 478.2 591.9 478.1 595.2 479.2C598.5 480.3 600.4 481.1 603.4 484C606.4 486.8 608.3 489.1 610.4 493.4C612.4 497.7 613.1 500.7 613.8 505.5C614.5 510.3 614.3 513.5 613.8 517.6C613.2 521.6 612.8 523 611 525.7C609.2 528.4 607.5 529.3 604.9 531.1C602.3 532.8 600.4 533.9 597.9 534.4C595.4 535 594.1 534.9 592.4 533.7C590.8 532.5 590.4 531.6 589.7 528.3C589.1 525.1 589.6 521.6 589 517.6C588.5 513.5 588.2 511.1 586.9 508.1C585.7 505.2 584.5 504.6 582.9 502.8C581.3 500.9 580.1 500.1 578.8 498.8C577.4 497.5 576.8 497.7 576 496.1C575.1 494.4 574.6 492.6 574.6 490.7C574.6 488.8 574.9 488.5 576 486.6Z" fill="#f4f4f4" stroke="#5a5a5a" stroke-width="0.45" stroke-linejoin="round"/>
<text x="595.5" y="507.8" font-size="5.1" fill="#4d4d4d" stroke="#4d4d4d">STRd</text>
<text x="570.7" y="526.2" font-size="5.1" fill="#4d4d4d" stroke="#4d4d4d">PAL</text>
<text x="544.2" y="541.7" font-size="5.1" fill="#4d4d4d" stroke="#4d4d4d">HY</text>
<text x="601" y="543.8" font-size="5.1" fill="#4d4d4d" stroke="#4d4d4d">CTXsp</text>
<text x="587" y="552.7" font-size="5.1" fill="#4d4d4d" stroke="#4d4d4d">sAMY</text>
<text x="584.5" y="560.7" font-size="5.1" fill="#4d4d4d" stroke="#4d4d4d">STRv</text>
<path transform="scale(.5)" d="M1179 1075h2m1 0h2m-1 1h2m-10 3h2m2 0h2m1 1h2m-9 1h2m7 0h2m-12 1h2m8 0h2m-1 1h2m-13 1h2m-1 1h2" stroke="#1fbf80" stroke-width="2" fill="none"/>
<path d="M456.9 567.6C457.9 568.3 458.7 568.9 460.2 571.6C461.7 574.3 463.5 577.3 464.4 581.1C465.2 584.9 464.8 587.3 464.4 590.6C464 593.8 462.1 594.6 462.3 597.3C462.6 600 464.6 600.6 465.7 604.2C466.7 607.7 467.7 610.6 467.7 615C467.7 619.3 467.4 621.4 465.7 625.7C463.9 630.1 462.2 632.8 458.9 636.6C455.6 640.4 453.2 642.6 449.4 644.7C445.6 646.8 443.4 647.3 439.9 647C436.3 646.7 433.9 644.7 431.8 643.4C429.6 642 429.9 639.9 429 640.1C428.2 640.4 428.7 643.4 427.6 644.7C426.5 646 426 646.7 423.6 646.7C421.1 646.7 418 646.4 415.5 644.7C412.9 643 411.8 640.6 410.9 638.1C410 635.7 410.7 634.1 411.1 632.5C411.5 630.8 411.3 631.2 412.7 629.9C414.1 628.5 415.1 628.2 418.1 625.7C421.1 623.3 423.5 621.4 427.6 617.7C431.7 613.9 435.3 609.6 438.5 606.9C441.8 604.2 442.3 605.5 443.9 604.2C445.5 602.8 445.3 602.8 446.6 600C448 597.3 449.3 595.2 450.8 590.6C452.3 586 453.3 581.5 454.1 577.1C454.9 572.6 454.3 570.2 454.8 568.3C455.4 566.4 455.8 566.9 456.9 567.6Z" fill="#f4f4f4" stroke="#5a5a5a" stroke-width="0.45" stroke-linejoin="round"/>
<path d="M443.9 604.2C446 604.4 453.1 606.6 456.2 605.5C459.2 604.3 461.3 598.7 462.3 597.3" fill="none" stroke="#5a5a5a" stroke-width="0.45" stroke-linecap="round" stroke-linejoin="round"/>
<path d="M439.9 608.9C441.2 609.7 445.3 614.2 448.1 613.6C450.8 613.1 454.8 606.8 456.2 605.5" fill="none" stroke="#5a5a5a" stroke-width="0.45" stroke-linecap="round" stroke-linejoin="round"/>
<path d="M448.1 613.6C446.2 615.2 440.2 620.1 437.1 623C434.1 625.9 431.2 628.5 429.7 631.2C428.3 633.9 428.4 637.6 428.3 639.2C428.2 640.9 428.9 640.8 429 641.2" fill="none" stroke="#5a5a5a" stroke-width="0.45" stroke-linecap="round" stroke-linejoin="round"/>
<text x="439.2" y="580.3" font-size="5.1" fill="#4d4d4d" stroke="#4d4d4d">STRd</text>
<text x="437" y="596.6" font-size="5.1" fill="#4d4d4d" stroke="#4d4d4d">STR</text>
<text x="404.7" y="627" font-size="5.1" fill="#4d4d4d" stroke="#4d4d4d">sAMY</text>
<text x="451.9" y="644.5" font-size="5.1" fill="#4d4d4d" stroke="#4d4d4d">CTXsp</text>
<path transform="scale(.5)" d="M922 1166h3m-8 1h3m-2 0h3m-1 0h3m-2 0h3m-10 1h3m-2 0h3m-2 0h3m1 0h3m-6 1h3m-1 0h3m-2 0h3m-5 1h3m-2 0h3m-1 0h3m-2 0h3m-3 1h3m-18 1h3m-2 0h3m8 0h3m-1 0h3m-1 0h3m-8 1h3m-1 0h3m-2 0h3m-2 0h3m-2 0h3m-19 1h3m-2 0h3m10 0h3m-2 0h3m-2 0h3m-21 1h3m-2 0h3m-1 0h3m5 0h3m0 0h3m1 0h3m-20 1h3m-1 0h3m-2 0h3m5 0h3m-2 0h3m2 0h3m-2 0h3m-25 1h3m-1 0h3m2 0h3m-2 0h3m-2 0h3m-2 0h3m-2 0h3m-2 0h3m0 0h3m-2 0h3m1 0h3m-2 0h3m-24 1h3m-2 0h3m-2 0h3m-1 0h3m1 0h3m3 0h3m-1 0h3m-2 0h3m-2 0h3m-2 0h3m-2 0h3m-24 1h3m-1 0h3m-2 0h3m-2 0h3m-1 0h3m-2 0h3m0 0h3m7 0h3m-2 0h3m-2 0h3m-27 1h3m0 0h3m-2 0h3m-2 0h3m-2 0h3m-1 0h3m-2 0h3m0 0h3m3 0h3m1 0h3m-2 0h3m-2 0h3m-23 1h3m1 0h3m-2 0h3m-2 0h3m-1 0h3m-1 0h3m-2 0h3m-1 0h3m1 0h3m-2 0h3m0 0h3m-28 1h3m0 0h3m-2 0h3m1 0h3m1 0h3m-2 0h3m-2 0h3m1 0h3m3 0h3m-20 1h3m-1 0h3m9 0h3m-1 0h3m-2 0h3m-29 1h3m-1 0h3m14 0h3m-2 0h3m-1 0h3m1 0h3m-28 1h3m-1 0h3m-1 0h3m-2 0h3m-2 0h3m2 0h3m7 0h3m0 0h3m-25 1h3m-2 0h3m4 0h3m6 0h3m0 0h3m-26 1h3m-2 0h3m1 0h3m1 0h3m0 0h3m-2 0h3m4 0h3m-2 0h3m0 0h3m-26 1h3m-1 0h3m6 0h3m-2 0h3m4 0h3m-2 0h3m-2 0h3m-21 1h3m-1 0h3m-2 0h3m-2 0h3m-1 0h3m4 0h3m-2 0h3m-1 0h3m-2 0h3m-1 0h3m-2 0h3m-30 1h3m-1 0h3m-1 0h3m-1 0h3m-1 0h3m-2 0h3m1 0h3m6 0h3m0 0h3m-27 1h3m-2 0h3m-1 0h3m-2 0h3m0 0h3m0 0h3m-2 0h3m0 0h3m2 0h3m-2 0h3m-2 0h3m-1 0h3m-2 0h3m-28 1h3m-1 0h3m0 0h3m-2 0h3m0 0h3m-1 0h3m-1 0h3m1 0h3m-1 0h3m-1 0h3m-24 1h3m0 0h3m-2 0h3m-1 0h3m-1 0h3m-1 0h3m-1 0h3m-2 0h3m2 0h3m2 0h3m-27 1h3m-2 0h3m-1 0h3m1 0h3m-2 0h3m0 0h3m-1 0h3m-1 0h3m-2 0h3m-2 0h3m0 0h3m-1 0h3m-1 0h3m-28 1h3m6 0h3m-2 0h3m-2 0h3m5 0h3m0 0h3m-1 0h3m-28 1h3m-2 0h3m-1 0h3m0 0h3m-2 0h3m-2 0h3m0 0h3m-2 0h3m-1 0h3m-1 0h3m-2 0h3m4 0h3m-27 1h3m8 0h3m-1 0h3m1 0h3m-1 0h3m-1 0h3m-22 1h3m0 0h3m-2 0h3m-1 0h3m-2 0h3m3 0h3m1 0h3m-2 0h3m-2 0h3m-2 0h3m-23 1h3m-1 0h3m-1 0h3m1 0h3m-2 0h3m-2 0h3m-2 0h3m-1 0h3m-1 0h3m-1 0h3m-1 0h3m-1 0h3m-24 1h3m2 0h3m-2 0h3m0 0h3m8 0h3m-22 1h3m-1 0h3m-2 0h3m-1 0h3m3 0h3m-2 0h3m1 0h3m-2 0h3m-2 0h3m-21 1h3m1 0h3m4 0h3m-1 0h3m1 0h3m-21 1h3m-1 0h3m3 0h3m-2 0h3m0 0h3m1 0h3m-1 0h3m-21 1h3m9 0h3m-1 0h3m-2 0h3m-1 0h3m-18 1h3m-1 0h3m0 0h3m3 0h3m-14 1h3m-2 0h3m0 0h3m3 0h3m-13 1h3m-2 0h3m-1 0h3m-1 0h3m-2 0h3m-2 0h3" stroke="#1f1a5c" stroke-width="3" fill="none"/>
<path transform="scale(.5)" d="M919 1141h2m-1 4h2m-6 1h2m-1 0h2m0 0h2m-5 1h2m0 0h2m-3 1h2m0 0h2m0 0h2m-4 1h2m-7 2h2m2 0h2m1 0h2m-9 1h2m4 0h2m-9 1h2m4 1h2m0 0h2m-1 1h2m0 0h2m-7 1h2m0 0h2m-7 1h2m-1 0h2m-1 0h2m3 0h2m-1 0h2m-11 1h2m-1 0h2m1 0h2m-1 0h2m0 0h2m0 1h2m-15 1h2m6 0h2m-1 0h2m2 0h2m-4 1h2m-1 0h2m-13 1h2m4 0h2m-2 1h2m-1 0h2m-6 1h2m0 0h2m-5 1h2m1 0h2m-1 0h2m-4 1h2m0 0h2m-1 0h2m-5 1h2m-7 1h2m4 1h2m-1 0h2m0 0h2m-11 1h2m2 0h2m6 0h2m-10 1h2m1 0h2" stroke="#1f1a5c" stroke-width="2" fill="none"/>
<text x="413.8" y="580.5" font-size="5.2" fill="#231f20" stroke="#231f20" font-weight="bold">970</text>
<line x1="423" y1="578.5" x2="448" y2="598" stroke="#1f1a5c" stroke-width="0.5"/>
<text x="413.8" y="589" font-size="5.2" fill="#231f20" stroke="#231f20" font-weight="bold">968</text>
<line x1="423" y1="587" x2="448" y2="598" stroke="#1a9bdc" stroke-width="0.5"/>
<text x="413.8" y="596.8" font-size="5.2" fill="#231f20" stroke="#231f20" font-weight="bold">965</text>
<line x1="423" y1="594.8" x2="448" y2="598" stroke="#1fbf80" stroke-width="0.5"/>
<text x="413.8" y="604.3" font-size="5.2" fill="#231f20" stroke="#231f20" font-weight="bold">971</text>
<line x1="423" y1="602.3" x2="448" y2="598" stroke="#7a1f8c" stroke-width="0.5"/>
<text x="413.8" y="612.2" font-size="5.2" fill="#231f20" stroke="#231f20" font-weight="bold">969</text>
<line x1="423" y1="610.2" x2="448" y2="598" stroke="#7a1f8c" stroke-width="0.5"/>
<text x="413.8" y="619.5" font-size="5.2" fill="#231f20" stroke="#231f20" font-weight="bold">967</text>
<line x1="423" y1="617.5" x2="448" y2="613" stroke="#f5841f" stroke-width="0.5"/>
<rect x="478.3" y="569" width="12.3" height="7.8" fill="#d6d6d6" rx="2.2"/>
<text x="484.5" y="575.1" font-size="6.3" fill="#231f20" stroke="#231f20" text-anchor="middle" font-weight="bold">278</text>
<path d="M482.5 628.3C482.8 630.2 484 635.4 486.4 639.2C488.9 643 490.5 644.7 494.5 647.3C498.6 649.9 501.5 651.1 506.6 652.2C511.7 653.3 515.5 653.5 520.1 652.8C524.6 652.1 527.1 650.9 529.4 648.7C531.6 646.5 531.4 644.3 531.4 641.9C531.4 639.4 531.6 638.1 529.4 636.4C527.1 634.8 523.3 633.7 520.1 633.7C516.8 633.7 516.5 635.6 513.3 636.4C510.1 637.2 508 638 504 637.8C500 637.5 497 636.7 493.2 635.1C489.5 633.5 487.3 631 485.1 629.6C483 628.3 482.2 626.4 482.5 628.3Z" fill="#f4f4f4" stroke="#5a5a5a" stroke-width="0.45" stroke-linejoin="round"/>
<path d="M489.2 610.5C490.4 607.8 491.1 607.4 493.2 606.5C495.4 605.5 497.2 605.2 499.9 605.7C502.6 606.3 504.4 607.1 506.6 609.1C508.7 611.2 508.8 613.5 510.6 615.9C512.5 618.4 514.1 619.5 516 621.4C517.9 623.3 519.3 623.6 520.1 625.5C520.9 627.4 521.4 628.8 520.1 631C518.7 633.1 516.5 635.1 513.3 636.4C510.1 637.8 507.7 638 504 637.8C500.2 637.5 497.6 636.7 494.5 635.1C491.4 633.5 490 632.6 488.5 629.6C487 626.6 487 623.9 487.2 620C487.3 616.2 488 613.2 489.2 610.5Z" fill="#f4f4f4" stroke="#5a5a5a" stroke-width="0.45" stroke-linejoin="round"/>
<path d="M536.8 601C539.6 597.2 539 600.2 539.5 602.3C540 604.5 540.2 608.6 539.5 611.9C538.8 615.2 538.2 616.7 536.2 618.7C534.1 620.7 531.5 621.6 529.4 622.1C527.2 622.6 523.9 625.6 525.4 621.4C526.9 617.2 534 604.8 536.8 601Z" fill="#f4f4f4" stroke="#5a5a5a" stroke-width="0.45" stroke-linejoin="round"/>
<path d="M497.2 575C498.9 572.4 500 572.6 503.3 571.6C506.5 570.7 509.1 570.1 513.3 570.2C517.4 570.3 520.2 570.8 524 572.3C527.8 573.8 529.6 575 532.1 577.7C534.7 580.5 535.4 582.1 536.8 586C538.1 589.8 538.8 592.8 538.8 596.9C538.8 601 537.8 603.2 536.8 606.5C535.7 609.7 534.9 610.8 533.4 613.3C531.9 615.7 531.5 617.1 529.4 618.7C527.2 620.3 525.6 620.9 522.7 621.4C519.8 621.9 517.4 622.2 514.7 621.4C512 620.6 511.2 619.6 509.3 617.4C507.4 615.2 507.4 612.9 505.3 610.5C503.1 608 500.6 608 498.6 605C496.6 602 496 599.6 495.2 595.5C494.3 591.5 494.1 588.7 494.5 584.6C495 580.5 495.4 577.6 497.2 575Z" fill="#f4f4f4" stroke="#5a5a5a" stroke-width="0.45" stroke-linejoin="round"/>
<text x="510" y="594.1" font-size="5.1" fill="#4d4d4d" stroke="#4d4d4d">STRd</text>
<text x="478.3" y="630.1" font-size="5.1" fill="#4d4d4d" stroke="#4d4d4d">PAL</text>
<text x="524.9" y="628" font-size="5.1" fill="#4d4d4d" stroke="#4d4d4d">CTXsp</text>
<text x="523.8" y="651.3" font-size="5.1" fill="#4d4d4d" stroke="#4d4d4d">STRv</text>
<path transform="scale(.5)" d="M1000 1215h2m0 0h2m-8 1h2m1 0h2m-1 0h2m0 0h2m-10 1h2m7 0h2m-8 1h2m-1 0h2m0 0h2m0 0h2m-9 1h2m3 0h2m3 0h2m-11 1h2m-1 0h2m-1 0h2m1 0h2m0 0h2m-10 1h2m4 0h2m3 0h2m0 0h2m-14 1h2m2 0h2m1 0h2m1 0h2m-1 0h2m-1 0h2m-11 1h2m6 0h2m-14 1h2m4 0h2m1 0h2m0 0h2m-10 1h2m1 0h2m-1 0h2m-1 0h2m-1 0h2m4 0h2m-1 0h2m-18 1h2m1 0h2m-1 0h2m0 0h2m2 0h2m-1 0h2m0 0h2m-16 1h2m0 0h2m2 0h2m1 0h2m2 0h2m-1 0h2m-1 0h2m0 0h2m0 0h2m-14 1h2m0 0h2m-1 0h2m0 0h2m1 0h2m0 0h2m0 0h2m-20 1h2m14 0h2m-1 0h2m-17 1h2m-1 0h2m-1 0h2m3 0h2m1 0h2m3 0h2m-17 1h2m8 0h2m-1 0h2m0 1h2m1 0h2m-7 1h2m-1 0h2m0 0h2m-1 0h2m-1 0h2m-1 0h2m0 0h2m-12 1h2m0 0h2m0 0h2m2 0h2m-20 1h2m8 0h2m0 0h2m5 0h2m-20 1h2m5 0h2m-1 0h2m-1 0h2m-1 0h2m-1 0h2m1 0h2m2 0h2m-21 1h2m8 0h2m4 0h2m-1 0h2m0 0h2m-21 1h2m3 0h2m13 0h2m-18 1h2m-4 1h2m4 0h2m-1 0h2m-7 1h2m-3 1h2m-1 0h2m0 0h2m1 0h2m-1 0h2m8 0h2m-1 0h2m-1 0h2m-22 1h2m-1 0h2m-1 0h2m-1 0h2m1 0h2m0 0h2m9 0h2m-1 0h2m-19 1h2m0 0h2m0 0h2m-1 0h2m-5 1h2m-1 0h2m1 0h2m-1 0h2m0 0h2m2 0h2m-1 0h2m-15 1h2m3 0h2m-1 0h2m-1 0h2m5 0h2m-18 1h2m-1 0h2m0 0h2m3 0h2m0 0h2m-1 0h2m-1 0h2m0 0h2m1 0h2m-17 1h2m-1 0h2m-1 0h2m-1 0h2m-1 0h2m-1 0h2m2 0h2m-1 0h2m-11 1h2m0 0h2m2 0h2m1 0h2m0 0h2m-8 1h2m-1 0h2m1 0h2m-1 0h2m-1 0h2m-1 0h2m-15 1h2m-1 0h2m2 0h2m2 0h2m0 0h2m-9 1h2m0 0h2m2 0h2m-11 1h2m0 0h2m5 0h2m-1 0h2m-1 0h2m-1 0h2m-8 1h2m0 0h2m-1 0h2m-1 0h2m-6 1h2m0 0h2m0 0h2m-3 1h2m-1 0h2m0 0h2m-2 2h2" stroke="#f5841f" stroke-width="2" fill="none"/>
<path transform="scale(.5)" d="M999 1262h2m-4 1h2m1 1h2m-1 1h2m-6 1h2m-6 3h2m-5 1h2m5 0h2m11 1h2m-19 1h2m12 2h2m-15 1h2" stroke="#f5841f" stroke-width="2" fill="none"/>
<path d="M557.2 638.8C556.7 640.4 558.3 643 561.2 645.4C564.1 647.8 567 649.5 571.7 650.7C576.4 651.9 580.4 651.9 584.8 651.4C589.3 650.9 591.4 650.1 594.1 648.1C596.7 646.1 597.8 643.5 598.1 641.4C598.3 639.3 597 638.4 595.4 637.5C593.8 636.6 592.5 637.1 590.1 636.8C587.7 636.5 587 636.2 583.5 636.1C580.1 636 577 635.8 573 636.1C569 636.4 566.9 637 563.7 637.5C560.6 638 557.7 637.2 557.2 638.8Z" fill="#f4f4f4" stroke="#5a5a5a" stroke-width="0.45" stroke-linejoin="round"/>
<path d="M553.2 612.3C554.6 609.9 557.4 608.8 559.8 608.3C562.1 607.8 564.5 608.5 565 609.6C565.6 610.7 563.4 611.5 562.4 613.6C561.5 615.7 560.9 617 560.5 620.2C560.1 623.4 560.1 626 560.5 629.5C560.9 633 563.4 635.6 562.4 637.5C561.5 639.4 557.7 640.4 555.9 638.8C554 637.2 553.9 633.2 553.2 629.5C552.5 625.8 552.5 623.6 552.5 620.2C552.5 616.8 551.7 614.7 553.2 612.3Z" fill="#f4f4f4" stroke="#5a5a5a" stroke-width="0.45" stroke-linejoin="round"/>
<path d="M562.4 622.9C563.6 620.5 565.4 617.3 567.7 616.2C570.1 615.1 571.7 616.4 574.3 617.6C576.9 618.8 577.9 621.1 580.9 622.2C583.8 623.3 586.7 622 588.8 622.9C590.9 623.8 591.1 624.8 591.4 626.9C591.7 629 591.7 631.7 590.1 633.5C588.5 635.3 587 635.6 583.5 636.1C580.1 636.6 576.7 636.9 573 636.1C569.3 635.3 567.3 633.8 565 632.2C562.8 630.6 562.3 630.1 561.8 628.2C561.2 626.3 561.3 625.3 562.4 622.9Z" fill="#f4f4f4" stroke="#5a5a5a" stroke-width="0.45" stroke-linejoin="round"/>
<path d="M606.6 607C608.5 604.6 609.1 607 609.9 608.3C610.7 609.6 611.1 611.7 610.6 613.6C610.1 615.5 609.3 616.3 607.3 617.6C605.3 618.9 600.8 622.3 600.7 620.2C600.5 618.1 604.8 609.4 606.6 607Z" fill="#f4f4f4" stroke="#5a5a5a" stroke-width="0.45" stroke-linejoin="round"/>
<path d="M567.7 579.1C569 576.1 570.1 574.8 573 573.2C575.9 571.6 578.3 571.2 582.2 571.2C586.2 571.2 589.1 571.6 592.8 573.2C596.5 574.8 598 576.1 600.7 579.1C603.3 582.1 604.5 584.4 605.9 588.4C607.4 592.4 607.8 595 607.9 599C608.1 603 607.5 605.1 606.6 608.3C605.7 611.5 605.3 612.5 603.3 614.9C601.4 617.3 599.7 618.6 596.8 620.2C593.9 621.8 592 622.5 588.8 622.9C585.6 623.3 583.8 623.3 580.9 622.2C577.9 621.1 576.7 620.1 574.3 617.6C571.9 615.1 570.6 613.3 569 609.6C567.4 605.9 566.9 603.2 566.4 599C565.9 594.8 566.2 592.4 566.4 588.4C566.7 584.4 566.4 582.1 567.7 579.1Z" fill="#f4f4f4" stroke="#5a5a5a" stroke-width="0.45" stroke-linejoin="round"/>
<text x="586.6" y="589.9" font-size="5.1" fill="#4d4d4d" stroke="#4d4d4d">STRd</text>
<text x="549.5" y="611.5" font-size="5.1" fill="#4d4d4d" stroke="#4d4d4d">STR</text>
<text x="590.8" y="633.3" font-size="5.1" fill="#4d4d4d" stroke="#4d4d4d">PAL</text>
<text x="546.4" y="650.8" font-size="5.1" fill="#4d4d4d" stroke="#4d4d4d">STRv</text>
<path transform="scale(.5)" d="M1132 1206h2m1 0h2m-6 1h2m0 1h2m-12 2h2m6 0h2m5 0h2m-12 1h2m6 0h2m-14 1h2m-1 0h2m0 0h2m2 0h2m-4 1h2m2 0h2m2 0h2m-14 1h2m3 0h2m0 0h2m4 0h2m1 0h2m-14 2h2m5 0h2m-1 0h2m2 0h2m-17 2h2m2 0h2m3 0h2m7 0h2m-16 1h2m-1 0h2m-1 0h2m-1 0h2m2 0h2m2 0h2m-15 1h2m-1 0h2m-1 0h2m0 0h2m9 0h2m-18 1h2m7 0h2m3 0h2m1 0h2m-21 1h2m-1 0h2m-1 0h2m1 0h2m2 0h2m0 0h2m4 0h2m0 0h2m-21 1h2m1 0h2m-1 0h2m-1 1h2m1 0h2m8 0h2m0 0h2m-1 0h2m-24 1h2m1 0h2m2 0h2m-1 0h2m2 0h2m3 0h2m-13 1h2m-1 0h2m6 0h2m-8 1h2m8 0h2m4 0h2m-12 1h2m4 0h2m-1 0h2m1 0h2m-25 1h2m3 0h2m-1 0h2m7 0h2m-1 0h2m3 0h2m0 0h2m-1 0h2m-27 1h2m2 0h2m0 0h2m12 0h2m-1 0h2m3 0h2m-27 1h2m-1 0h2m6 0h2m8 0h2m5 0h2m-29 1h2m1 1h2m0 0h2m2 0h2m4 0h2m1 0h2m-16 1h2m5 0h2m1 0h2m1 0h2m1 0h2m-9 1h2m2 0h2m4 0h2m-21 1h2m9 0h2m8 0h2m2 0h2m-25 1h2m9 0h2m4 0h2m3 0h2m-28 1h2m-1 0h2m10 0h2m-1 0h2m3 0h2m4 0h2m-19 1h2m0 0h2m0 0h2m5 0h2m4 0h2m0 0h2m-28 1h2m17 0h2m-20 1h2m-1 0h2m4 0h2m-1 0h2m0 0h2m7 0h2m2 0h2m-1 0h2m-15 1h2m0 0h2m-1 0h2m0 0h2m4 0h2m-1 0h2m-1 0h2m1 0h2m-27 1h2m2 0h2m10 0h2m-10 1h2m0 0h2m2 0h2m7 0h2m2 0h2m-21 1h2m7 0h2m1 0h2m-1 0h2m2 0h2m-1 0h2m-23 1h2m11 0h2m1 0h2m-1 0h2m0 0h2m-1 0h2m-24 1h2m2 0h2m5 0h2m-1 0h2m2 0h2m2 0h2m1 0h2m-14 1h2m-1 0h2m-11 1h2m0 0h2m5 0h2m-1 0h2m2 0h2m2 0h2m-16 1h2m9 0h2m2 0h2m-16 1h2m2 0h2m-9 1h2m13 0h2m-19 1h2m2 0h2m8 0h2m2 0h2m-5 1h2m0 1h2m-5 1h2m0 0h2m-13 1h2m2 0h2m4 0h2m-6 1h2m5 1h2" stroke="#f5841f" stroke-width="2" fill="none"/>
<path transform="scale(.5)" d="M1134 1237h2m0 0h2m-3 1h2m3 0h2m-11 1h2m2 0h2m0 0h2m0 0h2m-15 1h2m4 0h2m2 0h2m1 0h2m-11 1h2m4 0h2m3 0h2m-14 1h2m3 0h2m-1 0h2m3 0h2m-1 0h2m0 0h2m-19 1h2m3 0h2m-1 0h2m-1 0h2m-1 0h2m0 0h2m0 0h2m-1 0h2m0 0h2m-1 0h2m0 0h2m-19 1h2m2 0h2m0 0h2m3 0h2m-1 0h2m2 0h2m-15 1h2m-1 0h2m-1 0h2m5 0h2m3 0h2m-17 1h2m-1 0h2m-1 0h2m1 0h2m2 0h2m1 0h2m0 0h2m-14 1h2m1 0h2m-8 1h2m0 0h2m1 0h2m4 0h2m-1 0h2m-12 1h2m2 0h2m-1 0h2m2 0h2m-5 1h2m-1 0h2m0 0h2m0 0h2m-10 1h2m0 0h2m-1 0h2m1 1h2" stroke="#e8174a" stroke-width="2" fill="none"/>
<path transform="scale(.5)" d="M1153 1206h2m-4 1h2m-5 3h2m7 0h2m-17 1h2m7 2h2m2 1h2m0 0h2m-18 1h2m-1 0h2m1 2h2m-5 1h2m3 0h2m-7 2h2m9 0h2m-14 2h2m7 2h2m1 0h2" stroke="#1fbf80" stroke-width="2" fill="none"/>
<line x1="560" y1="590" x2="570" y2="610" stroke="#1fbf80" stroke-width="0.5"/>
<line x1="560" y1="601" x2="568" y2="612" stroke="#f5841f" stroke-width="0.5"/>
<line x1="556" y1="615.5" x2="562" y2="618" stroke="#e8174a" stroke-width="0.5"/>
<text x="548" y="591.5" font-size="5.2" fill="#231f20" stroke="#231f20" font-weight="bold">983</text>
<text x="548" y="602" font-size="5.2" fill="#231f20" stroke="#231f20" font-weight="bold">985</text>
<text x="546.3" y="616.5" font-size="5.2" fill="#231f20" stroke="#231f20" font-weight="bold">984</text>
<path d="M629.5 646.7C630.6 646.3 632.8 647.8 636.3 648.1C639.8 648.4 644.3 647.6 647.1 648.1C649.9 648.6 650.1 649.8 650.4 650.8C650.7 651.7 651.2 652.5 648.4 652.8C645.6 653.1 639.8 652.9 636.3 652.4C632.9 651.8 632.3 651.2 631 650.1C629.6 648.9 628.5 647.1 629.5 646.7Z" fill="#f4f4f4" stroke="#5a5a5a" stroke-width="0.45" stroke-linejoin="round"/>
<path d="M648.4 634.6C650.5 633.8 653.4 635 655.1 635.9C656.7 636.8 656.7 637.6 656.5 639.3C656.2 640.9 655.1 642.6 653.7 644C652.4 645.5 652.7 646.4 649.7 646.7C646.7 647 640 646.7 639 645.4C637.9 644 642.4 642.1 644.3 640C646.2 637.8 646.2 635.4 648.4 634.6Z" fill="#f4f4f4" stroke="#5a5a5a" stroke-width="0.45" stroke-linejoin="round"/>
<path d="M681.3 611.7C682.6 610.9 682.7 615.7 682 618.4C681.3 621.1 680.4 622.4 677.9 625.1C675.5 627.8 673.1 629.4 669.8 631.8C666.6 634.3 664.5 635.7 661.9 637.2C659.2 638.7 657.8 639.5 656.5 639.3C655.1 639 654 637.4 655.1 635.9C656.1 634.4 659.2 633.4 661.9 631.8C664.5 630.2 665.9 629.7 668.5 627.9C671.2 626 672.7 625.7 675.2 622.5C677.8 619.2 679.9 612.5 681.3 611.7Z" fill="#f4f4f4" stroke="#5a5a5a" stroke-width="0.45" stroke-linejoin="round"/>
<path d="M651.1 607.6C652.8 606.8 656.2 610.2 657.7 612.9C659.2 615.6 657.7 618.1 658.7 621.1C659.7 624 663.5 624.7 662.8 627.7C662 630.6 657.9 634.5 655.1 635.9C652.2 637.3 649.7 636.7 648.4 634.6C647 632.4 648.2 628.6 648.4 625.1C648.5 621.6 648.5 620.5 649.1 617C649.6 613.5 649.4 608.4 651.1 607.6Z" fill="#f4f4f4" stroke="#5a5a5a" stroke-width="0.45" stroke-linejoin="round"/>
<path d="M617.5 619.7C618 617 620.5 612.8 622.9 610.3C625.3 607.8 626.6 607.7 629.5 607.3C632.5 606.9 635.9 606.7 637.4 608.3C639 610 638.5 613.2 637.4 615.5C636.4 617.7 634.5 617.9 632.4 619.5C630.3 621.2 629.3 622.9 626.9 623.8C624.5 624.7 622.1 624.6 620.2 623.8C618.4 623 617 622.4 617.5 619.7Z" fill="#f4f4f4" stroke="#5a5a5a" stroke-width="0.45" stroke-linejoin="round"/>
<path d="M648.4 598.2C650 597.9 651.9 597.6 652.4 599.5C653 601.4 651.8 604.1 651.1 607.6C650.4 611.1 649.6 613.5 649.1 617C648.5 620.5 648.5 621.6 648.4 625.1C648.2 628.6 649.2 631.6 648.4 634.6C647.6 637.6 646.5 638.1 644.3 640C642.2 641.9 640.6 642.7 637.6 644C634.7 645.4 632.2 646.4 629.5 646.7C626.9 647 625.5 646.7 624.2 645.4C622.8 644 622.3 641.9 622.9 640C623.4 638.1 624.8 638.1 626.9 635.9C629.1 633.8 632 632.2 633.6 629.2C635.2 626.2 634.4 624.6 634.9 621.1C635.5 617.6 635.3 614.6 636.3 611.7C637.4 608.7 638.7 608.5 640.3 606.3C641.9 604.1 642.7 602.4 644.3 600.8C646 599.2 646.8 598.4 648.4 598.2Z" fill="#f4f4f4" stroke="#5a5a5a" stroke-width="0.45" stroke-linejoin="round"/>
<path d="M644.3 579.2C645.4 577.3 646.2 575.5 648.4 573.8C650.5 572.2 652.1 571.6 655.1 571.2C658 570.8 659.9 570.7 663.2 571.8C666.4 572.9 668.2 573.7 671.2 576.6C674.1 579.4 675.9 581.7 677.9 586.1C680 590.4 680.6 593.3 681.3 598.2C682 603 681.8 606.2 681.3 610.3C680.7 614.3 680.3 615.7 678.6 618.4C676.8 621.1 675.1 622.1 672.6 623.8C670 625.6 668.2 626.6 665.8 627.2C663.4 627.7 662 627.7 660.4 626.4C658.8 625.2 658.5 624.3 657.8 621.1C657.1 617.8 657.6 614.3 657.1 610.3C656.5 606.2 656.3 603.8 655.1 600.8C653.9 597.8 652.7 597.3 651.1 595.4C649.5 593.5 648.4 592.8 647.1 591.4C645.7 590.1 645.1 590.3 644.3 588.7C643.5 587.1 643 585.2 643 583.3C643 581.4 643.3 581.1 644.3 579.2Z" fill="#f4f4f4" stroke="#5a5a5a" stroke-width="0.45" stroke-linejoin="round"/>
<text x="663.8" y="597.3" font-size="5.1" fill="#4d4d4d" stroke="#4d4d4d">STRd</text>
<text x="638.4" y="617.8" font-size="5.1" fill="#4d4d4d" stroke="#4d4d4d">PAL</text>
<text x="666.6" y="636.4" font-size="5.1" fill="#4d4d4d" stroke="#4d4d4d">CTXsp</text>
<text x="654.3" y="645.3" font-size="5.1" fill="#4d4d4d" stroke="#4d4d4d">sAMY</text>
<text x="651.8" y="653.4" font-size="5.1" fill="#4d4d4d" stroke="#4d4d4d">STRv</text>
<path transform="scale(.5)" d="M1318 1240h2m-9 1h2m2 0h2m1 0h2m0 0h2m-13 1h2m0 0h2m-1 0h2m0 0h2m0 0h2m1 0h2m-1 0h2m-1 0h2m-14 1h2m1 0h2m-1 0h2m-1 0h2m2 0h2m1 0h2m-15 1h2m-1 0h2m-1 0h2m-1 0h2m0 0h2m-1 0h2m-1 0h2m-1 0h2m-1 0h2m-1 0h2m2 0h2m-16 1h2m0 0h2m-1 0h2m-1 0h2m-1 0h2m0 0h2m-1 0h2m-1 0h2m0 0h2m1 0h2m-17 1h2m0 0h2m0 0h2m-1 0h2m-1 0h2m0 0h2m-1 0h2m-1 0h2m-1 0h2m-1 0h2m0 0h2m-1 0h2m-16 1h2m2 0h2m-1 0h2m0 0h2m-1 0h2m-1 0h2m0 0h2m-1 0h2m0 0h2m-15 1h2m-1 0h2m2 0h2m-1 0h2m0 0h2m-1 0h2m1 0h2m-14 1h2m-1 0h2m1 0h2m-1 0h2m-1 0h2m0 0h2m1 0h2m-1 0h2m-11 1h2m-1 0h2m-1 0h2m0 0h2m-1 0h2m-1 0h2m-1 0h2m-1 0h2m-1 0h2m-13 1h2m0 0h2m-1 0h2m-1 0h2m-1 0h2m-1 0h2m0 0h2m0 0h2m-7 1h2" stroke="#1fbf80" stroke-width="2" fill="none"/>
<line x1="641" y1="598" x2="655" y2="617" stroke="#1fbf80" stroke-width="0.5"/>
<text x="630.8" y="599.5" font-size="5.2" fill="#231f20" stroke="#231f20" font-weight="bold">983</text>
</svg></body></html>
